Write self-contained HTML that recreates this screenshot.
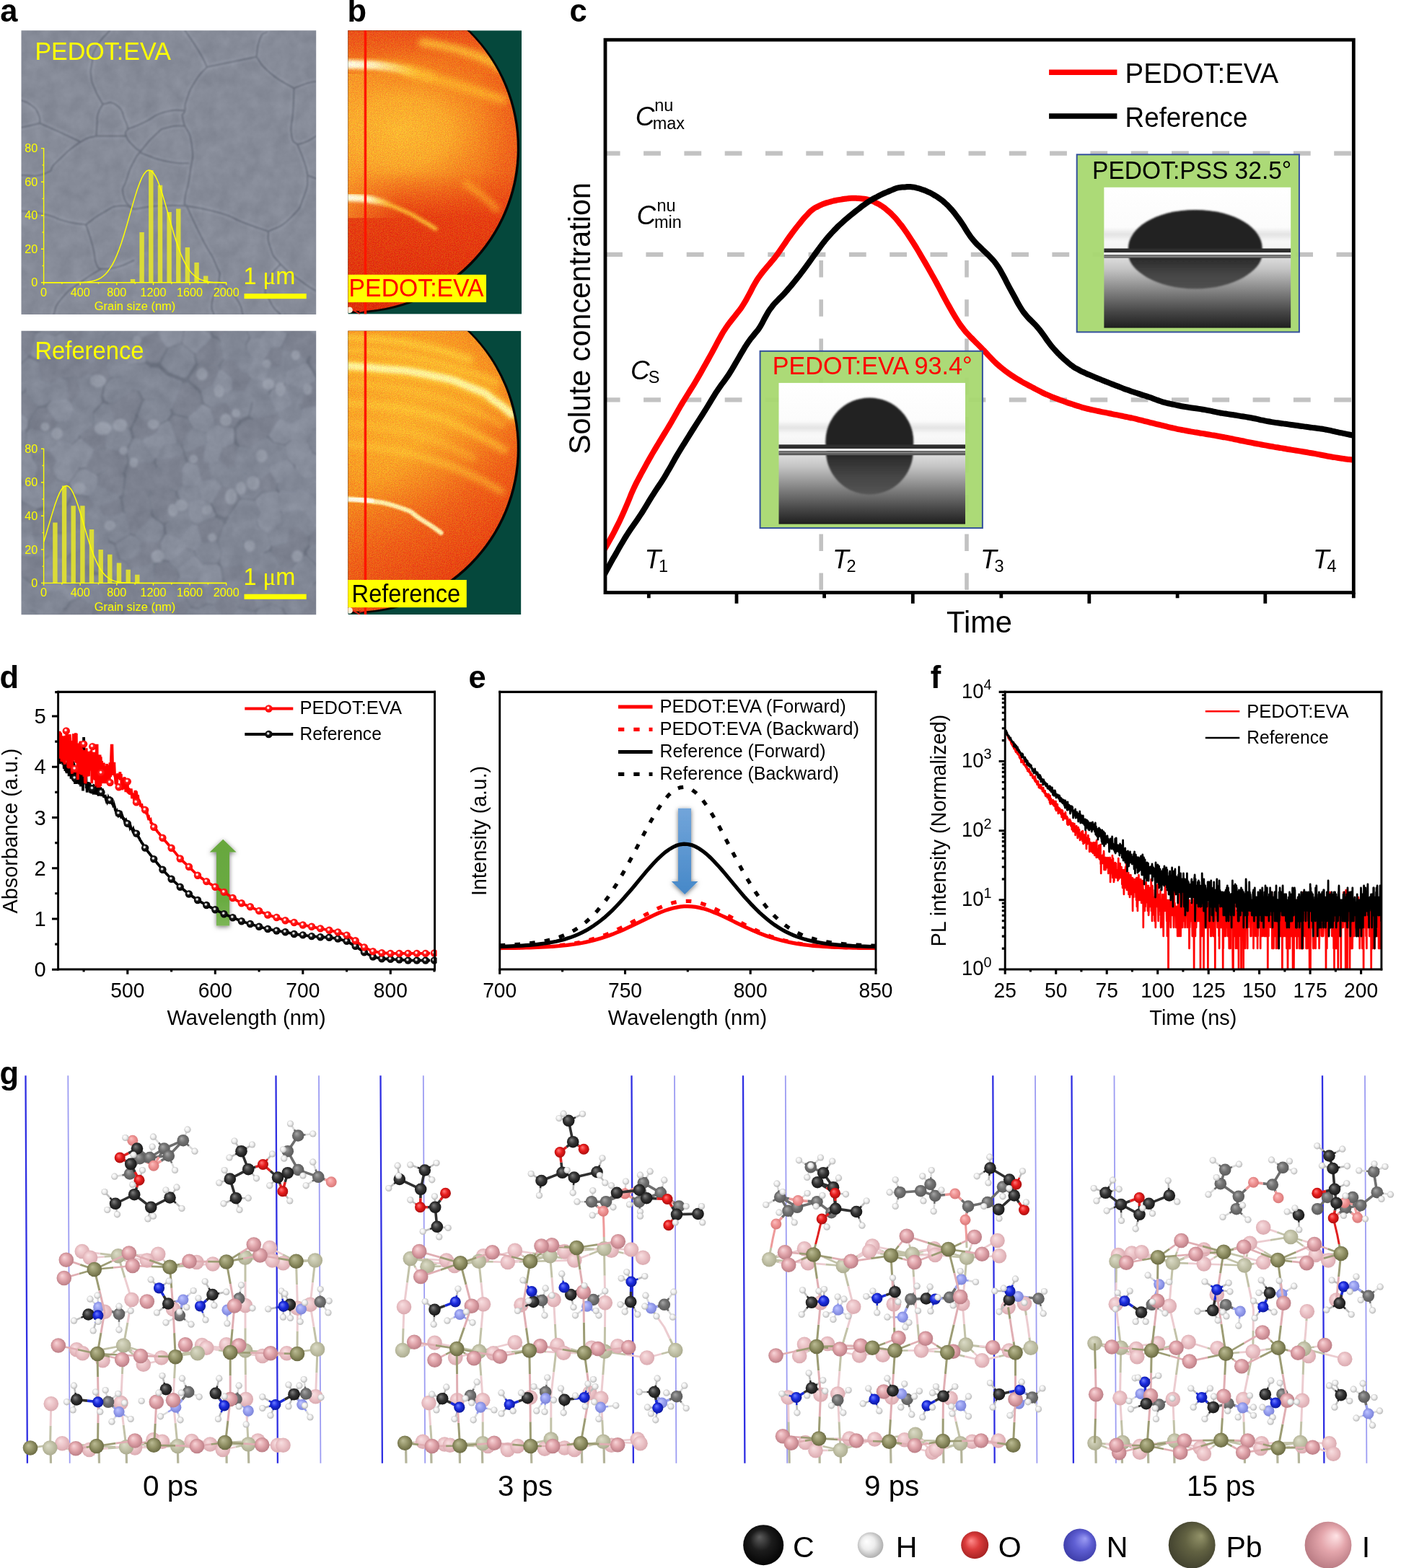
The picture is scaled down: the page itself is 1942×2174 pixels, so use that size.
<!DOCTYPE html>
<html lang="en"><head><meta charset="utf-8"><title>Figure</title>
<style>
html,body{margin:0;padding:0;background:#fff;}
svg{display:block;}
text{font-family:"Liberation Sans",sans-serif;}
</style></head>
<body>
<svg xmlns="http://www.w3.org/2000/svg" width="1942" height="2174" viewBox="0 0 1942 2174">
<rect width="1942" height="2174" fill="#fff"/>
<defs>
<filter id="blur1" x="-10%" y="-10%" width="120%" height="120%"><feGaussianBlur stdDeviation="0.8"/></filter>
<filter id="blur05" x="-5%" y="-30%" width="110%" height="160%"><feGaussianBlur stdDeviation="0.5"/></filter>
<filter id="blur3" x="-10%" y="-100%" width="120%" height="300%"><feGaussianBlur stdDeviation="3"/></filter>
<filter id="sh" x="-40%" y="-10%" width="180%" height="125%"><feDropShadow dx="0" dy="1.5" stdDeviation="3.2" flood-color="#000" flood-opacity="0.55"/></filter>
<radialGradient id="mkr" cx="0.42" cy="0.4" r="0.6"><stop offset="0" stop-color="#fff"/><stop offset="0.17" stop-color="#fff0f0"/><stop offset="0.36" stop-color="#ff2020"/><stop offset="1" stop-color="#f00"/></radialGradient>
<radialGradient id="mkb" cx="0.42" cy="0.4" r="0.6"><stop offset="0" stop-color="#fff"/><stop offset="0.17" stop-color="#e0e0e0"/><stop offset="0.38" stop-color="#181818"/><stop offset="1" stop-color="#000"/></radialGradient>
</defs>
<filter id="blur2" x="-5%" y="-5%" width="110%" height="110%"><feGaussianBlur stdDeviation="1.6"/></filter>
<filter id="semn" x="0" y="0" width="100%" height="100%" color-interpolation-filters="sRGB"><feTurbulence type="fractalNoise" baseFrequency="0.05" numOctaves="4" seed="4" result="n"/><feColorMatrix in="n" type="matrix" values="0.5 0 0 0 0.25  0.5 0 0 0 0.25  0.5 0 0 0 0.25  0 0 0 0 1" result="nc"/><feComposite in="SourceGraphic" in2="nc" operator="arithmetic" k1="0" k2="1" k3="0.16" k4="-0.08"/></filter>
<clipPath id="csa"><rect x="29.5" y="42.2" width="408.7" height="393.8"/></clipPath>
<g clip-path="url(#csa)"><g filter="url(#semn)">
<rect x="24.5" y="37.2" width="418.7" height="403.8" fill="#868b98" />
<path d="M152.3 42.1C146 50 141.7 50.4 133.4 65.7C125.1 81.1 129.9 74.8 127.5 88.2C125.1 101.5 125.1 94.5 126.3 105.9C127.5 117.3 126.7 111.4 131 122.4C135.4 133.4 135.4 131.7 139.3 139C143.2 146.2 141.7 142.4 142.9 144.2M256.3 42.1C262.6 51.5 264.9 53.5 275.2 70.4C285.4 87.4 283 85.4 287 92.9M287 92.9C300.4 90.1 304.3 89.3 327.1 84.6C350 79.9 346 80.7 355.5 78.7M355.5 78.7C357.1 70.4 355.5 65.3 360.2 53.9C364.9 42.5 366.5 47.6 369.7 44.5M355.5 78.7C361.8 86.2 357.1 86.6 374.4 101.2C391.7 115.7 396.4 115.3 407.5 122.4M407.5 122.4C413.8 120.1 416.1 118.5 426.4 115.3C436.6 112.2 434.2 113.8 438.2 113M407.5 122.4C407.1 132.7 407.5 131.9 406.3 153.1C405.1 174.4 402 170.5 403.9 186.2C405.9 202 409.4 195.7 412.2 200.4M412.2 200.4C416.9 198.8 417.7 199.6 426.4 195.7C435 191.7 434.2 190.9 438.2 188.6M412.2 200.4C415.3 208.3 416.9 209.8 421.6 224C426.4 238.2 424.8 236.6 426.4 242.9M426.4 242.9C430.3 244.5 434.2 246.1 438.2 247.6M287 92.9C281.5 99.6 279.9 97.6 270.4 113C261 128.3 263.3 125.6 258.6 139C253.9 152.3 257.8 143.7 256.3 153.1C254.7 162.6 250.7 151.6 253.9 167.3C257 183.1 262.6 176 265.7 200.4C268.9 224.8 266.5 215.3 263.3 240.5C260.2 265.7 257.8 261 256.3 276C254.7 290.9 257.8 282.3 258.6 285.4M258.6 285.4C273.6 288.6 276.7 287 303.5 294.9C330.3 302.8 316.1 300.4 339 309.1C361.8 317.7 361 316.9 372 320.9M372 320.9C382.3 314.6 386.2 318.5 402.7 302C419.3 285.4 413.8 290.9 421.6 271.3C429.5 251.6 424.8 252.4 426.4 242.9M372 320.9C372.8 328 368.9 327.2 374.4 342.1C379.9 357.1 374.4 350 388.6 365.8C402.7 381.5 400.4 376.8 416.9 389.4C433.5 402 431.1 398.8 438.2 403.6M142.9 144.2C149.2 144.8 151.5 138.3 161.8 146C172 153.8 168.5 156.3 173.6 167.3C178.7 178.3 175.9 175.2 177.1 179.1M177.1 179.1C184.6 176 182.6 177.5 199.6 169.7C216.5 161.8 209 161 227.9 155.5C246.8 150 246.8 153.9 256.3 153.1M177.1 179.1C176.3 182.3 172 180.7 174.8 188.6C177.5 196.4 178.7 195.7 185.4 202.7C192.1 209.8 191.7 207.5 194.8 209.8M194.8 209.8C201.9 202 203.5 197.2 216.1 186.2C228.7 175.2 219.2 180.7 232.6 176.8C246 172.8 248.4 175.2 256.3 174.4M194.8 209.8C197.2 211.4 189.3 209.8 201.9 214.6C214.5 219.3 212.9 220.1 232.6 224C252.3 227.9 251.5 225.6 261 226.4M194.8 209.8C191.7 214.6 191.7 211.4 185.4 224C179.1 236.6 180.7 231.9 175.9 247.6C171.2 263.4 168.1 257.1 171.2 271.3C174.4 285.4 180.7 283.9 185.4 290.2M185.4 290.2C197.2 288.6 196.4 287 220.8 285.4C245.2 283.9 246 285.4 258.6 285.4M29.5 176.8C36.5 175.2 42.1 174 50.7 172C59.4 170.1 53.9 171.2 55.4 170.9M55.4 170.9C54.7 166.5 57 166.1 53.1 157.9C49.1 149.6 51.5 152.3 43.6 146C35.8 139.7 34.2 141.3 29.5 139M55.4 170.9C63.3 174.4 61 173.2 79.1 181.5C97.2 189.8 99.5 190.9 109.8 195.7M142.9 144.2C140.5 148.7 138.5 148.6 135.8 157.9C133 167.1 135.4 161.8 134.6 172C133.8 182.3 133.8 183.1 133.4 188.6M133.4 188.6C147.2 188.6 161 188.6 174.8 188.6M133.4 188.6C125.5 191.7 127.9 186.2 109.8 198C91.7 209.8 94.8 209.8 79.1 224C63.3 238.2 79.1 234.2 62.5 240.5C46 246.8 40.5 242.1 29.5 242.9M29.5 292.5C40.5 294.1 42.1 292.5 62.5 297.3C83 302 72 302 90.9 306.7C109.8 311.4 109.8 309.9 119.2 311.4M119.2 311.4C127.1 305.9 127.1 303.6 142.9 294.9C158.6 286.2 152.3 287 166.5 285.4C180.7 283.9 179.1 288.6 185.4 290.2M119.2 311.4C122.4 321.7 124 324 128.7 342.1C133.4 360.3 129.5 355.5 133.4 365.8C137.3 376 138.1 370.5 140.5 372.9M140.5 372.9C147.6 372.1 146.8 374.4 161.8 370.5C176.7 366.6 177.5 364.2 185.4 361M140.5 372.9C131.8 378.4 132.6 376 114.5 389.4C96.4 402.8 99.5 397.5 86.2 413C72.8 428.5 78.3 428.3 74.3 435.9M258.6 285.4C265.7 300.4 266.5 303.6 279.9 330.3C293.3 357.1 290.9 346.1 298.8 365.8C306.7 385.5 305.1 372.1 303.5 389.4C301.9 406.7 296.4 402.2 294.1 417.7C291.7 433.3 295.6 429.9 296.4 435.9M303.5 389.4C311.4 397.3 316.1 397.5 327.1 413C338.2 428.5 333.4 428.3 336.6 435.9M388.6 365.8C382.3 375.2 374.4 376.8 369.7 394.1C364.9 411.4 368.1 403.8 374.4 417.7C380.7 431.7 383.8 429.9 388.6 435.9" fill="none" stroke="#9398a5" stroke-width="8" stroke-linecap="round" filter="url(#blur2)" opacity="0.6"/>
<path d="M152.3 42.1C146 50 141.7 50.4 133.4 65.7C125.1 81.1 129.9 74.8 127.5 88.2C125.1 101.5 125.1 94.5 126.3 105.9C127.5 117.3 126.7 111.4 131 122.4C135.4 133.4 135.4 131.7 139.3 139C143.2 146.2 141.7 142.4 142.9 144.2M256.3 42.1C262.6 51.5 264.9 53.5 275.2 70.4C285.4 87.4 283 85.4 287 92.9M287 92.9C300.4 90.1 304.3 89.3 327.1 84.6C350 79.9 346 80.7 355.5 78.7M355.5 78.7C357.1 70.4 355.5 65.3 360.2 53.9C364.9 42.5 366.5 47.6 369.7 44.5M355.5 78.7C361.8 86.2 357.1 86.6 374.4 101.2C391.7 115.7 396.4 115.3 407.5 122.4M407.5 122.4C413.8 120.1 416.1 118.5 426.4 115.3C436.6 112.2 434.2 113.8 438.2 113M407.5 122.4C407.1 132.7 407.5 131.9 406.3 153.1C405.1 174.4 402 170.5 403.9 186.2C405.9 202 409.4 195.7 412.2 200.4M412.2 200.4C416.9 198.8 417.7 199.6 426.4 195.7C435 191.7 434.2 190.9 438.2 188.6M412.2 200.4C415.3 208.3 416.9 209.8 421.6 224C426.4 238.2 424.8 236.6 426.4 242.9M426.4 242.9C430.3 244.5 434.2 246.1 438.2 247.6M287 92.9C281.5 99.6 279.9 97.6 270.4 113C261 128.3 263.3 125.6 258.6 139C253.9 152.3 257.8 143.7 256.3 153.1C254.7 162.6 250.7 151.6 253.9 167.3C257 183.1 262.6 176 265.7 200.4C268.9 224.8 266.5 215.3 263.3 240.5C260.2 265.7 257.8 261 256.3 276C254.7 290.9 257.8 282.3 258.6 285.4M258.6 285.4C273.6 288.6 276.7 287 303.5 294.9C330.3 302.8 316.1 300.4 339 309.1C361.8 317.7 361 316.9 372 320.9M372 320.9C382.3 314.6 386.2 318.5 402.7 302C419.3 285.4 413.8 290.9 421.6 271.3C429.5 251.6 424.8 252.4 426.4 242.9M372 320.9C372.8 328 368.9 327.2 374.4 342.1C379.9 357.1 374.4 350 388.6 365.8C402.7 381.5 400.4 376.8 416.9 389.4C433.5 402 431.1 398.8 438.2 403.6M142.9 144.2C149.2 144.8 151.5 138.3 161.8 146C172 153.8 168.5 156.3 173.6 167.3C178.7 178.3 175.9 175.2 177.1 179.1M177.1 179.1C184.6 176 182.6 177.5 199.6 169.7C216.5 161.8 209 161 227.9 155.5C246.8 150 246.8 153.9 256.3 153.1M177.1 179.1C176.3 182.3 172 180.7 174.8 188.6C177.5 196.4 178.7 195.7 185.4 202.7C192.1 209.8 191.7 207.5 194.8 209.8M194.8 209.8C201.9 202 203.5 197.2 216.1 186.2C228.7 175.2 219.2 180.7 232.6 176.8C246 172.8 248.4 175.2 256.3 174.4M194.8 209.8C197.2 211.4 189.3 209.8 201.9 214.6C214.5 219.3 212.9 220.1 232.6 224C252.3 227.9 251.5 225.6 261 226.4M194.8 209.8C191.7 214.6 191.7 211.4 185.4 224C179.1 236.6 180.7 231.9 175.9 247.6C171.2 263.4 168.1 257.1 171.2 271.3C174.4 285.4 180.7 283.9 185.4 290.2M185.4 290.2C197.2 288.6 196.4 287 220.8 285.4C245.2 283.9 246 285.4 258.6 285.4M29.5 176.8C36.5 175.2 42.1 174 50.7 172C59.4 170.1 53.9 171.2 55.4 170.9M55.4 170.9C54.7 166.5 57 166.1 53.1 157.9C49.1 149.6 51.5 152.3 43.6 146C35.8 139.7 34.2 141.3 29.5 139M55.4 170.9C63.3 174.4 61 173.2 79.1 181.5C97.2 189.8 99.5 190.9 109.8 195.7M142.9 144.2C140.5 148.7 138.5 148.6 135.8 157.9C133 167.1 135.4 161.8 134.6 172C133.8 182.3 133.8 183.1 133.4 188.6M133.4 188.6C147.2 188.6 161 188.6 174.8 188.6M133.4 188.6C125.5 191.7 127.9 186.2 109.8 198C91.7 209.8 94.8 209.8 79.1 224C63.3 238.2 79.1 234.2 62.5 240.5C46 246.8 40.5 242.1 29.5 242.9M29.5 292.5C40.5 294.1 42.1 292.5 62.5 297.3C83 302 72 302 90.9 306.7C109.8 311.4 109.8 309.9 119.2 311.4M119.2 311.4C127.1 305.9 127.1 303.6 142.9 294.9C158.6 286.2 152.3 287 166.5 285.4C180.7 283.9 179.1 288.6 185.4 290.2M119.2 311.4C122.4 321.7 124 324 128.7 342.1C133.4 360.3 129.5 355.5 133.4 365.8C137.3 376 138.1 370.5 140.5 372.9M140.5 372.9C147.6 372.1 146.8 374.4 161.8 370.5C176.7 366.6 177.5 364.2 185.4 361M140.5 372.9C131.8 378.4 132.6 376 114.5 389.4C96.4 402.8 99.5 397.5 86.2 413C72.8 428.5 78.3 428.3 74.3 435.9M258.6 285.4C265.7 300.4 266.5 303.6 279.9 330.3C293.3 357.1 290.9 346.1 298.8 365.8C306.7 385.5 305.1 372.1 303.5 389.4C301.9 406.7 296.4 402.2 294.1 417.7C291.7 433.3 295.6 429.9 296.4 435.9M303.5 389.4C311.4 397.3 316.1 397.5 327.1 413C338.2 428.5 333.4 428.3 336.6 435.9M388.6 365.8C382.3 375.2 374.4 376.8 369.7 394.1C364.9 411.4 368.1 403.8 374.4 417.7C380.7 431.7 383.8 429.9 388.6 435.9" fill="none" stroke="#646977" stroke-width="2.2" stroke-linecap="round" filter="url(#blur1)" opacity="0.8"/>
</g></g>
<text x="48.4" y="83.4" font-size="35.4" fill="#ffff00" textLength="188.5" lengthAdjust="spacingAndGlyphs">PEDOT:EVA</text>
<path d="M180.8 391.8h6.4V387.1h-6.4ZM193.4 391.8h6.4V322h-6.4ZM206.1 391.8h6.4V235.9h-6.4ZM218.8 391.8h6.4V256.8h-6.4ZM231.4 391.8h6.4V294h-6.4ZM244.1 391.8h6.4V289.4h-6.4ZM256.7 391.8h6.4V342.9h-6.4ZM269.4 391.8h6.4V363.9h-6.4ZM282 391.8h6.4V382.5h-6.4Z" fill="#e6e62a" fill-opacity="0.88"/>
<path d="M60.6 391.8 63.8 391.8 66.9 391.8 70.1 391.8 73.3 391.8 76.4 391.8 79.6 391.8 82.7 391.8 85.9 391.8 89.1 391.8 92.2 391.8 95.4 391.8 98.6 391.8 101.7 391.7 104.9 391.7 108.1 391.6 111.2 391.6 114.4 391.4 117.5 391.2 120.7 391 123.9 390.6 127 390 130.2 389.3 133.4 388.3 136.5 387 139.7 385.3 142.9 383 146 380.2 149.2 376.7 152.3 372.4 155.5 367.3 158.7 361.2 161.8 354.1 165 346.1 168.2 337.1 171.3 327.3 174.5 316.8 177.7 305.8 180.8 294.5 184 283.4 187.2 272.6 190.3 262.7 193.5 253.9 196.6 246.5 199.8 240.9 203 237.3 206.1 235.9 209.3 236.6 212.5 239.6 215.6 244.5 218.8 251.3 222 259.7 225.1 269.3 228.3 279.9 231.4 290.9 234.6 302.2 237.8 313.3 240.9 324 244.1 334.1 247.3 343.3 250.4 351.7 253.6 359 256.8 365.4 259.9 370.9 263.1 375.5 266.2 379.2 269.4 382.2 272.6 384.6 275.7 386.5 278.9 387.9 282.1 389 285.2 389.8 288.4 390.4 291.6 390.9 294.7 391.2 297.9 391.4 301 391.5 304.2 391.6 307.4 391.7 310.5 391.7 313.7 391.8" fill="none" stroke="#ffff00" stroke-width="1.5" stroke-linejoin="round"/>
<path d="M60.6 205.1V391.8M57.6 391.8H313.7M60.6 391.8h-3.6M60.6 345.2h-3.6M60.6 298.7h-3.6M60.6 252.2h-3.6M60.6 205.6h-3.6M60.6 368.5h-2M60.6 322h-2M60.6 275.4h-2M60.6 228.9h-2M60.6 391.8v3.4M111.2 391.8v3.4M161.8 391.8v3.4M212.5 391.8v3.4M263.1 391.8v3.4M313.7 391.8v3.4M85.9 391.8v2M136.5 391.8v2M187.2 391.8v2M237.8 391.8v2M288.4 391.8v2" stroke="#ffff00" stroke-width="1.4" fill="none"/>
<text x="52.2" y="397.4" font-size="16.2" text-anchor="end" fill="#ffff00">0</text>
<text x="52.2" y="350.9" font-size="16.2" text-anchor="end" fill="#ffff00">20</text>
<text x="52.2" y="304.3" font-size="16.2" text-anchor="end" fill="#ffff00">40</text>
<text x="52.2" y="257.8" font-size="16.2" text-anchor="end" fill="#ffff00">60</text>
<text x="52.2" y="211.2" font-size="16.2" text-anchor="end" fill="#ffff00">80</text>
<text x="60.6" y="410.8" font-size="16.2" text-anchor="middle" fill="#ffff00">0</text>
<text x="111.2" y="410.8" font-size="16.2" text-anchor="middle" fill="#ffff00">400</text>
<text x="161.8" y="410.8" font-size="16.2" text-anchor="middle" fill="#ffff00">800</text>
<text x="212.5" y="410.8" font-size="16.2" text-anchor="middle" fill="#ffff00">1200</text>
<text x="263.1" y="410.8" font-size="16.2" text-anchor="middle" fill="#ffff00">1600</text>
<text x="313.7" y="410.8" font-size="16.2" text-anchor="middle" fill="#ffff00">2000</text>
<text x="187" y="430.1" font-size="16.8" text-anchor="middle" fill="#ffff00" textLength="112.7" lengthAdjust="spacingAndGlyphs">Grain size (nm)</text>
<text x="337.5" y="394.1" font-size="32.5" fill="#ffff00">1 <tspan font-family="'Liberation Serif','DejaVu Serif',serif" font-size="33">μ</tspan>m</text>
<rect x="338.5" y="407.1" width="86.2" height="7.1" fill="#ffff00" />
<clipPath id="csb"><rect x="29.5" y="458.7" width="408.7" height="393.6"/></clipPath>
<g clip-path="url(#csb)"><g filter="url(#semn)">
<rect x="24.5" y="453.7" width="418.7" height="403.6" fill="#6b717f" />
<g filter="url(#blur2)" stroke-linejoin="round" stroke-width="7">
<path d="M48.3 564.4L33.6 547.6L26.5 550L21.9 567.6L38.3 579ZM82.1 522.1L74.6 501.6L72.2 500.4L56.1 503.5L59 524L68.9 529.1ZM379.3 764.2L390 779.6L403.5 781.8L417.5 767.8L417.5 765L397.9 755.1L381.1 760.3ZM334.4 614.9L347.3 618.4L366.5 605.8L348.5 585.6L346 584.5L337.6 588L331.3 596.4L331.7 611.6ZM170.5 628.8L148.4 625.1L147.6 625.7L148.3 649.5L168.5 652.5L173.6 639.5ZM101.2 796.3L95.4 794L93.7 778L99.4 772.6L99.9 772.5L122.8 784.6L125.7 793L124.8 793.5ZM216.6 800.7L217.2 786.3L217.4 785.9L225.1 780.7L233 782.9L242.6 793.1L244.1 798.5L239.9 808.2L233.8 809.8L218.2 803.8ZM276.1 811.1L261.2 828.4L267.4 837.9L274.6 839.3L284.7 834.2L282.3 815.1ZM324.7 500.7L313 501.4L308.5 508L309.9 512.1L321.4 521.8L335.1 515.2ZM47.5 708.3L29.8 699.2L-6.5 727L39.1 721.1ZM253 831.9L231.6 842.5L246 858.2L260.7 842.2L254.5 832.7ZM312.7 826.6L298.2 838.6L313 856.6L327.1 842L324.5 834.8ZM39.2 489.2L38.1 489.4L-134.1 351.9L45.7 463.1ZM313.6 712.2L328.1 690.9L324.7 683.6L307.7 676L296.8 696.5L303.2 709.7L311.1 713.8ZM199.7 607.5L214.7 600.5L218.4 589.8L193.1 581.5L186.4 595.2L189 604.4ZM53.8 649.5L49.3 665L60.8 674.1L76 664.5L70.5 652.1ZM312 561.5L294.7 566.8L300 585.6L322.1 589.5L328.3 581.1ZM381.9 574.8L353.5 581.2L371.5 601.3L372.1 601.5L385 582.1ZM331.3 832.3L333.9 839.5L350.8 843.5L351.9 843.2L354.2 840.6L349.6 819.5L342.4 816.3ZM440.8 733L432.7 743.5L432.1 754.3L601.3 737.2L464.6 726.5ZM244.2 677.5L251.5 669.5L251.6 649.4L230.9 655.2L239.2 674.6ZM207.7 717.9L188 738.2L182.9 736.9L176.6 713.1L206.1 714.6ZM259.9 628.2L262.9 636.5L272.7 639.7L281.8 636.7L284.7 616.1L284.5 615.8L259.9 626.5ZM38.1 798.8L43.4 803.3L54.5 804.4L59.3 797.8L59.9 776.8L47.3 774.3L45 775.3ZM158.9 558L186.4 571.1L193.1 554.5L188.4 545.9L180.7 543.5ZM219.4 640.5L221.3 646.3L229.7 650.9L250.4 645.1L254.2 639.7L251.2 631.3L220.5 637.5ZM-8.3 666.7L25.4 679.3L33.5 668.2L24.2 657.8ZM426.6 456.8L429.3 433L422 395.2L402.7 461.1L418.8 463.9ZM240.9 688.2L213.8 703.5L210 688.1L212.4 683.8L235.1 681.5L240.1 684.4ZM196.9 471.5L197.7 470.2L216.8 463.2L227.9 481.6L218.1 499.8L210.4 499.8L205.8 497.2ZM305.8 726.8L305.6 724.6L297.6 720.6L274.5 729.3L280.4 749.3L297.9 747.7ZM210.2 803.9L189.6 808.3L203.6 827.1L211.8 807.1ZM-10.4 672.5L23.3 685.1L26.2 694.5L-10.1 722.3L-37 734.1L-393.7 735.7L-473.6 681.2L-44.2 668.8ZM421 563.7L487.6 552.8L438.4 531.8L425 539.6L418 559.7ZM165 848.6L152.1 1056.4L126.3 883.6L134.7 844.7L144.3 839.8L152 840.1ZM107.9 833.7L100.7 837L95 845.4L118.5 881.9L126.9 843L112 833.6ZM412.6 731.9L424.7 743L424.1 753.8L420.5 759.1L400.9 749.2L402.4 733.5ZM234.6 676.5L226.3 657.1L217.9 652.6L209.6 666.5L211.9 678.9ZM58.2 711.3L71.5 737.5L67.3 741.5L47.8 741.1L47.6 740.9L45.4 725.2L53.8 712.4ZM93.2 528.8L94.3 551.5L99.9 554.7L110.9 542.5L106.3 529.3L100.9 527.1ZM144.4 601.1L130 592.8L115.7 604.7L115.3 607.1L130.1 619.6L142.4 618.8L143.3 618.2ZM461 479.8L468.7 478.7L816.3 514.8L855.8 549.5L628.5 555.1L519.2 547.4L492.6 541.1L443.4 520.1L432.5 502.1L432.5 500.2L434.2 496ZM182.3 642.8L177.2 655.8L178.4 659.2L203.9 663.1L212.2 649.2L210.4 643.4ZM114 457.6L96 447.7L89.6 461.3L105.7 477.3L111.3 473.2ZM301.4 503.2L276.7 501.8L274.9 490.6L294.3 471.4L300.3 473.9L302 476.4L305.8 496.5ZM425 492.2L423.3 496.5L396.5 484.8L394.6 481.3L401.2 468.2L401.4 468L417.6 470.8ZM397.5 459.6L397.2 459.7L379.8 448.1L370.2 417.2L377 74.7L411.8 114.9L416.9 393.7ZM164.4 685.3L166.4 682.6L168.7 662.7L167.5 659.4L147.3 656.4L138.9 661L138.8 672.5L162.9 685.1ZM70.4 593.7L75.3 585.2L63.2 567.7L54.8 568.9L44.8 583.5L44.2 591.6L62.5 596.7ZM435.8 813L426.5 825.9L430.1 833.7L440.9 839.3L461.5 806.6L451.3 805ZM30.7 797L1.4 765.4L40.7 774L33.8 797.6ZM203 689.9L175.3 689.2L173.3 691.9L175.6 706.7L176.9 707.9L206.3 709.4L206.8 705.2ZM242.4 566L255.6 533.8L259 533.2L273.4 545.7L276.7 559.1L259.7 574.4L243.7 570.4ZM242.4 690.9L244.6 694.5L233 718.9L228.4 722.1L216.5 713.6L214.9 710.3L215.4 706.2ZM103.7 520.4L107.4 497L123.9 504.7L122 517.4L109.1 522.6ZM181.2 845.3L202 842.8L205.7 845.7L205.1 1117.3L192.2 1325.7L176.9 1303.9L162.1 1057.1L175 849.2ZM237.4 429.1L257.2 453.6L271.6 449.9L303.1 12.8L240.4 -81.6L228.4 -61.6L230.5 388.4ZM236.9 585.7L241.6 579.3L257.6 583.2L263.3 594.3L251.2 612.9L245.3 609.4ZM341.3 520L337 519.3L323.4 525.9L324 538.9L338.4 541L345.2 525.7ZM323.6 644.6L326.4 621.4L323.7 618.2L308.6 624.3L304.4 637.9L315.5 647.1ZM334 785L339.2 793.3L335.8 802.9L314.6 803.7L313 802L311.1 787.8ZM316 24.8L305.7 402.8L291.3 458L276.4 450.2L307.9 13.1ZM294.3 532.3L302.3 514.6L301 510.5L276.2 509.1L265.8 525.5L280.1 538.1ZM283.8 642.8L274.7 645.9L280.3 664.6L293.3 662.6L290 644.7ZM209.2 781.7L183.9 786.8L178.2 778.5L193.3 767.4L209.5 781.3ZM115.4 719.8L98.1 703.6L97.2 701.5L103.7 690.2L120.2 692.2L126.1 701.7ZM203.1 684.4L175.4 683.7L177.8 663.8L203.2 667.6L205.5 680ZM186.7 447.4L211.9 388.4L209.8 -61.5L133.7 48.1L150.3 364.5L164.7 445ZM144 713.8L136.8 702.9L162.1 693.2L163.6 693.4L165.9 708.2L154.5 715.2ZM91.5 521.4L87.3 520.2L79.8 499.6L101.7 494.3L103 496.2L99.3 519.7ZM161.4 588.8L152.3 562.6L156.7 562.6L184.2 575.6L184.4 577.2L177.6 590.9ZM150.9 521.5L142.7 530L127.3 518.2L129.2 505.5L130.8 504.6L146.2 508.4ZM310.9 404.1L320.3 451L304.2 464.6L298.1 462.1L296.6 459.3ZM387.5 506.3L373.8 506.7L367.9 498.3L376.4 485.6L388 484.8L389.8 488.3ZM112.7 727.7L109.9 731.8L91 736.6L89 735.6L94.6 707.3L111.9 723.5ZM176.2 837.2L176.6 810.3L163.2 812.3L157 832.5L169.9 841ZM368.2 875L359.4 1251.1L281.3 1350.2L314 933.1L314.4 931.6L352.9 852.7L354.1 852.5ZM380.3 676.5L380.7 669.2L372.4 654.6L357.2 665.5L362.8 679.8ZM212.2 778.1L219.8 773L218.2 753.5L196.7 752.7L196.1 764.3ZM186.9 810.3L182.6 808.8L180.7 810.4L180.2 837.2L201 834.8L200.8 829.2ZM69.4 627.2L76 637.8L71.4 646.7L54.6 644.1L50 636.3L49.9 632.2L63.3 625.4ZM107.6 825.5L101.9 801.9L125.5 799.1L111.7 825.4ZM377.5 805.5L377.3 803.9L388.9 786.7L402.3 788.9L403.8 796.6L398.7 810.1L379.6 808.1ZM152.4 831.1L144.7 830.8L135.8 799.8L145.1 798.8L158.7 810.9ZM129 761.9L125 780.5L102 768.5L118.6 756.2ZM153.3 492.3L140.8 480.5L139.3 481.4L131.8 500.5L147.2 504.2ZM112.7 885.7L138.5 1058.5L153.3 1305.3L68.3 1205.3L66.8 867L87.2 849.3L89.2 849.1ZM63.8 708.5L63.9 708.4L90.1 704.5L91 706.6L85.4 734.9L77 734.8ZM130.5 626.6L121.4 646.8L135.2 654.3L143.6 649.7L142.8 625.9ZM413.7 857.4L445.8 859.9L438.1 844.7L427.3 839.1ZM341.9 805L345.2 795.4L357.2 793.7L369.1 804.7L369.3 806.3L352 814.2L344.8 810.9ZM457.6 474.1L431.1 461.7L423.3 468.9L430.8 490.2Z" fill="#7b818f" stroke="#7b818f"/>
<path d="M32 537L23 512.8L-54 521.2L23.8 542.1L30.9 539.7ZM143.4 718.2L134.9 729.6L149 742.3L153.9 719.7ZM319.5 547.7L316.7 557.6L333 577.2L341.5 573.7L345 557.9L337.6 546.8L323.1 544.7ZM371.2 810.7L354 818.6L358.6 839.7L373.4 834.2L373.4 813.2ZM220.2 584.3L228.9 579.9L233.6 573.4L232.3 569L213.7 557.5L201.5 557.9L194.8 574.5L194.9 576ZM72.8 599.9L81.9 612.5L71 622.2L64.9 620.3L64.9 602.9ZM329.6 645.3L339.8 652.6L340.8 652.5L353 638.7L345.3 625.7L332.4 622.2ZM76.4 597.2L81.4 588.7L93.1 587.3L106 603.4L105.6 605.7L97.5 612.8L85.6 609.9ZM372.8 450.3L363.1 419.4L346.4 458.2L349 465.4L361.9 465.8ZM211.1 721.2L191.4 741.5L196.9 747.3L218.4 748.1L224.1 739.3L223 729.7ZM374.1 738.6L390.1 725.9L397.5 733L395.9 748.7L379.1 753.9ZM342.4 756.9L344.3 759.3L364 762.6L370.3 760.1L372 756.2L367.1 740.8L357.7 734.8L341.9 749.9ZM343.2 766L362.8 769.3L356.5 788.4L344.5 790.1L339.3 781.7ZM125.5 587.3L111.1 599.2L98.2 583.2L104.8 569.9L125.9 573.8ZM396.5 843.1L407.7 827.2L420.3 828.7L424 836.6L410.3 854.9L409.6 855.2L398.7 848.3ZM164.9 487.6L171.4 473.4L158.1 461.8L147.3 468.3L144.6 476.5L157.1 488.3ZM137.4 546.4L115.7 540.8L111.1 527.6L124 522.4L139.5 534.3ZM344.6 655.9L355.4 663L370.5 652.1L370.4 648.5L366.1 643.7L356.8 642.1ZM176.7 738.5L159.7 748.8L154.2 746.4L152.9 743.1L157.8 720.6L169.2 713.5L170.5 714.7ZM140.3 832.1L130.7 837L115.9 827.6L129.6 801.3L130.5 800.7L131.5 801ZM236 486L251.2 480.4L265.4 492L267.2 503.3L256.7 519.7L253.3 520.3L236.5 513.6L226.2 504.2ZM429.8 611.7L435.8 623.6L445.9 628L626.8 579.5L517.5 571.9L435.8 598.7ZM83.4 845L63 862.6L52.3 847.2L63.8 832.2ZM376.1 841.3L388.3 846.6L390.6 851.8L373.1 871.9L359 849.4L361.2 846.8ZM341.3 468.1L337.8 474.8L309.4 471.2L307.6 468.7L323.7 455.1L338.7 460.9ZM127 568.1L105.9 564.2L103.4 557.9L114.4 545.7L136.2 551.3L137.8 556.4ZM29.3 805L-16.4 831.7L-8.2 832.8L31.6 823.8L37.7 810L32.4 805.5ZM453.3 792L463.6 793.6L848.7 758.1L862.8 746.8L601.9 742.7L432.7 759.7L429 765L429 767.8ZM379.1 813.2L398.2 815.2L402.6 823.6L391.4 839.5L379.2 834.2ZM232.8 728.5L233.9 738.1L250.4 744.9L264.9 727.5L261.9 724.8L237.4 725.3ZM308 809.4L306.4 807.6L287.3 814.5L289.6 833.6L294.8 834.4L309.2 822.4ZM190.8 764L191.5 752.4L186 746.6L180.8 745.3L163.8 755.6L168.8 771.8L175.6 775ZM303 765.1L299.9 777.6L283.4 778L275.2 769.7L273.4 763.9L280.9 754.9L298.4 753.2ZM166 518.8L176.2 505.4L165.5 493.8L157.7 494.6L151.6 506.4L156.3 519.6ZM24.9 647.2L23.1 653.8L-9.4 662.7L-43.1 659L15.6 639.5ZM272.8 848.1L265.6 846.7L250.8 862.7L221.5 1118.4L208.5 1326.7L241 1379.9L262.2 1348.7L295 931.6ZM389.7 678.4L407.5 678.6L411.5 675.7L416.3 663.8L407.4 652.8L388.6 669.6L388.2 676.9ZM293.5 842.4L308.3 860.5L300.8 928.6L300.5 930.1L278.3 846.7L288.4 841.6ZM144.1 789.5L160.5 774.4L155.5 758.1L150 755.7L134.9 763.2L130.9 781.8L133.8 790.2L134.8 790.5ZM76.8 743.2L85.2 743.4L87.2 744.3L93.7 766.6L88 772L69.8 768.6L72.7 747.2ZM36.7 535.2L27.7 511L40.3 500.2L41.4 500L49.8 504.4L52.7 524.9ZM250.3 686.2L252.5 689.9L261.3 694.7L277.5 690L274.3 673.3L256.8 674.4L249.5 682.4ZM66.6 553.1L62 558.6L53.6 559.8L38.9 543L40 540.3L56 530L65.9 535ZM444.3 841.5L465 808.8L850.1 773.3L607.1 996.9L452.1 856.7ZM197.7 614.2L211.5 634L211.5 634.4L210.5 637.4L182.4 636.9L179.3 626.2L187 611.1ZM85.5 465.4L78.1 468.7L76.1 492.7L78.4 493.9L100.3 488.5L101.6 481.4ZM387.6 511.2L373.9 511.5L368.9 525.6L376.6 535.8L389.9 531.9L391.9 529.6L393.1 517.4ZM432.1 805.7L410.7 795.3L409.3 787.6L423.3 773.6L447.5 797.8ZM417.5 678.1L434.7 689.1L446.7 675.9L436.9 665.6L422.3 666.2ZM332.2 846.9L349.1 850.8L310.5 929.7L318 861.5ZM357.9 635.8L367.2 637.4L375.6 615.7L370 610.3L369.4 610.2L350.2 622.8ZM334.5 757.5L310 762.5L305.4 750.5L313.3 729.7L334 750.5ZM45.9 851.6L41.9 850.9L30.2 855.2L31.7 1177.5L58.1 1205.4L56.6 867.1ZM116.2 453.5L98.3 443.5L94.3 380.8L116.5 52.9L119.7 48.8L136.3 365.3L125 449.8ZM171.2 522.6L182.9 536.3L190.6 538.6L204.5 510L199.9 507.4L181.3 509.3ZM22.1 504.6L34.7 493.7L-137.6 356.2L-157.8 342.3L-329.9 495.9L-54.9 512.9ZM79.3 669.7L91.2 673.8L95.5 685.5L89 696.8L62.7 700.7L64.2 679.4ZM82.2 457.7L74.7 461L58.8 456.5L84.6 381.4L88.6 444.2ZM413.4 861.5L445.5 863.9L600.5 1004.1L424.6 1193.6L412.6 861.8ZM-32.1 584.5L17.4 566.4L22 548.9L-55.8 527.9L-330.8 510.9L-420.1 579L-35.7 584.9ZM442.7 660.2L448.4 637.5L629.3 589.1L856.6 583.4L968.1 655.1L867.7 719.2L452.4 670.5ZM258.5 623.2L283.1 612.5L281.6 602.3L267.8 597.2L255.7 615.8ZM408.5 820.5L421.1 822L430.4 809.1L409.1 798.6L404 812.1ZM196.5 541.5L201.2 550.2L213.4 549.8L228.4 522.3L218.2 512.9L210.4 512.9ZM314.8 808.8L336 808L339 813.9L327.8 830L316 821.8ZM131.5 733.4L119.6 732.3L116.8 736.4L121.4 751.1L131.8 756.8L146.9 749.3L145.6 746.1ZM31 617L32.1 600L-30.7 595.8L-34.3 596.3L21.6 620.2ZM335.5 762.1L337.3 764.6L333.5 780.3L310.5 783.1L307.8 779.5L310.9 767.1ZM439.3 693.3L438.3 699.2L465.4 716.4L602.1 727.2L863 731.3L866.6 728.8L451.3 680.1ZM373.5 768.2L384.2 783.6L372.7 800.8L360.9 789.8L367.2 770.7ZM179.3 607.2L176.7 598L160.5 595.9L150.6 601.5L149.5 618.6L171.6 622.3ZM265.7 766.4L255.7 762.5L238.3 777.9L247.9 788.1L267.6 772.1ZM93.8 832.3L83.9 819L66.1 821L66.5 828.1L86 840.9L88 840.6ZM60.8 602.9L42.5 597.8L40.1 600.5L39 617.5L47.3 627.1L60.8 620.3ZM32.5 827.6L39.5 844.4L27.9 848.7L-7.4 836.6ZM325.6 651L335.8 658.3L327.3 678L310.2 670.4L309.2 668.1L317.4 653.5ZM357.4 417L364.3 74.5L326.7 25.1L316.4 403.1L325.7 449.9L340.7 455.7ZM217.2 551.8L232.2 524.4L249 531.1L235.8 563.3ZM355.9 710.7L352.7 720.3L320.4 716.8L334.9 695.5L350.7 696.9ZM396.3 537.5L405.3 556L413.6 558.1L420.6 538.1L398.2 535.3ZM438.5 431.3L431.3 393.4L426.2 114.7L817.6 502.4L470 466.2ZM53.6 813.2L58.6 821.4L59 828.5L47.5 843.5L43.5 842.7L36.5 826L42.5 812.1ZM273.3 808.7L258.4 826L256.9 825.1L247 811.3L251.3 801.7L270.9 803.5ZM415.7 728.5L427.8 739.7L435.9 729.2L423.8 712.6L421.7 712.8ZM118.3 458.3L115.6 473.9L135.6 474.9L137 474L139.8 465.8L127 454.6ZM394.3 855.1L405.2 862.1L417.2 1193.9L368 1251.3L376.9 875.2ZM126.2 499.7L127.8 498.9L135.3 479.8L115.4 478.9L109.8 482.9L108.5 490L109.7 492ZM338.3 746.2L354.1 731L352.2 725.1L319.8 721.5L317.4 723.2L317.6 725.4ZM241.7 815.1L235.6 816.7L225.1 837.7L230.1 839.5L251.6 828.9ZM342.3 513.9L338 513.1L327.7 498.6L340.5 488.1L349.6 499.1ZM116.1 752.8L111.5 738L92.5 742.8L99 765L99.5 765ZM47.7 746.1L48.8 767L61.4 769.6L64.4 767.8L67.2 746.5ZM393.7 712.4L394.3 721.5L401.7 728.7L411.8 727L417.9 711.4L412.4 708.6ZM219.8 633.5L227.5 617.8L241.9 615.3L247.8 618.7L250.6 626.1L250.5 627.8L219.8 634ZM324.4 494.6L312.7 495.3L308.9 475.1L337.3 478.7L337.2 484.1ZM20 624L-36 600.1L-420.3 594.1L-502.9 649.4L-474 667L-44.6 654.5L14.1 635ZM388.4 571.5L388.3 572.1L391.4 579.4L402.8 584.7L413.6 578.8L415 568.2L412 564.2L403.7 562ZM-32.8 743.7L-5.9 731.9L39.7 726L41.9 741.6L-3.3 752.5ZM-286.4 863.3L27.1 1177.6L25.6 855.2L-9.6 843.1L-17.8 842ZM189.3 467L190 465.7L186.3 451L164.3 448.5L162.1 457.2L175.4 468.9ZM349.9 527.8L343.2 543.1L350.6 554.2L369.1 544.5L371 540L363.3 529.9ZM312.5 650.7L304.3 665.3L296.5 662L293.3 644.1L301.4 641.5ZM421.5 500.6L394.7 488.9L392.4 506.9L397.9 513.1L421.6 502.5ZM248.8 696.6L257.7 701.4L261.8 720.4L237.3 720.9ZM160.6 689.5L136.5 676.8L126.3 688.5L132.1 698L135.4 699.1ZM152.2 554.7L156.6 554.6L178.4 540.1L166.7 526.5L156.9 527.3L148.7 535.8L146.7 547.9L148.3 553ZM177.8 791L177.7 803.1L175.8 804.7L162.4 806.7L148.9 794.6L165.2 779.5L172.1 782.7ZM350 575.6L352.5 576.7L380.9 570.3L381 569.8L372.1 550.1L353.5 559.9ZM140.5 716.1L133.3 705.2L130.1 704.1L119.4 722.1L120.1 726.3L132.1 727.4ZM313 545.9L296.5 537.8L282.3 543.5L285.6 556.8L293 561L310.2 555.7ZM209.5 800.4L210.1 786L184.8 791.1L184.6 803.2L188.9 804.8ZM147.4 595.9L133.1 587.6L133.5 574.1L144.3 562.4L148.2 564.1L157.3 590.3ZM89.3 529L85.1 527.8L71.9 534.8L72.7 552.9L90.4 551.7ZM130.6 450.5L142 366L156.4 446.5L154.2 455.2L143.3 461.7ZM375.6 643.9L395.9 636.5L392.3 620.4L379.7 617.3L371.3 639ZM351.5 688.8L335.6 687.4L332.2 680.2L340.8 660.4L341.7 660.3L352.5 667.4L358 681.6ZM216.3 808.9L231.9 814.9L221.4 835.8L212 837.4L208.2 834.5L208 829Z" fill="#818795" stroke="#818795"/>
<path d="M288.2 464L289.7 466.8L270.4 486L256.1 474.3L258.9 460L273.3 456.3ZM90.8 557.5L73.1 558.7L68.4 564.2L80.5 581.6L92.2 580.2L98.8 566.9L96.4 560.7ZM392.2 539.5L401.2 558L385.9 567.5L377 547.9L378.9 543.4ZM306 618L290.4 611.7L290.2 611.5L288.7 601.3L298.7 592.7L320.8 596.6L321.2 611.9ZM362.7 708.2L385.4 707.1L383.2 685.4L381.7 683.9L364.1 687.1L357.5 694.4ZM400.4 607.7L394.2 612.5L381.6 609.5L376.1 604.1L388.9 584.7L400.3 590ZM423.8 507.4L434.6 525.4L421.2 533.2L398.9 530.3L400.1 518ZM270.3 647.2L260.5 644L256.7 649.5L256.5 669.6L274 668.4L275.8 665.9ZM362.9 713L359.8 722.6L361.7 728.6L371.1 734.7L387 722L386.4 712.9L385.6 712ZM459.6 469.9L467.2 468.8L435.8 433.8L433.1 457.5ZM433.4 591.4L515.1 564.6L488.5 558.2L421.9 569.1L420.5 579.7ZM41.4 636.4L27 644.7L17.7 636.9L23.6 625.9L33 622.7L41.3 632.3ZM268.3 759.7L258.4 755.8L253.6 747.6L268.1 730.2L270 730.6L275.8 750.7ZM131.6 661L131.4 672.4L121.2 684.1L104.7 682.1L100.4 670.4L111.9 654.2L117.8 653.5ZM-30.3 589.5L19.3 571.4L35.6 582.8L35 591L32.5 593.6ZM54.2 454.9L80 379.8L102.2 51.9L-150.1 331L-129.8 344.9L50.1 456.1ZM281.4 564.3L264.5 579.6L270.2 590.7L284 595.8L294 587.2L288.8 568.4ZM222.7 844.1L213.4 845.7L212.8 1117.4L242.1 861.7L227.8 846ZM220.3 602.4L223.9 591.7L232.6 587.2L241.1 610.9L226.8 613.4ZM302.8 788.9L304.8 803.1L285.6 810L279.3 806L277 800.7L283.6 785.8L300.2 785.4ZM222.1 460L231.3 434L251.1 458.5L248.4 472.9L233.2 478.4ZM103 619.1L111.1 612L125.9 624.5L116.8 644.8L110.9 645.4L101 632.6ZM371.9 482.6L363.4 495.4L354.3 495.3L345.2 484.2L345.2 478.7L348.8 472.1L361.7 472.5ZM389.7 684.7L407.5 684.9L411.4 703.6L392.7 707.4L391.9 706.4ZM84.3 615.2L96.2 618.1L94.2 631.6L79.9 635.4L73.3 624.8ZM54.5 495.4L70.7 492.3L72.7 468.2L56.7 463.7L52.7 464.9L46.1 490.9ZM269.9 775L250.2 791L251.8 796.4L271.4 798.2L278 783.3ZM423.4 608.7L405.7 607.7L405.7 590L416.5 584L429.4 595.8ZM88.4 794.7L86.7 778.7L68.6 775.3L65.6 777L64.9 798L87.8 795.2ZM346.9 516.2L354.3 501.4L363.4 501.5L369.3 509.9L364.3 524L350.8 521.9ZM201.5 611.6L216.6 604.5L223.1 615.6L215.3 631.3ZM195.5 464.4L191.8 449.6L217 390.6L223.8 431.4L214.6 457.4ZM421.9 659.3L413 648.2L412.6 645.5L432.3 631.6L442.3 636L436.6 658.6ZM427.1 710.2L439.1 726.9L462.9 720.3L435.8 703.1ZM225.8 752.9L227.4 772.3L235.3 774.5L252.7 759.1L248 750.9L231.5 744ZM271.9 722.4L295 713.7L288.7 700.5L279.1 695.6L262.9 700.2L267 719.2L270 722ZM314.8 542.2L298.3 534.1L306.3 516.4L317.8 526.1L318.4 539.1ZM385.7 666.3L377.4 651.8L377.2 648.3L397.5 640.9L404.1 646.8L404.5 649.5ZM169.8 489.8L176.3 475.7L190.2 473.8L199.1 499.5L180.5 501.4ZM299.8 636.5L291.7 639L285.5 637.2L288.4 616.6L304.1 622.9ZM26.8 800.6L-19 827.4L-287.5 848.7L-393.6 759.1L-36.9 757.5L-7.4 766.3L-2.5 769ZM415.4 702.7L420.8 705.5L423 705.2L431.7 698.1L432.7 692.2L415.5 681.2L411.5 684.1ZM423.1 615.1L429 627L409.3 640.9L402.7 635L399.1 618.8L405.3 614ZM43.5 640.1L48.2 647.9L43.7 663.3L36.6 665.3L27.3 655L29.1 648.4ZM387.5 477.8L375.9 478.6L365.6 468.5L376.6 453L394 464.6ZM104.5 826.3L98.8 802.6L92.9 800.3L92.3 800.9L87.4 816.3L97.3 829.6ZM88.3 799.6L65.5 802.4L60.7 808.9L65.6 817.1L83.4 815.1ZM2.6 759.6L-2.3 756.9L42.9 746.1L43.2 746.3L44.3 767.2L42 768.2ZM45.5 669.8L57 678.9L55.6 700.2L55.5 700.3L51 701.4L33.3 692.3L30.4 682.9L38.4 671.7ZM292 693.9L302.8 673.5L301.8 671.1L294.1 667.9L281.1 669.8L279.2 672.3L282.5 689.1ZM95.6 636.8L105.5 649.6L93.9 665.9L82.1 661.8L76.7 649.4L81.3 640.6Z" fill="#888e9c" stroke="#888e9c"/>
</g>
<g fill="#979daa" filter="url(#blur2)" opacity="0.85"><ellipse cx="135.8" cy="528" rx="11" ry="9"/><ellipse cx="166.5" cy="589.4" rx="10" ry="9"/><ellipse cx="142.9" cy="594.1" rx="12" ry="9"/><ellipse cx="212.6" cy="588.2" rx="8" ry="7"/><ellipse cx="279.9" cy="518.5" rx="8" ry="9"/><ellipse cx="303.5" cy="542.1" rx="7" ry="9"/><ellipse cx="372" cy="532.7" rx="8" ry="8"/><ellipse cx="388.6" cy="539.8" rx="7" ry="10"/><ellipse cx="313" cy="582.3" rx="8" ry="9"/><ellipse cx="362.6" cy="631.9" rx="8" ry="9"/><ellipse cx="350.8" cy="669.7" rx="9" ry="10"/><ellipse cx="334.2" cy="676.8" rx="7" ry="9"/><ellipse cx="320.1" cy="688.6" rx="8" ry="11"/><ellipse cx="239.7" cy="707.5" rx="7" ry="9"/><ellipse cx="251.5" cy="700.4" rx="9" ry="8"/><ellipse cx="412.2" cy="771.3" rx="8" ry="8"/><ellipse cx="218.5" cy="771.3" rx="9" ry="9"/><ellipse cx="190.1" cy="471.3" rx="6" ry="6"/><ellipse cx="369.7" cy="504.3" rx="6" ry="6"/><ellipse cx="287" cy="707.5" rx="7" ry="7"/><ellipse cx="79.1" cy="601.2" rx="8" ry="8"/><ellipse cx="62.5" cy="591.8" rx="6" ry="6"/><ellipse cx="185.4" cy="641.4" rx="6" ry="7"/><ellipse cx="171.2" cy="624.8" rx="6" ry="6"/><ellipse cx="268.1" cy="636.6" rx="6" ry="6"/><ellipse cx="327.1" cy="572.9" rx="6" ry="6"/><ellipse cx="426.4" cy="539.8" rx="6" ry="8"/><ellipse cx="409.8" cy="492.5" rx="6" ry="7"/><ellipse cx="109.8" cy="676.8" rx="9" ry="8"/><ellipse cx="152.3" cy="728.8" rx="8" ry="7"/><ellipse cx="294.1" cy="745.3" rx="6" ry="6"/><ellipse cx="346" cy="757.1" rx="8" ry="8"/></g>
</g></g>
<text x="48.4" y="498.4" font-size="35.4" fill="#ffff00" textLength="151.2" lengthAdjust="spacingAndGlyphs">Reference</text>
<path d="M73.2 808.4h6.4V724.6h-6.4ZM85.9 808.4h6.4V673.4h-6.4ZM98.5 808.4h6.4V701.3h-6.4ZM111.2 808.4h6.4V701.3h-6.4ZM123.8 808.4h6.4V733.9h-6.4ZM136.5 808.4h6.4V761.9h-6.4ZM149.1 808.4h6.4V768.8h-6.4ZM161.8 808.4h6.4V780.5h-6.4ZM174.5 808.4h6.4V789.8h-6.4ZM187.1 808.4h6.4V796.8h-6.4Z" fill="#e6e62a" fill-opacity="0.88"/>
<path d="M60.6 751.3 63.8 741.1 66.9 730.4 70.1 719.6 73.3 709.1 76.4 699.2 79.6 690.4 82.7 683.1 85.9 677.7 89.1 674.4 92.2 673.4 95.4 674.8 98.6 678.4 101.7 684.2 104.9 691.7 108.1 700.7 111.2 710.7 114.4 721.3 117.5 732.1 120.7 742.8 123.9 752.9 127 762.3 130.2 770.7 133.4 778.2 136.5 784.6 139.7 789.9 142.9 794.3 146 797.9 149.2 800.7 152.3 802.8 155.5 804.4 158.7 805.6 161.8 806.5 165 807.1 168.2 807.6 171.3 807.8 174.5 808 177.7 808.2 180.8 808.3 184 808.3 187.2 808.4 190.3 808.4 193.5 808.4 196.6 808.4 199.8 808.4 203 808.4 206.1 808.4 209.3 808.4 212.5 808.4 215.6 808.4 218.8 808.4 222 808.4 225.1 808.4 228.3 808.4 231.4 808.4 234.6 808.4 237.8 808.4 240.9 808.4 244.1 808.4 247.3 808.4 250.4 808.4 253.6 808.4 256.8 808.4 259.9 808.4 263.1 808.4 266.2 808.4 269.4 808.4 272.6 808.4 275.7 808.4 278.9 808.4 282.1 808.4 285.2 808.4 288.4 808.4 291.6 808.4 294.7 808.4 297.9 808.4 301 808.4 304.2 808.4 307.4 808.4 310.5 808.4 313.7 808.4" fill="none" stroke="#ffff00" stroke-width="1.5" stroke-linejoin="round"/>
<path d="M60.6 621.7V808.4M57.6 808.4H313.7M60.6 808.4h-3.6M60.6 761.9h-3.6M60.6 715.3h-3.6M60.6 668.8h-3.6M60.6 622.2h-3.6M60.6 785.1h-2M60.6 738.6h-2M60.6 692h-2M60.6 645.5h-2M60.6 808.4v3.4M111.2 808.4v3.4M161.8 808.4v3.4M212.5 808.4v3.4M263.1 808.4v3.4M313.7 808.4v3.4M85.9 808.4v2M136.5 808.4v2M187.2 808.4v2M237.8 808.4v2M288.4 808.4v2" stroke="#ffff00" stroke-width="1.4" fill="none"/>
<text x="52.2" y="814" font-size="16.2" text-anchor="end" fill="#ffff00">0</text>
<text x="52.2" y="767.5" font-size="16.2" text-anchor="end" fill="#ffff00">20</text>
<text x="52.2" y="720.9" font-size="16.2" text-anchor="end" fill="#ffff00">40</text>
<text x="52.2" y="674.4" font-size="16.2" text-anchor="end" fill="#ffff00">60</text>
<text x="52.2" y="627.8" font-size="16.2" text-anchor="end" fill="#ffff00">80</text>
<text x="60.6" y="827.4" font-size="16.2" text-anchor="middle" fill="#ffff00">0</text>
<text x="111.2" y="827.4" font-size="16.2" text-anchor="middle" fill="#ffff00">400</text>
<text x="161.8" y="827.4" font-size="16.2" text-anchor="middle" fill="#ffff00">800</text>
<text x="212.5" y="827.4" font-size="16.2" text-anchor="middle" fill="#ffff00">1200</text>
<text x="263.1" y="827.4" font-size="16.2" text-anchor="middle" fill="#ffff00">1600</text>
<text x="313.7" y="827.4" font-size="16.2" text-anchor="middle" fill="#ffff00">2000</text>
<text x="187" y="846.7" font-size="16.8" text-anchor="middle" fill="#ffff00" textLength="112.7" lengthAdjust="spacingAndGlyphs">Grain size (nm)</text>
<text x="337.5" y="810.7" font-size="32.5" fill="#ffff00">1 <tspan font-family="'Liberation Serif','DejaVu Serif',serif" font-size="33">μ</tspan>m</text>
<rect x="338.5" y="823.7" width="86.2" height="7.1" fill="#ffff00" />
<text x="0.3" y="30.4" font-size="43.5" font-weight="bold">a</text>
<filter id="gbl1" x="-20%" y="-50%" width="140%" height="200%"><feGaussianBlur stdDeviation="2.2"/></filter>
<filter id="gbl2" x="-20%" y="-50%" width="140%" height="200%"><feGaussianBlur stdDeviation="4"/></filter>
<filter id="gbl3" x="-20%" y="-50%" width="140%" height="200%"><feGaussianBlur stdDeviation="1.2"/></filter>
<filter id="gnz" x="0" y="0" width="100%" height="100%" color-interpolation-filters="sRGB"><feTurbulence type="fractalNoise" baseFrequency="0.8" numOctaves="2" seed="7" result="n"/><feColorMatrix in="n" type="matrix" values="1 0 0 0 0  0 3 0 0 -1  0 0 1 0 0  0 0 0 0 1" result="nc"/><feComposite in="SourceGraphic" in2="nc" operator="arithmetic" k1="0" k2="1" k3="0.17" k4="-0.085"/></filter>
<linearGradient id="fx0" x1="482" y1="0" x2="585" y2="0" gradientUnits="userSpaceOnUse"><stop offset="0" stop-color="#fffbe6"/><stop offset="0.35" stop-color="#fff3c0" stop-opacity="0.95"/><stop offset="0.7" stop-color="#ffe070" stop-opacity="0.7"/><stop offset="1" stop-color="#ffd040" stop-opacity="0"/></linearGradient>
<linearGradient id="fx1" x1="482" y1="0" x2="545" y2="0" gradientUnits="userSpaceOnUse"><stop offset="0" stop-color="#fffbe6"/><stop offset="0.5" stop-color="#fff3c0" stop-opacity="0.95"/><stop offset="1" stop-color="#ffd040" stop-opacity="0"/></linearGradient>
<clipPath id="cg0"><rect x="482.4" y="42.2" width="240.6" height="393.4"/></clipPath>
<clipPath id="cg0d"><circle cx="490.7" cy="205.2" r="226.1"/></clipPath>
<g clip-path="url(#cg0)">
<rect x="482.4" y="42.2" width="240.6" height="393.4" fill="#05483c" />
<circle cx="491.9" cy="205.7" r="228.3" fill="#050505"/>
<g clip-path="url(#cg0d)">
<g filter="url(#gnz)">
<rect x="477.4" y="37.2" width="250.6" height="403.4" fill="#ef6a1a" />
<radialGradient id="gb0" cx="555" cy="182.2" r="150" gradientUnits="userSpaceOnUse" gradientTransform="translate(555 182.2) scale(1.3 0.9) translate(-555 -182.2)"><stop offset="0" stop-color="#fcb832"/><stop offset="0.35" stop-color="#faaa2c" stop-opacity="0.95"/><stop offset="0.7" stop-color="#f68a22" stop-opacity="0.55"/><stop offset="1" stop-color="#f1701b" stop-opacity="0"/></radialGradient>
<rect x="482.4" y="42.2" width="240.6" height="393.4" fill="url(#gb0)" />
<linearGradient id="gl0" x1="0" y1="0" x2="0" y2="1"><stop offset="0" stop-color="#e8401a" stop-opacity="0.6"/><stop offset="0.1" stop-color="#e8401a" stop-opacity="0"/><stop offset="0.5" stop-color="#e5330f" stop-opacity="0"/><stop offset="0.66" stop-color="#e2300e" stop-opacity="0.72"/><stop offset="1" stop-color="#dc280a" stop-opacity="0.9"/></linearGradient>
<rect x="482.4" y="42.2" width="240.6" height="393.4" fill="url(#gl0)" />
<linearGradient id="gr0" x1="0" y1="0" x2="1" y2="0"><stop offset="0" stop-color="#fbae30" stop-opacity="0.55"/><stop offset="0.12" stop-color="#fbae30" stop-opacity="0.3"/><stop offset="0.3" stop-color="#fbae30" stop-opacity="0"/><stop offset="0.75" stop-color="#e8401a" stop-opacity="0"/><stop offset="1" stop-color="#e8401a" stop-opacity="0.35"/></linearGradient>
<rect x="482.4" y="102.2" width="240.6" height="200" fill="url(#gr0)" />
<path d="M562.7 97.6C576.5 101.5 576.5 101.3 604 109.4C631.4 117.4 614.3 112.1 645.2 121.7C676.1 131.3 679.5 132.7 696.7 138.2" fill="none" stroke="#ffc02e" stroke-width="13" opacity="0.65" stroke-linecap="round" filter="url(#gbl2)"/>
<path d="M474.1 89.4C483.1 89.5 481.7 88.9 500.9 89.8C520.2 90.6 511.2 89.2 531.8 91.8C552.4 94.4 542.1 92.7 562.7 97.6C583.4 102.5 583.4 103.6 593.7 106.7" fill="none" stroke="#ffd23a" stroke-width="18" opacity="0.3" stroke-linecap="round" filter="url(#gbl2)"/>
<path d="M474.1 89.4C483.1 89.5 481.7 88.9 500.9 89.8C520.2 90.6 511.2 89.2 531.8 91.8C552.4 94.4 542.1 92.7 562.7 97.6C583.4 102.5 583.4 103.6 593.7 106.7" fill="none" stroke="url(#fx0)" stroke-width="11.5" opacity="1" stroke-linecap="round" filter="url(#gbl1)"/>
<path d="M585.4 58.9C595 60.6 594.3 59.5 614.3 64C634.2 68.5 624.6 65.6 645.2 72.3C665.8 78.9 659.6 76.8 676.1 84C692.6 91.2 688.5 90.6 694.7 93.9" fill="none" stroke="#ffd23a" stroke-width="11" opacity="0.75" stroke-linecap="round" filter="url(#gbl2)"/>
<path d="M474.1 273.8C486.5 274.6 485.1 271.1 511.2 276.3C537.3 281.4 527.7 279.3 552.4 289.3C577.2 299.2 568.2 296.8 585.4 306.2C602.6 315.6 597.8 313.7 604 317.5" fill="none" stroke="#ffd23a" stroke-width="5" opacity="0.9" stroke-linecap="round" filter="url(#gbl1)"/>
<path d="M474.1 273.8C481 274 481 273.4 494.7 274.4C508.5 275.5 500.9 274.2 515.3 276.9C529.8 279.7 530.5 280.8 538 282.7" fill="none" stroke="url(#fx1)" stroke-width="10" opacity="1" stroke-linecap="round" filter="url(#gbl1)"/>
<path d="M645.2 254.7C652.7 260.2 653.4 259.5 667.9 271.1C682.3 282.8 681.6 283.5 688.5 289.7" fill="none" stroke="#ffc02e" stroke-width="8" opacity="0.65" stroke-linecap="round" filter="url(#gbl2)"/>
<path d="M482.4 133.1C482.4 153.7 482.4 157.1 482.4 194.9C482.4 232.7 482.4 229.2 482.4 246.4" fill="none" stroke="#fcb62e" stroke-width="40" opacity="0.6" stroke-linecap="round" filter="url(#gbl2)"/>
</g>
</g>
<rect x="504.7" y="42.2" width="3.5" height="393.4" fill="#ff1500" />
<circle cx="484.6" cy="429.8" r="4.3" fill="#f4f0dc"/>
<path d="M489 429.6L499 435.6M498 432.1L504.5 430.6" stroke="#e8241a" stroke-width="1.6" fill="none"/>
<rect x="482.4" y="380.8" width="191.6" height="38.3" fill="#ffff00" />
<text x="483.6" y="410.9" font-size="35.9" fill="#ff0000" textLength="187" lengthAdjust="spacingAndGlyphs">PEDOT:EVA</text>
</g>
<clipPath id="cg1"><rect x="482.4" y="458.7" width="240" height="393.5"/></clipPath>
<clipPath id="cg1d"><circle cx="490.7" cy="621.7" r="226.1"/></clipPath>
<g clip-path="url(#cg1)">
<rect x="482.4" y="458.7" width="240" height="393.5" fill="#05483c" />
<circle cx="491.9" cy="622.2" r="228.3" fill="#050505"/>
<g clip-path="url(#cg1d)">
<g filter="url(#gnz)">
<rect x="477.4" y="453.7" width="250" height="403.5" fill="#f27c1c" />
<radialGradient id="gb1" cx="560" cy="568.7" r="230" gradientUnits="userSpaceOnUse"><stop offset="0" stop-color="#fbb02c"/><stop offset="0.45" stop-color="#f9a226" stop-opacity="0.9"/><stop offset="0.8" stop-color="#f58a20" stop-opacity="0.45"/><stop offset="1" stop-color="#f27c1c" stop-opacity="0"/></radialGradient>
<rect x="482.4" y="458.7" width="240" height="393.5" fill="url(#gb1)" />
<linearGradient id="gl1" x1="0.1" y1="0" x2="0.55" y2="1"><stop offset="0.45" stop-color="#ea4a16" stop-opacity="0"/><stop offset="0.7" stop-color="#ea4614" stop-opacity="0.6"/><stop offset="1" stop-color="#e2320e" stop-opacity="0.9"/></linearGradient>
<rect x="482.4" y="458.7" width="240" height="393.5" fill="url(#gl1)" />
<path d="M474.1 468.3C493.4 469.5 492 467.2 531.8 471.8C571.7 476.4 553.8 473 593.7 482.1C633.5 491.2 632.1 493.4 651.4 499" fill="none" stroke="#ffd23a" stroke-width="9" opacity="0.85" stroke-linecap="round" filter="url(#gbl2)"/>
<path d="M474.1 484.8C493.4 486.1 492 483.5 531.8 488.7C571.7 493.8 552.8 490.8 593.7 500.2C634.5 509.7 622.9 506.7 654.5 517.1C686.1 527.6 677.1 526.8 688.5 531.6" fill="none" stroke="#ffd23a" stroke-width="7" opacity="0.8" stroke-linecap="round" filter="url(#gbl2)"/>
<path d="M474.1 507.2C489.9 508.3 482 506.4 521.5 510.5C561.1 514.7 548.5 510.5 592.8 519.6C637.2 528.7 623.3 525.7 654.5 538C685.7 550.2 668 544 686.4 556.3C704.8 568.6 701.9 568.7 709.7 574.8" fill="none" stroke="#ffd23a" stroke-width="20" opacity="0.6" stroke-linecap="round" filter="url(#gbl2)"/>
<path d="M474.1 507.2C489.9 508.3 482 506.4 521.5 510.5C561.1 514.7 548.5 510.5 592.8 519.6C637.2 528.7 623.3 525.7 654.5 538C685.7 550.2 668 544 686.4 556.3C704.8 568.6 701.9 568.7 709.7 574.8" fill="none" stroke="#fff4a0" stroke-width="10" opacity="0.95" stroke-linecap="round" filter="url(#gbl1)"/>
<path d="M474.1 531.6C493.4 532.9 492 530.2 531.8 535.7C571.7 541.2 552.4 537.1 593.7 548.1C634.9 559 621.1 554.9 655.5 568.7C689.8 582.4 683 582.4 696.7 589.3" fill="none" stroke="#ffcc38" stroke-width="8" opacity="0.5" stroke-linecap="round" filter="url(#gbl2)"/>
<path d="M474.1 558.6C493.4 560.2 492.3 558.1 531.8 563.5C571.4 568.9 555.1 564.2 592.8 574.8C630.6 585.5 609.7 579 645.2 595.5C680.7 611.9 681.3 614.6 699.4 624.1" fill="none" stroke="#ffcc38" stroke-width="9" opacity="0.7" stroke-linecap="round" filter="url(#gbl2)"/>
<path d="M474.1 587.2C493.4 589.3 492 586.5 531.8 593.4C571.7 600.3 552.4 594.1 593.7 607.8C634.9 621.6 634.9 625.7 655.5 634.6" fill="none" stroke="#ffcc38" stroke-width="9" opacity="0.4" stroke-linecap="round" filter="url(#gbl2)"/>
<path d="M474.1 615.9C493.4 618 492.3 615.4 531.8 622.3C571.4 629.1 555.1 625.3 592.8 636.3C630.6 647.3 611 640.2 645.2 655.2C679.3 670.3 678.6 672.7 695.3 681.4" fill="none" stroke="#ffcc38" stroke-width="8" opacity="0.65" stroke-linecap="round" filter="url(#gbl2)"/>
<path d="M474.1 691.7C483.1 692.3 474.9 689.6 500.9 693.4C526.9 697.1 523.9 693.8 552 703C580.2 712.3 565.6 709.3 585.4 721.2C605.2 733.1 602.7 732.9 611.4 738.7" fill="none" stroke="#fff3b0" stroke-width="6.5" opacity="0.95" stroke-linecap="round" filter="url(#gbl3)"/>
<path d="M474.1 691.7C481 691.9 481 691.3 494.7 692.3C508.5 693.4 508.5 694 515.3 694.8" fill="none" stroke="#fffbe8" stroke-width="7" opacity="0.9" stroke-linecap="round" filter="url(#gbl3)"/>
</g>
</g>
<rect x="504.7" y="458.7" width="3.5" height="393.5" fill="#ff1500" />
<circle cx="484.6" cy="846.4" r="4.3" fill="#f4f0dc"/>
<path d="M489 846.2L499 852.2M498 848.7L504.5 847.2" stroke="#e8241a" stroke-width="1.6" fill="none"/>
<rect x="481.3" y="804" width="165.5" height="38.2" fill="#ffff00" />
<text x="487.6" y="834.5" font-size="35.9" textLength="150.5" lengthAdjust="spacingAndGlyphs">Reference</text>
</g>
<text x="481.5" y="30.4" font-size="43.5" font-weight="bold">b</text>
<path d="M839 212.6H859.6M892.1 212.6H915.9M948.4 212.6H972.2M1004.7 212.6H1028.5M1061 212.6H1084.8M1117.3 212.6H1141.1M1173.6 212.6H1197.4M1229.9 212.6H1253.7M1286.2 212.6H1310M1342.5 212.6H1366.3M1398.8 212.6H1422.6M1455.1 212.6H1478.9M1511.4 212.6H1535.2M1567.7 212.6H1591.5M1624 212.6H1647.8M1680.3 212.6H1704.1M1736.6 212.6H1760.4M1792.9 212.6H1816.7M1849.2 212.6H1873" stroke="#c2c2c2" stroke-width="6.2" fill="none"/>
<path d="M839.1 352.8H862.9M895.4 352.8H919.2M951.7 352.8H975.5M1008 352.8H1031.8M1064.3 352.8H1088.1M1120.6 352.8H1144.4M1176.9 352.8H1200.7M1233.2 352.8H1257M1289.5 352.8H1313.3M1345.8 352.8H1369.6M1402.1 352.8H1425.9M1458.4 352.8H1482.2M1514.7 352.8H1538.5M1571 352.8H1594.8M1627.3 352.8H1651.1M1683.6 352.8H1707.4M1739.9 352.8H1763.7M1796.2 352.8H1820M1852.5 352.8H1876.3" stroke="#c2c2c2" stroke-width="6.2" fill="none"/>
<path d="M839 554.3H859.6M892.1 554.3H915.9M948.4 554.3H972.2M1004.7 554.3H1028.5M1061 554.3H1084.8M1117.3 554.3H1141.1M1173.6 554.3H1197.4M1229.9 554.3H1253.7M1286.2 554.3H1310M1342.5 554.3H1366.3M1398.8 554.3H1422.6M1455.1 554.3H1478.9M1511.4 554.3H1535.2M1567.7 554.3H1591.5M1624 554.3H1647.8M1680.3 554.3H1704.1M1736.6 554.3H1760.4M1792.9 554.3H1816.7M1849.2 554.3H1873" stroke="#c2c2c2" stroke-width="6.2" fill="none"/>
<path d="M1138.2 361V384.5M1138.2 415.2V438.7M1138.2 469.4V492.9M1138.2 523.6V547.1M1138.2 577.8V601.3M1138.2 632V655.5M1138.2 686.2V709.7M1138.2 740.4V763.9M1138.2 794.6V818.1" stroke="#c2c2c2" stroke-width="5.6" fill="none"/>
<path d="M1340 361V384.5M1340 415.2V438.7M1340 469.4V492.9M1340 523.6V547.1M1340 577.8V601.3M1340 632V655.5M1340 686.2V709.7M1340 740.4V763.9M1340 794.6V818.1" stroke="#c2c2c2" stroke-width="5.6" fill="none"/>
<clipPath id="cc"><rect x="837" y="55.2" width="1041.3" height="766.4"/></clipPath>
<g clip-path="url(#cc)">
<path d="M838 761.4C840.7 756.7 840.7 757.2 846 747.4C851.3 737.7 848.7 742.7 854 732.1C859.3 721.5 856.7 727.4 862 715.7C867.3 704.1 864.7 709.6 870 697.2C875.3 684.7 872.7 689.9 878 678.2C883.3 666.6 880.7 672.4 886 662.1C891.3 651.8 888.7 657 894 647.3C899.3 637.6 896.7 642.3 902 633C907.3 623.7 904.7 628.4 910 619.4C915.3 610.4 912.7 614.9 918 606.1C923.3 597.3 920.7 601.9 926 593C931.3 584.1 928.7 588.5 934 579.3C939.3 570.1 936.7 574.4 942 565.3C947.3 556.2 944.7 560.7 950 552C955.3 543.3 952.7 547.9 958 539.2C963.3 530.6 960.7 535.1 966 526C971.3 516.9 968.7 521.5 974 512C979.3 502.6 976.7 507.4 982 497.8C987.3 488.1 984.7 493 990 483.1C995.3 473.3 992.7 477.6 998 468.2C1003.3 458.8 1000.7 463 1006 454.9C1011.3 446.9 1008.7 451 1014 444C1019.3 437 1016.7 441 1022 433.9C1027.3 426.8 1024.7 431.1 1030 422.8C1035.3 414.4 1032.7 418.5 1038 408.8C1043.3 399.2 1040.7 402.9 1046 393.8C1051.3 384.7 1048.7 389 1054 381.5C1059.3 374.1 1056.7 378 1062 371.5C1067.3 365 1064.7 368.6 1070 362C1075.3 355.5 1072.7 359.1 1078 351.8C1083.3 344.6 1080.7 348 1086 340.3C1091.3 332.6 1088.7 336.1 1094 328.7C1099.3 321.2 1096.7 324.9 1102 317.9C1107.3 311 1104.7 314.3 1110 307.9C1115.3 301.4 1112.7 304.3 1118 298.6C1123.3 293 1120.7 295.1 1126 290.9C1131.3 286.7 1128.7 288.8 1134 286.1C1139.3 283.3 1136.7 284.6 1142 282.6C1147.3 280.5 1144.7 281.5 1150 280C1155.3 278.5 1152.7 279.2 1158 278C1163.3 276.9 1160.7 277.5 1166 276.6C1171.3 275.7 1168.7 276 1174 275.4C1179.3 274.8 1176.7 274.9 1182 274.8C1187.3 274.7 1184.7 274.8 1190 275.1C1195.3 275.4 1192.7 275 1198 275.8C1203.3 276.7 1200.7 275.9 1206 277.7C1211.3 279.4 1208.7 278.5 1214 281.1C1219.3 283.7 1216.7 282 1222 285.5C1227.3 289 1224.7 287.1 1230 291.6C1235.3 296.1 1232.7 293.5 1238 299C1243.3 304.6 1240.7 301.7 1246 308.2C1251.3 314.8 1248.7 311.2 1254 318.7C1259.3 326.2 1256.7 322.4 1262 330.6C1267.3 338.8 1264.7 334.5 1270 343.2C1275.3 351.9 1272.7 347.6 1278 356.7C1283.3 365.8 1280.7 361.2 1286 370.5C1291.3 379.8 1288.7 375 1294 384.7C1299.3 394.3 1296.7 389.4 1302 399.4C1307.3 409.4 1304.7 404.8 1310 414.7C1315.3 424.5 1312.7 419.6 1318 428.9C1323.3 438.2 1320.7 434 1326 442.5C1331.3 450.9 1328.7 447.1 1334 454.2C1339.3 461.3 1336.7 457.8 1342 463.7C1347.3 469.7 1344.7 466.6 1350 472C1355.3 477.5 1352.7 474.6 1358 480C1363.3 485.4 1360.7 482.7 1366 488.3C1371.3 493.9 1368.7 491.3 1374 496.8C1379.3 502.3 1376.7 499.8 1382 504.7C1387.3 509.6 1384.7 507.2 1390 511.5C1395.3 515.7 1392.7 513.7 1398 517.5C1403.3 521.2 1400.7 519.4 1406 522.9C1411.3 526.3 1408.7 524.7 1414 527.8C1419.3 530.9 1416.7 529.4 1422 532.3C1427.3 535.2 1424.7 533.7 1430 536.5C1435.3 539.4 1432.7 538 1438 540.7C1443.3 543.5 1440.7 542.2 1446 544.8C1451.3 547.3 1448.7 546.1 1454 548.4C1459.3 550.8 1456.7 549.6 1462 551.7C1467.3 553.8 1464.7 552.8 1470 554.8C1475.3 556.7 1472.7 555.8 1478 557.6C1483.3 559.5 1480.7 558.5 1486 560.3C1491.3 562.1 1488.7 561.3 1494 562.9C1499.3 564.6 1496.7 563.8 1502 565.3C1507.3 566.8 1504.7 566.1 1510 567.4C1515.3 568.7 1512.7 568 1518 569.2C1523.3 570.3 1520.7 569.7 1526 570.8C1531.3 571.9 1528.7 571.3 1534 572.4C1539.3 573.5 1536.7 573 1542 574.1C1547.3 575.2 1544.7 574.6 1550 575.7C1555.3 576.8 1552.7 576.2 1558 577.3C1563.3 578.4 1560.7 577.8 1566 579C1571.3 580.1 1568.7 579.5 1574 580.7C1579.3 582 1576.7 581.3 1582 582.7C1587.3 584 1584.7 583.3 1590 584.7C1595.3 586 1592.7 585.3 1598 586.7C1603.3 588 1600.7 587.3 1606 588.7C1611.3 590 1608.7 589.4 1614 590.7C1619.3 592 1616.7 591.3 1622 592.6C1627.3 593.8 1624.7 593.2 1630 594.3C1635.3 595.5 1632.7 594.9 1638 596C1643.3 597.1 1640.7 596.6 1646 597.5C1651.3 598.5 1648.7 598 1654 598.9C1659.3 599.8 1656.7 599.3 1662 600.2C1667.3 601.1 1664.7 600.6 1670 601.5C1675.3 602.4 1672.7 602 1678 602.9C1683.3 603.8 1680.7 603.3 1686 604.2C1691.3 605.2 1688.7 604.7 1694 605.7C1699.3 606.7 1696.7 606.1 1702 607.2C1707.3 608.2 1704.7 607.7 1710 608.8C1715.3 609.9 1712.7 609.4 1718 610.5C1723.3 611.6 1720.7 611 1726 612.1C1731.3 613.1 1728.7 612.6 1734 613.7C1739.3 614.7 1736.7 614.2 1742 615.2C1747.3 616.3 1744.7 615.8 1750 616.7C1755.3 617.7 1752.7 617.3 1758 618.2C1763.3 619.2 1760.7 618.7 1766 619.6C1771.3 620.5 1768.7 620.1 1774 621C1779.3 621.8 1776.7 621.4 1782 622.3C1787.3 623.2 1784.7 622.7 1790 623.6C1795.3 624.5 1792.7 624.1 1798 624.9C1803.3 625.8 1800.7 625.4 1806 626.2C1811.3 627.1 1808.7 626.6 1814 627.6C1819.3 628.5 1816.7 628 1822 628.9C1827.3 629.9 1824.7 629.4 1830 630.5C1835.3 631.5 1832.7 631 1838 632C1843.3 633 1840.7 632.6 1846 633.5C1851.3 634.4 1848.7 633.9 1854 634.8C1859.3 635.6 1856.7 635.2 1862 635.9C1867.3 636.7 1865.3 636.4 1870 637C1874.7 637.7 1874 637.5 1876 637.8" fill="none" stroke="#ff0000" stroke-width="8" stroke-linejoin="round"/>
<path d="M838 796C840.7 791.1 840.7 791 846 781.4C851.3 771.8 848.7 776.6 854 767.2C859.3 757.8 856.7 762.3 862 753.3C867.3 744.2 864.7 748.4 870 740.1C875.3 731.7 872.7 736 878 728.2C883.3 720.4 880.7 724.7 886 716.6C891.3 708.6 888.7 712.7 894 704.1C899.3 695.5 896.7 699.5 902 690.9C907.3 682.4 904.7 686.6 910 678.4C915.3 670.2 912.7 674.7 918 666.3C923.3 657.9 920.7 662.3 926 653.1C931.3 644 928.7 648.2 934 638.9C939.3 629.6 936.7 634.2 942 625.3C947.3 616.4 944.7 620.9 950 612.3C955.3 603.7 952.7 607.9 958 599.5C963.3 591 960.7 595.2 966 586.9C971.3 578.5 968.7 582.8 974 574.4C979.3 565.9 976.7 570.2 982 561.5C987.3 552.8 984.7 556.7 990 548.3C995.3 539.9 992.7 543.9 998 536.2C1003.3 528.5 1000.7 533 1006 525.3C1011.3 517.6 1008.7 521.8 1014 513.1C1019.3 504.5 1016.7 508.5 1022 499.4C1027.3 490.3 1024.7 494.6 1030 485.9C1035.3 477.1 1032.7 480.8 1038 473.2C1043.3 465.6 1040.7 470 1046 463C1051.3 456.1 1048.7 460.8 1054 452.3C1059.3 443.8 1056.7 446.6 1062 437.6C1067.3 428.5 1064.7 432.3 1070 425.3C1075.3 418.2 1072.7 422.1 1078 416.4C1083.3 410.7 1080.7 414 1086 408.3C1091.3 402.5 1088.7 405.4 1094 399.1C1099.3 392.9 1096.7 396 1102 389.4C1107.3 382.8 1104.7 386.3 1110 379.3C1115.3 372.4 1112.7 375.8 1118 368.6C1123.3 361.3 1120.7 364.9 1126 357.5C1131.3 350.1 1128.7 353.7 1134 346.4C1139.3 339.1 1136.7 342.4 1142 335.7C1147.3 329 1144.7 332.3 1150 326.2C1155.3 320.2 1152.7 323.1 1158 317.6C1163.3 312.1 1160.7 314.8 1166 309.8C1171.3 304.8 1168.7 307.3 1174 302.7C1179.3 298.1 1176.7 300.4 1182 296.1C1187.3 291.8 1184.7 293.9 1190 289.8C1195.3 285.7 1192.7 287.6 1198 283.8C1203.3 279.9 1200.7 281.7 1206 278.3C1211.3 275 1208.7 276.6 1214 273.7C1219.3 270.9 1216.7 272.2 1222 269.7C1227.3 267.1 1224.7 268.4 1230 266.1C1235.3 263.8 1232.7 264.8 1238 262.8C1243.3 260.8 1240.7 261.3 1246 260.2C1251.3 259 1248.7 259.7 1254 259.4C1259.3 259.1 1256.7 258.8 1262 259.1C1267.3 259.5 1264.7 259.2 1270 260.4C1275.3 261.6 1272.7 260.9 1278 262.7C1283.3 264.5 1280.7 263.4 1286 265.8C1291.3 268.2 1288.7 266.9 1294 270C1299.3 273 1296.7 271.2 1302 275C1307.3 278.8 1304.7 276.6 1310 281.4C1315.3 286.2 1312.7 283.5 1318 289.5C1323.3 295.4 1320.7 292.2 1326 299.3C1331.3 306.3 1328.7 302.7 1334 310.6C1339.3 318.6 1336.7 315.5 1342 323.2C1347.3 330.9 1344.7 327.5 1350 333.8C1355.3 340.1 1352.7 336.9 1358 342.2C1363.3 347.6 1360.7 344.6 1366 349.8C1371.3 355.1 1368.7 351.9 1374 357.9C1379.3 363.9 1376.7 360 1382 367.7C1387.3 375.4 1384.7 371.5 1390 381C1395.3 390.5 1392.7 386.3 1398 396.3C1403.3 406.2 1400.7 401.2 1406 411C1411.3 420.7 1408.7 416.9 1414 425.5C1419.3 434.1 1416.7 430.1 1422 436.7C1427.3 443.3 1424.7 439.6 1430 445.3C1435.3 450.9 1432.7 447.4 1438 453.6C1443.3 459.8 1440.7 456.7 1446 463.9C1451.3 471.1 1448.7 468.2 1454 475.2C1459.3 482.2 1456.7 478.9 1462 484.9C1467.3 490.9 1464.7 488.1 1470 493.3C1475.3 498.5 1472.7 496 1478 500.6C1483.3 505.2 1480.7 503.3 1486 507.1C1491.3 510.9 1488.7 509.1 1494 512.1C1499.3 515.2 1496.7 513.6 1502 516.2C1507.3 518.7 1504.7 517.4 1510 519.7C1515.3 522 1512.7 520.9 1518 523.2C1523.3 525.4 1520.7 524.3 1526 526.4C1531.3 528.5 1528.7 527.5 1534 529.5C1539.3 531.6 1536.7 530.6 1542 532.7C1547.3 534.7 1544.7 533.7 1550 535.8C1555.3 537.9 1552.7 536.9 1558 538.9C1563.3 540.9 1560.7 539.9 1566 541.8C1571.3 543.7 1568.7 542.7 1574 544.5C1579.3 546.2 1576.7 545.3 1582 547.1C1587.3 548.8 1584.7 547.8 1590 549.6C1595.3 551.4 1592.7 550.5 1598 552.5C1603.3 554.4 1600.7 553.6 1606 555.4C1611.3 557.3 1608.7 556.4 1614 557.9C1619.3 559.4 1616.7 558.7 1622 559.9C1627.3 561.1 1624.7 560.5 1630 561.6C1635.3 562.7 1632.7 562.2 1638 563.2C1643.3 564.2 1640.7 563.7 1646 564.5C1651.3 565.4 1648.7 564.9 1654 565.7C1659.3 566.5 1656.7 566.1 1662 566.9C1667.3 567.7 1664.7 567.2 1670 568.1C1675.3 569.1 1672.7 568.6 1678 569.7C1683.3 570.8 1680.7 570.3 1686 571.4C1691.3 572.5 1688.7 572 1694 572.9C1699.3 573.8 1696.7 573.3 1702 574.1C1707.3 574.9 1704.7 574.5 1710 575.3C1715.3 576.1 1712.7 575.7 1718 576.6C1723.3 577.5 1720.7 577 1726 577.9C1731.3 578.8 1728.7 578.3 1734 579.3C1739.3 580.3 1736.7 579.8 1742 580.9C1747.3 582 1744.7 581.6 1750 582.7C1755.3 583.8 1752.7 583.3 1758 584.3C1763.3 585.3 1760.7 584.8 1766 585.6C1771.3 586.4 1768.7 586 1774 586.7C1779.3 587.5 1776.7 587.1 1782 587.8C1787.3 588.6 1784.7 588.2 1790 589C1795.3 589.7 1792.7 589.3 1798 590C1803.3 590.8 1800.7 590.4 1806 591.1C1811.3 591.9 1808.7 591.5 1814 592.2C1819.3 593 1816.7 592.6 1822 593.3C1827.3 594 1824.7 593.6 1830 594.4C1835.3 595.2 1832.7 594.8 1838 595.7C1843.3 596.7 1840.7 596.2 1846 597.3C1851.3 598.5 1848.7 598 1854 599.1C1859.3 600.3 1856.7 599.7 1862 600.8C1867.3 601.9 1865.3 601.5 1870 602.5C1874.7 603.5 1874 603.4 1876 603.8" fill="none" stroke="#000" stroke-width="8" stroke-linejoin="round"/>
</g>
<rect x="1053.6" y="486.8" width="308.3" height="245.3" fill="#a8d870" fill-opacity="0.95" stroke="#33509c" stroke-width="2"/>
<clipPath id="ci_ev"><rect x="1079.3" y="530.7" width="258.8" height="196.1"/></clipPath>
<g clip-path="url(#ci_ev)">
<linearGradient id="bg_ev" x1="0" y1="0" x2="0" y2="1">
<stop offset="0.000" stop-color="#fff"/>
<stop offset="0.332" stop-color="#fbfbfb"/>
<stop offset="0.502" stop-color="#f0f0f0"/>
<stop offset="0.512" stop-color="#dcdcdc"/>
<stop offset="0.592" stop-color="#c4c4c4"/>
<stop offset="0.762" stop-color="#7c7c7c"/>
<stop offset="0.892" stop-color="#474747"/>
<stop offset="0.990" stop-color="#222"/>
<stop offset="1.000" stop-color="#161616"/>
</linearGradient>
<rect x="1079.3" y="530.7" width="258.8" height="196.1" fill="url(#bg_ev)" />
<rect x="1069.3" y="588.4" width="278.8" height="9" fill="#d8d8d8" opacity="0.7" filter="url(#blur3)"/>
<clipPath id="up_ev"><rect x="1079.3" y="530.7" width="258.8" height="100.5"/></clipPath>
<clipPath id="dn_ev"><rect x="1079.3" y="630.2" width="258.8" height="96.6"/></clipPath>
<linearGradient id="rf_ev" x1="0" y1="631.2" x2="0" y2="685.6" gradientUnits="userSpaceOnUse"><stop offset="0" stop-color="#2a2a2a"/><stop offset="0.5" stop-color="#444"/><stop offset="1" stop-color="#555"/></linearGradient>
<g clip-path="url(#dn_ev)"><circle cx="1205.3" cy="625.2" r="60.5" fill="url(#rf_ev)" filter="url(#blur1)"/></g>
<g clip-path="url(#up_ev)"><circle cx="1205.3" cy="612.4" r="61" fill="#202020" filter="url(#blur1)"/></g>
<rect x="1079.3" y="616.4" width="258.8" height="5.6" fill="#2e2e2e" filter="url(#blur05)"/>
<rect x="1079.3" y="622" width="258.8" height="3.2" fill="#efefef" />
<rect x="1079.3" y="625.2" width="258.8" height="6" fill="#5a5a5a" filter="url(#blur05)"/>
<rect x="1079.3" y="626.9" width="258.8" height="1.4" fill="#9a9a9a" opacity="0.8"/>
</g>
<rect x="1492.7" y="214.3" width="308.2" height="246.1" fill="#a8d870" fill-opacity="0.95" stroke="#33509c" stroke-width="2"/>
<clipPath id="ci_ps"><rect x="1530.2" y="259.5" width="259.2" height="195.3"/></clipPath>
<g clip-path="url(#ci_ps)">
<linearGradient id="bg_ps" x1="0" y1="0" x2="0" y2="1">
<stop offset="0.000" stop-color="#fff"/>
<stop offset="0.323" stop-color="#fbfbfb"/>
<stop offset="0.493" stop-color="#f0f0f0"/>
<stop offset="0.503" stop-color="#dcdcdc"/>
<stop offset="0.583" stop-color="#c4c4c4"/>
<stop offset="0.753" stop-color="#7c7c7c"/>
<stop offset="0.883" stop-color="#474747"/>
<stop offset="0.990" stop-color="#222"/>
<stop offset="1.000" stop-color="#161616"/>
</linearGradient>
<rect x="1530.2" y="259.5" width="259.2" height="195.3" fill="url(#bg_ps)" />
<rect x="1520.2" y="320.5" width="279.2" height="9" fill="#d8d8d8" opacity="0.7" filter="url(#blur3)"/>
<clipPath id="up_ps"><rect x="1530.2" y="259.5" width="259.2" height="98.2"/></clipPath>
<clipPath id="dn_ps"><rect x="1530.2" y="356.7" width="259.2" height="98.1"/></clipPath>
<linearGradient id="rf_ps" x1="0" y1="357.7" x2="0" y2="400.5" gradientUnits="userSpaceOnUse"><stop offset="0" stop-color="#2a2a2a"/><stop offset="0.5" stop-color="#444"/><stop offset="1" stop-color="#505050"/></linearGradient>
<g clip-path="url(#dn_ps)"><path d="M1564.3 353.7 C1564.8 373.7 1601.8 400.5 1656.8 400.5 C1711.8 400.5 1748.8 373.7 1749.3 353.7 Z" fill="url(#rf_ps)" filter="url(#blur1)"/></g>
<g clip-path="url(#up_ps)"><path d="M1564.3 348.5 C1559.8 320.5 1596.8 291 1656.8 291 C1716.8 291 1753.8 320.5 1749.3 348.5 Z" fill="#202020" filter="url(#blur1)"/></g>
<rect x="1530.2" y="344.5" width="259.2" height="5.6" fill="#2e2e2e" filter="url(#blur05)"/>
<rect x="1530.2" y="350.1" width="259.2" height="3.2" fill="#efefef" />
<rect x="1530.2" y="353.3" width="259.2" height="4.4" fill="#5a5a5a" filter="url(#blur05)"/>
<rect x="1530.2" y="355" width="259.2" height="1.4" fill="#9a9a9a" opacity="0.8"/>
</g>
<text x="1070.8" y="519.1" font-size="35.4" fill="#ff0000" textLength="276.9" lengthAdjust="spacingAndGlyphs">PEDOT:EVA 93.4°</text>
<text x="1514.1" y="248.2" font-size="35.4" textLength="276.2" lengthAdjust="spacingAndGlyphs">PEDOT:PSS 32.5°</text>
<rect x="839" y="55.2" width="1037.3" height="766.4" fill="none" stroke="#000" stroke-width="4.8"/>
<path d="M1021 821.6V836.8M1265.3 821.6V836.8M1509.8 821.6V836.8M1753.8 821.6V836.8M899.3 821.6V829.3M1142.6 821.6V829.3M1387.8 821.6V829.3M1632.1 821.6V829.3M1876.3 821.6V829.3" stroke="#000" stroke-width="4.8" fill="none"/>
<line x1="1454.1" y1="100.2" x2="1548.4" y2="100.2" stroke="#ff0000" stroke-width="7.6" />
<line x1="1454.1" y1="161" x2="1548.4" y2="161" stroke="#000" stroke-width="7.6" />
<text x="1559.6" y="114.7" font-size="39" textLength="212.6" lengthAdjust="spacingAndGlyphs">PEDOT:EVA</text>
<text x="1559.6" y="175.7" font-size="39" textLength="169.8" lengthAdjust="spacingAndGlyphs">Reference</text>
<text x="817.6" y="441.5" font-size="43.2" text-anchor="middle" textLength="377" lengthAdjust="spacingAndGlyphs" transform="rotate(-90 817.6 441.5)">Solute concentration</text>
<text x="1357.5" y="876.7" font-size="43.2" text-anchor="middle" textLength="91" lengthAdjust="spacingAndGlyphs">Time</text>
<text x="880.7" y="173.7" font-size="37" font-style="italic">C</text><text x="907.2" y="154.3" font-size="23.5">nu</text><text x="904.7" y="179" font-size="23.5">max</text>
<text x="882.4" y="310.6" font-size="37" font-style="italic">C</text><text x="910.4" y="293.4" font-size="23.5">nu</text><text x="906.9" y="315.5" font-size="23.5">min</text>
<text x="874.1" y="526.4" font-size="37" font-style="italic">C</text><text x="898.8" y="530.7" font-size="23.5">S</text>
<text x="893.5" y="787.8" font-size="37" font-style="italic">T</text><text x="913" y="792.7" font-size="23.5">1</text>
<text x="1154" y="787.8" font-size="37" font-style="italic">T</text><text x="1173.5" y="792.7" font-size="23.5">2</text>
<text x="1359" y="787.8" font-size="37" font-style="italic">T</text><text x="1378.5" y="792.7" font-size="23.5">3</text>
<text x="1820" y="787.8" font-size="37" font-style="italic">T</text><text x="1839.5" y="792.7" font-size="23.5">4</text>
<text x="789.5" y="30.4" font-size="43.5" font-weight="bold">c</text>
<clipPath id="cd"><rect x="80.6" y="959.4" width="525" height="384.6"/></clipPath>
<g clip-path="url(#cd)">
<linearGradient id="ga" x1="0" y1="0" x2="0" y2="1"><stop offset="0" stop-color="#67a73e"/><stop offset="0.7" stop-color="#6aab41"/><stop offset="1" stop-color="#7bb655"/></linearGradient><path d="M309.2 1163.8L327.6 1181.4H318V1283.6H300V1181.4H290.7Z" fill="url(#ga)" filter="url(#sh)"/>
<path d="M79.6 1050.8 80 1031.1 80.3 1052.1 80.7 1030.5 81.1 1044.2 81.4 1040.8 81.8 1036.5 82.2 1044.6 82.5 1051.8 82.9 1055.5 83.2 1059.2 83.6 1039.5 84 1049 84.3 1058 84.7 1036.6 85.1 1055.3 85.4 1051.5 85.8 1055.5 86.2 1045.9 86.5 1047.8 86.9 1047.6 87.3 1058 87.6 1057.9 88 1059.2 88.3 1057.4 88.7 1063.3 89.1 1063.1 89.4 1039.7 89.8 1040.3 90.2 1063.6 90.5 1068.9 90.9 1064 91.3 1049.7 91.6 1047.8 92 1070.6 92.4 1054.8 92.7 1072.3 93.1 1057.7 93.5 1054.6 93.8 1045 94.2 1066.8 94.5 1051.4 94.9 1050 95.3 1049 95.6 1076.3 96 1063.2 96.4 1048.9 96.7 1066.3 97.1 1054.9 97.5 1063.1 97.8 1057.2 98.2 1066 98.6 1079.6 98.9 1078.4 99.3 1078.2 99.6 1074.7 100 1054.9 100.4 1064.9 100.7 1060.2 101.1 1067.9 101.5 1066.4 101.8 1062 102.2 1059.2 102.6 1060.2 102.9 1063.2 103.3 1084.3 103.7 1077.3 104 1086.9 104.4 1072.8 104.8 1066.3 105.1 1086.9 105.5 1083.3 105.8 1078.8 106.2 1082.2 106.6 1068 106.9 1079.8 107.3 1072.7 107.7 1076.7 108 1074.7 108.4 1066.1 108.8 1066.4 109.1 1087 109.5 1069.5 109.9 1081.7 110.2 1087.7 110.6 1081.3 110.9 1078.6 111.3 1068.6 111.7 1082.3 112 1090.5 112.4 1072 112.8 1088.6 113.1 1080.9 113.5 1073.3 113.9 1077.1 114.2 1075 114.6 1049.5 115 1096.5 115.3 1052.8 115.7 1062.4 116.1 1022.1 116.4 1035 116.8 1087.5 117.1 1078 117.5 1062.8 117.9 1053.4 118.2 1078.5 118.6 1081.3 119 1066.9 119.3 1074.8 119.7 1092.9 120.1 1084.7 120.4 1094.4 120.8 1098.6 121.2 1091.3 121.5 1089.1 121.9 1085.4 122.2 1084.3 122.6 1087.6 123 1087.9 123.3 1088.8 123.7 1089 124.1 1088.1 124.4 1084.8 124.8 1094.6 125.2 1099.4 125.5 1097 125.9 1097.3 126.3 1095.1 126.6 1088.1 127 1100.1 127.3 1094 127.7 1088.4 128.1 1097.1 128.4 1100.4 128.8 1097.7 129.2 1100.3 129.5 1089.2 129.9 1099.2 130.3 1099 130.6 1089.6 131 1089.8 131.4 1093.4 131.7 1088.6 132.1 1101.7 132.5 1088.1 132.8 1094.2 133.2 1098.4 133.5 1090.7 133.9 1093.4 134.3 1088.7 134.6 1101.9 135 1095 135.4 1096.7 135.7 1094.3 136.1 1100.4 136.5 1103.6 136.8 1096.3 137.2 1099 137.6 1091.6 137.9 1098 138.3 1098.7 138.6 1095.8 139 1097.4 139.4 1091.4 139.7 1094 140.1 1098.3 140.5 1102.5 140.8 1097.4 141.2 1095.8 141.6 1096.1 141.9 1093.3 142.3 1104.2 142.7 1101.8 143 1102.2 143.8 1104.3 144.5 1104.4 145.2 1103.7 145.9 1103.6 146.7 1107.9 147.4 1110.2 148.1 1108.9 148.9 1111.6 149.6 1110.1 150.3 1106.6 151 1108.3 151.8 1104.6 152.5 1110.3 153.2 1111.5 154 1111.5 154.7 1111.6 155.4 1113.8 156.1 1115.1 156.9 1116 157.6 1119.5 158.3 1116.4 159.1 1119.1 159.8 1122.9 160.5 1124.5 161.2 1127 162 1125.5 162.7 1129.3 163.4 1129 164.2 1130.8 164.9 1129.9 165.6 1130.1 166.4 1129.1 167.1 1128.7 167.8 1130.6 168.5 1134.7 169.3 1130.6 170 1132.6 170.7 1134.9 171.5 1134.9 172.2 1136.5 172.9 1139.2 173.6 1137.5 174.4 1136.7 175.1 1138.7 175.8 1142.2 176.6 1143.3 177.3 1140.7 178 1141.6 178.7 1143.1 179.5 1143.9 180.2 1147 180.9 1145.5 181.7 1148.4 182.4 1149.3 183.1 1149.3 183.8 1151.3 184.6 1149.7 185.3 1152.4 186 1151.7 186.8 1152.9 187.5 1153.3 188.2 1154.6 189 1154.6 189.7 1157 190.4 1158 191.1 1159.5 191.9 1160 192.6 1161.9 193.3 1162.4 194.1 1164.5 194.8 1165.5 195.5 1166.5 196.2 1167.9 197 1169 197.7 1169.8 198.4 1171.3 199.2 1172.4 199.9 1173.6 200.6 1174.8 201.3 1175.9 202.1 1176.9 202.8 1177.8 203.5 1178.7 204.3 1179.6 205 1180.6 205.7 1181.5 206.4 1182.4 207.2 1183.4 207.9 1184.3 208.6 1185.2 209.4 1186.1 210.1 1187.1 210.8 1188 211.5 1188.9 212.3 1189.8 213 1190.8 213.7 1191.7 214.5 1192.6 215.2 1193.4 215.9 1194.3 216.7 1195.2 217.4 1196.1 218.1 1197 218.8 1197.9 219.6 1198.7 225.6 1206.1 231.7 1212.5 237.8 1219 243.9 1224.4 249.9 1229.9 256 1234.8 262.1 1239.7 268.2 1243.9 274.2 1248.1 280.3 1251.6 286.4 1255.1 292.5 1258.3 298.5 1261.4 304.6 1264.4 310.7 1267.3 316.8 1269.8 322.8 1272.3 328.9 1274.8 335 1277.3 341.1 1279.2 347.1 1281.1 353.2 1283 359.3 1284.8 365.4 1286.5 371.4 1288.1 377.5 1289.3 383.6 1290.6 389.7 1291.4 395.7 1292.3 401.8 1293.7 407.9 1295.1 414 1295.8 420 1296.5 426.1 1297.3 432.2 1298.1 438.3 1298.7 444.3 1299.3 450.4 1299.5 456.5 1299.8 462.6 1300.7 468.6 1301.6 474.7 1303.3 480.8 1305 486.9 1308.5 492.9 1312.1 499 1316.3 505.1 1320.4 511.2 1323.6 517.2 1326.7 523.3 1328 529.4 1329.2 535.5 1329.5 541.5 1329.9 547.6 1330.3 553.7 1330.7 559.8 1331.1 565.8 1331.6 571.9 1331.6 578 1331.6 584.1 1331.6 590.1 1331.6 596.2 1331.6" fill="none" stroke="#000" stroke-width="3.8" stroke-linejoin="miter"/>
<circle cx="91.8" cy="1056.9" r="5.2" fill="url(#mkb)"/><circle cx="103.9" cy="1079" r="5.2" fill="url(#mkb)"/><circle cx="116.1" cy="1070.3" r="5.2" fill="url(#mkb)"/><circle cx="128.2" cy="1093.4" r="5.2" fill="url(#mkb)"/><circle cx="140.4" cy="1098.4" r="5.2" fill="url(#mkb)"/><circle cx="152.5" cy="1109.6" r="5.2" fill="url(#mkb)"/><circle cx="164.7" cy="1127.9" r="5.2" fill="url(#mkb)"/><circle cx="176.8" cy="1141.9" r="5.2" fill="url(#mkb)"/><circle cx="189" cy="1155.6" r="5.2" fill="url(#mkb)"/><circle cx="201.1" cy="1175.6" r="5.2" fill="url(#mkb)"/><circle cx="213.2" cy="1191.1" r="5.2" fill="url(#mkb)"/><circle cx="225.4" cy="1205.8" r="5.2" fill="url(#mkb)"/><circle cx="237.6" cy="1218.8" r="5.2" fill="url(#mkb)"/><circle cx="249.7" cy="1229.7" r="5.2" fill="url(#mkb)"/><circle cx="261.9" cy="1239.5" r="5.2" fill="url(#mkb)"/><circle cx="274" cy="1248" r="5.2" fill="url(#mkb)"/><circle cx="286.2" cy="1255" r="5.2" fill="url(#mkb)"/><circle cx="298.3" cy="1261.3" r="5.2" fill="url(#mkb)"/><circle cx="310.5" cy="1267.2" r="5.2" fill="url(#mkb)"/><circle cx="322.6" cy="1272.2" r="5.2" fill="url(#mkb)"/><circle cx="334.8" cy="1277.2" r="5.2" fill="url(#mkb)"/><circle cx="346.9" cy="1281" r="5.2" fill="url(#mkb)"/><circle cx="359.1" cy="1284.8" r="5.2" fill="url(#mkb)"/><circle cx="371.2" cy="1288" r="5.2" fill="url(#mkb)"/><circle cx="383.4" cy="1290.5" r="5.2" fill="url(#mkb)"/><circle cx="395.5" cy="1292.2" r="5.2" fill="url(#mkb)"/><circle cx="407.7" cy="1295" r="5.2" fill="url(#mkb)"/><circle cx="419.8" cy="1296.4" r="5.2" fill="url(#mkb)"/><circle cx="432" cy="1298.1" r="5.2" fill="url(#mkb)"/><circle cx="444.1" cy="1299.2" r="5.2" fill="url(#mkb)"/><circle cx="456.3" cy="1299.8" r="5.2" fill="url(#mkb)"/><circle cx="468.4" cy="1301.6" r="5.2" fill="url(#mkb)"/><circle cx="480.6" cy="1304.9" r="5.2" fill="url(#mkb)"/><circle cx="492.7" cy="1311.9" r="5.2" fill="url(#mkb)"/><circle cx="504.9" cy="1320.3" r="5.2" fill="url(#mkb)"/><circle cx="517" cy="1326.6" r="5.2" fill="url(#mkb)"/><circle cx="529.2" cy="1329.2" r="5.2" fill="url(#mkb)"/><circle cx="541.3" cy="1329.9" r="5.2" fill="url(#mkb)"/><circle cx="553.5" cy="1330.6" r="5.2" fill="url(#mkb)"/><circle cx="565.6" cy="1331.6" r="5.2" fill="url(#mkb)"/><circle cx="577.8" cy="1331.6" r="5.2" fill="url(#mkb)"/><circle cx="589.9" cy="1331.6" r="5.2" fill="url(#mkb)"/><circle cx="602" cy="1331.6" r="5.2" fill="url(#mkb)"/>
<path d="M79.6 1042.4 80 1048.9 80.3 1032.2 80.7 1022.1 81.1 1034.4 81.4 1032.1 81.8 1051.6 82.2 1032.5 82.5 1013.9 82.9 1017.7 83.2 1023 83.6 1049.8 84 1016.1 84.3 1017.8 84.7 1048.6 85.1 1028.1 85.4 1056 85.8 1052.1 86.2 1043.3 86.5 1051 86.9 1023.1 87.3 1020.4 87.6 1043.3 88 1044.8 88.3 1055.3 88.7 1057.2 89.1 1026.2 89.4 1032 89.8 1059.9 90.2 1038.6 90.5 1042.9 90.9 1019.9 91.3 1026.8 91.6 1033.1 92 1036 92.4 1014.8 92.7 1012.8 93.1 1048.3 93.5 1053.9 93.8 1023.5 94.2 1064.3 94.5 1047.8 94.9 1064.7 95.3 1050.9 95.6 1065.4 96 1053.1 96.4 1024.6 96.7 1018 97.1 1024.7 97.5 1038.3 97.8 1035.3 98.2 1050.6 98.6 1062.4 98.9 1046.6 99.3 1029 99.6 1069.7 100 1072.7 100.4 1027 100.7 1056.2 101.1 1031.6 101.5 1029.6 101.8 1017.3 102.2 1051 102.6 1053.9 102.9 1025.6 103.3 1028.4 103.7 1035.7 104 1025.6 104.4 1036.7 104.8 1016.3 105.1 1057.3 105.5 1030.8 105.8 1016.9 106.2 1058.1 106.6 1039.7 106.9 1056.5 107.3 1050.3 107.7 1076.8 108 1081 108.4 1030.4 108.8 1051.8 109.1 1040.2 109.5 1032.2 109.9 1054.8 110.2 1058.8 110.6 1073.1 110.9 1030.6 111.3 1028.7 111.7 1036.2 112 1027.5 112.4 1043.4 112.8 1040.9 113.1 1074.4 113.5 1037.8 113.9 1066.2 114.2 1060.1 114.6 1068.2 115 1053.2 115.3 1048.3 115.7 1054 116.1 1070.2 116.4 1076.6 116.8 1040.1 117.1 1072.6 117.5 1065.2 117.9 1085.6 118.2 1074.1 118.6 1086.5 119 1072.2 119.3 1051.8 119.7 1037.2 120.1 1056.8 120.4 1076.7 120.8 1055.3 121.2 1057.1 121.5 1046.2 121.9 1062.5 122.2 1041.8 122.6 1069.2 123 1076.4 123.3 1063.8 123.7 1041.8 124.1 1052.8 124.4 1065.5 124.8 1065.4 125.2 1057.3 125.5 1068.3 125.9 1062.9 126.3 1040.3 126.6 1042.6 127 1047.7 127.3 1086.1 127.7 1063.2 128.1 1073.5 128.4 1044.5 128.8 1076.5 129.2 1043.8 129.5 1080.7 129.9 1071.1 130.3 1042.7 130.6 1062.1 131 1044.5 131.4 1065.3 131.7 1081.7 132.1 1056.5 132.5 1066.6 132.8 1067.6 133.2 1086.8 133.5 1086.5 133.9 1033.7 134.3 1033.7 134.6 1033.7 135 1075.9 135.4 1092 135.7 1066 136.1 1056.8 136.5 1061.5 136.8 1091.9 137.2 1082.8 137.6 1058.9 137.9 1092 138.3 1052.6 138.6 1046.4 139 1081.5 139.4 1089.9 139.7 1049.3 140.1 1059 140.5 1072.2 140.8 1071.3 141.2 1055.1 141.6 1075.9 141.9 1086.2 142.3 1067.2 142.7 1077 143 1065.6 143.8 1057.6 144.5 1076.1 145.2 1079.8 145.9 1086.1 146.7 1062.3 147.4 1085.8 148.1 1059.1 148.9 1067 149.6 1060.9 150.3 1063.8 151 1082.4 151.8 1082.2 152.5 1057.2 153.2 1077.2 154 1052.7 154.7 1033.7 155.4 1033.7 156.1 1062.6 156.9 1075 157.6 1059.4 158.3 1056.9 159.1 1075.6 159.8 1077.7 160.5 1087.4 161.2 1076.6 162 1089.1 162.7 1074.7 163.4 1072.7 164.2 1077.8 164.9 1077.8 165.6 1078.6 166.4 1070.3 167.1 1082 167.8 1073.1 168.5 1088.4 169.3 1094.9 170 1093.1 170.7 1078.1 171.5 1093.9 172.2 1080.2 172.9 1077.6 173.6 1087.5 174.4 1098.1 175.1 1086.8 175.8 1093.4 176.6 1081.5 177.3 1098.3 178 1098.8 178.7 1094 179.5 1094.6 180.2 1101.9 180.9 1098.7 181.7 1093.5 182.4 1098.4 183.1 1107.2 183.8 1101.1 184.6 1101.9 185.3 1102.1 186 1110.4 186.8 1106.8 187.5 1096.1 188.2 1098.3 189 1098.4 189.7 1102.4 190.4 1108.5 191.1 1102.2 191.9 1112.4 192.6 1109.4 193.3 1110.5 194.1 1113.5 194.8 1116.9 195.5 1116.9 196.2 1114.3 197 1119.3 197.7 1119.6 198.4 1120.6 199.2 1121.8 199.9 1118.2 200.6 1121.8 201.3 1127.4 202.1 1122.9 202.8 1126.3 203.5 1125.7 204.3 1129.2 205 1131.8 205.7 1129.9 206.4 1135.4 207.2 1136.1 207.9 1136.4 208.6 1136 209.4 1141 210.1 1141.3 210.8 1141.9 211.5 1142.8 212.3 1146.2 213 1145.6 213.7 1147.3 214.5 1148.3 215.2 1149.4 215.9 1150.4 216.7 1150.5 217.4 1151.4 218.1 1153 218.8 1153.7 219.6 1154.6 225.6 1162 231.7 1169 237.8 1176.1 243.9 1183.4 249.9 1190.7 256 1196.4 262.1 1202 268.2 1208 274.2 1213.9 280.3 1218.1 286.4 1222.3 292.5 1226.1 298.5 1230 304.6 1233.5 310.7 1237 316.8 1241.1 322.8 1245.1 328.9 1248.8 335 1252.4 341.1 1254.9 347.1 1257.4 353.2 1260.2 359.3 1263 365.4 1265.8 371.4 1268.6 377.5 1270.3 383.6 1272.1 389.7 1274.2 395.7 1276.3 401.8 1277.7 407.9 1279.1 414 1280.8 420 1282.6 426.1 1283.7 432.2 1284.9 438.3 1286.2 444.3 1287.5 450.4 1288.7 456.5 1289.9 462.6 1291.1 468.6 1292.4 474.7 1294.6 480.8 1296.7 486.9 1300.6 492.9 1304.5 499 1309.1 505.1 1313.5 511.2 1316.4 517.2 1319.1 523.3 1320.1 529.4 1321.2 535.5 1321.5 541.5 1321.9 547.6 1321.9 553.7 1321.9 559.8 1321.9 565.8 1321.9 571.9 1321.9 578 1321.9 584.1 1321.9 590.1 1321.9 596.2 1321.7" fill="none" stroke="#ff0000" stroke-width="3.8" stroke-linejoin="miter"/>
<circle cx="91.8" cy="1013.4" r="5.2" fill="url(#mkr)"/><circle cx="103.9" cy="1066" r="5.2" fill="url(#mkr)"/><circle cx="116.1" cy="1031.6" r="5.2" fill="url(#mkr)"/><circle cx="128.2" cy="1035.1" r="5.2" fill="url(#mkr)"/><circle cx="140.4" cy="1071.7" r="5.2" fill="url(#mkr)"/><circle cx="152.5" cy="1085" r="5.2" fill="url(#mkr)"/><circle cx="164.7" cy="1091.3" r="5.2" fill="url(#mkr)"/><circle cx="176.8" cy="1083.6" r="5.2" fill="url(#mkr)"/><circle cx="189" cy="1112.4" r="5.2" fill="url(#mkr)"/><circle cx="201.1" cy="1122.9" r="5.2" fill="url(#mkr)"/><circle cx="213.2" cy="1146.8" r="5.2" fill="url(#mkr)"/><circle cx="225.4" cy="1161.7" r="5.2" fill="url(#mkr)"/><circle cx="237.6" cy="1175.8" r="5.2" fill="url(#mkr)"/><circle cx="249.7" cy="1190.5" r="5.2" fill="url(#mkr)"/><circle cx="261.9" cy="1201.8" r="5.2" fill="url(#mkr)"/><circle cx="274" cy="1213.7" r="5.2" fill="url(#mkr)"/><circle cx="286.2" cy="1222.1" r="5.2" fill="url(#mkr)"/><circle cx="298.3" cy="1229.8" r="5.2" fill="url(#mkr)"/><circle cx="310.5" cy="1236.9" r="5.2" fill="url(#mkr)"/><circle cx="322.6" cy="1245" r="5.2" fill="url(#mkr)"/><circle cx="334.8" cy="1252.3" r="5.2" fill="url(#mkr)"/><circle cx="346.9" cy="1257.2" r="5.2" fill="url(#mkr)"/><circle cx="359.1" cy="1262.9" r="5.2" fill="url(#mkr)"/><circle cx="371.2" cy="1268.5" r="5.2" fill="url(#mkr)"/><circle cx="383.4" cy="1272" r="5.2" fill="url(#mkr)"/><circle cx="395.5" cy="1276.2" r="5.2" fill="url(#mkr)"/><circle cx="407.7" cy="1279" r="5.2" fill="url(#mkr)"/><circle cx="419.8" cy="1282.5" r="5.2" fill="url(#mkr)"/><circle cx="432" cy="1284.8" r="5.2" fill="url(#mkr)"/><circle cx="444.1" cy="1287.4" r="5.2" fill="url(#mkr)"/><circle cx="456.3" cy="1289.8" r="5.2" fill="url(#mkr)"/><circle cx="468.4" cy="1292.4" r="5.2" fill="url(#mkr)"/><circle cx="480.6" cy="1296.6" r="5.2" fill="url(#mkr)"/><circle cx="492.7" cy="1304.3" r="5.2" fill="url(#mkr)"/><circle cx="504.9" cy="1313.4" r="5.2" fill="url(#mkr)"/><circle cx="517" cy="1319.1" r="5.2" fill="url(#mkr)"/><circle cx="529.2" cy="1321.2" r="5.2" fill="url(#mkr)"/><circle cx="541.3" cy="1321.9" r="5.2" fill="url(#mkr)"/><circle cx="553.5" cy="1321.9" r="5.2" fill="url(#mkr)"/><circle cx="565.6" cy="1321.9" r="5.2" fill="url(#mkr)"/><circle cx="577.8" cy="1321.9" r="5.2" fill="url(#mkr)"/><circle cx="589.9" cy="1321.9" r="5.2" fill="url(#mkr)"/><circle cx="602" cy="1321.5" r="5.2" fill="url(#mkr)"/>
</g>
<path d="M80.6 957.8V1345.6M602.6 957.8V1345.6" fill="none" stroke="#000" stroke-width="2.9"/><path d="M79.2 959.4H604M79.2 1344H604" fill="none" stroke="#000" stroke-width="3.2"/>
<path d="M80.6 1344.2H72M80.6 1274H72M80.6 1203.7H72M80.6 1133.5H72M80.6 1063.2H72M80.6 993H72M80.6 1309.1H76.2M80.6 1238.8H76.2M80.6 1168.6H76.2M80.6 1098.4H76.2M80.6 1028.1H76.2M80.6 959.6H76.2M176.8 1344V1350.8M298.3 1344V1350.8M419.8 1344V1350.8M541.3 1344V1350.8M116.1 1344V1347.6M237.6 1344V1347.6M359.1 1344V1347.6M480.6 1344V1347.6M602 1344V1347.6" stroke="#000" stroke-width="3.1" fill="none"/>
<text x="63.6" y="1354.4" font-size="29.1" text-anchor="end">0</text>
<text x="63.6" y="1284.2" font-size="29.1" text-anchor="end">1</text>
<text x="63.6" y="1213.9" font-size="29.1" text-anchor="end">2</text>
<text x="63.6" y="1143.7" font-size="29.1" text-anchor="end">3</text>
<text x="63.6" y="1073.4" font-size="29.1" text-anchor="end">4</text>
<text x="63.6" y="1003.2" font-size="29.1" text-anchor="end">5</text>
<text x="176.8" y="1382.6" font-size="29.1" text-anchor="middle" textLength="47" lengthAdjust="spacingAndGlyphs">500</text>
<text x="298.3" y="1382.6" font-size="29.1" text-anchor="middle" textLength="47" lengthAdjust="spacingAndGlyphs">600</text>
<text x="419.8" y="1382.6" font-size="29.1" text-anchor="middle" textLength="47" lengthAdjust="spacingAndGlyphs">700</text>
<text x="541.3" y="1382.6" font-size="29.1" text-anchor="middle" textLength="47" lengthAdjust="spacingAndGlyphs">800</text>
<text x="341.6" y="1421.4" font-size="30.4" text-anchor="middle" textLength="220.4" lengthAdjust="spacingAndGlyphs">Wavelength (nm)</text>
<text x="23.5" y="1152" font-size="30" text-anchor="middle" textLength="228.8" lengthAdjust="spacingAndGlyphs" transform="rotate(-90 23.5 1152)">Absorbance (a.u.)</text>
<line x1="339.3" y1="982.5" x2="406.3" y2="982.5" stroke="#ff0000" stroke-width="3.8" />
<circle cx="372.5" cy="982.5" r="5.2" fill="url(#mkr)"/>
<line x1="339.3" y1="1018" x2="406.3" y2="1018" stroke="#000" stroke-width="3.8" />
<circle cx="372.5" cy="1018" r="5.2" fill="url(#mkb)"/>
<text x="415.5" y="990" font-size="26" textLength="141.5" lengthAdjust="spacingAndGlyphs">PEDOT:EVA</text>
<text x="415.5" y="1025.5" font-size="26" textLength="113.3" lengthAdjust="spacingAndGlyphs">Reference</text>
<text x="-0.5" y="953.8" font-size="43.5" font-weight="bold">d</text>
<clipPath id="ce"><rect x="692.7" y="959.4" width="521.3" height="384.6"/></clipPath>
<g clip-path="url(#ce)">
<path d="M692.7 1314.4 697.9 1314.3 703.1 1314.2 708.3 1314.1 713.6 1314 718.8 1313.9 724 1313.8 729.2 1313.6 734.4 1313.5 739.6 1313.3 744.8 1313 750 1312.8 755.3 1312.5 760.5 1312.1 765.7 1311.7 770.9 1311.3 776.1 1310.7 781.3 1310.1 786.5 1309.4 791.7 1308.7 797 1307.8 802.2 1306.8 807.4 1305.7 812.6 1304.5 817.8 1303.1 823 1301.6 828.2 1300 833.4 1298.2 838.7 1296.3 843.9 1294.2 849.1 1292 854.3 1289.6 859.5 1287.1 864.7 1284.5 869.9 1281.8 875.2 1279.1 880.4 1276.2 885.6 1273.3 890.8 1270.5 896 1267.6 901.2 1264.9 906.4 1262.2 911.6 1259.6 916.9 1257.3 922.1 1255.2 927.3 1253.3 932.5 1251.8 937.7 1250.6 942.9 1249.8 948.1 1249.4 953.3 1249.3 958.6 1249.7 963.8 1250.5 969 1251.7 974.2 1253.2 979.4 1255 984.6 1257.1 989.8 1259.5 995.1 1262 1000.3 1264.7 1005.5 1267.4 1010.7 1270.3 1015.9 1273.2 1021.1 1276 1026.3 1278.9 1031.5 1281.6 1036.8 1284.4 1042 1287 1047.2 1289.4 1052.4 1291.8 1057.6 1294 1062.8 1296.1 1068 1298.1 1073.2 1299.9 1078.5 1301.5 1083.7 1303 1088.9 1304.4 1094.1 1305.6 1099.3 1306.7 1104.5 1307.7 1109.7 1308.6 1114.9 1309.4 1120.2 1310.1 1125.4 1310.7 1130.6 1311.2 1135.8 1311.7 1141 1312.1 1146.2 1312.4 1151.4 1312.7 1156.7 1313 1161.9 1313.2 1167.1 1313.4 1172.3 1313.6 1177.5 1313.8 1182.7 1313.9 1187.9 1314 1193.1 1314.1 1198.4 1314.2 1203.6 1314.3 1208.8 1314.4 1214 1314.5" fill="none" stroke="#ff0000" stroke-width="5.2" stroke-dasharray="7.6 13.2"/>
<path d="M692.7 1314.6 697.9 1314.5 703.1 1314.5 708.3 1314.4 713.6 1314.3 718.8 1314.2 724 1314.1 729.2 1313.9 734.4 1313.8 739.6 1313.6 744.8 1313.4 750 1313.2 755.3 1312.9 760.5 1312.6 765.7 1312.3 770.9 1311.9 776.1 1311.5 781.3 1311 786.5 1310.4 791.7 1309.7 797 1309 802.2 1308.1 807.4 1307.2 812.6 1306.1 817.8 1304.9 823 1303.7 828.2 1302.2 833.4 1300.7 838.7 1299 843.9 1297.2 849.1 1295.3 854.3 1293.2 859.5 1291 864.7 1288.8 869.9 1286.4 875.2 1283.9 880.4 1281.4 885.6 1278.9 890.8 1276.3 896 1273.8 901.2 1271.3 906.4 1268.8 911.6 1266.5 916.9 1264.4 922.1 1262.4 927.3 1260.7 932.5 1259.2 937.7 1258.1 942.9 1257.2 948.1 1256.7 953.3 1256.6 958.6 1256.8 963.8 1257.4 969 1258.4 974.2 1259.6 979.4 1261.1 984.6 1262.9 989.8 1265 995.1 1267.1 1000.3 1269.5 1005.5 1271.9 1010.7 1274.4 1015.9 1277 1021.1 1279.6 1026.3 1282.1 1031.5 1284.6 1036.8 1287 1042 1289.4 1047.2 1291.6 1052.4 1293.8 1057.6 1295.8 1062.8 1297.7 1068 1299.5 1073.2 1301.1 1078.5 1302.6 1083.7 1304 1088.9 1305.3 1094.1 1306.4 1099.3 1307.4 1104.5 1308.4 1109.7 1309.2 1114.9 1309.9 1120.2 1310.5 1125.4 1311.1 1130.6 1311.6 1135.8 1312 1141 1312.4 1146.2 1312.7 1151.4 1313 1156.7 1313.3 1161.9 1313.5 1167.1 1313.7 1172.3 1313.8 1177.5 1314 1182.7 1314.1 1187.9 1314.2 1193.1 1314.3 1198.4 1314.4 1203.6 1314.5 1208.8 1314.5 1214 1314.6" fill="none" stroke="#ff0000" stroke-width="5.2" />
<path d="M692.7 1310.8 697.9 1310.6 703.1 1310.3 708.3 1310 713.6 1309.7 718.8 1309.3 724 1308.9 729.2 1308.4 734.4 1307.8 739.6 1307.2 744.8 1306.5 750 1305.6 755.3 1304.7 760.5 1303.5 765.7 1302.2 770.9 1300.7 776.1 1299 781.3 1297 786.5 1294.7 791.7 1292.1 797 1289.2 802.2 1285.9 807.4 1282.1 812.6 1278 817.8 1273.3 823 1268.2 828.2 1262.5 833.4 1256.3 838.7 1249.6 843.9 1242.4 849.1 1234.6 854.3 1226.4 859.5 1217.7 864.7 1208.6 869.9 1199.2 875.2 1189.5 880.4 1179.6 885.6 1169.6 890.8 1159.6 896 1149.8 901.2 1140.2 906.4 1131.1 911.6 1122.6 916.9 1114.7 922.1 1107.8 927.3 1101.9 932.5 1097.2 937.7 1093.8 942.9 1091.9 948.1 1091.3 953.3 1092.2 958.6 1094.6 963.8 1098.4 969 1103.4 974.2 1109.6 979.4 1116.7 984.6 1124.8 989.8 1133.5 995.1 1142.8 1000.3 1152.4 1005.5 1162.3 1010.7 1172.3 1015.9 1182.2 1021.1 1192.1 1026.3 1201.8 1031.5 1211.1 1036.8 1220.1 1042 1228.7 1047.2 1236.8 1052.4 1244.4 1057.6 1251.5 1062.8 1258 1068 1264.1 1073.2 1269.6 1078.5 1274.6 1083.7 1279.1 1088.9 1283.2 1094.1 1286.8 1099.3 1290 1104.5 1292.9 1109.7 1295.4 1114.9 1297.6 1120.2 1299.5 1125.4 1301.1 1130.6 1302.6 1135.8 1303.8 1141 1304.9 1146.2 1305.9 1151.4 1306.7 1156.7 1307.4 1161.9 1308 1167.1 1308.5 1172.3 1309 1177.5 1309.4 1182.7 1309.8 1187.9 1310.1 1193.1 1310.4 1198.4 1310.6 1203.6 1310.9 1208.8 1311.1 1214 1311.3" fill="none" stroke="#000" stroke-width="5.2" stroke-dasharray="7.6 13.2"/>
<linearGradient id="ba" x1="0" y1="0" x2="0" y2="1"><stop offset="0" stop-color="#72a5da"/><stop offset="1" stop-color="#4688c8"/></linearGradient><path d="M940 1120.8H958V1222H967.5L949.2 1240L930.8 1222H940Z" fill="url(#ba)" filter="url(#sh)"/>
<path d="M692.7 1312.4 697.9 1312.3 703.1 1312.1 708.3 1311.9 713.6 1311.6 718.8 1311.4 724 1311.1 729.2 1310.7 734.4 1310.3 739.6 1309.9 744.8 1309.3 750 1308.7 755.3 1308 760.5 1307.2 765.7 1306.3 770.9 1305.3 776.1 1304.1 781.3 1302.7 786.5 1301.1 791.7 1299.4 797 1297.4 802.2 1295.1 807.4 1292.6 812.6 1289.9 817.8 1286.8 823 1283.4 828.2 1279.7 833.4 1275.7 838.7 1271.4 843.9 1266.7 849.1 1261.8 854.3 1256.5 859.5 1251 864.7 1245.3 869.9 1239.3 875.2 1233.2 880.4 1227 885.6 1220.7 890.8 1214.4 896 1208.2 901.2 1202.2 906.4 1196.5 911.6 1191 916.9 1186.1 922.1 1181.6 927.3 1177.8 932.5 1174.7 937.7 1172.3 942.9 1170.8 948.1 1170.2 953.3 1170.5 958.6 1171.6 963.8 1173.7 969 1176.5 974.2 1180 979.4 1184.2 984.6 1189 989.8 1194.2 995.1 1199.9 1000.3 1205.8 1005.5 1211.9 1010.7 1218.2 1015.9 1224.4 1021.1 1230.7 1026.3 1236.9 1031.5 1242.9 1036.8 1248.7 1042 1254.4 1047.2 1259.7 1052.4 1264.8 1057.6 1269.6 1062.8 1274 1068 1278.2 1073.2 1282 1078.5 1285.5 1083.7 1288.7 1088.9 1291.6 1094.1 1294.2 1099.3 1296.5 1104.5 1298.6 1109.7 1300.4 1114.9 1302.1 1120.2 1303.5 1125.4 1304.8 1130.6 1305.9 1135.8 1306.9 1141 1307.7 1146.2 1308.5 1151.4 1309.1 1156.7 1309.6 1161.9 1310.1 1167.1 1310.6 1172.3 1310.9 1177.5 1311.2 1182.7 1311.5 1187.9 1311.8 1193.1 1312 1198.4 1312.2 1203.6 1312.4 1208.8 1312.5 1214 1312.7" fill="none" stroke="#000" stroke-width="5.2" />
</g>
<path d="M692.7 957.8V1345.6M1214 957.8V1345.6" fill="none" stroke="#000" stroke-width="2.9"/><path d="M691.3 959.4H1215.4M691.3 1344H1215.4" fill="none" stroke="#000" stroke-width="3.2"/>
<path d="M692.7 1344V1350.8M866.5 1344V1350.8M1040.2 1344V1350.8M1214 1344V1350.8M779.6 1344V1347.6M953.3 1344V1347.6M1127.1 1344V1347.6" stroke="#000" stroke-width="3.1" fill="none"/>
<text x="692.7" y="1382.6" font-size="29.1" text-anchor="middle" textLength="47" lengthAdjust="spacingAndGlyphs">700</text>
<text x="866.5" y="1382.6" font-size="29.1" text-anchor="middle" textLength="47" lengthAdjust="spacingAndGlyphs">750</text>
<text x="1040.2" y="1382.6" font-size="29.1" text-anchor="middle" textLength="47" lengthAdjust="spacingAndGlyphs">800</text>
<text x="1214" y="1382.6" font-size="29.1" text-anchor="middle" textLength="47" lengthAdjust="spacingAndGlyphs">850</text>
<text x="953" y="1421.4" font-size="30.4" text-anchor="middle" textLength="220.4" lengthAdjust="spacingAndGlyphs">Wavelength (nm)</text>
<text x="673.8" y="1152" font-size="30" text-anchor="middle" textLength="180" lengthAdjust="spacingAndGlyphs" transform="rotate(-90 673.8 1152)">Intensity (a.u.)</text>
<line x1="857" y1="980" x2="904.5" y2="980" stroke="#ff0000" stroke-width="5.2" />
<line x1="857" y1="1011.3" x2="904.5" y2="1011.3" stroke="#ff0000" stroke-width="5.2" stroke-dasharray="8.3 13"/>
<line x1="857" y1="1042.5" x2="904.5" y2="1042.5" stroke="#000" stroke-width="5.2" />
<line x1="857" y1="1073.3" x2="904.5" y2="1073.3" stroke="#000" stroke-width="5.2" stroke-dasharray="8.3 13"/>
<text x="914.5" y="988" font-size="26.4" textLength="258.2" lengthAdjust="spacingAndGlyphs">PEDOT:EVA (Forward)</text>
<text x="914.5" y="1019.3" font-size="26.4" textLength="276.4" lengthAdjust="spacingAndGlyphs">PEDOT:EVA (Backward)</text>
<text x="914.5" y="1050" font-size="26.4" textLength="230" lengthAdjust="spacingAndGlyphs">Reference (Forward)</text>
<text x="914.5" y="1081.3" font-size="26.4" textLength="248.2" lengthAdjust="spacingAndGlyphs">Reference (Backward)</text>
<text x="649.5" y="953.8" font-size="43.5" font-weight="bold">e</text>
<clipPath id="cf"><rect x="1393.2" y="959.4" width="521.7" height="384.6"/></clipPath>
<g clip-path="url(#cf)">
<path d="M1393.2 1011.7 1393.5 1013 1393.7 1014 1394.0 1016 1394.2 1015 1394.5 1016 1394.7 1016 1395.0 1017 1395.2 1017 1395.5 1018 1395.7 1019 1396.0 1018 1396.2 1018 1396.5 1018 1396.8 1020 1397.0 1021 1397.3 1021 1397.5 1023 1397.8 1021 1398.0 1023 1398.3 1024 1398.5 1024 1398.8 1022 1399.0 1024 1399.3 1026 1399.5 1026 1399.8 1025 1400.1 1026 1400.3 1027 1400.6 1027 1400.8 1027 1401.1 1026 1401.3 1030 1401.6 1030 1401.8 1030 1402.1 1032 1402.3 1031 1402.6 1032 1402.8 1030 1403.1 1032 1403.4 1034 1403.6 1032 1403.9 1033 1404.1 1035 1404.4 1035 1404.6 1035 1404.9 1036 1405.1 1035 1405.4 1038 1405.6 1036 1405.9 1036 1406.1 1036 1406.4 1036 1406.6 1037 1406.9 1037 1407.2 1040 1407.4 1038 1407.7 1042 1407.9 1041 1408.2 1043 1408.4 1040 1408.7 1040 1408.9 1042 1409.2 1040 1409.4 1043 1409.7 1043 1409.9 1043 1410.2 1045 1410.5 1044 1410.7 1043 1411.0 1046 1411.2 1045 1411.5 1046 1411.7 1044 1412.0 1046 1412.2 1047 1412.5 1047 1412.7 1048 1413.0 1050 1413.2 1047 1413.5 1051 1413.8 1050 1414.0 1049 1414.3 1052 1414.5 1051 1414.8 1050 1415.0 1052 1415.3 1053 1415.5 1057 1415.8 1054 1416.0 1054 1416.3 1055 1416.5 1056 1416.8 1054 1417.1 1056 1417.3 1056 1417.6 1055 1417.8 1057 1418.1 1057 1418.3 1054 1418.6 1056 1418.8 1060 1419.1 1058 1419.3 1058 1419.6 1057 1419.8 1059 1420.1 1061 1420.4 1061 1420.6 1060 1420.9 1060 1421.1 1062 1421.4 1062 1421.6 1063 1421.9 1061 1422.1 1064 1422.4 1063 1422.6 1062 1422.9 1063 1423.1 1066 1423.4 1063 1423.7 1066 1423.9 1065 1424.2 1067 1424.4 1069 1424.7 1066 1424.9 1067 1425.2 1067 1425.4 1067 1425.7 1069 1425.9 1070 1426.2 1069 1426.4 1066 1426.7 1068 1426.9 1071 1427.2 1069 1427.5 1071 1427.7 1072 1428.0 1070 1428.2 1073 1428.5 1075 1428.7 1074 1429.0 1073 1429.2 1073 1429.5 1072 1429.7 1075 1430.0 1073 1430.2 1074 1430.5 1075 1430.8 1074 1431.0 1075 1431.3 1078 1431.5 1075 1431.8 1079 1432.0 1077 1432.3 1077 1432.5 1077 1432.8 1079 1433.0 1079 1433.3 1079 1433.5 1078 1433.8 1081 1434.1 1080 1434.3 1081 1434.6 1083 1434.8 1076 1435.1 1081 1435.3 1084 1435.6 1080 1435.8 1084 1436.1 1082 1436.3 1082 1436.6 1085 1436.8 1085 1437.1 1085 1437.4 1085 1437.6 1088 1437.9 1088 1438.1 1086 1438.4 1084 1438.6 1085 1438.9 1083 1439.1 1086 1439.4 1088 1439.6 1088 1439.9 1092 1440.1 1090 1440.4 1091 1440.7 1088 1440.9 1088 1441.2 1091 1441.4 1091 1441.7 1093 1441.9 1091 1442.2 1090 1442.4 1090 1442.7 1093 1442.9 1088 1443.2 1090 1443.4 1093 1443.7 1094 1444.0 1094 1444.2 1093 1444.5 1092 1444.7 1094 1445.0 1097 1445.2 1094 1445.5 1094 1445.7 1094 1446.0 1096 1446.2 1092 1446.5 1098 1446.7 1098 1447.0 1096 1447.2 1096 1447.5 1098 1447.8 1100 1448.0 1097 1448.3 1096 1448.5 1096 1448.8 1099 1449.0 1103 1449.3 1103 1449.5 1104 1449.8 1100 1450.0 1100 1450.3 1101 1450.5 1101 1450.8 1102 1451.1 1103 1451.3 1101 1451.6 1104 1451.8 1106 1452.1 1106 1452.3 1104 1452.6 1102 1452.8 1101 1453.1 1103 1453.3 1104 1453.6 1101 1453.8 1109 1454.1 1108 1454.4 1106 1454.6 1107 1454.9 1108 1455.1 1113 1455.4 1108 1455.6 1103 1455.9 1115 1456.1 1111 1456.4 1109 1456.6 1110 1456.9 1107 1457.1 1111 1457.4 1113 1457.7 1112 1457.9 1114 1458.2 1110 1458.4 1113 1458.7 1110 1458.9 1115 1459.2 1114 1459.4 1111 1459.7 1109 1459.9 1114 1460.2 1115 1460.4 1116 1460.7 1117 1461.0 1114 1461.2 1113 1461.5 1116 1461.7 1112 1462.0 1111 1462.2 1118 1462.5 1115 1462.7 1118 1463.0 1122 1463.2 1121 1463.5 1111 1463.7 1119 1464.0 1124 1464.3 1117 1464.5 1120 1464.8 1120 1465.0 1121 1465.3 1119 1465.5 1116 1465.8 1115 1466.0 1122 1466.3 1119 1466.5 1119 1466.8 1128 1467.0 1123 1467.3 1126 1467.6 1126 1467.8 1120 1468.1 1124 1468.3 1124 1468.6 1125 1468.8 1127 1469.1 1121 1469.3 1126 1469.6 1124 1469.8 1125 1470.1 1127 1470.3 1123 1470.6 1129 1470.8 1127 1471.1 1123 1471.4 1127 1471.6 1133 1471.9 1133 1472.1 1123 1472.4 1130 1472.6 1124 1472.9 1124 1473.1 1129 1473.4 1133 1473.6 1137 1473.9 1135 1474.1 1128 1474.4 1128 1474.7 1128 1474.9 1131 1475.2 1132 1475.4 1132 1475.7 1135 1475.9 1130 1476.2 1134 1476.4 1131 1476.7 1134 1476.9 1126 1477.2 1131 1477.4 1135 1477.7 1133 1478.0 1135 1478.2 1135 1478.5 1134 1478.7 1132 1479.0 1132 1479.2 1141 1479.5 1143 1479.7 1136 1480.0 1134 1480.2 1142 1480.5 1144 1480.7 1141 1481.0 1137 1481.3 1139 1481.5 1141 1481.8 1137 1482.0 1139 1482.3 1140 1482.5 1143 1482.8 1143 1483.0 1136 1483.3 1143 1483.5 1142 1483.8 1139 1484.0 1138 1484.3 1145 1484.6 1140 1484.8 1143 1485.1 1146 1485.3 1144 1485.6 1142 1485.8 1150 1486.1 1146 1486.3 1150 1486.6 1146 1486.8 1151 1487.1 1141 1487.3 1143 1487.6 1153 1487.9 1152 1488.1 1144 1488.4 1142 1488.6 1152 1488.9 1148 1489.1 1145 1489.4 1142 1489.6 1150 1489.9 1147 1490.1 1154 1490.4 1146 1490.6 1158 1490.9 1152 1491.1 1150 1491.4 1148 1491.7 1151 1491.9 1152 1492.2 1145 1492.4 1155 1492.7 1153 1492.9 1155 1493.2 1155 1493.4 1152 1493.7 1162 1493.9 1156 1494.2 1158 1494.4 1152 1494.7 1147 1495.0 1150 1495.2 1160 1495.5 1155 1495.7 1154 1496.0 1150 1496.2 1154 1496.5 1158 1496.7 1156 1497.0 1165 1497.2 1155 1497.5 1162 1497.7 1157 1498.0 1163 1498.3 1161 1498.5 1163 1498.8 1160 1499.0 1159 1499.3 1153 1499.5 1163 1499.8 1164 1500.0 1159 1500.3 1166 1500.5 1160 1500.8 1152 1501.0 1160 1501.3 1160 1501.6 1170 1501.8 1160 1502.1 1159 1502.3 1157 1502.6 1162 1502.8 1169 1503.1 1164 1503.3 1159 1503.6 1162 1503.8 1162 1504.1 1160 1504.3 1168 1504.6 1163 1504.9 1168 1505.1 1153 1505.4 1163 1505.6 1168 1505.9 1177 1506.1 1167 1506.4 1171 1506.6 1161 1506.9 1170 1507.1 1168 1507.4 1164 1507.6 1166 1507.9 1167 1508.2 1165 1508.4 1158 1508.7 1167 1508.9 1164 1509.2 1170 1509.4 1165 1509.7 1171 1509.9 1163 1510.2 1181 1510.4 1168 1510.7 1171 1510.9 1174 1511.2 1174 1511.4 1174 1511.7 1174 1512.0 1176 1512.2 1168 1512.5 1177 1512.7 1172 1513.0 1181 1513.2 1171 1513.5 1181 1513.7 1176 1514.0 1177 1514.2 1174 1514.5 1169 1514.7 1169 1515.0 1183 1515.3 1181 1515.5 1168 1515.8 1175 1516.0 1183 1516.3 1173 1516.5 1176 1516.8 1177 1517.0 1182 1517.3 1186 1517.5 1183 1517.8 1173 1518.0 1168 1518.3 1174 1518.6 1177 1518.8 1178 1519.1 1185 1519.3 1178 1519.6 1183 1519.8 1189 1520.1 1165 1520.3 1180 1520.6 1178 1520.8 1188 1521.1 1177 1521.3 1186 1521.6 1181 1521.9 1180 1522.1 1183 1522.4 1189 1522.6 1181 1522.9 1182 1523.1 1172 1523.4 1188 1523.6 1183 1523.9 1191 1524.1 1177 1524.4 1177 1524.6 1183 1524.9 1192 1525.2 1178 1525.4 1171 1525.7 1198 1525.9 1187 1526.2 1211 1526.4 1193 1526.7 1193 1526.9 1186 1527.2 1192 1527.4 1192 1527.7 1192 1527.9 1186 1528.2 1194 1528.5 1197 1528.7 1194 1529.0 1189 1529.2 1192 1529.5 1184 1529.7 1190 1530.0 1180 1530.2 1183 1530.5 1206 1530.7 1191 1531.0 1190 1531.2 1190 1531.5 1203 1531.8 1190 1532.0 1197 1532.3 1189 1532.5 1206 1532.8 1201 1533.0 1192 1533.3 1189 1533.5 1194 1533.8 1199 1534.0 1192 1534.3 1203 1534.5 1192 1534.8 1203 1535.0 1197 1535.3 1192 1535.6 1193 1535.8 1189 1536.1 1203 1536.3 1211 1536.6 1193 1536.8 1210 1537.1 1194 1537.3 1199 1537.6 1198 1537.8 1203 1538.1 1198 1538.3 1190 1538.6 1189 1538.9 1198 1539.1 1223 1539.4 1213 1539.6 1211 1539.9 1202 1540.1 1197 1540.4 1201 1540.6 1194 1540.9 1196 1541.1 1192 1541.4 1203 1541.6 1203 1541.9 1186 1542.2 1202 1542.4 1217 1542.7 1203 1542.9 1190 1543.2 1202 1543.4 1206 1543.7 1202 1543.9 1223 1544.2 1201 1544.4 1221 1544.7 1202 1544.9 1206 1545.2 1211 1545.5 1206 1545.7 1196 1546.0 1203 1546.2 1198 1546.5 1211 1546.7 1211 1547.0 1197 1547.2 1217 1547.5 1210 1547.7 1211 1548.0 1206 1548.2 1215 1548.5 1215 1548.8 1211 1549.0 1206 1549.3 1210 1549.5 1221 1549.8 1219 1550.0 1203 1550.3 1190 1550.5 1219 1550.8 1219 1551.0 1215 1551.3 1203 1551.5 1213 1551.8 1215 1552.1 1213 1552.3 1215 1552.6 1197 1552.8 1217 1553.1 1208 1553.3 1202 1553.6 1208 1553.8 1211 1554.1 1215 1554.3 1205 1554.6 1202 1554.8 1213 1555.1 1206 1555.3 1226 1555.6 1215 1555.9 1206 1556.1 1231 1556.4 1217 1556.6 1213 1556.9 1217 1557.1 1226 1557.4 1215 1557.6 1226 1557.9 1240 1558.1 1206 1558.4 1215 1558.6 1211 1558.9 1215 1559.2 1221 1559.4 1217 1559.7 1231 1559.9 1213 1560.2 1202 1560.4 1223 1560.7 1202 1560.9 1217 1561.2 1193 1561.4 1213 1561.7 1215 1561.9 1234 1562.2 1223 1562.5 1213 1562.7 1217 1563.0 1234 1563.2 1228 1563.5 1219 1563.7 1228 1564.0 1228 1564.2 1210 1564.5 1240 1564.7 1228 1565.0 1221 1565.2 1213 1565.5 1223 1565.8 1223 1566.0 1244 1566.3 1217 1566.5 1226 1566.8 1237 1567.0 1213 1567.3 1213 1567.5 1215 1567.8 1226 1568.0 1234 1568.3 1240 1568.5 1228 1568.8 1221 1569.1 1231 1569.3 1231 1569.6 1231 1569.8 1217 1570.1 1263 1570.3 1226 1570.6 1237 1570.8 1237 1571.1 1228 1571.3 1244 1571.6 1219 1571.8 1228 1572.1 1234 1572.4 1231 1572.6 1223 1572.9 1237 1573.1 1226 1573.4 1226 1573.6 1237 1573.9 1219 1574.1 1237 1574.4 1234 1574.6 1244 1574.9 1240 1575.1 1248 1575.4 1217 1575.6 1226 1575.9 1257 1576.2 1223 1576.4 1217 1576.7 1244 1576.9 1263 1577.2 1244 1577.4 1231 1577.7 1217 1577.9 1237 1578.2 1248 1578.4 1213 1578.7 1228 1578.9 1228 1579.2 1244 1579.5 1248 1579.7 1219 1580.0 1234 1580.2 1237 1580.5 1237 1580.7 1240 1581.0 1248 1581.2 1219 1581.5 1221 1581.7 1226 1582.0 1231 1582.2 1252 1582.5 1240 1582.8 1240 1583.0 1231 1583.3 1228 1583.5 1237 1583.8 1244 1584.0 1221 1584.3 1231 1584.5 1237 1584.8 1286 1585.0 1248 1585.3 1240 1585.5 1240 1585.8 1234 1586.1 1244 1586.3 1263 1586.6 1252 1586.8 1263 1587.1 1240 1587.3 1234 1587.6 1257 1587.8 1244 1588.1 1244 1588.3 1226 1588.6 1223 1588.8 1237 1589.1 1248 1589.4 1228 1589.6 1231 1589.9 1228 1590.1 1237 1590.4 1252 1590.6 1248 1590.9 1263 1591.1 1228 1591.4 1240 1591.6 1263 1591.9 1228 1592.1 1269 1592.4 1263 1592.7 1240 1592.9 1252 1593.2 1240 1593.4 1252 1593.7 1231 1593.9 1257 1594.2 1244 1594.4 1244 1594.7 1248 1594.9 1240 1595.2 1231 1595.4 1252 1595.7 1219 1596.0 1263 1596.2 1234 1596.5 1244 1596.7 1244 1597.0 1277 1597.2 1231 1597.5 1228 1597.7 1237 1598.0 1248 1598.2 1257 1598.5 1244 1598.7 1252 1599.0 1257 1599.2 1257 1599.5 1252 1599.8 1269 1600.0 1269 1600.3 1257 1600.5 1277 1600.8 1234 1601.0 1234 1601.3 1252 1601.5 1269 1601.8 1286 1602.0 1269 1602.3 1240 1602.5 1248 1602.8 1228 1603.1 1237 1603.3 1237 1603.6 1244 1603.8 1248 1604.1 1234 1604.3 1257 1604.6 1226 1604.8 1248 1605.1 1240 1605.3 1252 1605.6 1277 1605.8 1240 1606.1 1244 1606.4 1252 1606.6 1252 1606.9 1257 1607.1 1263 1607.4 1263 1607.6 1257 1607.9 1244 1608.1 1252 1608.4 1234 1608.6 1269 1608.9 1252 1609.1 1286 1609.4 1252 1609.7 1277 1609.9 1248 1610.2 1263 1610.4 1263 1610.7 1257 1610.9 1252 1611.2 1248 1611.4 1240 1611.7 1263 1611.9 1286 1612.2 1277 1612.4 1269 1612.7 1298 1613.0 1252 1613.2 1263 1613.5 1257 1613.7 1240 1614.0 1257 1614.2 1257 1614.5 1263 1614.7 1244 1615.0 1228 1615.2 1257 1615.5 1248 1615.7 1257 1616.0 1234 1616.3 1248 1616.5 1248 1616.8 1257 1617.0 1263 1617.3 1277 1617.5 1263 1617.8 1252 1618.0 1298 1618.3 1257 1618.5 1248 1618.8 1263 1619.0 1263 1619.3 1269 1619.5 1352 1619.8 1269 1620.1 1269 1620.3 1248 1620.6 1248 1620.8 1277 1621.1 1263 1621.3 1263 1621.6 1248 1621.8 1248 1622.1 1252 1622.3 1277 1622.6 1277 1622.8 1286 1623.1 1257 1623.4 1244 1623.6 1244 1623.9 1263 1624.1 1248 1624.4 1263 1624.6 1269 1624.9 1252 1625.1 1248 1625.4 1269 1625.6 1269 1625.9 1269 1626.1 1257 1626.4 1248 1626.7 1269 1626.9 1286 1627.2 1252 1627.4 1257 1627.7 1231 1627.9 1269 1628.2 1269 1628.4 1252 1628.7 1263 1628.9 1269 1629.2 1269 1629.4 1257 1629.7 1263 1630.0 1286 1630.2 1257 1630.5 1269 1630.7 1263 1631.0 1257 1631.2 1286 1631.5 1277 1631.7 1269 1632.0 1277 1632.2 1298 1632.5 1257 1632.7 1257 1633.0 1257 1633.3 1248 1633.5 1263 1633.8 1257 1634.0 1263 1634.3 1298 1634.5 1286 1634.8 1257 1635.0 1252 1635.3 1240 1635.5 1248 1635.8 1252 1636.0 1237 1636.3 1240 1636.6 1298 1636.8 1263 1637.1 1252 1637.3 1263 1637.6 1277 1637.8 1237 1638.1 1286 1638.3 1263 1638.6 1277 1638.8 1257 1639.1 1263 1639.3 1286 1639.6 1257 1639.8 1240 1640.1 1228 1640.4 1269 1640.6 1277 1640.9 1263 1641.1 1244 1641.4 1244 1641.6 1257 1641.9 1244 1642.1 1269 1642.4 1269 1642.6 1286 1642.9 1263 1643.1 1257 1643.4 1269 1643.7 1252 1643.9 1240 1644.2 1257 1644.4 1269 1644.7 1269 1644.9 1263 1645.2 1252 1645.4 1263 1645.7 1286 1645.9 1263 1646.2 1269 1646.4 1269 1646.7 1257 1647.0 1263 1647.2 1269 1647.5 1277 1647.7 1269 1648.0 1257 1648.2 1252 1648.5 1315 1648.7 1298 1649.0 1248 1649.2 1286 1649.5 1277 1649.7 1269 1650.0 1252 1650.3 1252 1650.5 1263 1650.8 1277 1651.0 1257 1651.3 1257 1651.5 1263 1651.8 1263 1652.0 1269 1652.3 1263 1652.5 1277 1652.8 1298 1653.0 1277 1653.3 1240 1653.6 1269 1653.8 1248 1654.1 1248 1654.3 1248 1654.6 1298 1654.8 1257 1655.1 1344 1655.3 1277 1655.6 1248 1655.8 1269 1656.1 1248 1656.3 1269 1656.6 1263 1656.9 1298 1657.1 1269 1657.4 1277 1657.6 1257 1657.9 1277 1658.1 1286 1658.4 1269 1658.6 1240 1658.9 1252 1659.1 1277 1659.4 1269 1659.6 1277 1659.9 1248 1660.2 1269 1660.4 1257 1660.7 1244 1660.9 1277 1661.2 1269 1661.4 1257 1661.7 1252 1661.9 1263 1662.2 1244 1662.4 1277 1662.7 1277 1662.9 1277 1663.2 1257 1663.4 1269 1663.7 1252 1664.0 1344 1664.2 1277 1664.5 1286 1664.7 1269 1665.0 1298 1665.2 1263 1665.5 1286 1665.7 1237 1666.0 1298 1666.2 1286 1666.5 1252 1666.7 1257 1667.0 1257 1667.3 1263 1667.5 1244 1667.8 1269 1668.0 1257 1668.3 1257 1668.5 1344 1668.8 1269 1669.0 1269 1669.3 1269 1669.5 1248 1669.8 1277 1670.0 1286 1670.3 1286 1670.6 1257 1670.8 1263 1671.1 1277 1671.3 1257 1671.6 1286 1671.8 1252 1672.1 1286 1672.3 1244 1672.6 1263 1672.8 1269 1673.1 1248 1673.3 1286 1673.6 1257 1673.9 1263 1674.1 1277 1674.4 1344 1674.6 1263 1674.9 1263 1675.1 1252 1675.4 1277 1675.6 1286 1675.9 1277 1676.1 1277 1676.4 1263 1676.6 1269 1676.9 1263 1677.2 1263 1677.4 1248 1677.7 1277 1677.9 1269 1678.2 1298 1678.4 1263 1678.7 1269 1678.9 1298 1679.2 1269 1679.4 1286 1679.7 1286 1679.9 1286 1680.2 1263 1680.5 1263 1680.7 1257 1681.0 1277 1681.2 1277 1681.5 1269 1681.7 1298 1682.0 1286 1682.2 1269 1682.5 1257 1682.7 1298 1683.0 1248 1683.2 1298 1683.5 1257 1683.7 1277 1684.0 1277 1684.3 1344 1684.5 1257 1684.8 1252 1685.0 1269 1685.3 1269 1685.5 1269 1685.8 1269 1686.0 1257 1686.3 1240 1686.5 1248 1686.8 1269 1687.0 1244 1687.3 1269 1687.6 1286 1687.8 1269 1688.1 1286 1688.3 1277 1688.6 1277 1688.8 1248 1689.1 1286 1689.3 1248 1689.6 1298 1689.8 1269 1690.1 1315 1690.3 1269 1690.6 1286 1690.9 1248 1691.1 1269 1691.4 1257 1691.6 1269 1691.9 1277 1692.1 1269 1692.4 1286 1692.6 1269 1692.9 1269 1693.1 1263 1693.4 1286 1693.6 1252 1693.9 1269 1694.2 1252 1694.4 1277 1694.7 1269 1694.9 1269 1695.2 1344 1695.4 1252 1695.7 1315 1695.9 1257 1696.2 1286 1696.4 1277 1696.7 1248 1696.9 1286 1697.2 1286 1697.5 1298 1697.7 1269 1698.0 1252 1698.2 1298 1698.5 1248 1698.7 1277 1699.0 1298 1699.2 1269 1699.5 1269 1699.7 1286 1700.0 1277 1700.2 1277 1700.5 1269 1700.8 1237 1701.0 1286 1701.3 1244 1701.5 1269 1701.8 1263 1702.0 1298 1702.3 1286 1702.5 1286 1702.8 1263 1703.0 1298 1703.3 1257 1703.5 1286 1703.8 1315 1704.0 1252 1704.3 1263 1704.6 1269 1704.8 1286 1705.1 1257 1705.3 1286 1705.6 1315 1705.8 1248 1706.1 1277 1706.3 1269 1706.6 1248 1706.8 1269 1707.1 1248 1707.3 1286 1707.6 1269 1707.9 1269 1708.1 1269 1708.4 1252 1708.6 1315 1708.9 1344 1709.1 1248 1709.4 1344 1709.6 1277 1709.9 1298 1710.1 1263 1710.4 1286 1710.6 1263 1710.9 1277 1711.2 1269 1711.4 1248 1711.7 1263 1711.9 1298 1712.2 1257 1712.4 1269 1712.7 1277 1712.9 1315 1713.2 1277 1713.4 1286 1713.7 1269 1713.9 1263 1714.2 1286 1714.5 1277 1714.7 1298 1715.0 1263 1715.2 1315 1715.5 1286 1715.7 1286 1716.0 1277 1716.2 1286 1716.5 1269 1716.7 1263 1717.0 1344 1717.2 1277 1717.5 1263 1717.8 1269 1718.0 1298 1718.3 1286 1718.5 1263 1718.8 1286 1719.0 1277 1719.3 1269 1719.5 1244 1719.8 1286 1720.0 1286 1720.3 1269 1720.5 1352 1720.8 1269 1721.1 1286 1721.3 1277 1721.6 1286 1721.8 1252 1722.1 1277 1722.3 1286 1722.6 1269 1722.8 1252 1723.1 1286 1723.3 1286 1723.6 1344 1723.8 1286 1724.1 1257 1724.4 1269 1724.6 1252 1724.9 1298 1725.1 1240 1725.4 1286 1725.6 1286 1725.9 1298 1726.1 1315 1726.4 1263 1726.6 1269 1726.9 1257 1727.1 1252 1727.4 1277 1727.6 1277 1727.9 1248 1728.2 1263 1728.4 1269 1728.7 1263 1728.9 1277 1729.2 1315 1729.4 1269 1729.7 1286 1729.9 1263 1730.2 1263 1730.4 1269 1730.7 1263 1730.9 1269 1731.2 1248 1731.5 1269 1731.7 1277 1732.0 1277 1732.2 1277 1732.5 1269 1732.7 1286 1733.0 1269 1733.2 1257 1733.5 1298 1733.7 1257 1734.0 1277 1734.2 1286 1734.5 1298 1734.8 1257 1735.0 1277 1735.3 1248 1735.5 1277 1735.8 1263 1736.0 1248 1736.3 1277 1736.5 1269 1736.8 1269 1737.0 1269 1737.3 1252 1737.5 1315 1737.8 1263 1738.1 1277 1738.3 1277 1738.6 1269 1738.8 1269 1739.1 1257 1739.3 1286 1739.6 1248 1739.8 1277 1740.1 1277 1740.3 1298 1740.6 1277 1740.8 1257 1741.1 1298 1741.4 1269 1741.6 1277 1741.9 1269 1742.1 1269 1742.4 1277 1742.6 1286 1742.9 1277 1743.1 1315 1743.4 1257 1743.6 1298 1743.9 1277 1744.1 1248 1744.4 1252 1744.7 1269 1744.9 1277 1745.2 1286 1745.4 1286 1745.7 1286 1745.9 1269 1746.2 1277 1746.4 1269 1746.7 1269 1746.9 1257 1747.2 1315 1747.4 1263 1747.7 1286 1747.9 1298 1748.2 1286 1748.5 1269 1748.7 1263 1749.0 1269 1749.2 1277 1749.5 1248 1749.7 1298 1750.0 1263 1750.2 1248 1750.5 1269 1750.7 1277 1751.0 1269 1751.2 1277 1751.5 1286 1751.8 1252 1752.0 1263 1752.3 1298 1752.5 1263 1752.8 1298 1753.0 1252 1753.3 1298 1753.5 1263 1753.8 1277 1754.0 1298 1754.3 1286 1754.5 1286 1754.8 1269 1755.1 1298 1755.3 1269 1755.6 1269 1755.8 1252 1756.1 1277 1756.3 1269 1756.6 1263 1756.8 1277 1757.1 1263 1757.3 1344 1757.6 1263 1757.8 1277 1758.1 1263 1758.4 1298 1758.6 1277 1758.9 1257 1759.1 1286 1759.4 1263 1759.6 1257 1759.9 1277 1760.1 1269 1760.4 1252 1760.6 1257 1760.9 1277 1761.1 1277 1761.4 1277 1761.7 1286 1761.9 1269 1762.2 1269 1762.4 1257 1762.7 1269 1762.9 1237 1763.2 1263 1763.4 1315 1763.7 1277 1763.9 1315 1764.2 1277 1764.4 1286 1764.7 1286 1765.0 1315 1765.2 1286 1765.5 1315 1765.7 1248 1766.0 1286 1766.2 1269 1766.5 1269 1766.7 1257 1767.0 1286 1767.2 1269 1767.5 1298 1767.7 1286 1768.0 1263 1768.2 1257 1768.5 1286 1768.8 1257 1769.0 1315 1769.3 1277 1769.5 1277 1769.8 1286 1770.0 1257 1770.3 1263 1770.5 1269 1770.8 1277 1771.0 1269 1771.3 1298 1771.5 1315 1771.8 1277 1772.1 1286 1772.3 1252 1772.6 1257 1772.8 1298 1773.1 1257 1773.3 1286 1773.6 1252 1773.8 1298 1774.1 1277 1774.3 1269 1774.6 1286 1774.8 1269 1775.1 1298 1775.4 1286 1775.6 1263 1775.9 1286 1776.1 1263 1776.4 1257 1776.6 1286 1776.9 1298 1777.1 1257 1777.4 1352 1777.6 1298 1777.9 1263 1778.1 1277 1778.4 1277 1778.7 1277 1778.9 1277 1779.2 1298 1779.4 1263 1779.7 1286 1779.9 1286 1780.2 1263 1780.4 1269 1780.7 1252 1780.9 1277 1781.2 1298 1781.4 1269 1781.7 1298 1782.0 1269 1782.2 1298 1782.5 1257 1782.7 1286 1783.0 1263 1783.2 1286 1783.5 1315 1783.7 1269 1784.0 1269 1784.2 1298 1784.5 1269 1784.7 1277 1785.0 1352 1785.3 1277 1785.5 1315 1785.8 1315 1786.0 1277 1786.3 1298 1786.5 1248 1786.8 1269 1787.0 1277 1787.3 1252 1787.5 1315 1787.8 1252 1788.0 1315 1788.3 1263 1788.6 1257 1788.8 1263 1789.1 1286 1789.3 1298 1789.6 1277 1789.8 1269 1790.1 1263 1790.3 1298 1790.6 1252 1790.8 1277 1791.1 1286 1791.3 1269 1791.6 1248 1791.8 1269 1792.1 1344 1792.4 1269 1792.6 1286 1792.9 1263 1793.1 1286 1793.4 1344 1793.6 1315 1793.9 1244 1794.1 1252 1794.4 1298 1794.6 1286 1794.9 1298 1795.1 1257 1795.4 1286 1795.7 1269 1795.9 1286 1796.2 1298 1796.4 1252 1796.7 1248 1796.9 1286 1797.2 1252 1797.4 1248 1797.7 1315 1797.9 1277 1798.2 1269 1798.4 1286 1798.7 1252 1799.0 1298 1799.2 1277 1799.5 1269 1799.7 1277 1800.0 1257 1800.2 1286 1800.5 1269 1800.7 1263 1801.0 1315 1801.2 1257 1801.5 1257 1801.7 1269 1802.0 1269 1802.3 1315 1802.5 1269 1802.8 1252 1803.0 1263 1803.3 1298 1803.5 1298 1803.8 1277 1804.0 1315 1804.3 1315 1804.5 1277 1804.8 1286 1805.0 1286 1805.3 1240 1805.6 1263 1805.8 1252 1806.1 1269 1806.3 1315 1806.6 1237 1806.8 1269 1807.1 1257 1807.3 1263 1807.6 1286 1807.8 1298 1808.1 1263 1808.3 1277 1808.6 1277 1808.9 1269 1809.1 1286 1809.4 1298 1809.6 1263 1809.9 1248 1810.1 1298 1810.4 1286 1810.6 1315 1810.9 1263 1811.1 1286 1811.4 1269 1811.6 1257 1811.9 1298 1812.1 1286 1812.4 1315 1812.7 1286 1812.9 1277 1813.2 1286 1813.4 1257 1813.7 1298 1813.9 1286 1814.2 1257 1814.4 1277 1814.7 1252 1814.9 1277 1815.2 1344 1815.4 1257 1815.7 1286 1816.0 1315 1816.2 1286 1816.5 1344 1816.7 1286 1817.0 1277 1817.2 1286 1817.5 1277 1817.7 1257 1818.0 1252 1818.2 1269 1818.5 1269 1818.7 1257 1819.0 1286 1819.3 1263 1819.5 1263 1819.8 1269 1820.0 1298 1820.3 1315 1820.5 1248 1820.8 1257 1821.0 1315 1821.3 1277 1821.5 1269 1821.8 1269 1822.0 1257 1822.3 1252 1822.6 1286 1822.8 1257 1823.1 1263 1823.3 1277 1823.6 1315 1823.8 1277 1824.1 1248 1824.3 1257 1824.6 1252 1824.8 1286 1825.1 1298 1825.3 1277 1825.6 1277 1825.9 1277 1826.1 1252 1826.4 1252 1826.6 1286 1826.9 1277 1827.1 1286 1827.4 1252 1827.6 1248 1827.9 1269 1828.1 1286 1828.4 1277 1828.6 1315 1828.9 1298 1829.2 1298 1829.4 1263 1829.7 1277 1829.9 1277 1830.2 1269 1830.4 1286 1830.7 1286 1830.9 1269 1831.2 1286 1831.4 1286 1831.7 1277 1831.9 1269 1832.2 1298 1832.4 1277 1832.7 1277 1833.0 1286 1833.2 1263 1833.5 1277 1833.7 1257 1834.0 1263 1834.2 1298 1834.5 1286 1834.7 1277 1835.0 1277 1835.2 1269 1835.5 1286 1835.7 1269 1836.0 1286 1836.3 1277 1836.5 1277 1836.8 1252 1837.0 1263 1837.3 1257 1837.5 1286 1837.8 1298 1838.0 1344 1838.3 1277 1838.5 1244 1838.8 1263 1839.0 1315 1839.3 1315 1839.6 1257 1839.8 1252 1840.1 1298 1840.3 1286 1840.6 1298 1840.8 1277 1841.1 1277 1841.3 1263 1841.6 1277 1841.8 1298 1842.1 1257 1842.3 1269 1842.6 1240 1842.9 1269 1843.1 1248 1843.4 1277 1843.6 1237 1843.9 1269 1844.1 1263 1844.4 1269 1844.6 1257 1844.9 1248 1845.1 1263 1845.4 1269 1845.6 1252 1845.9 1257 1846.2 1286 1846.4 1298 1846.7 1263 1846.9 1269 1847.2 1277 1847.4 1286 1847.7 1277 1847.9 1248 1848.2 1248 1848.4 1257 1848.7 1315 1848.9 1269 1849.2 1263 1849.5 1344 1849.7 1257 1850.0 1286 1850.2 1298 1850.5 1257 1850.7 1248 1851.0 1298 1851.2 1240 1851.5 1315 1851.7 1298 1852.0 1269 1852.2 1286 1852.5 1257 1852.8 1269 1853.0 1277 1853.3 1257 1853.5 1315 1853.8 1277 1854.0 1257 1854.3 1263 1854.5 1269 1854.8 1344 1855.0 1263 1855.3 1277 1855.5 1286 1855.8 1263 1856.0 1286 1856.3 1298 1856.6 1286 1856.8 1286 1857.1 1286 1857.3 1298 1857.6 1257 1857.8 1263 1858.1 1286 1858.3 1269 1858.6 1286 1858.8 1344 1859.1 1252 1859.3 1277 1859.6 1286 1859.9 1252 1860.1 1277 1860.4 1257 1860.6 1263 1860.9 1248 1861.1 1263 1861.4 1286 1861.6 1286 1861.9 1263 1862.1 1263 1862.4 1237 1862.6 1252 1862.9 1277 1863.2 1257 1863.4 1269 1863.7 1277 1863.9 1244 1864.2 1277 1864.4 1252 1864.7 1286 1864.9 1277 1865.2 1344 1865.4 1286 1865.7 1234 1865.9 1248 1866.2 1263 1866.5 1277 1866.7 1286 1867.0 1298 1867.2 1269 1867.5 1344 1867.7 1269 1868.0 1286 1868.2 1277 1868.5 1263 1868.7 1257 1869.0 1286 1869.2 1277 1869.5 1263 1869.8 1286 1870.0 1277 1870.3 1277 1870.5 1269 1870.8 1269 1871.0 1344 1871.3 1263 1871.5 1286 1871.8 1252 1872.0 1286 1872.3 1257 1872.5 1286 1872.8 1315 1873.1 1252 1873.3 1263 1873.6 1315 1873.8 1286 1874.1 1298 1874.3 1252 1874.6 1315 1874.8 1298 1875.1 1269 1875.3 1286 1875.6 1298 1875.8 1263 1876.1 1298 1876.3 1298 1876.6 1269 1876.9 1298 1877.1 1269 1877.4 1298 1877.6 1252 1877.9 1269 1878.1 1286 1878.4 1263 1878.6 1286 1878.9 1286 1879.1 1263 1879.4 1277 1879.6 1286 1879.9 1286 1880.2 1269 1880.4 1252 1880.7 1298 1880.9 1269 1881.2 1277 1881.4 1298 1881.7 1269 1881.9 1263 1882.2 1277 1882.4 1286 1882.7 1277 1882.9 1244 1883.2 1252 1883.5 1286 1883.7 1298 1884.0 1269 1884.2 1286 1884.5 1269 1884.7 1315 1885.0 1277 1885.2 1252 1885.5 1252 1885.7 1298 1886.0 1252 1886.2 1252 1886.5 1277 1886.8 1248 1887.0 1277 1887.3 1269 1887.5 1252 1887.8 1257 1888.0 1263 1888.3 1315 1888.5 1263 1888.8 1257 1889.0 1277 1889.3 1315 1889.5 1286 1889.8 1263 1890.1 1352 1890.3 1257 1890.6 1286 1890.8 1269 1891.1 1263 1891.3 1286 1891.6 1269 1891.8 1286 1892.1 1277 1892.3 1257 1892.6 1269 1892.8 1257 1893.1 1252 1893.4 1269 1893.6 1298 1893.9 1269 1894.1 1298 1894.4 1315 1894.6 1244 1894.9 1248 1895.1 1277 1895.4 1257 1895.6 1277 1895.9 1277 1896.1 1277 1896.4 1269 1896.6 1286 1896.9 1263 1897.2 1286 1897.4 1277 1897.7 1277 1897.9 1257 1898.2 1298 1898.4 1298 1898.7 1263 1898.9 1277 1899.2 1263 1899.4 1286 1899.7 1277 1899.9 1257 1900.2 1277 1900.5 1286 1900.7 1344 1901.0 1277 1901.2 1252 1901.5 1252 1901.7 1277 1902.0 1298 1902.2 1277 1902.5 1277 1902.7 1315 1903.0 1248 1903.2 1257 1903.5 1286 1903.8 1257 1904.0 1277 1904.3 1263 1904.5 1277 1904.8 1263 1905.0 1298 1905.3 1263 1905.5 1315 1905.8 1263 1906.0 1252 1906.3 1277 1906.5 1252 1906.8 1286 1907.1 1248 1907.3 1252 1907.6 1277 1907.8 1298 1908.1 1252 1908.3 1248 1908.6 1252 1908.8 1269 1909.1 1286 1909.3 1277 1909.6 1298 1909.8 1263 1910.1 1286 1910.4 1263 1910.6 1257 1910.9 1269 1911.1 1315 1911.4 1263 1911.6 1277 1911.9 1298 1912.1 1257 1912.4 1286 1912.6 1298 1912.9 1315 1913.1 1315 1913.4 1269 1913.7 1257 1913.9 1252 1914.2 1257 1914.4 1252 1914.7 1286" fill="none" stroke="#ff0000" stroke-width="2.7" stroke-linejoin="round" stroke-linecap="round"/>
<path d="M1393.2 1013.0 1393.5 1013 1393.7 1015 1394.0 1015 1394.2 1017 1394.5 1013 1394.7 1014 1395.0 1014 1395.2 1016 1395.5 1016 1395.7 1018 1396.0 1016 1396.2 1019 1396.5 1019 1396.8 1019 1397.0 1020 1397.3 1019 1397.5 1020 1397.8 1020 1398.0 1021 1398.3 1020 1398.5 1022 1398.8 1022 1399.0 1022 1399.3 1024 1399.5 1023 1399.8 1023 1400.1 1023 1400.3 1024 1400.6 1025 1400.8 1023 1401.1 1025 1401.3 1025 1401.6 1026 1401.8 1026 1402.1 1027 1402.3 1027 1402.6 1028 1402.8 1028 1403.1 1028 1403.4 1029 1403.6 1029 1403.9 1029 1404.1 1029 1404.4 1030 1404.6 1030 1404.9 1029 1405.1 1030 1405.4 1035 1405.6 1031 1405.9 1034 1406.1 1034 1406.4 1033 1406.6 1035 1406.9 1032 1407.2 1033 1407.4 1035 1407.7 1036 1407.9 1035 1408.2 1034 1408.4 1036 1408.7 1034 1408.9 1036 1409.2 1036 1409.4 1038 1409.7 1037 1409.9 1038 1410.2 1040 1410.5 1036 1410.7 1039 1411.0 1039 1411.2 1038 1411.5 1040 1411.7 1040 1412.0 1040 1412.2 1042 1412.5 1040 1412.7 1041 1413.0 1043 1413.2 1042 1413.5 1042 1413.8 1044 1414.0 1043 1414.3 1044 1414.5 1044 1414.8 1044 1415.0 1044 1415.3 1047 1415.5 1046 1415.8 1047 1416.0 1046 1416.3 1048 1416.5 1050 1416.8 1048 1417.1 1045 1417.3 1047 1417.6 1048 1417.8 1046 1418.1 1049 1418.3 1050 1418.6 1049 1418.8 1050 1419.1 1051 1419.3 1051 1419.6 1051 1419.8 1050 1420.1 1053 1420.4 1053 1420.6 1051 1420.9 1050 1421.1 1056 1421.4 1053 1421.6 1052 1421.9 1054 1422.1 1055 1422.4 1053 1422.6 1056 1422.9 1056 1423.1 1056 1423.4 1058 1423.7 1060 1423.9 1055 1424.2 1055 1424.4 1057 1424.7 1058 1424.9 1057 1425.2 1059 1425.4 1061 1425.7 1061 1425.9 1059 1426.2 1060 1426.4 1062 1426.7 1062 1426.9 1059 1427.2 1063 1427.5 1060 1427.7 1061 1428.0 1063 1428.2 1063 1428.5 1062 1428.7 1062 1429.0 1063 1429.2 1061 1429.5 1062 1429.7 1065 1430.0 1065 1430.2 1066 1430.5 1066 1430.8 1065 1431.0 1069 1431.3 1066 1431.5 1066 1431.8 1067 1432.0 1069 1432.3 1068 1432.5 1069 1432.8 1068 1433.0 1072 1433.3 1069 1433.5 1068 1433.8 1070 1434.1 1071 1434.3 1068 1434.6 1066 1434.8 1069 1435.1 1069 1435.3 1071 1435.6 1070 1435.8 1070 1436.1 1073 1436.3 1071 1436.6 1071 1436.8 1074 1437.1 1072 1437.4 1071 1437.6 1072 1437.9 1074 1438.1 1071 1438.4 1073 1438.6 1075 1438.9 1078 1439.1 1076 1439.4 1075 1439.6 1076 1439.9 1076 1440.1 1074 1440.4 1075 1440.7 1075 1440.9 1080 1441.2 1078 1441.4 1076 1441.7 1080 1441.9 1075 1442.2 1081 1442.4 1080 1442.7 1077 1442.9 1084 1443.2 1079 1443.4 1083 1443.7 1083 1444.0 1081 1444.2 1081 1444.5 1080 1444.7 1082 1445.0 1082 1445.2 1084 1445.5 1082 1445.7 1088 1446.0 1082 1446.2 1083 1446.5 1081 1446.7 1081 1447.0 1087 1447.2 1083 1447.5 1086 1447.8 1086 1448.0 1084 1448.3 1085 1448.5 1085 1448.8 1086 1449.0 1086 1449.3 1089 1449.5 1088 1449.8 1086 1450.0 1090 1450.3 1089 1450.5 1087 1450.8 1088 1451.1 1090 1451.3 1088 1451.6 1087 1451.8 1091 1452.1 1093 1452.3 1090 1452.6 1092 1452.8 1091 1453.1 1092 1453.3 1093 1453.6 1091 1453.8 1091 1454.1 1094 1454.4 1090 1454.6 1090 1454.9 1093 1455.1 1093 1455.4 1090 1455.6 1096 1455.9 1096 1456.1 1091 1456.4 1095 1456.6 1094 1456.9 1094 1457.1 1096 1457.4 1098 1457.7 1098 1457.9 1098 1458.2 1097 1458.4 1092 1458.7 1098 1458.9 1095 1459.2 1097 1459.4 1102 1459.7 1098 1459.9 1096 1460.2 1099 1460.4 1097 1460.7 1103 1461.0 1098 1461.2 1100 1461.5 1098 1461.7 1100 1462.0 1103 1462.2 1096 1462.5 1101 1462.7 1097 1463.0 1100 1463.2 1100 1463.5 1101 1463.7 1102 1464.0 1106 1464.3 1101 1464.5 1104 1464.8 1103 1465.0 1104 1465.3 1103 1465.5 1104 1465.8 1104 1466.0 1103 1466.3 1104 1466.5 1102 1466.8 1106 1467.0 1106 1467.3 1107 1467.6 1105 1467.8 1106 1468.1 1104 1468.3 1106 1468.6 1103 1468.8 1109 1469.1 1110 1469.3 1111 1469.6 1108 1469.8 1108 1470.1 1108 1470.3 1106 1470.6 1110 1470.8 1107 1471.1 1107 1471.4 1108 1471.6 1112 1471.9 1111 1472.1 1108 1472.4 1113 1472.6 1110 1472.9 1112 1473.1 1109 1473.4 1114 1473.6 1111 1473.9 1112 1474.1 1110 1474.4 1109 1474.7 1111 1474.9 1114 1475.2 1114 1475.4 1117 1475.7 1117 1475.9 1111 1476.2 1117 1476.4 1120 1476.7 1110 1476.9 1116 1477.2 1119 1477.4 1114 1477.7 1112 1478.0 1116 1478.2 1113 1478.5 1114 1478.7 1118 1479.0 1120 1479.2 1123 1479.5 1117 1479.7 1120 1480.0 1112 1480.2 1123 1480.5 1119 1480.7 1118 1481.0 1122 1481.3 1119 1481.5 1121 1481.8 1116 1482.0 1122 1482.3 1119 1482.5 1120 1482.8 1117 1483.0 1120 1483.3 1124 1483.5 1128 1483.8 1119 1484.0 1127 1484.3 1118 1484.6 1123 1484.8 1120 1485.1 1118 1485.3 1124 1485.6 1118 1485.8 1121 1486.1 1121 1486.3 1124 1486.6 1119 1486.8 1123 1487.1 1125 1487.3 1123 1487.6 1134 1487.9 1124 1488.1 1131 1488.4 1127 1488.6 1127 1488.9 1127 1489.1 1126 1489.4 1127 1489.6 1124 1489.9 1129 1490.1 1131 1490.4 1131 1490.6 1122 1490.9 1132 1491.1 1134 1491.4 1127 1491.7 1127 1491.9 1131 1492.2 1128 1492.4 1127 1492.7 1128 1492.9 1126 1493.2 1129 1493.4 1129 1493.7 1134 1493.9 1129 1494.2 1128 1494.4 1132 1494.7 1139 1495.0 1131 1495.2 1131 1495.5 1134 1495.7 1132 1496.0 1132 1496.2 1134 1496.5 1133 1496.7 1125 1497.0 1130 1497.2 1135 1497.5 1129 1497.7 1141 1498.0 1135 1498.3 1135 1498.5 1136 1498.8 1137 1499.0 1132 1499.3 1133 1499.5 1131 1499.8 1134 1500.0 1136 1500.3 1141 1500.5 1135 1500.8 1141 1501.0 1133 1501.3 1131 1501.6 1140 1501.8 1140 1502.1 1142 1502.3 1137 1502.6 1140 1502.8 1140 1503.1 1141 1503.3 1144 1503.6 1136 1503.8 1139 1504.1 1141 1504.3 1136 1504.6 1151 1504.9 1137 1505.1 1143 1505.4 1139 1505.6 1140 1505.9 1140 1506.1 1148 1506.4 1137 1506.6 1141 1506.9 1141 1507.1 1141 1507.4 1138 1507.6 1147 1507.9 1147 1508.2 1139 1508.4 1141 1508.7 1150 1508.9 1143 1509.2 1143 1509.4 1142 1509.7 1143 1509.9 1151 1510.2 1147 1510.4 1147 1510.7 1144 1510.9 1141 1511.2 1147 1511.4 1144 1511.7 1144 1512.0 1147 1512.2 1141 1512.5 1145 1512.7 1150 1513.0 1148 1513.2 1153 1513.5 1152 1513.7 1150 1514.0 1145 1514.2 1147 1514.5 1140 1514.7 1141 1515.0 1150 1515.3 1148 1515.5 1143 1515.8 1144 1516.0 1148 1516.3 1143 1516.5 1149 1516.8 1150 1517.0 1149 1517.3 1146 1517.5 1153 1517.8 1147 1518.0 1150 1518.3 1141 1518.6 1154 1518.8 1157 1519.1 1150 1519.3 1146 1519.6 1155 1519.8 1158 1520.1 1153 1520.3 1159 1520.6 1149 1520.8 1153 1521.1 1153 1521.3 1153 1521.6 1151 1521.9 1164 1522.1 1156 1522.4 1153 1522.6 1158 1522.9 1150 1523.1 1160 1523.4 1148 1523.6 1151 1523.9 1158 1524.1 1155 1524.4 1156 1524.6 1158 1524.9 1150 1525.2 1153 1525.4 1156 1525.7 1155 1525.9 1160 1526.2 1158 1526.4 1162 1526.7 1159 1526.9 1163 1527.2 1167 1527.4 1162 1527.7 1151 1527.9 1170 1528.2 1169 1528.5 1162 1528.7 1162 1529.0 1157 1529.2 1155 1529.5 1164 1529.7 1153 1530.0 1162 1530.2 1164 1530.5 1173 1530.7 1155 1531.0 1163 1531.2 1160 1531.5 1155 1531.8 1167 1532.0 1160 1532.3 1167 1532.5 1161 1532.8 1170 1533.0 1162 1533.3 1161 1533.5 1166 1533.8 1164 1534.0 1165 1534.3 1160 1534.5 1159 1534.8 1167 1535.0 1159 1535.3 1166 1535.6 1168 1535.8 1163 1536.1 1166 1536.3 1163 1536.6 1165 1536.8 1166 1537.1 1165 1537.3 1172 1537.6 1181 1537.8 1170 1538.1 1167 1538.3 1171 1538.6 1165 1538.9 1168 1539.1 1167 1539.4 1163 1539.6 1164 1539.9 1168 1540.1 1174 1540.4 1174 1540.6 1177 1540.9 1168 1541.1 1171 1541.4 1168 1541.6 1160 1541.9 1165 1542.2 1172 1542.4 1171 1542.7 1170 1542.9 1170 1543.2 1174 1543.4 1177 1543.7 1178 1543.9 1172 1544.2 1172 1544.4 1175 1544.7 1174 1544.9 1172 1545.2 1181 1545.5 1175 1545.7 1163 1546.0 1173 1546.2 1183 1546.5 1165 1546.7 1169 1547.0 1181 1547.2 1162 1547.5 1174 1547.7 1173 1548.0 1177 1548.2 1172 1548.5 1176 1548.8 1180 1549.0 1174 1549.3 1172 1549.5 1173 1549.8 1175 1550.0 1172 1550.3 1174 1550.5 1179 1550.8 1181 1551.0 1174 1551.3 1182 1551.5 1174 1551.8 1186 1552.1 1172 1552.3 1174 1552.6 1170 1552.8 1179 1553.1 1181 1553.3 1177 1553.6 1174 1553.8 1177 1554.1 1172 1554.3 1183 1554.6 1181 1554.8 1181 1555.1 1181 1555.3 1189 1555.6 1172 1555.9 1183 1556.1 1179 1556.4 1178 1556.6 1165 1556.9 1182 1557.1 1193 1557.4 1178 1557.6 1181 1557.9 1177 1558.1 1183 1558.4 1193 1558.6 1188 1558.9 1180 1559.2 1177 1559.4 1181 1559.7 1176 1559.9 1196 1560.2 1183 1560.4 1188 1560.7 1181 1560.9 1186 1561.2 1188 1561.4 1186 1561.7 1190 1561.9 1181 1562.2 1188 1562.5 1208 1562.7 1190 1563.0 1192 1563.2 1192 1563.5 1180 1563.7 1184 1564.0 1188 1564.2 1185 1564.5 1184 1564.7 1201 1565.0 1187 1565.2 1183 1565.5 1184 1565.8 1184 1566.0 1185 1566.3 1196 1566.5 1181 1566.8 1192 1567.0 1188 1567.3 1191 1567.5 1188 1567.8 1191 1568.0 1192 1568.3 1185 1568.5 1196 1568.8 1191 1569.1 1197 1569.3 1198 1569.6 1188 1569.8 1194 1570.1 1194 1570.3 1192 1570.6 1191 1570.8 1192 1571.1 1191 1571.3 1197 1571.6 1184 1571.8 1197 1572.1 1205 1572.4 1183 1572.6 1181 1572.9 1194 1573.1 1193 1573.4 1211 1573.6 1196 1573.9 1191 1574.1 1190 1574.4 1185 1574.6 1197 1574.9 1192 1575.1 1189 1575.4 1188 1575.6 1203 1575.9 1189 1576.2 1190 1576.4 1193 1576.7 1194 1576.9 1210 1577.2 1191 1577.4 1194 1577.7 1189 1577.9 1190 1578.2 1196 1578.4 1189 1578.7 1208 1578.9 1191 1579.2 1190 1579.5 1197 1579.7 1193 1580.0 1196 1580.2 1190 1580.5 1191 1580.7 1202 1581.0 1206 1581.2 1198 1581.5 1187 1581.7 1199 1582.0 1197 1582.2 1196 1582.5 1193 1582.8 1213 1583.0 1202 1583.3 1194 1583.5 1206 1583.8 1185 1584.0 1189 1584.3 1198 1584.5 1202 1584.8 1213 1585.0 1199 1585.3 1196 1585.5 1189 1585.8 1196 1586.1 1226 1586.3 1206 1586.6 1217 1586.8 1217 1587.1 1192 1587.3 1202 1587.6 1199 1587.8 1217 1588.1 1215 1588.3 1199 1588.6 1203 1588.8 1202 1589.1 1202 1589.4 1211 1589.6 1221 1589.9 1196 1590.1 1217 1590.4 1202 1590.6 1201 1590.9 1198 1591.1 1205 1591.4 1197 1591.6 1199 1591.9 1219 1592.1 1221 1592.4 1202 1592.7 1203 1592.9 1203 1593.2 1205 1593.4 1203 1593.7 1208 1593.9 1208 1594.2 1203 1594.4 1211 1594.7 1202 1594.9 1202 1595.2 1202 1595.4 1211 1595.7 1202 1596.0 1201 1596.2 1211 1596.5 1203 1596.7 1210 1597.0 1198 1597.2 1221 1597.5 1201 1597.7 1205 1598.0 1208 1598.2 1205 1598.5 1215 1598.7 1203 1599.0 1210 1599.2 1215 1599.5 1210 1599.8 1205 1600.0 1210 1600.3 1205 1600.5 1208 1600.8 1215 1601.0 1221 1601.3 1217 1601.5 1244 1601.8 1219 1602.0 1196 1602.3 1208 1602.5 1215 1602.8 1210 1603.1 1203 1603.3 1223 1603.6 1210 1603.8 1201 1604.1 1213 1604.3 1223 1604.6 1202 1604.8 1199 1605.1 1211 1605.3 1208 1605.6 1210 1605.8 1201 1606.1 1206 1606.4 1226 1606.6 1201 1606.9 1231 1607.1 1213 1607.4 1213 1607.6 1228 1607.9 1208 1608.1 1205 1608.4 1221 1608.6 1217 1608.9 1215 1609.1 1223 1609.4 1215 1609.7 1215 1609.9 1234 1610.2 1234 1610.4 1211 1610.7 1208 1610.9 1223 1611.2 1219 1611.4 1226 1611.7 1217 1611.9 1215 1612.2 1205 1612.4 1215 1612.7 1205 1613.0 1221 1613.2 1226 1613.5 1208 1613.7 1228 1614.0 1201 1614.2 1213 1614.5 1211 1614.7 1213 1615.0 1208 1615.2 1213 1615.5 1205 1615.7 1217 1616.0 1226 1616.3 1226 1616.5 1221 1616.8 1203 1617.0 1217 1617.3 1208 1617.5 1231 1617.8 1206 1618.0 1234 1618.3 1223 1618.5 1217 1618.8 1221 1619.0 1215 1619.3 1226 1619.5 1219 1619.8 1215 1620.1 1240 1620.3 1221 1620.6 1226 1620.8 1240 1621.1 1210 1621.3 1219 1621.6 1208 1621.8 1217 1622.1 1237 1622.3 1231 1622.6 1217 1622.8 1248 1623.1 1217 1623.4 1226 1623.6 1244 1623.9 1244 1624.1 1234 1624.4 1234 1624.6 1203 1624.9 1234 1625.1 1215 1625.4 1208 1625.6 1228 1625.9 1257 1626.1 1217 1626.4 1223 1626.7 1228 1626.9 1211 1627.2 1234 1627.4 1208 1627.7 1215 1627.9 1231 1628.2 1221 1628.4 1217 1628.7 1221 1628.9 1205 1629.2 1237 1629.4 1215 1629.7 1223 1630.0 1240 1630.2 1215 1630.5 1228 1630.7 1223 1631.0 1226 1631.2 1237 1631.5 1237 1631.7 1217 1632.0 1217 1632.2 1240 1632.5 1223 1632.7 1252 1633.0 1226 1633.3 1219 1633.5 1213 1633.8 1223 1634.0 1226 1634.3 1202 1634.5 1237 1634.8 1219 1635.0 1228 1635.3 1226 1635.5 1237 1635.8 1228 1636.0 1231 1636.3 1221 1636.6 1211 1636.8 1240 1637.1 1240 1637.3 1257 1637.6 1244 1637.8 1223 1638.1 1221 1638.3 1237 1638.6 1228 1638.8 1219 1639.1 1234 1639.3 1223 1639.6 1231 1639.8 1223 1640.1 1234 1640.4 1211 1640.6 1223 1640.9 1228 1641.1 1252 1641.4 1257 1641.6 1240 1641.9 1226 1642.1 1252 1642.4 1228 1642.6 1219 1642.9 1269 1643.1 1228 1643.4 1221 1643.7 1240 1643.9 1248 1644.2 1240 1644.4 1223 1644.7 1248 1644.9 1252 1645.2 1231 1645.4 1211 1645.7 1252 1645.9 1263 1646.2 1221 1646.4 1263 1646.7 1244 1647.0 1244 1647.2 1244 1647.5 1223 1647.7 1228 1648.0 1244 1648.2 1231 1648.5 1228 1648.7 1226 1649.0 1234 1649.2 1240 1649.5 1228 1649.7 1237 1650.0 1228 1650.3 1240 1650.5 1234 1650.8 1244 1651.0 1228 1651.3 1231 1651.5 1223 1651.8 1219 1652.0 1252 1652.3 1237 1652.5 1240 1652.8 1231 1653.0 1244 1653.3 1226 1653.6 1223 1653.8 1226 1654.1 1234 1654.3 1231 1654.6 1234 1654.8 1240 1655.1 1244 1655.3 1244 1655.6 1217 1655.8 1221 1656.1 1213 1656.3 1221 1656.6 1277 1656.9 1257 1657.1 1219 1657.4 1240 1657.6 1244 1657.9 1228 1658.1 1248 1658.4 1248 1658.6 1231 1658.9 1244 1659.1 1252 1659.4 1244 1659.6 1228 1659.9 1240 1660.2 1248 1660.4 1223 1660.7 1226 1660.9 1234 1661.2 1257 1661.4 1221 1661.7 1228 1661.9 1240 1662.2 1223 1662.4 1240 1662.7 1237 1662.9 1240 1663.2 1228 1663.4 1231 1663.7 1257 1664.0 1240 1664.2 1252 1664.5 1240 1664.7 1257 1665.0 1240 1665.2 1240 1665.5 1228 1665.7 1237 1666.0 1252 1666.2 1211 1666.5 1231 1666.7 1248 1667.0 1240 1667.3 1231 1667.5 1240 1667.8 1257 1668.0 1240 1668.3 1248 1668.5 1263 1668.8 1219 1669.0 1237 1669.3 1226 1669.5 1234 1669.8 1228 1670.0 1231 1670.3 1228 1670.6 1228 1670.8 1257 1671.1 1286 1671.3 1257 1671.6 1248 1671.8 1237 1672.1 1244 1672.3 1237 1672.6 1234 1672.8 1237 1673.1 1257 1673.3 1248 1673.6 1231 1673.9 1248 1674.1 1223 1674.4 1244 1674.6 1244 1674.9 1231 1675.1 1223 1675.4 1234 1675.6 1248 1675.9 1234 1676.1 1223 1676.4 1234 1676.6 1277 1676.9 1237 1677.2 1257 1677.4 1240 1677.7 1228 1677.9 1257 1678.2 1248 1678.4 1248 1678.7 1221 1678.9 1248 1679.2 1240 1679.4 1234 1679.7 1240 1679.9 1269 1680.2 1240 1680.5 1234 1680.7 1244 1681.0 1240 1681.2 1244 1681.5 1231 1681.7 1248 1682.0 1277 1682.2 1252 1682.5 1252 1682.7 1223 1683.0 1252 1683.2 1248 1683.5 1240 1683.7 1234 1684.0 1237 1684.3 1257 1684.5 1257 1684.8 1240 1685.0 1237 1685.3 1234 1685.5 1252 1685.8 1257 1686.0 1263 1686.3 1234 1686.5 1240 1686.8 1219 1687.0 1248 1687.3 1228 1687.6 1252 1687.8 1244 1688.1 1277 1688.3 1257 1688.6 1237 1688.8 1244 1689.1 1248 1689.3 1240 1689.6 1252 1689.8 1248 1690.1 1221 1690.3 1237 1690.6 1237 1690.9 1234 1691.1 1237 1691.4 1240 1691.6 1257 1691.9 1237 1692.1 1252 1692.4 1237 1692.6 1244 1692.9 1237 1693.1 1244 1693.4 1244 1693.6 1240 1693.9 1248 1694.2 1252 1694.4 1257 1694.7 1237 1694.9 1248 1695.2 1248 1695.4 1248 1695.7 1248 1695.9 1269 1696.2 1252 1696.4 1244 1696.7 1263 1696.9 1240 1697.2 1263 1697.5 1237 1697.7 1237 1698.0 1252 1698.2 1269 1698.5 1240 1698.7 1269 1699.0 1252 1699.2 1234 1699.5 1234 1699.7 1237 1700.0 1277 1700.2 1263 1700.5 1231 1700.8 1248 1701.0 1237 1701.3 1228 1701.5 1252 1701.8 1248 1702.0 1252 1702.3 1234 1702.5 1231 1702.8 1269 1703.0 1277 1703.3 1257 1703.5 1237 1703.8 1257 1704.0 1248 1704.3 1257 1704.6 1240 1704.8 1248 1705.1 1252 1705.3 1263 1705.6 1263 1705.8 1240 1706.1 1269 1706.3 1240 1706.6 1257 1706.8 1240 1707.1 1286 1707.3 1257 1707.6 1248 1707.9 1244 1708.1 1252 1708.4 1221 1708.6 1237 1708.9 1263 1709.1 1252 1709.4 1244 1709.6 1228 1709.9 1237 1710.1 1269 1710.4 1269 1710.6 1237 1710.9 1234 1711.2 1252 1711.4 1234 1711.7 1231 1711.9 1231 1712.2 1226 1712.4 1248 1712.7 1240 1712.9 1237 1713.2 1237 1713.4 1248 1713.7 1228 1713.9 1257 1714.2 1231 1714.5 1252 1714.7 1240 1715.0 1244 1715.2 1240 1715.5 1263 1715.7 1237 1716.0 1263 1716.2 1277 1716.5 1257 1716.7 1248 1717.0 1248 1717.2 1277 1717.5 1234 1717.8 1244 1718.0 1257 1718.3 1257 1718.5 1248 1718.8 1248 1719.0 1263 1719.3 1252 1719.5 1269 1719.8 1237 1720.0 1237 1720.3 1234 1720.5 1231 1720.8 1244 1721.1 1248 1721.3 1237 1721.6 1240 1721.8 1257 1722.1 1234 1722.3 1263 1722.6 1244 1722.8 1237 1723.1 1257 1723.3 1252 1723.6 1237 1723.8 1286 1724.1 1244 1724.4 1257 1724.6 1257 1724.9 1252 1725.1 1263 1725.4 1240 1725.6 1244 1725.9 1269 1726.1 1252 1726.4 1248 1726.6 1252 1726.9 1234 1727.1 1219 1727.4 1228 1727.6 1248 1727.9 1252 1728.2 1240 1728.4 1286 1728.7 1252 1728.9 1257 1729.2 1269 1729.4 1244 1729.7 1237 1729.9 1263 1730.2 1244 1730.4 1240 1730.7 1257 1730.9 1248 1731.2 1252 1731.5 1240 1731.7 1223 1732.0 1248 1732.2 1244 1732.5 1237 1732.7 1263 1733.0 1257 1733.2 1240 1733.5 1244 1733.7 1257 1734.0 1248 1734.2 1248 1734.5 1257 1734.8 1263 1735.0 1257 1735.3 1269 1735.5 1248 1735.8 1269 1736.0 1269 1736.3 1269 1736.5 1263 1736.8 1237 1737.0 1257 1737.3 1257 1737.5 1234 1737.8 1269 1738.1 1252 1738.3 1277 1738.6 1277 1738.8 1252 1739.1 1263 1739.3 1231 1739.6 1263 1739.8 1248 1740.1 1269 1740.3 1269 1740.6 1257 1740.8 1263 1741.1 1252 1741.4 1269 1741.6 1244 1741.9 1252 1742.1 1257 1742.4 1263 1742.6 1252 1742.9 1248 1743.1 1248 1743.4 1286 1743.6 1286 1743.9 1237 1744.1 1252 1744.4 1286 1744.7 1240 1744.9 1277 1745.2 1257 1745.4 1263 1745.7 1240 1745.9 1252 1746.2 1257 1746.4 1257 1746.7 1234 1746.9 1248 1747.2 1248 1747.4 1257 1747.7 1269 1747.9 1244 1748.2 1252 1748.5 1240 1748.7 1277 1749.0 1257 1749.2 1263 1749.5 1237 1749.7 1231 1750.0 1252 1750.2 1263 1750.5 1263 1750.7 1244 1751.0 1248 1751.2 1263 1751.5 1286 1751.8 1263 1752.0 1269 1752.3 1252 1752.5 1257 1752.8 1237 1753.0 1263 1753.3 1252 1753.5 1237 1753.8 1244 1754.0 1228 1754.3 1240 1754.5 1269 1754.8 1269 1755.1 1244 1755.3 1252 1755.6 1269 1755.8 1248 1756.1 1237 1756.3 1231 1756.6 1257 1756.8 1248 1757.1 1244 1757.3 1269 1757.6 1248 1757.8 1252 1758.1 1263 1758.4 1269 1758.6 1244 1758.9 1277 1759.1 1257 1759.4 1240 1759.6 1269 1759.9 1240 1760.1 1244 1760.4 1248 1760.6 1231 1760.9 1244 1761.1 1244 1761.4 1240 1761.7 1244 1761.9 1263 1762.2 1244 1762.4 1252 1762.7 1248 1762.9 1269 1763.2 1237 1763.4 1257 1763.7 1263 1763.9 1286 1764.2 1252 1764.4 1244 1764.7 1248 1765.0 1263 1765.2 1252 1765.5 1263 1765.7 1244 1766.0 1244 1766.2 1252 1766.5 1252 1766.7 1244 1767.0 1237 1767.2 1277 1767.5 1237 1767.7 1252 1768.0 1257 1768.2 1248 1768.5 1252 1768.8 1269 1769.0 1228 1769.3 1263 1769.5 1277 1769.8 1248 1770.0 1248 1770.3 1269 1770.5 1277 1770.8 1248 1771.0 1263 1771.3 1248 1771.5 1248 1771.8 1257 1772.1 1252 1772.3 1277 1772.6 1286 1772.8 1315 1773.1 1237 1773.3 1277 1773.6 1269 1773.8 1263 1774.1 1231 1774.3 1244 1774.6 1240 1774.8 1257 1775.1 1248 1775.4 1263 1775.6 1237 1775.9 1263 1776.1 1248 1776.4 1244 1776.6 1240 1776.9 1252 1777.1 1269 1777.4 1269 1777.6 1248 1777.9 1237 1778.1 1228 1778.4 1252 1778.7 1252 1778.9 1269 1779.2 1252 1779.4 1240 1779.7 1269 1779.9 1263 1780.2 1263 1780.4 1240 1780.7 1240 1780.9 1269 1781.2 1252 1781.4 1263 1781.7 1263 1782.0 1240 1782.2 1248 1782.5 1277 1782.7 1240 1783.0 1244 1783.2 1257 1783.5 1248 1783.7 1263 1784.0 1286 1784.2 1248 1784.5 1269 1784.7 1277 1785.0 1277 1785.3 1248 1785.5 1248 1785.8 1257 1786.0 1248 1786.3 1257 1786.5 1244 1786.8 1286 1787.0 1244 1787.3 1277 1787.5 1237 1787.8 1248 1788.0 1252 1788.3 1277 1788.6 1257 1788.8 1277 1789.1 1240 1789.3 1263 1789.6 1252 1789.8 1263 1790.1 1248 1790.3 1248 1790.6 1277 1790.8 1257 1791.1 1277 1791.3 1252 1791.6 1231 1791.8 1263 1792.1 1257 1792.4 1269 1792.6 1252 1792.9 1257 1793.1 1257 1793.4 1269 1793.6 1244 1793.9 1257 1794.1 1244 1794.4 1231 1794.6 1234 1794.9 1234 1795.1 1248 1795.4 1248 1795.7 1257 1795.9 1257 1796.2 1248 1796.4 1286 1796.7 1269 1796.9 1252 1797.2 1263 1797.4 1252 1797.7 1286 1797.9 1248 1798.2 1269 1798.4 1263 1798.7 1269 1799.0 1248 1799.2 1244 1799.5 1269 1799.7 1248 1800.0 1277 1800.2 1244 1800.5 1263 1800.7 1240 1801.0 1252 1801.2 1286 1801.5 1263 1801.7 1257 1802.0 1257 1802.3 1252 1802.5 1244 1802.8 1277 1803.0 1269 1803.3 1257 1803.5 1248 1803.8 1237 1804.0 1252 1804.3 1240 1804.5 1269 1804.8 1252 1805.0 1315 1805.3 1269 1805.6 1298 1805.8 1269 1806.1 1269 1806.3 1277 1806.6 1257 1806.8 1237 1807.1 1263 1807.3 1252 1807.6 1244 1807.8 1234 1808.1 1248 1808.3 1237 1808.6 1257 1808.9 1248 1809.1 1248 1809.4 1252 1809.6 1244 1809.9 1277 1810.1 1269 1810.4 1248 1810.6 1237 1810.9 1248 1811.1 1252 1811.4 1257 1811.6 1257 1811.9 1252 1812.1 1244 1812.4 1257 1812.7 1244 1812.9 1263 1813.2 1257 1813.4 1237 1813.7 1277 1813.9 1269 1814.2 1277 1814.4 1286 1814.7 1257 1814.9 1263 1815.2 1252 1815.4 1248 1815.7 1263 1816.0 1257 1816.2 1226 1816.5 1263 1816.7 1231 1817.0 1257 1817.2 1237 1817.5 1244 1817.7 1237 1818.0 1237 1818.2 1240 1818.5 1277 1818.7 1257 1819.0 1252 1819.3 1257 1819.5 1257 1819.8 1240 1820.0 1257 1820.3 1298 1820.5 1269 1820.8 1263 1821.0 1252 1821.3 1269 1821.5 1257 1821.8 1257 1822.0 1248 1822.3 1269 1822.6 1252 1822.8 1244 1823.1 1263 1823.3 1277 1823.6 1231 1823.8 1269 1824.1 1263 1824.3 1252 1824.6 1263 1824.8 1228 1825.1 1257 1825.3 1263 1825.6 1263 1825.9 1248 1826.1 1269 1826.4 1298 1826.6 1248 1826.9 1252 1827.1 1252 1827.4 1269 1827.6 1257 1827.9 1240 1828.1 1286 1828.4 1237 1828.6 1248 1828.9 1286 1829.2 1269 1829.4 1240 1829.7 1269 1829.9 1252 1830.2 1248 1830.4 1269 1830.7 1240 1830.9 1244 1831.2 1286 1831.4 1263 1831.7 1277 1831.9 1248 1832.2 1240 1832.4 1244 1832.7 1237 1833.0 1257 1833.2 1252 1833.5 1263 1833.7 1257 1834.0 1237 1834.2 1269 1834.5 1286 1834.7 1234 1835.0 1252 1835.2 1234 1835.5 1252 1835.7 1252 1836.0 1252 1836.3 1263 1836.5 1244 1836.8 1248 1837.0 1277 1837.3 1263 1837.5 1286 1837.8 1257 1838.0 1248 1838.3 1244 1838.5 1252 1838.8 1257 1839.0 1277 1839.3 1237 1839.6 1240 1839.8 1252 1840.1 1252 1840.3 1252 1840.6 1263 1840.8 1263 1841.1 1221 1841.3 1277 1841.6 1252 1841.8 1252 1842.1 1298 1842.3 1269 1842.6 1277 1842.9 1252 1843.1 1252 1843.4 1269 1843.6 1263 1843.9 1240 1844.1 1244 1844.4 1252 1844.6 1286 1844.9 1263 1845.1 1277 1845.4 1257 1845.6 1252 1845.9 1237 1846.2 1252 1846.4 1240 1846.7 1252 1846.9 1257 1847.2 1263 1847.4 1286 1847.7 1257 1847.9 1257 1848.2 1252 1848.4 1244 1848.7 1277 1848.9 1248 1849.2 1237 1849.5 1269 1849.7 1244 1850.0 1263 1850.2 1269 1850.5 1237 1850.7 1252 1851.0 1248 1851.2 1263 1851.5 1257 1851.7 1263 1852.0 1240 1852.2 1286 1852.5 1252 1852.8 1244 1853.0 1263 1853.3 1252 1853.5 1252 1853.8 1269 1854.0 1277 1854.3 1248 1854.5 1277 1854.8 1257 1855.0 1248 1855.3 1237 1855.5 1252 1855.8 1231 1856.0 1228 1856.3 1244 1856.6 1248 1856.8 1269 1857.1 1269 1857.3 1257 1857.6 1248 1857.8 1263 1858.1 1298 1858.3 1257 1858.6 1248 1858.8 1263 1859.1 1257 1859.3 1257 1859.6 1248 1859.9 1248 1860.1 1263 1860.4 1269 1860.6 1257 1860.9 1252 1861.1 1277 1861.4 1252 1861.6 1252 1861.9 1252 1862.1 1240 1862.4 1252 1862.6 1240 1862.9 1244 1863.2 1277 1863.4 1237 1863.7 1277 1863.9 1252 1864.2 1244 1864.4 1248 1864.7 1248 1864.9 1263 1865.2 1248 1865.4 1277 1865.7 1252 1865.9 1269 1866.2 1257 1866.5 1248 1866.7 1240 1867.0 1257 1867.2 1257 1867.5 1286 1867.7 1257 1868.0 1231 1868.2 1277 1868.5 1248 1868.7 1237 1869.0 1248 1869.2 1248 1869.5 1257 1869.8 1263 1870.0 1252 1870.3 1244 1870.5 1248 1870.8 1240 1871.0 1240 1871.3 1237 1871.5 1257 1871.8 1298 1872.0 1277 1872.3 1252 1872.5 1237 1872.8 1263 1873.1 1237 1873.3 1263 1873.6 1277 1873.8 1257 1874.1 1277 1874.3 1257 1874.6 1252 1874.8 1231 1875.1 1269 1875.3 1252 1875.6 1257 1875.8 1269 1876.1 1248 1876.3 1277 1876.6 1248 1876.9 1248 1877.1 1257 1877.4 1269 1877.6 1248 1877.9 1244 1878.1 1263 1878.4 1252 1878.6 1257 1878.9 1252 1879.1 1269 1879.4 1252 1879.6 1263 1879.9 1286 1880.2 1298 1880.4 1252 1880.7 1257 1880.9 1248 1881.2 1240 1881.4 1263 1881.7 1252 1881.9 1277 1882.2 1248 1882.4 1269 1882.7 1269 1882.9 1298 1883.2 1248 1883.5 1252 1883.7 1263 1884.0 1277 1884.2 1263 1884.5 1248 1884.7 1248 1885.0 1277 1885.2 1286 1885.5 1252 1885.7 1252 1886.0 1257 1886.2 1252 1886.5 1231 1886.8 1237 1887.0 1298 1887.3 1263 1887.5 1277 1887.8 1248 1888.0 1248 1888.3 1257 1888.5 1252 1888.8 1240 1889.0 1252 1889.3 1286 1889.5 1244 1889.8 1244 1890.1 1252 1890.3 1263 1890.6 1228 1890.8 1269 1891.1 1248 1891.3 1244 1891.6 1257 1891.8 1240 1892.1 1269 1892.3 1240 1892.6 1269 1892.8 1231 1893.1 1248 1893.4 1263 1893.6 1263 1893.9 1257 1894.1 1263 1894.4 1257 1894.6 1252 1894.9 1244 1895.1 1263 1895.4 1244 1895.6 1240 1895.9 1226 1896.1 1244 1896.4 1252 1896.6 1269 1896.9 1263 1897.2 1252 1897.4 1248 1897.7 1286 1897.9 1257 1898.2 1263 1898.4 1257 1898.7 1257 1898.9 1244 1899.2 1252 1899.4 1248 1899.7 1252 1899.9 1248 1900.2 1252 1900.5 1240 1900.7 1252 1901.0 1257 1901.2 1263 1901.5 1263 1901.7 1286 1902.0 1240 1902.2 1240 1902.5 1252 1902.7 1263 1903.0 1257 1903.2 1257 1903.5 1269 1903.8 1231 1904.0 1248 1904.3 1231 1904.5 1269 1904.8 1257 1905.0 1252 1905.3 1315 1905.5 1244 1905.8 1286 1906.0 1263 1906.3 1277 1906.5 1286 1906.8 1263 1907.1 1263 1907.3 1298 1907.6 1237 1907.8 1286 1908.1 1231 1908.3 1257 1908.6 1263 1908.8 1244 1909.1 1228 1909.3 1252 1909.6 1263 1909.8 1244 1910.1 1244 1910.4 1257 1910.6 1269 1910.9 1248 1911.1 1257 1911.4 1257 1911.6 1244 1911.9 1269 1912.1 1244 1912.4 1257 1912.6 1257 1912.9 1244 1913.1 1228 1913.4 1248 1913.7 1231 1913.9 1248 1914.2 1269 1914.4 1252 1914.7 1277" fill="none" stroke="#000" stroke-width="2.8" stroke-linejoin="round" stroke-linecap="round"/>
</g>
<path d="M1393.2 957.8V1345.6M1914.9 957.8V1345.6" fill="none" stroke="#000" stroke-width="2.9"/><path d="M1391.8 959.4H1916.3M1391.8 1344H1916.3" fill="none" stroke="#000" stroke-width="3.2"/>
<path d="M1393.2 1344H1384.6M1393.2 1315.1H1388.8M1393.2 1298.1H1388.8M1393.2 1286.1H1388.8M1393.2 1276.8H1388.8M1393.2 1269.2H1388.8M1393.2 1262.7H1388.8M1393.2 1257.2H1388.8M1393.2 1252.2H1388.8M1393.2 1247.8H1384.6M1393.2 1218.9H1388.8M1393.2 1202H1388.8M1393.2 1190H1388.8M1393.2 1180.6H1388.8M1393.2 1173H1388.8M1393.2 1166.6H1388.8M1393.2 1161H1388.8M1393.2 1156.1H1388.8M1393.2 1151.7H1384.6M1393.2 1122.8H1388.8M1393.2 1105.8H1388.8M1393.2 1093.8H1388.8M1393.2 1084.5H1388.8M1393.2 1076.9H1388.8M1393.2 1070.4H1388.8M1393.2 1064.9H1388.8M1393.2 1059.9H1388.8M1393.2 1055.5H1384.6M1393.2 1026.6H1388.8M1393.2 1009.7H1388.8M1393.2 997.7H1388.8M1393.2 988.3H1388.8M1393.2 980.7H1388.8M1393.2 974.3H1388.8M1393.2 968.7H1388.8M1393.2 963.8H1388.8M1393.2 959.4H1384.6M1393.2 1344V1350.8M1463.7 1344V1350.8M1534.2 1344V1350.8M1604.7 1344V1350.8M1675.2 1344V1350.8M1745.6 1344V1350.8M1816.1 1344V1350.8M1886.6 1344V1350.8M1428.4 1344V1347.6M1498.9 1344V1347.6M1569.4 1344V1347.6M1639.9 1344V1347.6M1710.4 1344V1347.6M1780.9 1344V1347.6M1851.4 1344V1347.6" stroke="#000" stroke-width="3.1" fill="none"/>
<text x="1393.2" y="1382.6" font-size="29.1" text-anchor="middle" textLength="31.3" lengthAdjust="spacingAndGlyphs">25</text>
<text x="1463.7" y="1382.6" font-size="29.1" text-anchor="middle" textLength="31.3" lengthAdjust="spacingAndGlyphs">50</text>
<text x="1534.2" y="1382.6" font-size="29.1" text-anchor="middle" textLength="31.3" lengthAdjust="spacingAndGlyphs">75</text>
<text x="1604.7" y="1382.6" font-size="29.1" text-anchor="middle" textLength="47" lengthAdjust="spacingAndGlyphs">100</text>
<text x="1675.2" y="1382.6" font-size="29.1" text-anchor="middle" textLength="47" lengthAdjust="spacingAndGlyphs">125</text>
<text x="1745.6" y="1382.6" font-size="29.1" text-anchor="middle" textLength="47" lengthAdjust="spacingAndGlyphs">150</text>
<text x="1816.1" y="1382.6" font-size="29.1" text-anchor="middle" textLength="47" lengthAdjust="spacingAndGlyphs">175</text>
<text x="1886.6" y="1382.6" font-size="29.1" text-anchor="middle" textLength="47" lengthAdjust="spacingAndGlyphs">200</text>
<text x="1333" y="1352.2" font-size="29.1" textLength="30.5" lengthAdjust="spacingAndGlyphs">10</text>
<text x="1363.6" y="1340.8" font-size="19.8">0</text>
<text x="1333" y="1256" font-size="29.1" textLength="30.5" lengthAdjust="spacingAndGlyphs">10</text>
<text x="1363.6" y="1244.6" font-size="19.8">1</text>
<text x="1333" y="1159.9" font-size="29.1" textLength="30.5" lengthAdjust="spacingAndGlyphs">10</text>
<text x="1363.6" y="1148.5" font-size="19.8">2</text>
<text x="1333" y="1063.8" font-size="29.1" textLength="30.5" lengthAdjust="spacingAndGlyphs">10</text>
<text x="1363.6" y="1052.3" font-size="19.8">3</text>
<text x="1333" y="967.6" font-size="29.1" textLength="30.5" lengthAdjust="spacingAndGlyphs">10</text>
<text x="1363.6" y="956.2" font-size="19.8">4</text>
<text x="1653.8" y="1421.4" font-size="30.4" text-anchor="middle" textLength="121" lengthAdjust="spacingAndGlyphs">Time (ns)</text>
<text x="1311.3" y="1151.5" font-size="30" text-anchor="middle" textLength="322" lengthAdjust="spacingAndGlyphs" transform="rotate(-90 1311.3 1151.5)">PL intensity (Normalized)</text>
<line x1="1670.8" y1="986.3" x2="1718.3" y2="986.3" stroke="#ff0000" stroke-width="2.6" />
<line x1="1670.8" y1="1023" x2="1718.3" y2="1023" stroke="#000" stroke-width="2.6" />
<text x="1728.3" y="994.5" font-size="26" textLength="141.3" lengthAdjust="spacingAndGlyphs">PEDOT:EVA</text>
<text x="1728.3" y="1030.5" font-size="26" textLength="113.3" lengthAdjust="spacingAndGlyphs">Reference</text>
<text x="1289.8" y="953.8" font-size="43.5" font-weight="bold">f</text>
<radialGradient id="gC" cx="0.5" cy="0.5" r="0.62" fx="0.36" fy="0.32"><stop offset="0" stop-color="#808080"/><stop offset="0.45" stop-color="#363636"/><stop offset="0.85" stop-color="#141414"/><stop offset="1" stop-color="#050505"/></radialGradient>
<radialGradient id="gH" cx="0.5" cy="0.5" r="0.62" fx="0.36" fy="0.32"><stop offset="0" stop-color="#ffffff"/><stop offset="0.45" stop-color="#eeeeee"/><stop offset="0.85" stop-color="#b4b4b4"/><stop offset="1" stop-color="#7e7e7e"/></radialGradient>
<radialGradient id="gO" cx="0.5" cy="0.5" r="0.62" fx="0.36" fy="0.32"><stop offset="0" stop-color="#ff7a7a"/><stop offset="0.45" stop-color="#e81c1c"/><stop offset="0.85" stop-color="#a80e0e"/><stop offset="1" stop-color="#7a0808"/></radialGradient>
<radialGradient id="gN" cx="0.5" cy="0.5" r="0.62" fx="0.36" fy="0.32"><stop offset="0" stop-color="#7080ff"/><stop offset="0.45" stop-color="#1c2ce0"/><stop offset="0.85" stop-color="#0c1898"/><stop offset="1" stop-color="#081070"/></radialGradient>
<radialGradient id="gP" cx="0.5" cy="0.5" r="0.62" fx="0.36" fy="0.32"><stop offset="0" stop-color="#bcbc96"/><stop offset="0.45" stop-color="#949468"/><stop offset="0.85" stop-color="#6a6a42"/><stop offset="1" stop-color="#54542f"/></radialGradient>
<radialGradient id="gI" cx="0.5" cy="0.5" r="0.62" fx="0.36" fy="0.32"><stop offset="0" stop-color="#f8d6d9"/><stop offset="0.45" stop-color="#e0a4aa"/><stop offset="0.85" stop-color="#bc7e86"/><stop offset="1" stop-color="#9c6068"/></radialGradient>
<radialGradient id="gCf" cx="0.5" cy="0.5" r="0.62" fx="0.36" fy="0.32"><stop offset="0" stop-color="#a8a8a8"/><stop offset="0.45" stop-color="#727272"/><stop offset="0.85" stop-color="#5a5a5a"/><stop offset="1" stop-color="#4c4c4c"/></radialGradient>
<radialGradient id="gHf" cx="0.5" cy="0.5" r="0.62" fx="0.36" fy="0.32"><stop offset="0" stop-color="#ffffff"/><stop offset="0.45" stop-color="#f2f2f2"/><stop offset="0.85" stop-color="#d0d0d0"/><stop offset="1" stop-color="#b4b4b4"/></radialGradient>
<radialGradient id="gOf" cx="0.5" cy="0.5" r="0.62" fx="0.36" fy="0.32"><stop offset="0" stop-color="#fcc0c0"/><stop offset="0.45" stop-color="#f09494"/><stop offset="0.85" stop-color="#d87878"/><stop offset="1" stop-color="#c46c6c"/></radialGradient>
<radialGradient id="gNf" cx="0.5" cy="0.5" r="0.62" fx="0.36" fy="0.32"><stop offset="0" stop-color="#c0c6ff"/><stop offset="0.45" stop-color="#98a0f0"/><stop offset="0.85" stop-color="#7c84d8"/><stop offset="1" stop-color="#6c74c4"/></radialGradient>
<radialGradient id="gPf" cx="0.5" cy="0.5" r="0.62" fx="0.36" fy="0.32"><stop offset="0" stop-color="#dcdcc8"/><stop offset="0.45" stop-color="#c4c4aa"/><stop offset="0.85" stop-color="#acac90"/><stop offset="1" stop-color="#9c9c80"/></radialGradient>
<radialGradient id="gIf" cx="0.5" cy="0.5" r="0.62" fx="0.36" fy="0.32"><stop offset="0" stop-color="#f8e0e2"/><stop offset="0.45" stop-color="#ecc4c8"/><stop offset="0.85" stop-color="#daaab0"/><stop offset="1" stop-color="#c89aa0"/></radialGradient>
<clipPath id="gcl0"><rect x="5.5" y="1480" width="481.5" height="548.8"/></clipPath>
<path d="M35.5 1491.3L37.9 2028.8M382.5 1491.3L384.9 2028.8" stroke="#2f2fe2" stroke-width="2.3" fill="none"/>
<path d="M94.3 1491.3L96.7 2028.8M442 1491.3L444.4 2028.8" stroke="#9c9cf2" stroke-width="1.8" fill="none"/>
<g clip-path="url(#gcl0)">
<path d="M190 1592.5L191.9 1599.4M191.9 1599.4L193.8 1606.2M190 1592.5L198.8 1598.8M198.8 1598.8L207.5 1605M190 1592.5L186.9 1586.9M181.2 1613.8L187.5 1610M187.5 1610L193.8 1606.2M181.2 1613.8L180.6 1620.6M180.6 1620.6L180 1627.5M398.8 1626.2L406 1624.1M406 1624.1L413.2 1622M227.5 1592.5L240.6 1586.9M240.6 1586.9L253.8 1581.2M227.5 1592.5L230.6 1597.5M230.6 1597.5L233.8 1602.5M227.5 1592.5L217.5 1598.8M217.5 1598.8L207.5 1605M227.5 1592.5L220.2 1604.4M253.8 1581.2L243.8 1591.9M243.8 1591.9L233.8 1602.5M233.8 1602.5L220.6 1603.8M220.6 1603.8L207.5 1605M233.8 1602.5L223.4 1609.4M193.8 1606.2L200.6 1605.6M200.6 1605.6L207.5 1605M193.8 1606.2L186.9 1616.9M186.9 1616.9L180 1627.5M193.8 1606.2L188.8 1593.8M193.8 1606.2L203.4 1611.2M207.5 1605L210.2 1610.6M180 1627.5L186.5 1631.9M413.2 1574.5L406 1585.4M406 1585.4L398.8 1596.2M398.8 1596.2L406 1609.1M406 1609.1L413.2 1622M413.2 1622L427.2 1626.9M427.2 1626.9L441.2 1631.8M441.2 1631.8L450.2 1635.2M142.9 1943.8L150 1943.8M319.1 1944.4L327.5 1940M129.6 1817.5L122.5 1822.5M150.9 1817.1L165 1821.8M243.5 1804.8L233.2 1807.5M251.2 1812.9L248.8 1823.8M323.1 1808.4L331.2 1800.5M409.6 1811.9L401.8 1808.8M430.6 1810L443.8 1805M157.5 1950.6L150 1943.8M252.5 1940.6L261.2 1930M335.9 1948.1L327.5 1940M413.1 1940.4L407.5 1933.2M421.5 1940L424.2 1932.5M407.5 1933.2L415.9 1932.9M415.9 1932.9L424.2 1932.5" stroke="#6e6e6e" stroke-width="3.6" fill="none"/><path d="M186.9 1586.9L183.8 1581.2M220.2 1604.4L213 1616.2M223.4 1609.4L213 1616.2M188.8 1593.8L183.8 1581.2M203.4 1611.2L213 1616.2M210.2 1610.6L213 1616.2M186.5 1631.9L193 1636.2M450.2 1635.2L459.2 1638.8" stroke="#ee9a9a" stroke-width="3.6" fill="none"/><path d="M135.8 1943.8L142.9 1943.8M310.8 1948.8L319.1 1944.4M136.8 1812.5L129.6 1817.5M136.8 1812.5L150.9 1817.1M253.8 1802L243.5 1804.8M253.8 1802L251.2 1812.9M315 1816.2L323.1 1808.4M417.5 1815L409.6 1811.9M417.5 1815L430.6 1810M165 1957.5L157.5 1950.6M243.8 1951.2L252.5 1940.6M344.2 1956.2L335.9 1948.1M418.8 1947.5L413.1 1940.4M418.8 1947.5L421.5 1940" stroke="#98a0ee" stroke-width="3.6" fill="none"/><path d="M173.8 1577.5L178.8 1579.4M212.5 1576.2L220 1584.4M260 1566.2L256.9 1573.8M270 1596.2L261.9 1588.8M211.2 1590L209.4 1597.5M242.5 1622.5L238.1 1612.5M158.8 1631.2L169.4 1629.4M402.5 1558L407.9 1566.2M433.8 1572L423.5 1573.2M392.5 1593.8L395.6 1595M393.8 1606.2L396.2 1601.2M433.8 1611.2L437.5 1621.5M424.2 1643.8L432.8 1637.8M420 1630L416.6 1626M125 1801.2L130.9 1806.9M135 1796.2L135.9 1804.4M165 1811.2L165 1816.5M181.2 1817.5L173.1 1819.6M165 1843.8L165 1832.8M230 1833.8L239.4 1828.8M248.8 1818.8L248.8 1821.2M258.8 1812.5L256.2 1807.2M268.2 1789.5L261 1795.8M265 1836.2L256.9 1830M334.5 1781.8L332.9 1791.1M315 1835L315 1825.6M350 1813.8L340.6 1807.1M416.2 1832.5L416.9 1823.8M422.5 1806.2L420 1810.6M444.2 1787.5L444 1796.2M456.2 1803.8L450 1804.4M455 1820L449.4 1812.5M146.2 1927.5L148.1 1935.6M163.8 1932.5L156.9 1938.1M172.5 1945L168.8 1951.2M252.5 1911.2L256.9 1920.6M251.2 1931.2L256.2 1930.6M276.2 1936.8L268.8 1933.4M331.2 1921.2L329.4 1930.6M331.2 1950L329.4 1945M421.2 1912.5L422.8 1922.5M445 1937.5L434.6 1935M430 1965L424.4 1956.2M422.5 1948.8L420.6 1948.1M155 1971.2L160 1964.4M181.2 1967.5L173.1 1962.5M341.2 1975L342.8 1965.6M222.5 1963.8L233.1 1957.5M250 1968.8L246.9 1960" stroke="#dadada" stroke-width="2.6" fill="none"/><path d="M178.8 1579.4L183.8 1581.2" stroke="#ee9a9a" stroke-width="2.6" fill="none"/><path d="M220 1584.4L227.5 1592.5M256.9 1573.8L253.8 1581.2M261.9 1588.8L253.8 1581.2M209.4 1597.5L207.5 1605M238.1 1612.5L233.8 1602.5M169.4 1629.4L180 1627.5M407.9 1566.2L413.2 1574.5M423.5 1573.2L413.2 1574.5M395.6 1595L398.8 1596.2M396.2 1601.2L398.8 1596.2M437.5 1621.5L441.2 1631.8M432.8 1637.8L441.2 1631.8M416.6 1626L413.2 1622M165 1816.5L165 1821.8M173.1 1819.6L165 1821.8M165 1832.8L165 1821.8M239.4 1828.8L248.8 1823.8M248.8 1821.2L248.8 1823.8M256.9 1830L248.8 1823.8M332.9 1791.1L331.2 1800.5M340.6 1807.1L331.2 1800.5M444 1796.2L443.8 1805M450 1804.4L443.8 1805M449.4 1812.5L443.8 1805M148.1 1935.6L150 1943.8M156.9 1938.1L150 1943.8M256.9 1920.6L261.2 1930M256.2 1930.6L261.2 1930M268.8 1933.4L261.2 1930M329.4 1930.6L327.5 1940M329.4 1945L327.5 1940M422.8 1922.5L424.2 1932.5M434.6 1935L424.2 1932.5" stroke="#6e6e6e" stroke-width="2.6" fill="none"/><path d="M130.9 1806.9L136.8 1812.5M135.9 1804.4L136.8 1812.5M256.2 1807.2L253.8 1802M261 1795.8L253.8 1802M315 1825.6L315 1816.2M416.9 1823.8L417.5 1815M420 1810.6L417.5 1815M168.8 1951.2L165 1957.5M424.4 1956.2L418.8 1947.5M420.6 1948.1L418.8 1947.5M160 1964.4L165 1957.5M173.1 1962.5L165 1957.5M342.8 1965.6L344.2 1956.2M233.1 1957.5L243.8 1951.2M246.9 1960L243.8 1951.2" stroke="#98a0ee" stroke-width="2.6" fill="none"/><path d="M130.8 1760L122.2 1747.5M130.8 1760L127.9 1751.9M235.5 1756.8L227.4 1747.8M235.5 1756.8L219.6 1752.1M235.5 1756.8L254 1753.4M235.5 1756.8L265.2 1754.6M313.8 1749.5L293.1 1749.8M313.8 1749.5L304.4 1751M410.5 1748.8L392.1 1739.4M410.5 1748.8L401.5 1750M410.5 1748.8L394 1748.1M135 1877L120.6 1874.1M135 1877L124.8 1876.6M135 1877L138.8 1881.6M243.2 1881.2L221 1886.5M243.2 1881.2L233.5 1881.9M243.2 1881.2L261.6 1873.1M243.2 1881.2L264.8 1875M319.2 1875L299.6 1870M319.2 1875L302.8 1871.9M319.2 1875L316.5 1869.6M319.2 1875L341.5 1877.5M412 1877L387.9 1878.5M412 1877L404.8 1876.6M163.8 1741.2L171.2 1739.4M163.8 1741.2L173.8 1748.1M163.8 1741.2L138.8 1738.1M163.8 1741.2L144.4 1742.5M163.8 1741.2L191.5 1740M163.8 1741.2L183.8 1744.4M340 1743.8L350.2 1742.1M340 1743.8L345.9 1734.6M340 1743.8L317.5 1748.1M340 1743.8L356.9 1736.9M340 1743.8L366.2 1747.5M340 1743.8L358.8 1745.6M436.8 1747.5L414.6 1749.4M436.8 1747.5L407.1 1747.5M171.2 1865.5L170.2 1875.2M171.2 1865.5L183.1 1872.8M171.2 1865.5L142.9 1870.9M171.2 1865.5L156.9 1875.9M171.2 1865.5L185 1878.6M171.2 1865.5L197.5 1874M273.8 1876.2L265.4 1870.2M273.8 1876.2L248.8 1879.4M273.8 1876.2L276.9 1870.6M273.8 1876.2L280 1872.5M273.8 1876.2L293.8 1870.2M340 1872.5L335.6 1869M340 1872.5L357.5 1874.4M340 1872.5L310 1868.8M340 1872.5L313.1 1870.6M340 1872.5L326.9 1868.4M340 1872.5L351.9 1876.2M340 1872.5L368.8 1874.4M440 1870.8L418.8 1873.5M42 2007.5L64.1 2004.4M133.8 2005L110 2003.1M133.8 2005L128.8 2007.5M133.8 2005L160.4 2006.2M213.2 2003.8L200.1 2005.6M213.2 2003.8L212.9 2000M213.2 2003.8L219.1 2001.2M213.2 2003.8L239.5 2000.9M311.8 2000L288.8 1999M311.8 2000L301.5 2001.2M311.8 2000L310.2 2005M311.8 2000L334.6 1998.8M69.2 2007.5L87.1 2007.9M69.2 2007.5L77.8 2004.4M69.2 2007.5L96.5 2008.8M175 2006.2L181 2001.9M175 2006.2L149.4 2008.1M175 2006.2L181 2006.9M175 2006.2L193.8 2001.2M175 2006.2L200 2002.5M246.2 2005L259.6 2005M246.2 2005L216.6 2006.2M246.2 2005L229.4 2000.6M246.2 2005L235.6 2001.9M246.2 2005L256 2001.5M246.2 2005L268.8 2003.8M246.2 2005L277.5 2007.5M344.2 2002.5L353.8 2002.9M344.2 2002.5L317.8 2002.5M344.2 2002.5L326.5 2006.2M344.2 2002.5L350.9 2000M344.2 2002.5L364.6 2003.1M344.2 2002.5L368.4 2003.1" stroke="#c2c2a8" stroke-width="2.7" fill="none"/><path d="M122.2 1747.5L113.8 1735M127.9 1751.9L125 1743.8M227.4 1747.8L219.2 1738.8M219.6 1752.1L203.8 1747.5M254 1753.4L272.5 1750M265.2 1754.6L295 1752.5M293.1 1749.8L272.5 1750M304.4 1751L295 1752.5M392.1 1739.4L373.8 1730M401.5 1750L392.5 1751.2M394 1748.1L377.5 1747.5M120.6 1874.1L106.2 1871.2M124.8 1876.6L114.5 1876.2M138.8 1881.6L142.5 1886.2M221 1886.5L198.8 1891.8M233.5 1881.9L223.8 1882.5M261.6 1873.1L280 1865M264.8 1875L286.2 1868.8M299.6 1870L280 1865M302.8 1871.9L286.2 1868.8M316.5 1869.6L313.8 1864.2M341.5 1877.5L363.8 1880M387.9 1878.5L363.8 1880M404.8 1876.6L397.5 1876.2M171.2 1739.4L178.8 1737.5M173.8 1748.1L183.8 1755M138.8 1738.1L113.8 1735M144.4 1742.5L125 1743.8M191.5 1740L219.2 1738.8M183.8 1744.4L203.8 1747.5M350.2 1742.1L360.5 1740.5M345.9 1734.6L351.8 1725.5M317.5 1748.1L295 1752.5M356.9 1736.9L373.8 1730M366.2 1747.5L392.5 1751.2M358.8 1745.6L377.5 1747.5M414.6 1749.4L392.5 1751.2M407.1 1747.5L377.5 1747.5M170.2 1875.2L169.2 1885M183.1 1872.8L195 1880M142.9 1870.9L114.5 1876.2M156.9 1875.9L142.5 1886.2M185 1878.6L198.8 1891.8M197.5 1874L223.8 1882.5M265.4 1870.2L257 1864.2M248.8 1879.4L223.8 1882.5M276.9 1870.6L280 1865M280 1872.5L286.2 1868.8M293.8 1870.2L313.8 1864.2M335.6 1869L331.2 1865.5M357.5 1874.4L375 1876.2M310 1868.8L280 1865M313.1 1870.6L286.2 1868.8M326.9 1868.4L313.8 1864.2M351.9 1876.2L363.8 1880M368.8 1874.4L397.5 1876.2M418.8 1873.5L397.5 1876.2M64.1 2004.4L86.2 2001.2M110 2003.1L86.2 2001.2M128.8 2007.5L123.8 2010M160.4 2006.2L187 2007.5M200.1 2005.6L187 2007.5M212.9 2000L212.5 1996.2M219.1 2001.2L225 1998.8M239.5 2000.9L265.8 1998M288.8 1999L265.8 1998M301.5 2001.2L291.2 2002.5M310.2 2005L308.8 2010M334.6 1998.8L357.5 1997.5M87.1 2007.9L105 2008.2M77.8 2004.4L86.2 2001.2M96.5 2008.8L123.8 2010M181 2001.9L187 1997.5M149.4 2008.1L123.8 2010M181 2006.9L187 2007.5M193.8 2001.2L212.5 1996.2M200 2002.5L225 1998.8M259.6 2005L273 2005M216.6 2006.2L187 2007.5M229.4 2000.6L212.5 1996.2M235.6 2001.9L225 1998.8M256 2001.5L265.8 1998M268.8 2003.8L291.2 2002.5M277.5 2007.5L308.8 2010M353.8 2002.9L363.2 2003.2M317.8 2002.5L291.2 2002.5M326.5 2006.2L308.8 2010M350.9 2000L357.5 1997.5M364.6 2003.1L385 2003.8M368.4 2003.1L392.5 2003.8" stroke="#ecccd0" stroke-width="2.7" fill="none"/><path d="M410.5 1748.8L411.5 1781.2M412.2 1845.4L412 1877M163.8 1741.2L173.1 1771.6M176.9 1833.8L171.2 1865.5M340 1743.8L340 1776.9M340 1841.2L340 1872.5M436.8 1747.5L433.4 1778.1M435 1839.8L440 1870.8M340 1872.5L340.4 1906.2M342.5 1971.2L344.2 2002.5M440 1870.8L438.8 1903.5M171.2 1865.5L169.4 1905.2M171.2 1975.6L175 2006.2M70.1 1976.9L69.5 2007.5M243.2 1881.2L241.6 1911.2M243.1 1973.1L246.2 2005" stroke="#c2c2a8" stroke-width="3" fill="none"/><path d="M411.5 1781.2L412.5 1813.8M412.5 1813.8L412.2 1845.4M173.1 1771.6L182.5 1802M182.5 1802L176.9 1833.8M340 1776.9L340 1810M340 1810L340 1841.2M433.4 1778.1L430 1808.8M430 1808.8L435 1839.8M340.4 1906.2L340.8 1940M340.8 1940L342.5 1971.2M438.8 1903.5L437.5 1936.2M169.4 1905.2L167.5 1945M167.5 1945L171.2 1975.6M70.8 1946.2L70.1 1976.9M241.6 1911.2L240 1941.2M240 1941.2L243.1 1973.1" stroke="#ecccd0" stroke-width="3" fill="none"/><path d="M70 2003L70.5 2030M137 2003L137.5 2030M175 2003L175.5 2030M246.2 2003L246.8 2030M313.8 2003L314.2 2030M344.2 2003L344.8 2030" stroke="#b4b49a" stroke-width="3.2" fill="none"/>
<circle cx="113.8" cy="1735" r="10.3" fill="url(#gIf)"/><circle cx="125" cy="1743.8" r="10.3" fill="url(#gIf)"/><circle cx="219.2" cy="1738.8" r="10.3" fill="url(#gIf)"/><circle cx="203.8" cy="1747.5" r="10.3" fill="url(#gIf)"/><circle cx="272.5" cy="1750" r="10.3" fill="url(#gIf)"/><circle cx="295" cy="1752.5" r="10.3" fill="url(#gIf)"/><circle cx="373.8" cy="1730" r="10.3" fill="url(#gIf)"/><circle cx="392.5" cy="1751.2" r="10.3" fill="url(#gIf)"/><circle cx="377.5" cy="1747.5" r="10.3" fill="url(#gIf)"/><circle cx="182.5" cy="1802" r="10.3" fill="url(#gIf)"/><circle cx="145" cy="1818.8" r="10.3" fill="url(#gIf)"/><circle cx="340" cy="1810" r="10.3" fill="url(#gIf)"/><circle cx="412.5" cy="1813.8" r="10.3" fill="url(#gIf)"/><circle cx="430" cy="1808.8" r="10.3" fill="url(#gIf)"/><circle cx="106.2" cy="1871.2" r="10.3" fill="url(#gIf)"/><circle cx="114.5" cy="1876.2" r="10.3" fill="url(#gIf)"/><circle cx="142.5" cy="1886.2" r="10.3" fill="url(#gIf)"/><circle cx="198.8" cy="1891.8" r="10.3" fill="url(#gIf)"/><circle cx="223.8" cy="1882.5" r="10.3" fill="url(#gIf)"/><circle cx="280" cy="1865" r="10.3" fill="url(#gIf)"/><circle cx="286.2" cy="1868.8" r="10.3" fill="url(#gIf)"/><circle cx="313.8" cy="1864.2" r="10.3" fill="url(#gIf)"/><circle cx="363.8" cy="1880" r="10.3" fill="url(#gIf)"/><circle cx="397.5" cy="1876.2" r="10.3" fill="url(#gIf)"/><circle cx="70.8" cy="1946.2" r="10.3" fill="url(#gIf)"/><circle cx="340.8" cy="1940" r="10.3" fill="url(#gIf)"/><circle cx="437.5" cy="1936.2" r="10.3" fill="url(#gIf)"/><circle cx="167.5" cy="1945" r="10.3" fill="url(#gIf)"/><circle cx="240" cy="1815" r="10.3" fill="url(#gIf)"/><circle cx="86.2" cy="2001.2" r="10.3" fill="url(#gIf)"/><circle cx="123.8" cy="2010" r="10.3" fill="url(#gIf)"/><circle cx="187" cy="2007.5" r="10.3" fill="url(#gIf)"/><circle cx="212.5" cy="1996.2" r="10.3" fill="url(#gIf)"/><circle cx="225" cy="1998.8" r="10.3" fill="url(#gIf)"/><circle cx="265.8" cy="1998" r="10.3" fill="url(#gIf)"/><circle cx="291.2" cy="2002.5" r="10.3" fill="url(#gIf)"/><circle cx="308.8" cy="2010" r="10.3" fill="url(#gIf)"/><circle cx="357.5" cy="1997.5" r="10.3" fill="url(#gIf)"/><circle cx="385" cy="2003.8" r="10.3" fill="url(#gIf)"/><circle cx="392.5" cy="2003.8" r="10.3" fill="url(#gIf)"/><circle cx="163.8" cy="1741.2" r="10.3" fill="url(#gPf)"/><circle cx="340" cy="1743.8" r="10.3" fill="url(#gPf)"/><circle cx="436.8" cy="1747.5" r="10.3" fill="url(#gPf)"/><circle cx="171.2" cy="1865.5" r="10.3" fill="url(#gPf)"/><circle cx="273.8" cy="1876.2" r="10.3" fill="url(#gPf)"/><circle cx="340" cy="1872.5" r="10.3" fill="url(#gPf)"/><circle cx="440" cy="1870.8" r="10.3" fill="url(#gPf)"/><circle cx="69.2" cy="2007.5" r="10.3" fill="url(#gPf)"/><circle cx="175" cy="2006.2" r="10.3" fill="url(#gPf)"/><circle cx="246.2" cy="2005" r="10.3" fill="url(#gPf)"/><circle cx="344.2" cy="2002.5" r="10.3" fill="url(#gPf)"/><circle cx="227.5" cy="1592.5" r="8.3" fill="url(#gCf)"/><circle cx="253.8" cy="1581.2" r="8.3" fill="url(#gCf)"/><circle cx="233.8" cy="1602.5" r="8.3" fill="url(#gCf)"/><circle cx="193.8" cy="1606.2" r="8.3" fill="url(#gCf)"/><circle cx="207.5" cy="1605" r="8.3" fill="url(#gCf)"/><circle cx="180" cy="1627.5" r="8.3" fill="url(#gCf)"/><circle cx="413.2" cy="1574.5" r="8.3" fill="url(#gCf)"/><circle cx="398.8" cy="1596.2" r="8.3" fill="url(#gCf)"/><circle cx="413.2" cy="1622" r="8.3" fill="url(#gCf)"/><circle cx="441.2" cy="1631.8" r="8.3" fill="url(#gCf)"/><circle cx="165" cy="1821.8" r="8.3" fill="url(#gCf)"/><circle cx="248.8" cy="1823.8" r="8.3" fill="url(#gCf)"/><circle cx="331.2" cy="1800.5" r="8.3" fill="url(#gCf)"/><circle cx="443.8" cy="1805" r="8.3" fill="url(#gCf)"/><circle cx="150" cy="1943.8" r="8.3" fill="url(#gCf)"/><circle cx="261.2" cy="1930" r="8.3" fill="url(#gCf)"/><circle cx="424.2" cy="1932.5" r="8.3" fill="url(#gCf)"/><circle cx="327.5" cy="1940" r="8.3" fill="url(#gCf)"/><circle cx="136.8" cy="1812.5" r="7.6" fill="url(#gNf)"/><circle cx="253.8" cy="1802" r="7.6" fill="url(#gNf)"/><circle cx="315" cy="1816.2" r="7.6" fill="url(#gNf)"/><circle cx="417.5" cy="1815" r="7.6" fill="url(#gNf)"/><circle cx="165" cy="1957.5" r="7.6" fill="url(#gNf)"/><circle cx="243.8" cy="1951.2" r="7.6" fill="url(#gNf)"/><circle cx="344.2" cy="1956.2" r="7.6" fill="url(#gNf)"/><circle cx="418.8" cy="1947.5" r="7.6" fill="url(#gNf)"/><circle cx="183.8" cy="1581.2" r="7.5" fill="url(#gOf)"/><circle cx="213" cy="1616.2" r="7.5" fill="url(#gOf)"/><circle cx="459.2" cy="1638.8" r="7.5" fill="url(#gOf)"/>
<path d="M190 1592.5L185.6 1603.1M185.6 1603.1L181.2 1613.8M190 1592.5L178.1 1598.8M181.2 1613.8L173.8 1609.4M181.2 1613.8L187.1 1625M186.2 1656.2L173.1 1662.5M173.1 1662.5L160 1668.8M186.2 1656.2L197.8 1665M197.8 1665L209.2 1673.8M186.2 1656.2L189.6 1646.2M209.2 1673.8L222.4 1667.1M222.4 1667.1L235.5 1660.5M334.5 1596.2L339.4 1608.8M339.4 1608.8L344.2 1621.2M344.2 1621.2L331.5 1627.9M331.5 1627.9L318.8 1634.5M344.2 1621.2L354.4 1617.9M318.8 1634.5L322.9 1647.9M322.9 1647.9L327 1661.2M385 1632.5L391.9 1629.4M391.9 1629.4L398.8 1626.2M385 1632.5L374.8 1623.5M385 1632.5L388.4 1642.1M398.8 1626.2L395.2 1639M226.9 1796.6L233.2 1807.5M286 1802.9L294.5 1795M129.1 1823.1L122.5 1822.5M397.4 1810L401.8 1808.8M121 1942.1L106.2 1940.5M304.8 1940.2L298.8 1931.8M394.6 1940.4L407.5 1933.2" stroke="#303030" stroke-width="3.6" fill="none"/><path d="M178.1 1598.8L166.2 1605M173.8 1609.4L166.2 1605M187.1 1625L193 1636.2M189.6 1646.2L193 1636.2M354.4 1617.9L364.5 1614.5M374.8 1623.5L364.5 1614.5M388.4 1642.1L391.8 1651.8M395.2 1639L391.8 1651.8" stroke="#e02020" stroke-width="3.6" fill="none"/><path d="M220.5 1785.8L226.9 1796.6M277.5 1810.8L286 1802.9M135.8 1823.8L129.1 1823.1M393 1811.2L397.4 1810M135.8 1943.8L121 1942.1M310.8 1948.8L304.8 1940.2M381.8 1947.5L394.6 1940.4" stroke="#1a2ad8" stroke-width="3.6" fill="none"/><path d="M197.5 1622.5L195.2 1629.4M145 1652.5L152.5 1660.6M148.8 1677.5L154.4 1673.1M162.5 1683.8L161.2 1676.2M205 1690L207.1 1681.9M212.5 1686.2L210.9 1680M245 1646.2L240.2 1653.4M230 1650L232.8 1655.2M252 1675.5L243.8 1668M185 1601.2L187.5 1596.9M183.8 1642.5L188.4 1639.4M325 1582L329.8 1589.1M349.5 1587L342 1591.6M318 1605L326.2 1600.6M311.2 1622.5L315 1628.5M303.8 1640L311.2 1637.2M355.5 1633.8L349.9 1627.5M310 1668.8L318.5 1665M332 1677.5L329.5 1669.4M344.2 1661.2L335.6 1661.2M377.5 1600L371 1607.2M373.8 1643.8L379.4 1638.1M401.8 1665L396.8 1658.4M102.5 1831.2L112.5 1826.9M129.2 1845L132.5 1834.4M136.2 1832.5L136 1828.1M209.2 1774.2L214.9 1780M234.2 1776.2L227.4 1781M217.5 1820L225.4 1813.8M284.2 1776.8L289.4 1785.9M285 1830L281.2 1820.4M297 1810L295.8 1802.5M275 1800L276.2 1805.4M313.8 1791.2L304.1 1793.1M371.8 1815L382.4 1813.1M390 1790L391.5 1800.6M395 1793.8L398.4 1801.2M392.5 1826.2L392.8 1818.8M402.5 1827.5L402.1 1818.1M102.5 1921.2L104.4 1930.9M92.5 1943.8L99.4 1942.1M101.2 1955L103.8 1947.8M132.5 1930L134.1 1936.9M138.8 1957.5L137.2 1950.6M225 1907.5L227.5 1916.9M220 1931.2L225 1928.8M303.8 1911.2L301.2 1921.5M311.2 1936.2L311 1942.5M363.8 1952.5L372.8 1950M363.8 1936.8L372.8 1942.1M400 1920L403.8 1926.6M415 1921.2L411.2 1927.2M400 1950L403.8 1941.6M375 1962.5L378.4 1955M302.5 1967.5L306.6 1958.1" stroke="#bdbdbd" stroke-width="2.6" fill="none"/><path d="M195.2 1629.4L193 1636.2M188.4 1639.4L193 1636.2M371 1607.2L364.5 1614.5M396.8 1658.4L391.8 1651.8" stroke="#e02020" stroke-width="2.6" fill="none"/><path d="M152.5 1660.6L160 1668.8M154.4 1673.1L160 1668.8M161.2 1676.2L160 1668.8M207.1 1681.9L209.2 1673.8M210.9 1680L209.2 1673.8M240.2 1653.4L235.5 1660.5M232.8 1655.2L235.5 1660.5M243.8 1668L235.5 1660.5M187.5 1596.9L190 1592.5M329.8 1589.1L334.5 1596.2M342 1591.6L334.5 1596.2M326.2 1600.6L334.5 1596.2M315 1628.5L318.8 1634.5M311.2 1637.2L318.8 1634.5M349.9 1627.5L344.2 1621.2M318.5 1665L327 1661.2M329.5 1669.4L327 1661.2M335.6 1661.2L327 1661.2M379.4 1638.1L385 1632.5M112.5 1826.9L122.5 1822.5M225.4 1813.8L233.2 1807.5M289.4 1785.9L294.5 1795M295.8 1802.5L294.5 1795M304.1 1793.1L294.5 1795M398.4 1801.2L401.8 1808.8M402.1 1818.1L401.8 1808.8M104.4 1930.9L106.2 1940.5M99.4 1942.1L106.2 1940.5M103.8 1947.8L106.2 1940.5M227.5 1916.9L230 1926.2M225 1928.8L230 1926.2M301.2 1921.5L298.8 1931.8M403.8 1926.6L407.5 1933.2M411.2 1927.2L407.5 1933.2M403.8 1941.6L407.5 1933.2" stroke="#303030" stroke-width="2.6" fill="none"/><path d="M132.5 1834.4L135.8 1823.8M136 1828.1L135.8 1823.8M214.9 1780L220.5 1785.8M227.4 1781L220.5 1785.8M281.2 1820.4L277.5 1810.8M276.2 1805.4L277.5 1810.8M382.4 1813.1L393 1811.2M391.5 1800.6L393 1811.2M392.8 1818.8L393 1811.2M134.1 1936.9L135.8 1943.8M137.2 1950.6L135.8 1943.8M311 1942.5L310.8 1948.8M372.8 1950L381.8 1947.5M372.8 1942.1L381.8 1947.5M378.4 1955L381.8 1947.5M306.6 1958.1L310.8 1948.8" stroke="#1a2ad8" stroke-width="2.6" fill="none"/><path d="M130.8 1760L111.2 1753.4M130.8 1760L109.8 1766M130.8 1760L154.8 1748.8M130.8 1760L157.2 1757.5M235.5 1756.8L207.1 1747.1M235.5 1756.8L209.6 1755.9M235.5 1756.8L249 1752.8M313.8 1749.5L288.1 1749.1M313.8 1749.5L337.1 1745M313.8 1749.5L332.8 1737.5M410.5 1748.8L385.5 1744.6M135 1877L107.9 1871.2M135 1877L152.1 1881M135 1877L165 1878.5M243.2 1881.2L219.1 1880.6M243.2 1881.2L250.1 1872.8M319.2 1875L325.2 1870.2M319.2 1875L347.1 1875.6M412 1877L393.5 1876.6M133.8 2005L119.4 2006.6M133.8 2005L160.4 2001.2M213.2 2003.8L200.1 2000.6M213.2 2003.8L243.1 2004.4M311.8 2000L292.4 2002.5M311.8 2000L337.5 2001.6" stroke="#9c9c74" stroke-width="2.7" fill="none"/><path d="M111.2 1753.4L91.8 1746.8M109.8 1766L88.8 1772M154.8 1748.8L178.8 1737.5M157.2 1757.5L183.8 1755M207.1 1747.1L178.8 1737.5M209.6 1755.9L183.8 1755M249 1752.8L262.5 1748.8M288.1 1749.1L262.5 1748.8M337.1 1745L360.5 1740.5M332.8 1737.5L351.8 1725.5M385.5 1744.6L360.5 1740.5M107.9 1871.2L80.8 1865.5M152.1 1881L169.2 1885M165 1878.5L195 1880M219.1 1880.6L195 1880M250.1 1872.8L257 1864.2M325.2 1870.2L331.2 1865.5M347.1 1875.6L375 1876.2M393.5 1876.6L375 1876.2M119.4 2006.6L105 2008.2M160.4 2001.2L187 1997.5M200.1 2000.6L187 1997.5M243.1 2004.4L273 2005M292.4 2002.5L273 2005M337.5 2001.6L363.2 2003.2" stroke="#e0aeb3" stroke-width="2.7" fill="none"/><path d="M130.8 1760L137.9 1789.4M140 1847.9L135 1877M235.5 1756.8L237.8 1785.9M241.6 1848.1L243.2 1881.2M313.8 1749.5L319.4 1780M322.1 1842.8L319.2 1875M135 1877L135.6 1909.1M135.9 1973.1L135.5 2005M215.2 1973.8L213.8 2003.8M319.2 1875L319.2 1907.5M315.9 1970L312.5 2000" stroke="#9c9c74" stroke-width="3" fill="none"/><path d="M137.9 1789.4L145 1818.8M145 1818.8L140 1847.9M237.8 1785.9L240 1815M240 1815L241.6 1848.1M319.4 1780L325 1810.5M325 1810.5L322.1 1842.8M135.6 1909.1L136.2 1941.2M136.2 1941.2L135.9 1973.1M216.8 1943.8L215.2 1973.8M319.2 1907.5L319.2 1940M319.2 1940L315.9 1970" stroke="#e0aeb3" stroke-width="3" fill="none"/>
<circle cx="91.8" cy="1746.8" r="10.3" fill="url(#gI)"/><circle cx="88.8" cy="1772" r="10.3" fill="url(#gI)"/><circle cx="178.8" cy="1737.5" r="10.3" fill="url(#gI)"/><circle cx="183.8" cy="1755" r="10.3" fill="url(#gI)"/><circle cx="262.5" cy="1748.8" r="10.3" fill="url(#gI)"/><circle cx="360.5" cy="1740.5" r="10.3" fill="url(#gI)"/><circle cx="351.8" cy="1725.5" r="10.3" fill="url(#gI)"/><circle cx="203.8" cy="1804.5" r="10.3" fill="url(#gI)"/><circle cx="325" cy="1810.5" r="10.3" fill="url(#gI)"/><circle cx="80.8" cy="1865.5" r="10.3" fill="url(#gI)"/><circle cx="169.2" cy="1885" r="10.3" fill="url(#gI)"/><circle cx="195" cy="1880" r="10.3" fill="url(#gI)"/><circle cx="257" cy="1864.2" r="10.3" fill="url(#gI)"/><circle cx="331.2" cy="1865.5" r="10.3" fill="url(#gI)"/><circle cx="375" cy="1876.2" r="10.3" fill="url(#gI)"/><circle cx="216.8" cy="1943.8" r="10.3" fill="url(#gI)"/><circle cx="240" cy="1941.2" r="10.3" fill="url(#gI)"/><circle cx="319.2" cy="1940" r="10.3" fill="url(#gI)"/><circle cx="105" cy="2008.2" r="10.3" fill="url(#gI)"/><circle cx="187" cy="1997.5" r="10.3" fill="url(#gI)"/><circle cx="273" cy="2005" r="10.3" fill="url(#gI)"/><circle cx="363.2" cy="2003.2" r="10.3" fill="url(#gI)"/><circle cx="130.8" cy="1760" r="10.3" fill="url(#gP)"/><circle cx="235.5" cy="1756.8" r="10.3" fill="url(#gP)"/><circle cx="313.8" cy="1749.5" r="10.3" fill="url(#gP)"/><circle cx="410.5" cy="1748.8" r="10.3" fill="url(#gP)"/><circle cx="135" cy="1877" r="10.3" fill="url(#gP)"/><circle cx="243.2" cy="1881.2" r="10.3" fill="url(#gP)"/><circle cx="319.2" cy="1875" r="10.3" fill="url(#gP)"/><circle cx="412" cy="1877" r="10.3" fill="url(#gP)"/><circle cx="42" cy="2007.5" r="10.3" fill="url(#gP)"/><circle cx="133.8" cy="2005" r="10.3" fill="url(#gP)"/><circle cx="213.2" cy="2003.8" r="10.3" fill="url(#gP)"/><circle cx="311.8" cy="2000" r="10.3" fill="url(#gP)"/><circle cx="190" cy="1592.5" r="8.3" fill="url(#gC)"/><circle cx="181.2" cy="1613.8" r="8.3" fill="url(#gC)"/><circle cx="186.2" cy="1656.2" r="8.3" fill="url(#gC)"/><circle cx="160" cy="1668.8" r="8.3" fill="url(#gC)"/><circle cx="209.2" cy="1673.8" r="8.3" fill="url(#gC)"/><circle cx="235.5" cy="1660.5" r="8.3" fill="url(#gC)"/><circle cx="334.5" cy="1596.2" r="8.3" fill="url(#gC)"/><circle cx="344.2" cy="1621.2" r="8.3" fill="url(#gC)"/><circle cx="318.8" cy="1634.5" r="8.3" fill="url(#gC)"/><circle cx="327" cy="1661.2" r="8.3" fill="url(#gC)"/><circle cx="385" cy="1632.5" r="8.3" fill="url(#gC)"/><circle cx="398.8" cy="1626.2" r="8.3" fill="url(#gC)"/><circle cx="122.5" cy="1822.5" r="8.3" fill="url(#gC)"/><circle cx="233.2" cy="1807.5" r="8.3" fill="url(#gC)"/><circle cx="294.5" cy="1795" r="8.3" fill="url(#gC)"/><circle cx="401.8" cy="1808.8" r="8.3" fill="url(#gC)"/><circle cx="106.2" cy="1940.5" r="8.3" fill="url(#gC)"/><circle cx="230" cy="1926.2" r="8.3" fill="url(#gC)"/><circle cx="298.8" cy="1931.8" r="8.3" fill="url(#gC)"/><circle cx="407.5" cy="1933.2" r="8.3" fill="url(#gC)"/><circle cx="220.5" cy="1785.8" r="7.6" fill="url(#gN)"/><circle cx="277.5" cy="1810.8" r="7.6" fill="url(#gN)"/><circle cx="135.8" cy="1823.8" r="7.6" fill="url(#gN)"/><circle cx="393" cy="1811.2" r="7.6" fill="url(#gN)"/><circle cx="135.8" cy="1943.8" r="7.6" fill="url(#gN)"/><circle cx="310.8" cy="1948.8" r="7.6" fill="url(#gN)"/><circle cx="381.8" cy="1947.5" r="7.6" fill="url(#gN)"/><circle cx="166.2" cy="1605" r="7.5" fill="url(#gO)"/><circle cx="193" cy="1636.2" r="7.5" fill="url(#gO)"/><circle cx="364.5" cy="1614.5" r="7.5" fill="url(#gO)"/><circle cx="391.8" cy="1651.8" r="7.5" fill="url(#gO)"/><circle cx="173.8" cy="1577.5" r="4.6" fill="url(#gH)"/><circle cx="212.5" cy="1576.2" r="4.6" fill="url(#gH)"/><circle cx="260" cy="1566.2" r="4.6" fill="url(#gH)"/><circle cx="270" cy="1596.2" r="4.6" fill="url(#gH)"/><circle cx="211.2" cy="1590" r="4.6" fill="url(#gH)"/><circle cx="242.5" cy="1622.5" r="4.6" fill="url(#gH)"/><circle cx="197.5" cy="1622.5" r="4.6" fill="url(#gH)"/><circle cx="158.8" cy="1631.2" r="4.6" fill="url(#gH)"/><circle cx="145" cy="1652.5" r="4.6" fill="url(#gH)"/><circle cx="148.8" cy="1677.5" r="4.6" fill="url(#gH)"/><circle cx="162.5" cy="1683.8" r="4.6" fill="url(#gH)"/><circle cx="205" cy="1690" r="4.6" fill="url(#gH)"/><circle cx="212.5" cy="1686.2" r="4.6" fill="url(#gH)"/><circle cx="245" cy="1646.2" r="4.6" fill="url(#gH)"/><circle cx="230" cy="1650" r="4.6" fill="url(#gH)"/><circle cx="252" cy="1675.5" r="4.6" fill="url(#gH)"/><circle cx="185" cy="1601.2" r="4.6" fill="url(#gH)"/><circle cx="183.8" cy="1642.5" r="4.6" fill="url(#gH)"/><circle cx="325" cy="1582" r="4.6" fill="url(#gH)"/><circle cx="349.5" cy="1587" r="4.6" fill="url(#gH)"/><circle cx="318" cy="1605" r="4.6" fill="url(#gH)"/><circle cx="311.2" cy="1622.5" r="4.6" fill="url(#gH)"/><circle cx="303.8" cy="1640" r="4.6" fill="url(#gH)"/><circle cx="355.5" cy="1633.8" r="4.6" fill="url(#gH)"/><circle cx="310" cy="1668.8" r="4.6" fill="url(#gH)"/><circle cx="332" cy="1677.5" r="4.6" fill="url(#gH)"/><circle cx="344.2" cy="1661.2" r="4.6" fill="url(#gH)"/><circle cx="402.5" cy="1558" r="4.6" fill="url(#gH)"/><circle cx="433.8" cy="1572" r="4.6" fill="url(#gH)"/><circle cx="377.5" cy="1600" r="4.6" fill="url(#gH)"/><circle cx="392.5" cy="1593.8" r="4.6" fill="url(#gH)"/><circle cx="393.8" cy="1606.2" r="4.6" fill="url(#gH)"/><circle cx="433.8" cy="1611.2" r="4.6" fill="url(#gH)"/><circle cx="373.8" cy="1643.8" r="4.6" fill="url(#gH)"/><circle cx="424.2" cy="1643.8" r="4.6" fill="url(#gH)"/><circle cx="401.8" cy="1665" r="4.6" fill="url(#gH)"/><circle cx="420" cy="1630" r="4.6" fill="url(#gH)"/><circle cx="125" cy="1801.2" r="4.6" fill="url(#gH)"/><circle cx="135" cy="1796.2" r="4.6" fill="url(#gH)"/><circle cx="102.5" cy="1831.2" r="4.6" fill="url(#gH)"/><circle cx="129.2" cy="1845" r="4.6" fill="url(#gH)"/><circle cx="136.2" cy="1832.5" r="4.6" fill="url(#gH)"/><circle cx="165" cy="1811.2" r="4.6" fill="url(#gH)"/><circle cx="181.2" cy="1817.5" r="4.6" fill="url(#gH)"/><circle cx="165" cy="1843.8" r="4.6" fill="url(#gH)"/><circle cx="209.2" cy="1774.2" r="4.6" fill="url(#gH)"/><circle cx="234.2" cy="1776.2" r="4.6" fill="url(#gH)"/><circle cx="217.5" cy="1820" r="4.6" fill="url(#gH)"/><circle cx="230" cy="1833.8" r="4.6" fill="url(#gH)"/><circle cx="248.8" cy="1818.8" r="4.6" fill="url(#gH)"/><circle cx="258.8" cy="1812.5" r="4.6" fill="url(#gH)"/><circle cx="268.2" cy="1789.5" r="4.6" fill="url(#gH)"/><circle cx="265" cy="1836.2" r="4.6" fill="url(#gH)"/><circle cx="284.2" cy="1776.8" r="4.6" fill="url(#gH)"/><circle cx="285" cy="1830" r="4.6" fill="url(#gH)"/><circle cx="297" cy="1810" r="4.6" fill="url(#gH)"/><circle cx="275" cy="1800" r="4.6" fill="url(#gH)"/><circle cx="313.8" cy="1791.2" r="4.6" fill="url(#gH)"/><circle cx="334.5" cy="1781.8" r="4.6" fill="url(#gH)"/><circle cx="315" cy="1835" r="4.6" fill="url(#gH)"/><circle cx="350" cy="1813.8" r="4.6" fill="url(#gH)"/><circle cx="371.8" cy="1815" r="4.6" fill="url(#gH)"/><circle cx="390" cy="1790" r="4.6" fill="url(#gH)"/><circle cx="395" cy="1793.8" r="4.6" fill="url(#gH)"/><circle cx="392.5" cy="1826.2" r="4.6" fill="url(#gH)"/><circle cx="402.5" cy="1827.5" r="4.6" fill="url(#gH)"/><circle cx="416.2" cy="1832.5" r="4.6" fill="url(#gH)"/><circle cx="422.5" cy="1806.2" r="4.6" fill="url(#gH)"/><circle cx="444.2" cy="1787.5" r="4.6" fill="url(#gH)"/><circle cx="456.2" cy="1803.8" r="4.6" fill="url(#gH)"/><circle cx="455" cy="1820" r="4.6" fill="url(#gH)"/><circle cx="102.5" cy="1921.2" r="4.6" fill="url(#gH)"/><circle cx="92.5" cy="1943.8" r="4.6" fill="url(#gH)"/><circle cx="101.2" cy="1955" r="4.6" fill="url(#gH)"/><circle cx="132.5" cy="1930" r="4.6" fill="url(#gH)"/><circle cx="146.2" cy="1927.5" r="4.6" fill="url(#gH)"/><circle cx="163.8" cy="1932.5" r="4.6" fill="url(#gH)"/><circle cx="138.8" cy="1957.5" r="4.6" fill="url(#gH)"/><circle cx="172.5" cy="1945" r="4.6" fill="url(#gH)"/><circle cx="225" cy="1907.5" r="4.6" fill="url(#gH)"/><circle cx="252.5" cy="1911.2" r="4.6" fill="url(#gH)"/><circle cx="220" cy="1931.2" r="4.6" fill="url(#gH)"/><circle cx="196.2" cy="1942.5" r="4.6" fill="url(#gH)"/><circle cx="251.2" cy="1931.2" r="4.6" fill="url(#gH)"/><circle cx="276.2" cy="1936.8" r="4.6" fill="url(#gH)"/><circle cx="303.8" cy="1911.2" r="4.6" fill="url(#gH)"/><circle cx="331.2" cy="1921.2" r="4.6" fill="url(#gH)"/><circle cx="311.2" cy="1936.2" r="4.6" fill="url(#gH)"/><circle cx="331.2" cy="1950" r="4.6" fill="url(#gH)"/><circle cx="363.8" cy="1952.5" r="4.6" fill="url(#gH)"/><circle cx="363.8" cy="1936.8" r="4.6" fill="url(#gH)"/><circle cx="400" cy="1920" r="4.6" fill="url(#gH)"/><circle cx="421.2" cy="1912.5" r="4.6" fill="url(#gH)"/><circle cx="415" cy="1921.2" r="4.6" fill="url(#gH)"/><circle cx="445" cy="1937.5" r="4.6" fill="url(#gH)"/><circle cx="400" cy="1950" r="4.6" fill="url(#gH)"/><circle cx="375" cy="1962.5" r="4.6" fill="url(#gH)"/><circle cx="430" cy="1965" r="4.6" fill="url(#gH)"/><circle cx="422.5" cy="1948.8" r="4.6" fill="url(#gH)"/><circle cx="155" cy="1971.2" r="4.6" fill="url(#gH)"/><circle cx="181.2" cy="1967.5" r="4.6" fill="url(#gH)"/><circle cx="302.5" cy="1967.5" r="4.6" fill="url(#gH)"/><circle cx="341.2" cy="1975" r="4.6" fill="url(#gH)"/><circle cx="222.5" cy="1963.8" r="4.6" fill="url(#gH)"/><circle cx="250" cy="1968.8" r="4.6" fill="url(#gH)"/>
</g>
<text x="198" y="2073.8" font-size="41.1" textLength="76.5" lengthAdjust="spacingAndGlyphs">0 ps</text>
<clipPath id="gcl1"><rect x="497.5" y="1480" width="482.5" height="548.8"/></clipPath>
<path d="M527.5 1491.3L529.9 2028.8M875.5 1491.3L877.9 2028.8" stroke="#2f2fe2" stroke-width="2.3" fill="none"/>
<path d="M586.8 1491.3L589.2 2028.8M935 1491.3L937.4 2028.8" stroke="#9c9cf2" stroke-width="1.8" fill="none"/>
<g clip-path="url(#gcl1)">
<path d="M855 1653.8L847.5 1660M847.5 1660L840 1666.2M855 1653.8L860.6 1654.4M886.2 1650L889 1645M889 1645L891.8 1640M886.2 1650L886.2 1658.1M886.2 1658.1L886.2 1666.2M886.2 1650L876.2 1652.5M896.2 1661.2L894 1650.6M894 1650.6L891.8 1640M896.2 1661.2L891.2 1663.8M891.2 1663.8L886.2 1666.2M896.2 1661.2L906 1657.5M906 1657.5L915.8 1653.8M938 1683.8L939.6 1678.1M939.6 1678.1L941.2 1672.5M891.8 1640L889 1653.1M889 1653.1L886.2 1666.2M891.8 1640L903.8 1646.9M903.8 1646.9L915.8 1653.8M891.8 1640L879 1647.5M820 1666.2L830 1666.2M830 1666.2L840 1666.2M820 1666.2L828.1 1672.8M840 1666.2L853.1 1660.6M840 1666.2L838.1 1672.8M886.2 1666.2L901 1660M901 1660L915.8 1653.8M886.2 1666.2L876.2 1660.6M915.8 1653.8L928.5 1663.1M928.5 1663.1L941.2 1672.5M915.8 1653.8L920.4 1658.1M941.2 1672.5L933.1 1667.5M744.1 1796.8L751.2 1803M818.1 1806.6L822.5 1802M911.6 1811.2L920.8 1808.8M659.1 1943.1L652 1935M756.2 1934.4L756.2 1930M912.2 1937.5L907 1930M927.8 1940.6L938 1936.2M739.2 1805L745.2 1804M745.2 1804L751.2 1803" stroke="#6e6e6e" stroke-width="3.6" fill="none"/><path d="M860.6 1654.4L866.2 1655M876.2 1652.5L866.2 1655M879 1647.5L866.2 1655M828.1 1672.8L836.2 1679.2M853.1 1660.6L866.2 1655M838.1 1672.8L836.2 1679.2M876.2 1660.6L866.2 1655M920.4 1658.1L925 1662.5M933.1 1667.5L925 1662.5" stroke="#ee9a9a" stroke-width="3.6" fill="none"/><path d="M737 1790.5L744.1 1796.8M813.8 1811.2L818.1 1806.6M902.5 1813.8L911.6 1811.2M666.2 1951.2L659.1 1943.1M756.2 1938.8L756.2 1934.4M917.5 1945L912.2 1937.5M917.5 1945L927.8 1940.6" stroke="#98a0ee" stroke-width="3.6" fill="none"/><path d="M867.5 1638L866.9 1646.5M887.5 1629.2L889.6 1634.6M901.2 1624.2L896.5 1632.1M920.8 1636.2L918.2 1645M800 1666.2L810 1666.2M821.8 1650.8L820.9 1658.5M821.2 1685L828.8 1682.1M850 1673.8L845 1670M872.5 1670L879.4 1668.1M887.5 1680L886.9 1673.1M887.5 1686.2L886.9 1676.2M951.2 1672.5L946.2 1672.5M620 1831.2L628.8 1826.9M655 1833.8L646.2 1828.1M646.2 1818.8L641.9 1820.6M756.2 1786.2L753.8 1794.6M765 1796.2L758.1 1799.6M755 1823.8L753.1 1813.4M797.5 1823.8L805.6 1817.5M838.8 1790L830.6 1796M830 1823.8L821.9 1817.5M826.2 1817.5L820 1814.4M893.8 1811.2L898.1 1812.5M895 1796.2L898.8 1805M933.8 1791.2L927.2 1800M910 1825L906.2 1819.4M932.5 1826.2L926.6 1817.5M661.2 1916.2L656.6 1925.6M645 1938.8L648.5 1936.9M653.8 1945L652.9 1940M685 1955L675.6 1953.1M740 1922.5L748.1 1926.2M758.8 1910L757.5 1920M767.5 1941.2L761.9 1940M743.8 1956.2L750 1947.5M755 1957.5L755.6 1948.1M823.8 1943.8L828.1 1947.5M853.8 1948.8L843.1 1950M830 1967.5L831.2 1959.4M923.8 1931.2L930.9 1933.8M948.8 1921.2L943.4 1928.8M930 1950L923.8 1947.5M951.2 1952.5L944.6 1944.4M656.2 1968.8L661.2 1960" stroke="#dadada" stroke-width="2.6" fill="none"/><path d="M866.9 1646.5L866.2 1655M828.8 1682.1L836.2 1679.2" stroke="#ee9a9a" stroke-width="2.6" fill="none"/><path d="M889.6 1634.6L891.8 1640M896.5 1632.1L891.8 1640M918.2 1645L915.8 1653.8M810 1666.2L820 1666.2M820.9 1658.5L820 1666.2M845 1670L840 1666.2M879.4 1668.1L886.2 1666.2M886.9 1673.1L886.2 1666.2M886.9 1676.2L886.2 1666.2M946.2 1672.5L941.2 1672.5M753.8 1794.6L751.2 1803M758.1 1799.6L751.2 1803M753.1 1813.4L751.2 1803M830.6 1796L822.5 1802M927.2 1800L920.8 1808.8M926.6 1817.5L920.8 1808.8M656.6 1925.6L652 1935M648.5 1936.9L652 1935M652.9 1940L652 1935M748.1 1926.2L756.2 1930M757.5 1920L756.2 1930M930.9 1933.8L938 1936.2M943.4 1928.8L938 1936.2M944.6 1944.4L938 1936.2" stroke="#6e6e6e" stroke-width="2.6" fill="none"/><path d="M628.8 1826.9L637.5 1822.5M646.2 1828.1L637.5 1822.5M641.9 1820.6L637.5 1822.5M805.6 1817.5L813.8 1811.2M821.9 1817.5L813.8 1811.2M820 1814.4L813.8 1811.2M898.1 1812.5L902.5 1813.8M898.8 1805L902.5 1813.8M906.2 1819.4L902.5 1813.8M675.6 1953.1L666.2 1951.2M761.9 1940L756.2 1938.8M750 1947.5L756.2 1938.8M755.6 1948.1L756.2 1938.8M828.1 1947.5L832.5 1951.2M843.1 1950L832.5 1951.2M831.2 1959.4L832.5 1951.2M923.8 1947.5L917.5 1945M661.2 1960L666.2 1951.2" stroke="#98a0ee" stroke-width="2.6" fill="none"/><path d="M638.2 1751.2L628.5 1749.4M638.2 1751.2L654.1 1746.2M638.2 1751.2L634.1 1753.1M735 1748.8L724.4 1741.2M735 1748.8L719.4 1749.4M735 1748.8L758.8 1741.9M735 1748.8L765.6 1748.1M799.2 1730L790.9 1732.5M799.2 1730L797.8 1738.8M799.2 1730L823.4 1731.9M633.2 1870L617.9 1865.9M633.2 1870L632.2 1876.2M633.2 1870L658.5 1873.1M733.8 1872.5L723.8 1866.9M733.8 1872.5L708.8 1874.4M733.8 1872.5L753.1 1868.8M733.8 1872.5L757.5 1874.1M810 1875.8L791.2 1870.4M810 1875.8L795.6 1875.8M810 1875.8L833.1 1871M810 1875.8L815 1872.2M568.8 1745L575 1740M568.8 1745L576 1757.5M568.8 1745L593.8 1746.2M568.8 1745L599.4 1750M592.5 1756.2L586.9 1745.6M592.5 1756.2L587.9 1763.1M592.5 1756.2L605.6 1751.9M592.5 1756.2L611.2 1755.6M663.8 1748.8L673.1 1742.5M663.8 1748.8L641.2 1748.1M663.8 1748.8L666.9 1745M663.8 1748.8L688.8 1741.2M663.8 1748.8L683.8 1749.4M663.8 1748.8L646.9 1751.9M762.5 1741.2L763.8 1733.8M762.5 1741.2L756.5 1734.4M762.5 1741.2L738.1 1737.5M762.5 1741.2L733.1 1745.6M762.5 1741.2L772.5 1738.1M762.5 1741.2L779.4 1744.4M837.5 1731.2L847.1 1726.2M837.5 1731.2L810 1733.1M837.5 1731.2L816.9 1739.4M837.5 1731.2L842.5 1732.5M837.5 1731.2L856.2 1731.9M837.5 1731.2L864.4 1737.5M558 1872L566.1 1866.4M558 1872L580.2 1866.9M664.2 1873.8L660.6 1878.5M664.2 1873.8L678.6 1877.2M664.2 1873.8L633.4 1867.8M664.2 1873.8L647.8 1878.1M664.2 1873.8L689 1867.5M664.2 1873.8L674 1875M838.2 1873.8L833.5 1871.9M838.2 1873.8L854.8 1870.9M838.2 1873.8L809.8 1874.8M838.2 1873.8L847.2 1870M838.2 1873.8L829.1 1871.2M838.2 1873.8L867.5 1878.1M936.2 1872L916.5 1877.2M561.2 2000.8L573.8 1999.8M561.2 2000.8L588.8 2001.6M561.2 2000.8L592.5 2002.2M637.5 2004.5L611.9 2001.6M637.5 2004.5L626.9 2003.5M637.5 2004.5L630.6 2004.1M637.5 2004.5L656.9 2004.8M735.5 2005L705.9 2005M735.5 2005L719.6 2007.5M735.5 2005L726.5 2005M735.5 2005L745.2 2006.9M735.5 2005L759 2006.2M735.5 2005L765.9 2007.5M805 2001.2L780 2005M805 2001.2L793.8 2004.4M805 2001.2L800.6 2005.6M805 2001.2L826.2 2002.5M669.2 2001.2L677.1 2001M669.2 2001.2L642.8 2001.9M669.2 2001.2L646.5 2002.5M669.2 2001.2L672.8 2003.1M669.2 2001.2L686.5 2005.6M669.2 2001.2L693.4 2003.1M763.8 1995.5L765 2000.2M763.8 1995.5L733.8 2002.8M763.8 1995.5L740.6 2000.2M763.8 1995.5L759.4 2002.1M763.8 1995.5L773.1 2001.5M763.8 1995.5L780 2002.8M836.2 1998.8L846.2 2001M836.2 1998.8L809.4 2003.1M836.2 1998.8L816.2 2004.4M836.2 1998.8L841.9 2001.2M836.2 1998.8L860 1997.1M836.2 1998.8L861.9 2000" stroke="#c2c2a8" stroke-width="2.7" fill="none"/><path d="M628.5 1749.4L618.8 1747.5M654.1 1746.2L670 1741.2M634.1 1753.1L630 1755M724.4 1741.2L713.8 1733.8M719.4 1749.4L703.8 1750M758.8 1741.9L782.5 1735M765.6 1748.1L796.2 1747.5M790.9 1732.5L782.5 1735M797.8 1738.8L796.2 1747.5M823.4 1731.9L847.5 1733.8M617.9 1865.9L602.5 1861.8M632.2 1876.2L631.2 1882.5M658.5 1873.1L683.8 1876.2M723.8 1866.9L713.8 1861.2M708.8 1874.4L683.8 1876.2M753.1 1868.8L772.5 1865M757.5 1874.1L781.2 1875.8M791.2 1870.4L772.5 1865M795.6 1875.8L781.2 1875.8M833.1 1871L856.2 1866.2M815 1872.2L820 1868.8M575 1740L581.2 1735M576 1757.5L583.2 1770M593.8 1746.2L618.8 1747.5M599.4 1750L630 1755M586.9 1745.6L581.2 1735M587.9 1763.1L583.2 1770M605.6 1751.9L618.8 1747.5M611.2 1755.6L630 1755M673.1 1742.5L682.5 1736.2M641.2 1748.1L618.8 1747.5M666.9 1745L670 1741.2M688.8 1741.2L713.8 1733.8M683.8 1749.4L703.8 1750M646.9 1751.9L630 1755M763.8 1733.8L765 1726.2M756.5 1734.4L750.5 1727.5M738.1 1737.5L713.8 1733.8M733.1 1745.6L703.8 1750M772.5 1738.1L782.5 1735M779.4 1744.4L796.2 1747.5M847.1 1726.2L856.8 1721.2M810 1733.1L782.5 1735M816.9 1739.4L796.2 1747.5M842.5 1732.5L847.5 1733.8M856.2 1731.9L875 1732.5M864.4 1737.5L891.2 1743.8M566.1 1866.4L574.2 1860.8M580.2 1866.9L602.5 1861.8M660.6 1878.5L657 1883.2M678.6 1877.2L693 1880.8M633.4 1867.8L602.5 1861.8M647.8 1878.1L631.2 1882.5M689 1867.5L713.8 1861.2M674 1875L683.8 1876.2M833.5 1871.9L828.8 1870M854.8 1870.9L871.2 1868M809.8 1874.8L781.2 1875.8M847.2 1870L856.2 1866.2M829.1 1871.2L820 1868.8M867.5 1878.1L896.8 1882.5M916.5 1877.2L896.8 1882.5M573.8 1999.8L586.2 1998.8M588.8 2001.6L616.2 2002.5M592.5 2002.2L623.8 2003.8M611.9 2001.6L586.2 1998.8M626.9 2003.5L616.2 2002.5M630.6 2004.1L623.8 2003.8M656.9 2004.8L676.2 2005M705.9 2005L676.2 2005M719.6 2007.5L703.8 2010M726.5 2005L717.5 2005M745.2 2006.9L755 2008.8M759 2006.2L782.5 2007.5M765.9 2007.5L796.2 2010M780 2005L755 2008.8M793.8 2004.4L782.5 2007.5M800.6 2005.6L796.2 2010M826.2 2002.5L847.5 2003.8M677.1 2001L685 2000.8M642.8 2001.9L616.2 2002.5M646.5 2002.5L623.8 2003.8M672.8 2003.1L676.2 2005M686.5 2005.6L703.8 2010M693.4 2003.1L717.5 2005M765 2000.2L766.2 2005M733.8 2002.8L703.8 2010M740.6 2000.2L717.5 2005M759.4 2002.1L755 2008.8M773.1 2001.5L782.5 2007.5M780 2002.8L796.2 2010M846.2 2001L856.2 2003.2M809.4 2003.1L782.5 2007.5M816.2 2004.4L796.2 2010M841.9 2001.2L847.5 2003.8M860 1997.1L883.8 1995.5M861.9 2000L887.5 2001.2" stroke="#ecccd0" stroke-width="2.7" fill="none"/><path d="M568.8 1745L564.4 1778.5M559 1842L558 1872M663.8 1748.8L666.9 1778.5M667.1 1841L664.2 1873.8M762.5 1741.2L765 1771.6M769.4 1836L771.2 1870M837.5 1731.2L838.1 1768.8M838.5 1840L838.2 1873.8M902.5 1813.8L911.6 1826.9M928.5 1856L936.2 1872M664.2 1873.8L666.8 1907.5M669.2 1971.2L669.2 2001.2M838.2 1873.8L835.8 1906.2M834.8 1968.8L836.2 1998.8M771.2 1870L767.5 1902.5M763.8 1965.2L763.8 1995.5M837.2 1715L837.5 1727.5M596.6 1976.2L598.8 2007.5" stroke="#c2c2a8" stroke-width="3" fill="none"/><path d="M564.4 1778.5L560 1812M560 1812L559 1842M666.9 1778.5L670 1808.2M670 1808.2L667.1 1841M765 1771.6L767.5 1802M767.5 1802L769.4 1836M838.1 1768.8L838.8 1806.2M838.8 1806.2L838.5 1840M911.6 1826.9L920.8 1840M920.8 1840L928.5 1856M666.8 1907.5L669.2 1941.2M669.2 1941.2L669.2 1971.2M835.8 1906.2L833.2 1938.8M833.2 1938.8L834.8 1968.8M767.5 1902.5L763.8 1935M763.8 1935L763.8 1965.2M594.5 1945L596.6 1976.2" stroke="#ecccd0" stroke-width="3" fill="none"/><path d="M836.2 1679.2L836.6 1690.9M836.6 1690.9L837 1702.5M837 1702.5L837.2 1715" stroke="#ee9a9a" stroke-width="3" fill="none"/><path d="M562.5 2003L563 2030M597.5 2003L598 2030M637 2003L637.5 2030M668.2 2003L668.8 2030M736.2 2003L736.8 2030M806.2 2003L806.8 2030M837 2003L837.5 2030" stroke="#b4b49a" stroke-width="3.2" fill="none"/>
<circle cx="618.8" cy="1747.5" r="10.3" fill="url(#gIf)"/><circle cx="670" cy="1741.2" r="10.3" fill="url(#gIf)"/><circle cx="713.8" cy="1733.8" r="10.3" fill="url(#gIf)"/><circle cx="703.8" cy="1750" r="10.3" fill="url(#gIf)"/><circle cx="782.5" cy="1735" r="10.3" fill="url(#gIf)"/><circle cx="796.2" cy="1747.5" r="10.3" fill="url(#gIf)"/><circle cx="847.5" cy="1733.8" r="10.3" fill="url(#gIf)"/><circle cx="875" cy="1732.5" r="10.3" fill="url(#gIf)"/><circle cx="891.2" cy="1743.8" r="10.3" fill="url(#gIf)"/><circle cx="630" cy="1755" r="10.3" fill="url(#gIf)"/><circle cx="560" cy="1812" r="10.3" fill="url(#gIf)"/><circle cx="670" cy="1808.2" r="10.3" fill="url(#gIf)"/><circle cx="722.5" cy="1809.2" r="10.3" fill="url(#gIf)"/><circle cx="767.5" cy="1802" r="10.3" fill="url(#gIf)"/><circle cx="838.8" cy="1806.2" r="10.3" fill="url(#gIf)"/><circle cx="602.5" cy="1861.8" r="10.3" fill="url(#gIf)"/><circle cx="631.2" cy="1882.5" r="10.3" fill="url(#gIf)"/><circle cx="713.8" cy="1861.2" r="10.3" fill="url(#gIf)"/><circle cx="683.8" cy="1876.2" r="10.3" fill="url(#gIf)"/><circle cx="772.5" cy="1865" r="10.3" fill="url(#gIf)"/><circle cx="781.2" cy="1875.8" r="10.3" fill="url(#gIf)"/><circle cx="856.2" cy="1866.2" r="10.3" fill="url(#gIf)"/><circle cx="820" cy="1868.8" r="10.3" fill="url(#gIf)"/><circle cx="896.8" cy="1882.5" r="10.3" fill="url(#gIf)"/><circle cx="594.5" cy="1945" r="10.3" fill="url(#gIf)"/><circle cx="633.8" cy="1941.2" r="10.3" fill="url(#gIf)"/><circle cx="669.2" cy="1941.2" r="10.3" fill="url(#gIf)"/><circle cx="817.5" cy="1931.2" r="10.3" fill="url(#gIf)"/><circle cx="833.2" cy="1938.8" r="10.3" fill="url(#gIf)"/><circle cx="735" cy="1937.5" r="10.3" fill="url(#gIf)"/><circle cx="586.2" cy="1998.8" r="10.3" fill="url(#gIf)"/><circle cx="616.2" cy="2002.5" r="10.3" fill="url(#gIf)"/><circle cx="623.8" cy="2003.8" r="10.3" fill="url(#gIf)"/><circle cx="676.2" cy="2005" r="10.3" fill="url(#gIf)"/><circle cx="703.8" cy="2010" r="10.3" fill="url(#gIf)"/><circle cx="717.5" cy="2005" r="10.3" fill="url(#gIf)"/><circle cx="755" cy="2008.8" r="10.3" fill="url(#gIf)"/><circle cx="782.5" cy="2007.5" r="10.3" fill="url(#gIf)"/><circle cx="796.2" cy="2010" r="10.3" fill="url(#gIf)"/><circle cx="847.5" cy="2003.8" r="10.3" fill="url(#gIf)"/><circle cx="883.8" cy="1995.5" r="10.3" fill="url(#gIf)"/><circle cx="887.5" cy="2001.2" r="10.3" fill="url(#gIf)"/><circle cx="568.8" cy="1745" r="10.3" fill="url(#gPf)"/><circle cx="592.5" cy="1756.2" r="10.3" fill="url(#gPf)"/><circle cx="663.8" cy="1748.8" r="10.3" fill="url(#gPf)"/><circle cx="762.5" cy="1741.2" r="10.3" fill="url(#gPf)"/><circle cx="837.5" cy="1731.2" r="10.3" fill="url(#gPf)"/><circle cx="558" cy="1872" r="10.3" fill="url(#gPf)"/><circle cx="664.2" cy="1873.8" r="10.3" fill="url(#gPf)"/><circle cx="838.2" cy="1873.8" r="10.3" fill="url(#gPf)"/><circle cx="936.2" cy="1872" r="10.3" fill="url(#gPf)"/><circle cx="669.2" cy="2001.2" r="10.3" fill="url(#gPf)"/><circle cx="763.8" cy="1995.5" r="10.3" fill="url(#gPf)"/><circle cx="836.2" cy="1998.8" r="10.3" fill="url(#gPf)"/><circle cx="891.8" cy="1640" r="8.3" fill="url(#gCf)"/><circle cx="820" cy="1666.2" r="8.3" fill="url(#gCf)"/><circle cx="840" cy="1666.2" r="8.3" fill="url(#gCf)"/><circle cx="886.2" cy="1666.2" r="8.3" fill="url(#gCf)"/><circle cx="915.8" cy="1653.8" r="8.3" fill="url(#gCf)"/><circle cx="941.2" cy="1672.5" r="8.3" fill="url(#gCf)"/><circle cx="751.2" cy="1803" r="8.3" fill="url(#gCf)"/><circle cx="822.5" cy="1802" r="8.3" fill="url(#gCf)"/><circle cx="920.8" cy="1808.8" r="8.3" fill="url(#gCf)"/><circle cx="652" cy="1935" r="8.3" fill="url(#gCf)"/><circle cx="756.2" cy="1930" r="8.3" fill="url(#gCf)"/><circle cx="938" cy="1936.2" r="8.3" fill="url(#gCf)"/><circle cx="637.5" cy="1822.5" r="7.6" fill="url(#gNf)"/><circle cx="813.8" cy="1811.2" r="7.6" fill="url(#gNf)"/><circle cx="902.5" cy="1813.8" r="7.6" fill="url(#gNf)"/><circle cx="666.2" cy="1951.2" r="7.6" fill="url(#gNf)"/><circle cx="756.2" cy="1938.8" r="7.6" fill="url(#gNf)"/><circle cx="832.5" cy="1951.2" r="7.6" fill="url(#gNf)"/><circle cx="917.5" cy="1945" r="7.6" fill="url(#gNf)"/><circle cx="866.2" cy="1655" r="7.5" fill="url(#gOf)"/><circle cx="836.2" cy="1679.2" r="7.5" fill="url(#gOf)"/>
<path d="M553.8 1635L568.5 1641.9M568.5 1641.9L583.2 1648.8M583.2 1648.8L586 1635.6M586 1635.6L588.8 1622.5M583.2 1648.8L582.9 1661.2M603.2 1673.8L604.5 1687.2M604.5 1687.2L605.8 1700.8M603.2 1673.8L610.4 1664M603.2 1673.8L592.9 1673.8M788.2 1553.8L791.2 1568.5M791.2 1568.5L794.2 1583.2M794.2 1583.2L785.2 1590.4M794.2 1583.2L801.8 1588.2M779.5 1625.8L765 1631.4M765 1631.4L750.5 1637M779.5 1625.8L787.6 1629.1M787.6 1629.1L795.8 1632.5M779.5 1625.8L777.9 1611.6M795.8 1632.5L811.6 1628.8M811.6 1628.8L827.5 1625M855 1653.8L870.6 1651.9M870.6 1651.9L886.2 1650M886.2 1650L891.2 1655.6M891.2 1655.6L896.2 1661.2M896.2 1661.2L910.6 1661.9M938 1683.8L952.8 1683.4M952.8 1683.4L967.5 1683M938 1683.8L931.5 1673.1M938 1683.8L932.4 1691.2M616.9 1810.4L602.5 1815.8M738.1 1797.8L739.2 1805M786.6 1790L791.2 1795M874.6 1791L874.2 1805M625 1945.2L613.2 1939.2M718.8 1942.9L731.2 1938.2M796.2 1939.1L782.5 1940.8M909.4 1941L907 1930" stroke="#303030" stroke-width="3.6" fill="none"/><path d="M582.9 1661.2L582.5 1673.8M610.4 1664L617.5 1654.2M592.9 1673.8L582.5 1673.8M785.2 1590.4L776.2 1597.5M801.8 1588.2L809.2 1593.2M777.9 1611.6L776.2 1597.5M910.6 1661.9L925 1662.5M931.5 1673.1L925 1662.5M932.4 1691.2L926.8 1698.8" stroke="#e02020" stroke-width="3.6" fill="none"/><path d="M631.2 1805L616.9 1810.4M737 1790.5L738.1 1797.8M782 1785L786.6 1790M875 1777L874.6 1791M636.8 1951.2L625 1945.2M706.2 1947.5L718.8 1942.9M810 1937.5L796.2 1939.1M911.8 1952L909.4 1941" stroke="#1a2ad8" stroke-width="3.6" fill="none"/><path d="M551.2 1616.2L552.5 1625.6M568.8 1615L578.8 1618.8M605 1612.5L596.9 1617.5M538.8 1647.5L546.2 1641.2M598.8 1635.8L593.8 1629.1M568.8 1663.8L575.6 1668.8M602.5 1658.8L602.9 1666.2M586.2 1707.5L596 1704.1M621.2 1702.5L613.5 1701.6M608.8 1715L607.2 1707.9M775 1550.5L781.6 1552.1M781.2 1544.2L784.8 1549M807.5 1544.5L797.9 1549.1M835 1605.8L831.2 1615.4M736.2 1627.5L743.4 1632.2M747.5 1657.5L749 1647.2M794.2 1653.8L795 1643.1M831.2 1629.5L829.4 1627.2M786.2 1622.5L782.9 1624.1M838.8 1640L833.1 1632.5M847.5 1643.8L851.2 1648.8M972.5 1672.5L970 1677.8M936.2 1695L931.5 1696.9M973.8 1695L970.6 1689M552.5 1630L553.1 1632.5M635 1787L633.1 1796M589.2 1804.5L595.9 1810.1M601.2 1836.2L601.9 1826M725 1775L731 1782.8M778.8 1766.2L780.4 1775.6M732.5 1803.8L735.9 1804.4M717.5 1817.5L728.4 1811.2M795 1812.5L793.1 1803.8M810 1782.5L800.6 1788.8M868.8 1763.8L871.9 1770.4M861.2 1772.5L868.1 1774.8M893.8 1769.5L884.4 1773.2M860 1808.8L867.1 1806.9M866.2 1818.8L870.2 1811.9M883.8 1822.5L879 1813.8M618.8 1923.2L616 1931.2M598.8 1933.2L606 1936.2M605 1955L609.1 1947.1M695 1931.2L700.6 1939.4M695 1960L700.6 1953.8M711.2 1956.2L708.8 1951.9M722.5 1931.2L726.9 1934.8M777.5 1925L780 1932.9M781.2 1958.8L781.9 1949.8M815 1918.8L812.5 1928.1M825 1922.5L817.5 1930M797.5 1935L803.8 1936.2M811.2 1950L810.6 1943.8M911.2 1911.2L909.1 1920.6M886.2 1930L896.6 1930M897.5 1951.2L904.6 1951.6M902.5 1960L907.1 1956M908.8 1968.8L910.2 1960.4M630 1967.5L633.4 1959.4" stroke="#bdbdbd" stroke-width="2.6" fill="none"/><path d="M552.5 1625.6L553.8 1635M578.8 1618.8L588.8 1622.5M596.9 1617.5L588.8 1622.5M546.2 1641.2L553.8 1635M593.8 1629.1L588.8 1622.5M602.9 1666.2L603.2 1673.8M596 1704.1L605.8 1700.8M613.5 1701.6L605.8 1700.8M607.2 1707.9L605.8 1700.8M781.6 1552.1L788.2 1553.8M784.8 1549L788.2 1553.8M797.9 1549.1L788.2 1553.8M831.2 1615.4L827.5 1625M743.4 1632.2L750.5 1637M749 1647.2L750.5 1637M795 1643.1L795.8 1632.5M829.4 1627.2L827.5 1625M782.9 1624.1L779.5 1625.8M833.1 1632.5L827.5 1625M851.2 1648.8L855 1653.8M970 1677.8L967.5 1683M970.6 1689L967.5 1683M553.1 1632.5L553.8 1635M595.9 1810.1L602.5 1815.8M601.9 1826L602.5 1815.8M735.9 1804.4L739.2 1805M728.4 1811.2L739.2 1805M793.1 1803.8L791.2 1795M800.6 1788.8L791.2 1795M867.1 1806.9L874.2 1805M870.2 1811.9L874.2 1805M879 1813.8L874.2 1805M616 1931.2L613.2 1939.2M606 1936.2L613.2 1939.2M609.1 1947.1L613.2 1939.2M726.9 1934.8L731.2 1938.2M780 1932.9L782.5 1940.8M781.9 1949.8L782.5 1940.8M909.1 1920.6L907 1930M896.6 1930L907 1930" stroke="#303030" stroke-width="2.6" fill="none"/><path d="M575.6 1668.8L582.5 1673.8M931.5 1696.9L926.8 1698.8" stroke="#e02020" stroke-width="2.6" fill="none"/><path d="M633.1 1796L631.2 1805M731 1782.8L737 1790.5M780.4 1775.6L782 1785M871.9 1770.4L875 1777M868.1 1774.8L875 1777M884.4 1773.2L875 1777M700.6 1939.4L706.2 1947.5M700.6 1953.8L706.2 1947.5M708.8 1951.9L706.2 1947.5M812.5 1928.1L810 1937.5M817.5 1930L810 1937.5M803.8 1936.2L810 1937.5M810.6 1943.8L810 1937.5M904.6 1951.6L911.8 1952M907.1 1956L911.8 1952M910.2 1960.4L911.8 1952M633.4 1959.4L636.8 1951.2" stroke="#1a2ad8" stroke-width="2.6" fill="none"/><path d="M638.2 1751.2L609.8 1743.1M638.2 1751.2L610.8 1760.6M638.2 1751.2L660.4 1743.8M735 1748.8L708.8 1742.5M735 1748.8L750 1737.5M735 1748.8L742.8 1738.1M799.2 1730L782.1 1728.1M799.2 1730L828 1725.6M799.2 1730L774.9 1728.8M633.2 1870L603.8 1865.4M633.2 1870L617.9 1877.9M633.2 1870L645.1 1876.6M633.2 1870L663.1 1875.4M733.8 1872.5L713.4 1876.6M733.8 1872.5L741.2 1869.4M810 1875.8L779.4 1871M810 1875.8L819.4 1872.9M810 1875.8L840.6 1871.9M561.2 2000.8L580 2002.9M637.5 2004.5L618.1 2004.8M637.5 2004.5L661.2 2002.6M735.5 2005L710.2 2002.9M735.5 2005L750.9 2005M805 2001.2L785.6 2003.1M805 2001.2L830.6 2002.2" stroke="#9c9c74" stroke-width="2.7" fill="none"/><path d="M609.8 1743.1L581.2 1735M610.8 1760.6L583.2 1770M660.4 1743.8L682.5 1736.2M708.8 1742.5L682.5 1736.2M750 1737.5L765 1726.2M742.8 1738.1L750.5 1727.5M782.1 1728.1L765 1726.2M828 1725.6L856.8 1721.2M774.9 1728.8L750.5 1727.5M603.8 1865.4L574.2 1860.8M617.9 1877.9L602.5 1885.8M645.1 1876.6L657 1883.2M663.1 1875.4L693 1880.8M713.4 1876.6L693 1880.8M741.2 1869.4L748.8 1866.2M779.4 1871L748.8 1866.2M819.4 1872.9L828.8 1870M840.6 1871.9L871.2 1868M580 2002.9L598.8 2005M618.1 2004.8L598.8 2005M661.2 2002.6L685 2000.8M710.2 2002.9L685 2000.8M750.9 2005L766.2 2005M785.6 2003.1L766.2 2005M830.6 2002.2L856.2 2003.2" stroke="#e0aeb3" stroke-width="2.7" fill="none"/><path d="M638.2 1751.2L646 1781M643.5 1840.4L633.2 1870M735 1748.8L730 1779.4M729.4 1841.2L733.8 1872.5M799.2 1730L804 1760.6M809.4 1833.5L810 1875.8M633.2 1870L633.5 1905.6M635.6 1972.9L637.5 2004.5M733.8 1872.5L734.4 1905M735.2 1971.2L735.5 2005M810 1875.8L813.8 1903.5M811.2 1966.2L805 2001.2" stroke="#9c9c74" stroke-width="3" fill="none"/><path d="M646 1781L653.8 1810.8M653.8 1810.8L643.5 1840.4M730 1779.4L725 1810M725 1810L729.4 1841.2M804 1760.6L808.8 1791.2M808.8 1791.2L809.4 1833.5M633.5 1905.6L633.8 1941.2M633.8 1941.2L635.6 1972.9M734.4 1905L735 1937.5M735 1937.5L735.2 1971.2M813.8 1903.5L817.5 1931.2M817.5 1931.2L811.2 1966.2" stroke="#e0aeb3" stroke-width="3" fill="none"/>
<circle cx="581.2" cy="1735" r="10.3" fill="url(#gI)"/><circle cx="583.2" cy="1770" r="10.3" fill="url(#gI)"/><circle cx="682.5" cy="1736.2" r="10.3" fill="url(#gI)"/><circle cx="765" cy="1726.2" r="10.3" fill="url(#gI)"/><circle cx="856.8" cy="1721.2" r="10.3" fill="url(#gI)"/><circle cx="750.5" cy="1727.5" r="10.3" fill="url(#gI)"/><circle cx="653.8" cy="1810.8" r="10.3" fill="url(#gI)"/><circle cx="808.8" cy="1791.2" r="10.3" fill="url(#gI)"/><circle cx="574.2" cy="1860.8" r="10.3" fill="url(#gI)"/><circle cx="602.5" cy="1885.8" r="10.3" fill="url(#gI)"/><circle cx="657" cy="1883.2" r="10.3" fill="url(#gI)"/><circle cx="693" cy="1880.8" r="10.3" fill="url(#gI)"/><circle cx="748.8" cy="1866.2" r="10.3" fill="url(#gI)"/><circle cx="828.8" cy="1870" r="10.3" fill="url(#gI)"/><circle cx="871.2" cy="1868" r="10.3" fill="url(#gI)"/><circle cx="598.8" cy="2005" r="10.3" fill="url(#gI)"/><circle cx="685" cy="2000.8" r="10.3" fill="url(#gI)"/><circle cx="766.2" cy="2005" r="10.3" fill="url(#gI)"/><circle cx="856.2" cy="2003.2" r="10.3" fill="url(#gI)"/><circle cx="638.2" cy="1751.2" r="10.3" fill="url(#gP)"/><circle cx="735" cy="1748.8" r="10.3" fill="url(#gP)"/><circle cx="799.2" cy="1730" r="10.3" fill="url(#gP)"/><circle cx="633.2" cy="1870" r="10.3" fill="url(#gP)"/><circle cx="733.8" cy="1872.5" r="10.3" fill="url(#gP)"/><circle cx="810" cy="1875.8" r="10.3" fill="url(#gP)"/><circle cx="561.2" cy="2000.8" r="10.3" fill="url(#gP)"/><circle cx="637.5" cy="2004.5" r="10.3" fill="url(#gP)"/><circle cx="735.5" cy="2005" r="10.3" fill="url(#gP)"/><circle cx="805" cy="2001.2" r="10.3" fill="url(#gP)"/><circle cx="553.8" cy="1635" r="8.3" fill="url(#gC)"/><circle cx="583.2" cy="1648.8" r="8.3" fill="url(#gC)"/><circle cx="588.8" cy="1622.5" r="8.3" fill="url(#gC)"/><circle cx="603.2" cy="1673.8" r="8.3" fill="url(#gC)"/><circle cx="605.8" cy="1700.8" r="8.3" fill="url(#gC)"/><circle cx="788.2" cy="1553.8" r="8.3" fill="url(#gC)"/><circle cx="794.2" cy="1583.2" r="8.3" fill="url(#gC)"/><circle cx="779.5" cy="1625.8" r="8.3" fill="url(#gC)"/><circle cx="750.5" cy="1637" r="8.3" fill="url(#gC)"/><circle cx="795.8" cy="1632.5" r="8.3" fill="url(#gC)"/><circle cx="827.5" cy="1625" r="8.3" fill="url(#gC)"/><circle cx="855" cy="1653.8" r="8.3" fill="url(#gC)"/><circle cx="886.2" cy="1650" r="8.3" fill="url(#gC)"/><circle cx="896.2" cy="1661.2" r="8.3" fill="url(#gC)"/><circle cx="938" cy="1683.8" r="8.3" fill="url(#gC)"/><circle cx="967.5" cy="1683" r="8.3" fill="url(#gC)"/><circle cx="602.5" cy="1815.8" r="8.3" fill="url(#gC)"/><circle cx="739.2" cy="1805" r="8.3" fill="url(#gC)"/><circle cx="791.2" cy="1795" r="8.3" fill="url(#gC)"/><circle cx="874.2" cy="1805" r="8.3" fill="url(#gC)"/><circle cx="613.2" cy="1939.2" r="8.3" fill="url(#gC)"/><circle cx="731.2" cy="1938.2" r="8.3" fill="url(#gC)"/><circle cx="782.5" cy="1940.8" r="8.3" fill="url(#gC)"/><circle cx="907" cy="1930" r="8.3" fill="url(#gC)"/><circle cx="631.2" cy="1805" r="7.6" fill="url(#gN)"/><circle cx="737" cy="1790.5" r="7.6" fill="url(#gN)"/><circle cx="782" cy="1785" r="7.6" fill="url(#gN)"/><circle cx="875" cy="1777" r="7.6" fill="url(#gN)"/><circle cx="636.8" cy="1951.2" r="7.6" fill="url(#gN)"/><circle cx="706.2" cy="1947.5" r="7.6" fill="url(#gN)"/><circle cx="810" cy="1937.5" r="7.6" fill="url(#gN)"/><circle cx="911.8" cy="1952" r="7.6" fill="url(#gN)"/><circle cx="617.5" cy="1654.2" r="7.5" fill="url(#gO)"/><circle cx="582.5" cy="1673.8" r="7.5" fill="url(#gO)"/><circle cx="776.2" cy="1597.5" r="7.5" fill="url(#gO)"/><circle cx="809.2" cy="1593.2" r="7.5" fill="url(#gO)"/><circle cx="925" cy="1662.5" r="7.5" fill="url(#gO)"/><circle cx="926.8" cy="1698.8" r="7.5" fill="url(#gO)"/><circle cx="551.2" cy="1616.2" r="4.6" fill="url(#gH)"/><circle cx="568.8" cy="1615" r="4.6" fill="url(#gH)"/><circle cx="605" cy="1612.5" r="4.6" fill="url(#gH)"/><circle cx="538.8" cy="1647.5" r="4.6" fill="url(#gH)"/><circle cx="598.8" cy="1635.8" r="4.6" fill="url(#gH)"/><circle cx="568.8" cy="1663.8" r="4.6" fill="url(#gH)"/><circle cx="602.5" cy="1658.8" r="4.6" fill="url(#gH)"/><circle cx="586.2" cy="1707.5" r="4.6" fill="url(#gH)"/><circle cx="621.2" cy="1702.5" r="4.6" fill="url(#gH)"/><circle cx="608.8" cy="1715" r="4.6" fill="url(#gH)"/><circle cx="775" cy="1550.5" r="4.6" fill="url(#gH)"/><circle cx="781.2" cy="1544.2" r="4.6" fill="url(#gH)"/><circle cx="807.5" cy="1544.5" r="4.6" fill="url(#gH)"/><circle cx="835" cy="1605.8" r="4.6" fill="url(#gH)"/><circle cx="736.2" cy="1627.5" r="4.6" fill="url(#gH)"/><circle cx="747.5" cy="1657.5" r="4.6" fill="url(#gH)"/><circle cx="794.2" cy="1653.8" r="4.6" fill="url(#gH)"/><circle cx="831.2" cy="1629.5" r="4.6" fill="url(#gH)"/><circle cx="786.2" cy="1622.5" r="4.6" fill="url(#gH)"/><circle cx="838.8" cy="1640" r="4.6" fill="url(#gH)"/><circle cx="847.5" cy="1643.8" r="4.6" fill="url(#gH)"/><circle cx="867.5" cy="1638" r="4.6" fill="url(#gH)"/><circle cx="887.5" cy="1629.2" r="4.6" fill="url(#gH)"/><circle cx="901.2" cy="1624.2" r="4.6" fill="url(#gH)"/><circle cx="920.8" cy="1636.2" r="4.6" fill="url(#gH)"/><circle cx="800" cy="1666.2" r="4.6" fill="url(#gH)"/><circle cx="821.8" cy="1650.8" r="4.6" fill="url(#gH)"/><circle cx="821.2" cy="1685" r="4.6" fill="url(#gH)"/><circle cx="850" cy="1673.8" r="4.6" fill="url(#gH)"/><circle cx="872.5" cy="1670" r="4.6" fill="url(#gH)"/><circle cx="887.5" cy="1680" r="4.6" fill="url(#gH)"/><circle cx="887.5" cy="1686.2" r="4.6" fill="url(#gH)"/><circle cx="951.2" cy="1672.5" r="4.6" fill="url(#gH)"/><circle cx="972.5" cy="1672.5" r="4.6" fill="url(#gH)"/><circle cx="936.2" cy="1695" r="4.6" fill="url(#gH)"/><circle cx="973.8" cy="1695" r="4.6" fill="url(#gH)"/><circle cx="552.5" cy="1630" r="4.6" fill="url(#gH)"/><circle cx="635" cy="1787" r="4.6" fill="url(#gH)"/><circle cx="589.2" cy="1804.5" r="4.6" fill="url(#gH)"/><circle cx="601.2" cy="1836.2" r="4.6" fill="url(#gH)"/><circle cx="620" cy="1831.2" r="4.6" fill="url(#gH)"/><circle cx="655" cy="1833.8" r="4.6" fill="url(#gH)"/><circle cx="646.2" cy="1818.8" r="4.6" fill="url(#gH)"/><circle cx="725" cy="1775" r="4.6" fill="url(#gH)"/><circle cx="778.8" cy="1766.2" r="4.6" fill="url(#gH)"/><circle cx="756.2" cy="1786.2" r="4.6" fill="url(#gH)"/><circle cx="765" cy="1796.2" r="4.6" fill="url(#gH)"/><circle cx="732.5" cy="1803.8" r="4.6" fill="url(#gH)"/><circle cx="717.5" cy="1817.5" r="4.6" fill="url(#gH)"/><circle cx="755" cy="1823.8" r="4.6" fill="url(#gH)"/><circle cx="795" cy="1812.5" r="4.6" fill="url(#gH)"/><circle cx="797.5" cy="1823.8" r="4.6" fill="url(#gH)"/><circle cx="810" cy="1782.5" r="4.6" fill="url(#gH)"/><circle cx="838.8" cy="1790" r="4.6" fill="url(#gH)"/><circle cx="830" cy="1823.8" r="4.6" fill="url(#gH)"/><circle cx="826.2" cy="1817.5" r="4.6" fill="url(#gH)"/><circle cx="868.8" cy="1763.8" r="4.6" fill="url(#gH)"/><circle cx="861.2" cy="1772.5" r="4.6" fill="url(#gH)"/><circle cx="893.8" cy="1769.5" r="4.6" fill="url(#gH)"/><circle cx="860" cy="1808.8" r="4.6" fill="url(#gH)"/><circle cx="866.2" cy="1818.8" r="4.6" fill="url(#gH)"/><circle cx="883.8" cy="1822.5" r="4.6" fill="url(#gH)"/><circle cx="893.8" cy="1811.2" r="4.6" fill="url(#gH)"/><circle cx="895" cy="1796.2" r="4.6" fill="url(#gH)"/><circle cx="933.8" cy="1791.2" r="4.6" fill="url(#gH)"/><circle cx="910" cy="1825" r="4.6" fill="url(#gH)"/><circle cx="932.5" cy="1826.2" r="4.6" fill="url(#gH)"/><circle cx="618.8" cy="1923.2" r="4.6" fill="url(#gH)"/><circle cx="598.8" cy="1933.2" r="4.6" fill="url(#gH)"/><circle cx="605" cy="1955" r="4.6" fill="url(#gH)"/><circle cx="661.2" cy="1916.2" r="4.6" fill="url(#gH)"/><circle cx="645" cy="1938.8" r="4.6" fill="url(#gH)"/><circle cx="653.8" cy="1945" r="4.6" fill="url(#gH)"/><circle cx="695" cy="1931.2" r="4.6" fill="url(#gH)"/><circle cx="685" cy="1955" r="4.6" fill="url(#gH)"/><circle cx="695" cy="1960" r="4.6" fill="url(#gH)"/><circle cx="711.2" cy="1956.2" r="4.6" fill="url(#gH)"/><circle cx="722.5" cy="1931.2" r="4.6" fill="url(#gH)"/><circle cx="740" cy="1922.5" r="4.6" fill="url(#gH)"/><circle cx="758.8" cy="1910" r="4.6" fill="url(#gH)"/><circle cx="777.5" cy="1925" r="4.6" fill="url(#gH)"/><circle cx="767.5" cy="1941.2" r="4.6" fill="url(#gH)"/><circle cx="781.2" cy="1958.8" r="4.6" fill="url(#gH)"/><circle cx="743.8" cy="1956.2" r="4.6" fill="url(#gH)"/><circle cx="755" cy="1957.5" r="4.6" fill="url(#gH)"/><circle cx="815" cy="1918.8" r="4.6" fill="url(#gH)"/><circle cx="822.5" cy="1912.5" r="4.6" fill="url(#gH)"/><circle cx="825" cy="1922.5" r="4.6" fill="url(#gH)"/><circle cx="797.5" cy="1935" r="4.6" fill="url(#gH)"/><circle cx="823.8" cy="1943.8" r="4.6" fill="url(#gH)"/><circle cx="811.2" cy="1950" r="4.6" fill="url(#gH)"/><circle cx="853.8" cy="1948.8" r="4.6" fill="url(#gH)"/><circle cx="830" cy="1967.5" r="4.6" fill="url(#gH)"/><circle cx="911.2" cy="1911.2" r="4.6" fill="url(#gH)"/><circle cx="886.2" cy="1930" r="4.6" fill="url(#gH)"/><circle cx="923.8" cy="1931.2" r="4.6" fill="url(#gH)"/><circle cx="948.8" cy="1921.2" r="4.6" fill="url(#gH)"/><circle cx="897.5" cy="1951.2" r="4.6" fill="url(#gH)"/><circle cx="902.5" cy="1960" r="4.6" fill="url(#gH)"/><circle cx="930" cy="1950" r="4.6" fill="url(#gH)"/><circle cx="951.2" cy="1952.5" r="4.6" fill="url(#gH)"/><circle cx="908.8" cy="1968.8" r="4.6" fill="url(#gH)"/><circle cx="630" cy="1967.5" r="4.6" fill="url(#gH)"/><circle cx="656.2" cy="1968.8" r="4.6" fill="url(#gH)"/>
</g>
<text x="690" y="2073.8" font-size="41.1" textLength="76" lengthAdjust="spacingAndGlyphs">3 ps</text>
<clipPath id="gcl2"><rect x="1000" y="1480" width="480" height="548.8"/></clipPath>
<path d="M1030 1491.3L1032.4 2028.8M1376.3 1491.3L1378.7 2028.8" stroke="#2f2fe2" stroke-width="2.3" fill="none"/>
<path d="M1088.8 1491.3L1091.2 2028.8M1435 1491.3L1437.4 2028.8" stroke="#9c9cf2" stroke-width="1.8" fill="none"/>
<g clip-path="url(#gcl2)">
<path d="M1141.2 1626.2L1132.5 1622.2M1132.5 1622.2L1123.8 1618.2M1158.2 1675.8L1155.4 1678.5M1155.4 1678.5L1152.5 1681.2M1399.2 1635.5L1394.6 1640.5M1394.6 1640.5L1390 1645.5M1405.8 1657.5L1397.9 1651.5M1397.9 1651.5L1390 1645.5M1384.2 1676.8L1376.5 1671.9M1376.5 1671.9L1368.8 1667M1081.2 1659.5L1086.9 1669.1M1086.9 1669.1L1092.5 1678.8M1081.2 1659.5L1093.1 1666.6M1093.1 1666.6L1105 1673.8M1081.2 1659.5L1093.8 1662M1092.5 1678.8L1098.8 1676.2M1098.8 1676.2L1105 1673.8M1092.5 1678.8L1099.4 1671.6M1092.5 1678.8L1084.1 1687.9M1105 1673.8L1118.8 1670M1118.8 1670L1132.5 1666.2M1105 1673.8L1105.6 1669.1M1132.5 1666.2L1142.5 1673.8M1142.5 1673.8L1152.5 1681.2M1132.5 1666.2L1119.4 1665.4M1152.5 1681.2L1145.9 1685.6M1247.5 1653.2L1261.9 1652.2M1261.9 1652.2L1276.2 1651.2M1276.2 1651.2L1282.9 1646.6M1282.9 1646.6L1289.5 1642M1276.2 1651.2L1286.2 1654.6M1286.2 1654.6L1296.2 1658M1289.5 1642L1292.9 1650M1292.9 1650L1296.2 1658M1296.2 1658L1310 1656.5M1342 1672.5L1355.4 1669.8M1355.4 1669.8L1368.8 1667M1342 1672.5L1332.9 1663.8M1342 1672.5L1340 1681.9M1368.8 1667L1379.4 1656.2M1379.4 1656.2L1390 1645.5M1390 1645.5L1399.4 1643.8M1306.2 1800L1316.2 1798.8M1422.2 1932.2L1430.8 1937.5M1256.9 1813.8L1262.5 1801.2M1324.4 1786.2L1316.2 1798.8M1405 1799.8L1398.8 1802M1425.4 1799L1439.5 1800.5M1243.5 1930.4L1237.5 1928.2M1253.5 1936.2L1257.5 1940M1421.6 1941.9L1430.8 1937.5M1283.8 1800.5L1273.1 1800.9M1273.1 1800.9L1262.5 1801.2" stroke="#6e6e6e" stroke-width="3.6" fill="none"/><path d="M1093.8 1662L1106.2 1664.5M1099.4 1671.6L1106.2 1664.5M1084.1 1687.9L1075.8 1697M1105.6 1669.1L1106.2 1664.5M1119.4 1665.4L1106.2 1664.5M1145.9 1685.6L1139.2 1690M1310 1656.5L1323.8 1655M1332.9 1663.8L1323.8 1655M1340 1681.9L1338 1691.2M1399.4 1643.8L1408.8 1642" stroke="#ee9a9a" stroke-width="3.6" fill="none"/><path d="M1296.2 1801.2L1306.2 1800M1413.8 1927L1422.2 1932.2M1251.2 1826.2L1256.9 1813.8M1332.5 1773.8L1324.4 1786.2M1411.2 1797.5L1405 1799.8M1411.2 1797.5L1425.4 1799M1249.5 1932.5L1243.5 1930.4M1249.5 1932.5L1253.5 1936.2M1412.5 1946.2L1421.6 1941.9" stroke="#98a0ee" stroke-width="3.6" fill="none"/><path d="M1107.5 1608.8L1115.6 1613.5M1137.5 1605L1130.6 1611.6M1123.8 1616.2L1123.8 1617.2M1118.8 1632.5L1121.2 1625.4M1119.2 1654.5L1112.8 1659.5M1140 1657.5L1136.2 1661.9M1077 1641.2L1079.1 1650.4M1085 1652.5L1083.1 1656M1061.8 1670.5L1071.5 1665M1080 1681.2L1086.2 1680M1101.2 1695L1096.9 1686.9M1131.2 1672.5L1131.9 1669.4M1241.2 1635.8L1244.4 1644.5M1233.2 1653.2L1240.4 1653.2M1241.2 1672.5L1244.4 1662.9M1278.8 1630.8L1284.1 1636.4M1291.2 1622.5L1290.4 1632.2M1280 1665L1278.1 1658.1M1294.2 1679.5L1295.2 1668.8M1305 1650L1300.6 1654M1398.8 1647.5L1394.4 1646.5M1390 1658.8L1390 1652.1M1363.8 1672.5L1366.2 1669.8M1161.2 1798L1161.5 1807.1M1170 1801.2L1165.9 1808.8M1145 1822.5L1153.4 1819.4M1155 1829.5L1158.4 1822.9M1175.8 1825L1168.8 1820.6M1230 1826.2L1240.6 1826.2M1255 1840L1253.1 1833.1M1260 1833.8L1255.6 1830M1271.2 1783.2L1266.9 1792.2M1272.5 1817.5L1267.5 1809.4M1321.2 1810L1318.8 1804.4M1331.2 1762.5L1331.9 1768.1M1352.5 1777.5L1342.5 1775.6M1420 1806.2L1415.6 1801.9M1447.5 1790.5L1443.5 1795.5M1446.2 1821.2L1442.9 1810.9M1176.2 1927.5L1168.8 1934.4M1152.5 1948.8L1156.9 1945M1168.8 1958.8L1165 1950M1253.8 1918.8L1251.6 1925.6M1248.8 1951.2L1253.1 1945.6M1274.5 1928.8L1266 1934.4M1267.5 1936.2L1262.5 1938.1M1263.8 1961.2L1260.6 1950.6M1318.8 1950L1325.2 1949.4M1342.5 1936.2L1337.1 1942.5M1320 1960L1325.9 1954.4M1342.5 1963.8L1337.1 1956.2M1445 1925L1437.9 1931.2M1400 1962.5L1406.2 1954.4M1425 1943.8L1427.9 1940.6M1439.5 1953.8L1435.1 1945.6" stroke="#dadada" stroke-width="2.6" fill="none"/><path d="M1115.6 1613.5L1123.8 1618.2M1130.6 1611.6L1123.8 1618.2M1123.8 1617.2L1123.8 1618.2M1121.2 1625.4L1123.8 1618.2M1136.2 1661.9L1132.5 1666.2M1079.1 1650.4L1081.2 1659.5M1083.1 1656L1081.2 1659.5M1071.5 1665L1081.2 1659.5M1086.2 1680L1092.5 1678.8M1096.9 1686.9L1092.5 1678.8M1131.9 1669.4L1132.5 1666.2M1244.4 1644.5L1247.5 1653.2M1240.4 1653.2L1247.5 1653.2M1244.4 1662.9L1247.5 1653.2M1284.1 1636.4L1289.5 1642M1290.4 1632.2L1289.5 1642M1278.1 1658.1L1276.2 1651.2M1295.2 1668.8L1296.2 1658M1300.6 1654L1296.2 1658M1394.4 1646.5L1390 1645.5M1390 1652.1L1390 1645.5M1366.2 1669.8L1368.8 1667M1266.9 1792.2L1262.5 1801.2M1267.5 1809.4L1262.5 1801.2M1318.8 1804.4L1316.2 1798.8M1443.5 1795.5L1439.5 1800.5M1442.9 1810.9L1439.5 1800.5M1168.8 1934.4L1161.2 1941.2M1156.9 1945L1161.2 1941.2M1165 1950L1161.2 1941.2M1253.1 1945.6L1257.5 1940M1266 1934.4L1257.5 1940M1262.5 1938.1L1257.5 1940M1260.6 1950.6L1257.5 1940M1437.9 1931.2L1430.8 1937.5M1427.9 1940.6L1430.8 1937.5M1435.1 1945.6L1430.8 1937.5" stroke="#6e6e6e" stroke-width="2.6" fill="none"/><path d="M1112.8 1659.5L1106.2 1664.5" stroke="#ee9a9a" stroke-width="2.6" fill="none"/><path d="M1161.5 1807.1L1161.8 1816.2M1165.9 1808.8L1161.8 1816.2M1153.4 1819.4L1161.8 1816.2M1158.4 1822.9L1161.8 1816.2M1168.8 1820.6L1161.8 1816.2M1240.6 1826.2L1251.2 1826.2M1253.1 1833.1L1251.2 1826.2M1255.6 1830L1251.2 1826.2M1331.9 1768.1L1332.5 1773.8M1342.5 1775.6L1332.5 1773.8M1415.6 1801.9L1411.2 1797.5M1251.6 1925.6L1249.5 1932.5M1325.2 1949.4L1331.8 1948.8M1337.1 1942.5L1331.8 1948.8M1325.9 1954.4L1331.8 1948.8M1337.1 1956.2L1331.8 1948.8M1406.2 1954.4L1412.5 1946.2" stroke="#98a0ee" stroke-width="2.6" fill="none"/><path d="M1127.5 1739.5L1121.2 1735.4M1127.5 1739.5L1123.8 1745.4M1235 1740.8L1222.1 1734.1M1235 1740.8L1220 1737.9M1235 1740.8L1265 1736M1235 1740.8L1265.6 1740.4M1314.5 1732L1304.8 1731.6M1314.5 1732L1305.4 1736M1131.8 1867L1123.4 1865.4M1131.8 1867L1120 1873.5M1131.8 1867L1139.4 1865M1131.8 1867L1161.5 1873.2M1209.2 1868.8L1178.1 1865.9M1209.2 1868.8L1200.2 1874.1M1209.2 1868.8L1216.5 1873.8M1407.5 1875.5L1384.4 1880.9M1407.5 1875.5L1403.1 1874M1240.5 1872.5L1215.9 1876M1240.5 1872.5L1232.1 1875.6M1240.5 1872.5L1258.8 1872.5M1313.2 1875L1295.1 1873.8M1313.2 1875L1337.2 1880.6M1066.2 1746.2L1077.1 1741.2M1066.2 1746.2L1079.8 1750M1066.2 1746.2L1090.6 1738.8M1066.2 1746.2L1093.1 1748.8M1168.8 1755L1174.1 1751.9M1168.8 1755L1141.9 1743.1M1168.8 1755L1189 1741.2M1168.8 1755L1186.9 1745M1168.8 1755L1144.4 1753.1M1264.5 1738.8L1260.6 1726.2M1264.5 1738.8L1266 1744.4M1264.5 1738.8L1236.9 1733.1M1264.5 1738.8L1234.8 1736.9M1264.5 1738.8L1279.8 1735M1264.5 1738.8L1280.4 1739.4M1340 1743.8L1345.4 1729.4M1340 1743.8L1350.6 1741.2M1340 1743.8L1317.5 1737.5M1340 1743.8L1318.1 1741.9M1340 1743.8L1361.2 1731.9M1340 1743.8L1362.5 1742.5M1338.8 1864.5L1330 1869.1M1338.8 1864.5L1357.5 1866.4M1338.8 1864.5L1307.9 1868.5M1338.8 1864.5L1350 1875.4M1338.8 1864.5L1368.8 1868.5M1428.8 1868.8L1413.8 1870.6M1135 1994.5L1125.6 1997.2M1135 1994.5L1132.8 2002.9M1135 1994.5L1156.2 1994.5M1232.5 1998.8L1205 1996.6M1232.5 1998.8L1222.5 1997.1M1232.5 1998.8L1243.1 1997.5M1232.5 1998.8L1262.5 2006.2M1307 1998L1280.4 1997.1M1307 1998L1299.8 2005.9M1307 1998L1302.2 2004M1307 1998L1327.2 1998.4M1404.5 2003.8L1376 2001.2M1404.5 2003.8L1394.1 2000.6M1165 2010.5L1176 2004M1165 2010.5L1140.6 2005.2M1165 2010.5L1147.8 2010.9M1165 2010.5L1171.2 2002.5M1165 2010.5L1188.8 2003M1268.8 1988.8L1268.4 1996.5M1268.8 1988.8L1240.6 1992.1M1268.8 1988.8L1261.2 1992.5M1268.8 1988.8L1280.6 2001.2M1268.8 1988.8L1283.1 1999.4M1331.2 2001.2L1345.6 1999.4M1331.2 2001.2L1311.9 2007.5M1331.2 2001.2L1314.4 2005.6M1331.2 2001.2L1339.4 2000M1331.2 2001.2L1357.5 1999.4" stroke="#c2c2a8" stroke-width="2.7" fill="none"/><path d="M1121.2 1735.4L1115 1731.2M1123.8 1745.4L1120 1751.2M1222.1 1734.1L1209.2 1727.5M1220 1737.9L1205 1735M1265 1736L1295 1731.2M1265.6 1740.4L1296.2 1740M1304.8 1731.6L1295 1731.2M1305.4 1736L1296.2 1740M1123.4 1865.4L1115 1863.8M1120 1873.5L1108.2 1880M1139.4 1865L1147 1863M1161.5 1873.2L1191.2 1879.5M1178.1 1865.9L1147 1863M1200.2 1874.1L1191.2 1879.5M1216.5 1873.8L1223.8 1878.8M1384.4 1880.9L1361.2 1886.2M1403.1 1874L1398.8 1872.5M1215.9 1876L1191.2 1879.5M1232.1 1875.6L1223.8 1878.8M1258.8 1872.5L1277 1872.5M1295.1 1873.8L1277 1872.5M1337.2 1880.6L1361.2 1886.2M1077.1 1741.2L1088 1736.2M1079.8 1750L1093.2 1753.8M1090.6 1738.8L1115 1731.2M1093.1 1748.8L1120 1751.2M1174.1 1751.9L1179.5 1748.8M1141.9 1743.1L1115 1731.2M1189 1741.2L1209.2 1727.5M1186.9 1745L1205 1735M1144.4 1753.1L1120 1751.2M1260.6 1726.2L1256.8 1713.8M1266 1744.4L1267.5 1750M1236.9 1733.1L1209.2 1727.5M1234.8 1736.9L1205 1735M1279.8 1735L1295 1731.2M1280.4 1739.4L1296.2 1740M1345.4 1729.4L1350.8 1715M1350.6 1741.2L1361.2 1738.8M1317.5 1737.5L1295 1731.2M1318.1 1741.9L1296.2 1740M1361.2 1731.9L1382.5 1720M1362.5 1742.5L1385 1741.2M1330 1869.1L1321.2 1873.8M1357.5 1866.4L1376.2 1868.2M1307.9 1868.5L1277 1872.5M1350 1875.4L1361.2 1886.2M1368.8 1868.5L1398.8 1872.5M1413.8 1870.6L1398.8 1872.5M1125.6 1997.2L1116.2 2000M1132.8 2002.9L1130.5 2011.2M1156.2 1994.5L1177.5 1994.5M1205 1996.6L1177.5 1994.5M1222.5 1997.1L1212.5 1995.5M1243.1 1997.5L1253.8 1996.2M1262.5 2006.2L1292.5 2013.8M1280.4 1997.1L1253.8 1996.2M1299.8 2005.9L1292.5 2013.8M1302.2 2004L1297.5 2010M1327.2 1998.4L1347.5 1998.8M1376 2001.2L1347.5 1998.8M1394.1 2000.6L1383.8 1997.5M1176 2004L1187 1997.5M1140.6 2005.2L1116.2 2000M1147.8 2010.9L1130.5 2011.2M1171.2 2002.5L1177.5 1994.5M1188.8 2003L1212.5 1995.5M1268.4 1996.5L1268 2004.2M1240.6 1992.1L1212.5 1995.5M1261.2 1992.5L1253.8 1996.2M1280.6 2001.2L1292.5 2013.8M1283.1 1999.4L1297.5 2010M1345.6 1999.4L1360 1997.5M1311.9 2007.5L1292.5 2013.8M1314.4 2005.6L1297.5 2010M1339.4 2000L1347.5 1998.8M1357.5 1999.4L1383.8 1997.5" stroke="#ecccd0" stroke-width="2.7" fill="none"/><path d="M1168.8 1755L1176 1783.4M1174.8 1840.9L1166.2 1870M1264.5 1738.8L1266.6 1770.6M1271.9 1836.2L1275 1870M1340 1743.8L1337.1 1775.6M1336.5 1836L1338.8 1864.5M1420 1807.5L1422.5 1823.8M1426.9 1854.4L1428.8 1868.8M1166.2 1870L1163.8 1901.2M1163.1 1971.2L1165 2010M1093.1 1971.2L1093.8 2005M1325 1970.6L1332.5 2002.5M1068.8 1730L1066.2 1742.5M1339.8 1721.2L1340 1730" stroke="#c2c2a8" stroke-width="3" fill="none"/><path d="M1176 1783.4L1183.2 1811.8M1183.2 1811.8L1174.8 1840.9M1266.6 1770.6L1268.8 1802.5M1268.8 1802.5L1271.9 1836.2M1337.1 1775.6L1334.2 1807.5M1334.2 1807.5L1336.5 1836M1422.5 1823.8L1425 1840M1425 1840L1426.9 1854.4M1163.8 1901.2L1161.2 1932.5M1161.2 1932.5L1163.1 1971.2M1092.5 1937.5L1093.1 1971.2M1317.5 1938.8L1325 1970.6" stroke="#ecccd0" stroke-width="3" fill="none"/><path d="M1075.8 1697L1073.5 1707.2M1073.5 1707.2L1071.2 1717.5M1071.2 1717.5L1068.8 1730M1338 1691.2L1338.8 1701.9M1338.8 1701.9L1339.5 1712.5M1339.5 1712.5L1339.8 1721.2" stroke="#ee9a9a" stroke-width="3" fill="none"/><path d="M1093.8 2003L1094.2 2030M1135.8 2003L1136.2 2030M1165 2003L1165.5 2030M1234.5 2003L1235 2030M1307.5 2003L1308 2030M1332.5 2003L1333 2030" stroke="#b4b49a" stroke-width="3.2" fill="none"/>
<circle cx="1115" cy="1731.2" r="10.3" fill="url(#gIf)"/><circle cx="1209.2" cy="1727.5" r="10.3" fill="url(#gIf)"/><circle cx="1205" cy="1735" r="10.3" fill="url(#gIf)"/><circle cx="1120" cy="1751.2" r="10.3" fill="url(#gIf)"/><circle cx="1295" cy="1731.2" r="10.3" fill="url(#gIf)"/><circle cx="1296.2" cy="1740" r="10.3" fill="url(#gIf)"/><circle cx="1382.5" cy="1720" r="10.3" fill="url(#gIf)"/><circle cx="1385" cy="1741.2" r="10.3" fill="url(#gIf)"/><circle cx="1183.2" cy="1811.8" r="10.3" fill="url(#gIf)"/><circle cx="1238.8" cy="1808.2" r="10.3" fill="url(#gIf)"/><circle cx="1137.5" cy="1806.2" r="10.3" fill="url(#gIf)"/><circle cx="1334.2" cy="1807.5" r="10.3" fill="url(#gIf)"/><circle cx="1397.5" cy="1812.5" r="10.3" fill="url(#gIf)"/><circle cx="1420" cy="1807.5" r="10.3" fill="url(#gIf)"/><circle cx="1115" cy="1863.8" r="10.3" fill="url(#gIf)"/><circle cx="1108.2" cy="1880" r="10.3" fill="url(#gIf)"/><circle cx="1147" cy="1863" r="10.3" fill="url(#gIf)"/><circle cx="1191.2" cy="1879.5" r="10.3" fill="url(#gIf)"/><circle cx="1223.8" cy="1878.8" r="10.3" fill="url(#gIf)"/><circle cx="1277" cy="1872.5" r="10.3" fill="url(#gIf)"/><circle cx="1361.2" cy="1886.2" r="10.3" fill="url(#gIf)"/><circle cx="1398.8" cy="1872.5" r="10.3" fill="url(#gIf)"/><circle cx="1137.5" cy="1933.8" r="10.3" fill="url(#gIf)"/><circle cx="1092.5" cy="1937.5" r="10.3" fill="url(#gIf)"/><circle cx="1161.2" cy="1932.5" r="10.3" fill="url(#gIf)"/><circle cx="1236.2" cy="1937.5" r="10.3" fill="url(#gIf)"/><circle cx="1317.5" cy="1938.8" r="10.3" fill="url(#gIf)"/><circle cx="1116.2" cy="2000" r="10.3" fill="url(#gIf)"/><circle cx="1130.5" cy="2011.2" r="10.3" fill="url(#gIf)"/><circle cx="1177.5" cy="1994.5" r="10.3" fill="url(#gIf)"/><circle cx="1212.5" cy="1995.5" r="10.3" fill="url(#gIf)"/><circle cx="1253.8" cy="1996.2" r="10.3" fill="url(#gIf)"/><circle cx="1292.5" cy="2013.8" r="10.3" fill="url(#gIf)"/><circle cx="1297.5" cy="2010" r="10.3" fill="url(#gIf)"/><circle cx="1347.5" cy="1998.8" r="10.3" fill="url(#gIf)"/><circle cx="1383.8" cy="1997.5" r="10.3" fill="url(#gIf)"/><circle cx="1066.2" cy="1746.2" r="10.3" fill="url(#gPf)"/><circle cx="1168.8" cy="1755" r="10.3" fill="url(#gPf)"/><circle cx="1264.5" cy="1738.8" r="10.3" fill="url(#gPf)"/><circle cx="1340" cy="1743.8" r="10.3" fill="url(#gPf)"/><circle cx="1338.8" cy="1864.5" r="10.3" fill="url(#gPf)"/><circle cx="1428.8" cy="1868.8" r="10.3" fill="url(#gPf)"/><circle cx="1165" cy="2010.5" r="10.3" fill="url(#gPf)"/><circle cx="1268.8" cy="1988.8" r="10.3" fill="url(#gPf)"/><circle cx="1331.2" cy="2001.2" r="10.3" fill="url(#gPf)"/><circle cx="1123.8" cy="1618.2" r="8.3" fill="url(#gCf)"/><circle cx="1081.2" cy="1659.5" r="8.3" fill="url(#gCf)"/><circle cx="1092.5" cy="1678.8" r="8.3" fill="url(#gCf)"/><circle cx="1105" cy="1673.8" r="8.3" fill="url(#gCf)"/><circle cx="1132.5" cy="1666.2" r="8.3" fill="url(#gCf)"/><circle cx="1152.5" cy="1681.2" r="8.3" fill="url(#gCf)"/><circle cx="1247.5" cy="1653.2" r="8.3" fill="url(#gCf)"/><circle cx="1276.2" cy="1651.2" r="8.3" fill="url(#gCf)"/><circle cx="1289.5" cy="1642" r="8.3" fill="url(#gCf)"/><circle cx="1296.2" cy="1658" r="8.3" fill="url(#gCf)"/><circle cx="1342" cy="1672.5" r="8.3" fill="url(#gCf)"/><circle cx="1368.8" cy="1667" r="8.3" fill="url(#gCf)"/><circle cx="1390" cy="1645.5" r="8.3" fill="url(#gCf)"/><circle cx="1262.5" cy="1801.2" r="8.3" fill="url(#gCf)"/><circle cx="1316.2" cy="1798.8" r="8.3" fill="url(#gCf)"/><circle cx="1439.5" cy="1800.5" r="8.3" fill="url(#gCf)"/><circle cx="1161.2" cy="1941.2" r="8.3" fill="url(#gCf)"/><circle cx="1257.5" cy="1940" r="8.3" fill="url(#gCf)"/><circle cx="1430.8" cy="1937.5" r="8.3" fill="url(#gCf)"/><circle cx="1161.8" cy="1816.2" r="7.6" fill="url(#gNf)"/><circle cx="1251.2" cy="1826.2" r="7.6" fill="url(#gNf)"/><circle cx="1332.5" cy="1773.8" r="7.6" fill="url(#gNf)"/><circle cx="1411.2" cy="1797.5" r="7.6" fill="url(#gNf)"/><circle cx="1249.5" cy="1932.5" r="7.6" fill="url(#gNf)"/><circle cx="1331.8" cy="1948.8" r="7.6" fill="url(#gNf)"/><circle cx="1412.5" cy="1946.2" r="7.6" fill="url(#gNf)"/><circle cx="1106.2" cy="1664.5" r="7.5" fill="url(#gOf)"/><circle cx="1075.8" cy="1697" r="7.5" fill="url(#gOf)"/><circle cx="1323.8" cy="1655" r="7.5" fill="url(#gOf)"/><circle cx="1338" cy="1691.2" r="7.5" fill="url(#gOf)"/>
<path d="M1141.2 1626.2L1137.2 1632.8M1137.2 1632.8L1133.2 1639.2M1141.2 1626.2L1148.1 1636.2M1148.1 1636.2L1155 1646.2M1133.2 1639.2L1144.1 1642.8M1144.1 1642.8L1155 1646.2M1133.2 1639.2L1145.4 1646.8M1155 1646.2L1156.6 1661M1156.6 1661L1158.2 1675.8M1155 1646.2L1156.2 1650.2M1158.2 1675.8L1172.6 1677.9M1172.6 1677.9L1187 1680M1158.2 1675.8L1157.9 1665M1158.2 1675.8L1148.8 1682.9M1372.5 1619.5L1385.9 1627.5M1385.9 1627.5L1399.2 1635.5M1399.2 1635.5L1402.5 1646.5M1402.5 1646.5L1405.8 1657.5M1399.2 1635.5L1404 1638.8M1405.8 1657.5L1395 1667.1M1395 1667.1L1384.2 1676.8M1405.8 1657.5L1407.2 1649.8M1405.8 1657.5L1412.6 1667.5M1133.5 1804.8L1125 1805.8M1228.1 1795.6L1240.5 1791.2M1290 1800.9L1283.8 1800.5M1399.4 1796L1398.8 1802M1114.4 1931L1125 1924.5M1224.8 1934.1L1237.5 1928.2M1296.2 1942.2L1307.5 1935.8M1399.4 1930.1L1385 1933.2" stroke="#303030" stroke-width="3.6" fill="none"/><path d="M1145.4 1646.8L1157.5 1654.2M1156.2 1650.2L1157.5 1654.2M1157.9 1665L1157.5 1654.2M1148.8 1682.9L1139.2 1690M1404 1638.8L1408.8 1642M1407.2 1649.8L1408.8 1642M1412.6 1667.5L1419.5 1677.5" stroke="#e02020" stroke-width="3.6" fill="none"/><path d="M1142 1803.8L1133.5 1804.8M1215.8 1800L1228.1 1795.6M1296.2 1801.2L1290 1800.9M1400 1790L1399.4 1796M1103.8 1937.5L1114.4 1931M1212 1940L1224.8 1934.1M1285 1948.8L1296.2 1942.2M1413.8 1927L1399.4 1930.1" stroke="#1a2ad8" stroke-width="3.6" fill="none"/><path d="M1153.8 1610L1147.5 1618.1M1162.5 1633.2L1158.8 1639.8M1172.5 1655.8L1165 1655M1201.2 1665L1194.1 1672.5M1195 1699.2L1191 1689.6M1146.2 1701.2L1142.8 1695.6M1371.8 1604.2L1372.1 1611.9M1354.2 1630.8L1363.4 1625.1M1417.5 1623.8L1413.1 1632.9M1370 1640L1371.2 1629.8M1422.5 1667L1421 1672.2M1385 1689.5L1384.6 1683.1M1112.5 1788.8L1118.8 1797.2M1111.2 1822.5L1118.1 1814.1M1135 1790L1138.5 1796.9M1142.5 1787.5L1142.2 1795.6M1237.5 1771.8L1239 1781.5M1200.8 1797.5L1208.2 1798.8M1210 1790L1212.9 1795M1215.8 1820L1215.8 1810M1245 1805L1242.8 1798.1M1289.2 1784.2L1286.5 1792.4M1290 1818L1293.1 1809.6M1300 1798.8L1298.1 1800M1407.5 1773.2L1403.8 1781.6M1391.2 1786.2L1395.6 1788.1M1378.8 1790L1389.4 1790M1385 1818.8L1391.9 1810.4M1121.2 1903.8L1123.1 1914.1M1140.8 1913.8L1132.9 1919.1M1083.8 1932.5L1093.8 1935M1105 1958.8L1104.4 1948.1M1118.8 1935L1121.9 1929.8M1143.8 1928.8L1134.4 1926.6M1230 1911.2L1233.8 1919.8M1203.8 1925L1207.9 1932.5M1196.2 1946.2L1204.1 1943.1M1218.8 1956.2L1215.4 1948.1M1297.5 1922.5L1302.5 1929.1M1323.8 1922.5L1315.6 1929.1M1292.5 1931.2L1300 1933.5M1278.8 1965L1281.9 1956.9M1292.5 1951.2L1288.8 1950M1372.5 1917.5L1378.8 1925.4M1416.2 1916.2L1415 1921.6M1376.2 1951.2L1380.6 1942.2" stroke="#bdbdbd" stroke-width="2.6" fill="none"/><path d="M1147.5 1618.1L1141.2 1626.2M1158.8 1639.8L1155 1646.2M1194.1 1672.5L1187 1680M1191 1689.6L1187 1680M1372.1 1611.9L1372.5 1619.5M1363.4 1625.1L1372.5 1619.5M1371.2 1629.8L1372.5 1619.5M1384.6 1683.1L1384.2 1676.8M1118.8 1797.2L1125 1805.8M1118.1 1814.1L1125 1805.8M1239 1781.5L1240.5 1791.2M1242.8 1798.1L1240.5 1791.2M1286.5 1792.4L1283.8 1800.5M1391.9 1810.4L1398.8 1802M1123.1 1914.1L1125 1924.5M1132.9 1919.1L1125 1924.5M1121.9 1929.8L1125 1924.5M1134.4 1926.6L1125 1924.5M1233.8 1919.8L1237.5 1928.2M1302.5 1929.1L1307.5 1935.8M1315.6 1929.1L1307.5 1935.8M1300 1933.5L1307.5 1935.8M1378.8 1925.4L1385 1933.2M1380.6 1942.2L1385 1933.2" stroke="#303030" stroke-width="2.6" fill="none"/><path d="M1165 1655L1157.5 1654.2M1142.8 1695.6L1139.2 1690M1413.1 1632.9L1408.8 1642M1421 1672.2L1419.5 1677.5" stroke="#e02020" stroke-width="2.6" fill="none"/><path d="M1138.5 1796.9L1142 1803.8M1142.2 1795.6L1142 1803.8M1208.2 1798.8L1215.8 1800M1212.9 1795L1215.8 1800M1215.8 1810L1215.8 1800M1293.1 1809.6L1296.2 1801.2M1298.1 1800L1296.2 1801.2M1403.8 1781.6L1400 1790M1395.6 1788.1L1400 1790M1389.4 1790L1400 1790M1093.8 1935L1103.8 1937.5M1104.4 1948.1L1103.8 1937.5M1207.9 1932.5L1212 1940M1204.1 1943.1L1212 1940M1215.4 1948.1L1212 1940M1281.9 1956.9L1285 1948.8M1288.8 1950L1285 1948.8M1415 1921.6L1413.8 1927" stroke="#1a2ad8" stroke-width="2.6" fill="none"/><path d="M1127.5 1739.5L1107.8 1737.9M1127.5 1739.5L1110.4 1746.6M1127.5 1739.5L1153.5 1744.1M1235 1740.8L1245.9 1727.2M1235 1740.8L1207.2 1744.8M1235 1740.8L1251.2 1745.4M1314.5 1732L1285.6 1722.9M1314.5 1732L1332.6 1723.5M1314.5 1732L1291 1741M1314.5 1732L1337.9 1735.4M1131.8 1867L1103.6 1873.2M1131.8 1867L1148 1868.8M1131.8 1867L1162.4 1866.4M1209.2 1868.8L1186.8 1869.6M1209.2 1868.8L1201.1 1867.2M1209.2 1868.8L1227.4 1861.9M1407.5 1875.5L1391.9 1871.9M1240.5 1872.5L1216.8 1869.1M1240.5 1872.5L1243 1863.8M1240.5 1872.5L1261.8 1864.1M1313.2 1875L1298.1 1865.4M1313.2 1875L1317.2 1874.4M1135 1994.5L1110 1992.9M1135 1994.5L1115.9 1997.6M1135 1994.5L1161 1996M1232.5 1998.8L1209.8 1998.1M1232.5 1998.8L1250.2 2001.5M1307 1998L1287.5 2001.1M1307 1998L1333.5 1997.8M1404.5 2003.8L1382.2 2000.6" stroke="#9c9c74" stroke-width="2.7" fill="none"/><path d="M1107.8 1737.9L1088 1736.2M1110.4 1746.6L1093.2 1753.8M1153.5 1744.1L1179.5 1748.8M1245.9 1727.2L1256.8 1713.8M1207.2 1744.8L1179.5 1748.8M1251.2 1745.4L1267.5 1750M1285.6 1722.9L1256.8 1713.8M1332.6 1723.5L1350.8 1715M1291 1741L1267.5 1750M1337.9 1735.4L1361.2 1738.8M1103.6 1873.2L1075.5 1879.5M1148 1868.8L1164.2 1870.5M1162.4 1866.4L1193 1865.8M1186.8 1869.6L1164.2 1870.5M1201.1 1867.2L1193 1865.8M1227.4 1861.9L1245.5 1855M1391.9 1871.9L1376.2 1868.2M1216.8 1869.1L1193 1865.8M1243 1863.8L1245.5 1855M1261.8 1864.1L1283 1855.8M1298.1 1865.4L1283 1855.8M1317.2 1874.4L1321.2 1873.8M1110 1992.9L1085 1991.2M1115.9 1997.6L1096.8 2000.8M1161 1996L1187 1997.5M1209.8 1998.1L1187 1997.5M1250.2 2001.5L1268 2004.2M1287.5 2001.1L1268 2004.2M1333.5 1997.8L1360 1997.5M1382.2 2000.6L1360 1997.5" stroke="#e0aeb3" stroke-width="2.7" fill="none"/><path d="M1127.5 1739.5L1132.5 1772.9M1134.6 1836.6L1131.8 1867M1235 1740.8L1236.9 1774.5M1239.6 1840.4L1240.5 1872.5M1314.5 1732L1322.9 1765M1322.2 1836.5L1313.2 1875M1397.5 1812.5L1400 1828.8M1405 1860.2L1407.5 1875.5M1131.8 1867L1134.6 1900.4M1136.2 1964.1L1135 1994.5M1240.5 1872.5L1238.4 1905M1234.4 1968.1L1232.5 1998.8M1313.2 1875L1310.4 1905M1307.2 1966.5L1307 1998M1407.5 1875.5L1407.5 1907.8M1406 1971.9L1404.5 2003.8M1130.6 1725L1127.5 1737.5" stroke="#9c9c74" stroke-width="3" fill="none"/><path d="M1132.5 1772.9L1137.5 1806.2M1137.5 1806.2L1134.6 1836.6M1236.9 1774.5L1238.8 1808.2M1238.8 1808.2L1239.6 1840.4M1322.9 1765L1331.2 1798M1331.2 1798L1322.2 1836.5M1400 1828.8L1402.5 1845M1402.5 1845L1405 1860.2M1134.6 1900.4L1137.5 1933.8M1137.5 1933.8L1136.2 1964.1M1238.4 1905L1236.2 1937.5M1236.2 1937.5L1234.4 1968.1M1310.4 1905L1307.5 1935M1307.5 1935L1307.2 1966.5M1407.5 1907.8L1407.5 1940M1407.5 1940L1406 1971.9" stroke="#e0aeb3" stroke-width="3" fill="none"/><path d="M1139.2 1690L1136.5 1701.2M1136.5 1701.2L1133.8 1712.5M1133.8 1712.5L1130.6 1725" stroke="#e02020" stroke-width="3" fill="none"/>
<circle cx="1256.8" cy="1713.8" r="10.3" fill="url(#gI)"/><circle cx="1350.8" cy="1715" r="10.3" fill="url(#gI)"/><circle cx="1088" cy="1736.2" r="10.3" fill="url(#gI)"/><circle cx="1093.2" cy="1753.8" r="10.3" fill="url(#gI)"/><circle cx="1179.5" cy="1748.8" r="10.3" fill="url(#gI)"/><circle cx="1267.5" cy="1750" r="10.3" fill="url(#gI)"/><circle cx="1361.2" cy="1738.8" r="10.3" fill="url(#gI)"/><circle cx="1331.2" cy="1798" r="10.3" fill="url(#gI)"/><circle cx="1075.5" cy="1879.5" r="10.3" fill="url(#gI)"/><circle cx="1164.2" cy="1870.5" r="10.3" fill="url(#gI)"/><circle cx="1193" cy="1865.8" r="10.3" fill="url(#gI)"/><circle cx="1245.5" cy="1855" r="10.3" fill="url(#gI)"/><circle cx="1283" cy="1855.8" r="10.3" fill="url(#gI)"/><circle cx="1321.2" cy="1873.8" r="10.3" fill="url(#gI)"/><circle cx="1376.2" cy="1868.2" r="10.3" fill="url(#gI)"/><circle cx="1225" cy="1929.5" r="10.3" fill="url(#gI)"/><circle cx="1407.5" cy="1940" r="10.3" fill="url(#gI)"/><circle cx="1085" cy="1991.2" r="10.3" fill="url(#gI)"/><circle cx="1096.8" cy="2000.8" r="10.3" fill="url(#gI)"/><circle cx="1187" cy="1997.5" r="10.3" fill="url(#gI)"/><circle cx="1268" cy="2004.2" r="10.3" fill="url(#gI)"/><circle cx="1360" cy="1997.5" r="10.3" fill="url(#gI)"/><circle cx="1127.5" cy="1739.5" r="10.3" fill="url(#gP)"/><circle cx="1235" cy="1740.8" r="10.3" fill="url(#gP)"/><circle cx="1314.5" cy="1732" r="10.3" fill="url(#gP)"/><circle cx="1131.8" cy="1867" r="10.3" fill="url(#gP)"/><circle cx="1209.2" cy="1868.8" r="10.3" fill="url(#gP)"/><circle cx="1407.5" cy="1875.5" r="10.3" fill="url(#gP)"/><circle cx="1240.5" cy="1872.5" r="10.3" fill="url(#gP)"/><circle cx="1313.2" cy="1875" r="10.3" fill="url(#gP)"/><circle cx="1135" cy="1994.5" r="10.3" fill="url(#gP)"/><circle cx="1232.5" cy="1998.8" r="10.3" fill="url(#gP)"/><circle cx="1307" cy="1998" r="10.3" fill="url(#gP)"/><circle cx="1404.5" cy="2003.8" r="10.3" fill="url(#gP)"/><circle cx="1141.2" cy="1626.2" r="8.3" fill="url(#gC)"/><circle cx="1133.2" cy="1639.2" r="8.3" fill="url(#gC)"/><circle cx="1155" cy="1646.2" r="8.3" fill="url(#gC)"/><circle cx="1158.2" cy="1675.8" r="8.3" fill="url(#gC)"/><circle cx="1187" cy="1680" r="8.3" fill="url(#gC)"/><circle cx="1372.5" cy="1619.5" r="8.3" fill="url(#gC)"/><circle cx="1399.2" cy="1635.5" r="8.3" fill="url(#gC)"/><circle cx="1405.8" cy="1657.5" r="8.3" fill="url(#gC)"/><circle cx="1384.2" cy="1676.8" r="8.3" fill="url(#gC)"/><circle cx="1125" cy="1805.8" r="8.3" fill="url(#gC)"/><circle cx="1240.5" cy="1791.2" r="8.3" fill="url(#gC)"/><circle cx="1283.8" cy="1800.5" r="8.3" fill="url(#gC)"/><circle cx="1398.8" cy="1802" r="8.3" fill="url(#gC)"/><circle cx="1125" cy="1924.5" r="8.3" fill="url(#gC)"/><circle cx="1237.5" cy="1928.2" r="8.3" fill="url(#gC)"/><circle cx="1307.5" cy="1935.8" r="8.3" fill="url(#gC)"/><circle cx="1385" cy="1933.2" r="8.3" fill="url(#gC)"/><circle cx="1142" cy="1803.8" r="7.6" fill="url(#gN)"/><circle cx="1215.8" cy="1800" r="7.6" fill="url(#gN)"/><circle cx="1296.2" cy="1801.2" r="7.6" fill="url(#gN)"/><circle cx="1400" cy="1790" r="7.6" fill="url(#gN)"/><circle cx="1103.8" cy="1937.5" r="7.6" fill="url(#gN)"/><circle cx="1212" cy="1940" r="7.6" fill="url(#gN)"/><circle cx="1285" cy="1948.8" r="7.6" fill="url(#gN)"/><circle cx="1413.8" cy="1927" r="7.6" fill="url(#gN)"/><circle cx="1157.5" cy="1654.2" r="7.5" fill="url(#gO)"/><circle cx="1139.2" cy="1690" r="7.5" fill="url(#gO)"/><circle cx="1408.8" cy="1642" r="7.5" fill="url(#gO)"/><circle cx="1419.5" cy="1677.5" r="7.5" fill="url(#gO)"/><circle cx="1107.5" cy="1608.8" r="4.6" fill="url(#gH)"/><circle cx="1137.5" cy="1605" r="4.6" fill="url(#gH)"/><circle cx="1153.8" cy="1610" r="4.6" fill="url(#gH)"/><circle cx="1123.8" cy="1616.2" r="4.6" fill="url(#gH)"/><circle cx="1118.8" cy="1632.5" r="4.6" fill="url(#gH)"/><circle cx="1162.5" cy="1633.2" r="4.6" fill="url(#gH)"/><circle cx="1119.2" cy="1654.5" r="4.6" fill="url(#gH)"/><circle cx="1172.5" cy="1655.8" r="4.6" fill="url(#gH)"/><circle cx="1140" cy="1657.5" r="4.6" fill="url(#gH)"/><circle cx="1201.2" cy="1665" r="4.6" fill="url(#gH)"/><circle cx="1195" cy="1699.2" r="4.6" fill="url(#gH)"/><circle cx="1146.2" cy="1701.2" r="4.6" fill="url(#gH)"/><circle cx="1077" cy="1641.2" r="4.6" fill="url(#gH)"/><circle cx="1085" cy="1652.5" r="4.6" fill="url(#gH)"/><circle cx="1061.8" cy="1670.5" r="4.6" fill="url(#gH)"/><circle cx="1080" cy="1681.2" r="4.6" fill="url(#gH)"/><circle cx="1101.2" cy="1695" r="4.6" fill="url(#gH)"/><circle cx="1131.2" cy="1672.5" r="4.6" fill="url(#gH)"/><circle cx="1241.2" cy="1635.8" r="4.6" fill="url(#gH)"/><circle cx="1233.2" cy="1653.2" r="4.6" fill="url(#gH)"/><circle cx="1241.2" cy="1672.5" r="4.6" fill="url(#gH)"/><circle cx="1278.8" cy="1630.8" r="4.6" fill="url(#gH)"/><circle cx="1291.2" cy="1622.5" r="4.6" fill="url(#gH)"/><circle cx="1280" cy="1665" r="4.6" fill="url(#gH)"/><circle cx="1294.2" cy="1679.5" r="4.6" fill="url(#gH)"/><circle cx="1305" cy="1650" r="4.6" fill="url(#gH)"/><circle cx="1371.8" cy="1604.2" r="4.6" fill="url(#gH)"/><circle cx="1354.2" cy="1630.8" r="4.6" fill="url(#gH)"/><circle cx="1417.5" cy="1623.8" r="4.6" fill="url(#gH)"/><circle cx="1370" cy="1640" r="4.6" fill="url(#gH)"/><circle cx="1398.8" cy="1647.5" r="4.6" fill="url(#gH)"/><circle cx="1390" cy="1658.8" r="4.6" fill="url(#gH)"/><circle cx="1422.5" cy="1667" r="4.6" fill="url(#gH)"/><circle cx="1385" cy="1689.5" r="4.6" fill="url(#gH)"/><circle cx="1363.8" cy="1672.5" r="4.6" fill="url(#gH)"/><circle cx="1112.5" cy="1788.8" r="4.6" fill="url(#gH)"/><circle cx="1111.2" cy="1822.5" r="4.6" fill="url(#gH)"/><circle cx="1135" cy="1790" r="4.6" fill="url(#gH)"/><circle cx="1142.5" cy="1787.5" r="4.6" fill="url(#gH)"/><circle cx="1161.2" cy="1798" r="4.6" fill="url(#gH)"/><circle cx="1170" cy="1801.2" r="4.6" fill="url(#gH)"/><circle cx="1145" cy="1822.5" r="4.6" fill="url(#gH)"/><circle cx="1155" cy="1829.5" r="4.6" fill="url(#gH)"/><circle cx="1175.8" cy="1825" r="4.6" fill="url(#gH)"/><circle cx="1237.5" cy="1771.8" r="4.6" fill="url(#gH)"/><circle cx="1200.8" cy="1797.5" r="4.6" fill="url(#gH)"/><circle cx="1210" cy="1790" r="4.6" fill="url(#gH)"/><circle cx="1215.8" cy="1820" r="4.6" fill="url(#gH)"/><circle cx="1245" cy="1805" r="4.6" fill="url(#gH)"/><circle cx="1230" cy="1826.2" r="4.6" fill="url(#gH)"/><circle cx="1255" cy="1840" r="4.6" fill="url(#gH)"/><circle cx="1260" cy="1833.8" r="4.6" fill="url(#gH)"/><circle cx="1271.2" cy="1783.2" r="4.6" fill="url(#gH)"/><circle cx="1272.5" cy="1817.5" r="4.6" fill="url(#gH)"/><circle cx="1289.2" cy="1784.2" r="4.6" fill="url(#gH)"/><circle cx="1290" cy="1818" r="4.6" fill="url(#gH)"/><circle cx="1300" cy="1798.8" r="4.6" fill="url(#gH)"/><circle cx="1321.2" cy="1810" r="4.6" fill="url(#gH)"/><circle cx="1331.2" cy="1762.5" r="4.6" fill="url(#gH)"/><circle cx="1352.5" cy="1777.5" r="4.6" fill="url(#gH)"/><circle cx="1407.5" cy="1773.2" r="4.6" fill="url(#gH)"/><circle cx="1391.2" cy="1786.2" r="4.6" fill="url(#gH)"/><circle cx="1378.8" cy="1790" r="4.6" fill="url(#gH)"/><circle cx="1385" cy="1818.8" r="4.6" fill="url(#gH)"/><circle cx="1420" cy="1806.2" r="4.6" fill="url(#gH)"/><circle cx="1447.5" cy="1790.5" r="4.6" fill="url(#gH)"/><circle cx="1446.2" cy="1821.2" r="4.6" fill="url(#gH)"/><circle cx="1121.2" cy="1903.8" r="4.6" fill="url(#gH)"/><circle cx="1140.8" cy="1913.8" r="4.6" fill="url(#gH)"/><circle cx="1083.8" cy="1932.5" r="4.6" fill="url(#gH)"/><circle cx="1105" cy="1958.8" r="4.6" fill="url(#gH)"/><circle cx="1118.8" cy="1935" r="4.6" fill="url(#gH)"/><circle cx="1143.8" cy="1928.8" r="4.6" fill="url(#gH)"/><circle cx="1176.2" cy="1927.5" r="4.6" fill="url(#gH)"/><circle cx="1152.5" cy="1948.8" r="4.6" fill="url(#gH)"/><circle cx="1168.8" cy="1958.8" r="4.6" fill="url(#gH)"/><circle cx="1230" cy="1911.2" r="4.6" fill="url(#gH)"/><circle cx="1203.8" cy="1925" r="4.6" fill="url(#gH)"/><circle cx="1196.2" cy="1946.2" r="4.6" fill="url(#gH)"/><circle cx="1218.8" cy="1956.2" r="4.6" fill="url(#gH)"/><circle cx="1253.8" cy="1918.8" r="4.6" fill="url(#gH)"/><circle cx="1248.8" cy="1951.2" r="4.6" fill="url(#gH)"/><circle cx="1274.5" cy="1928.8" r="4.6" fill="url(#gH)"/><circle cx="1267.5" cy="1936.2" r="4.6" fill="url(#gH)"/><circle cx="1263.8" cy="1961.2" r="4.6" fill="url(#gH)"/><circle cx="1297.5" cy="1922.5" r="4.6" fill="url(#gH)"/><circle cx="1323.8" cy="1922.5" r="4.6" fill="url(#gH)"/><circle cx="1292.5" cy="1931.2" r="4.6" fill="url(#gH)"/><circle cx="1278.8" cy="1965" r="4.6" fill="url(#gH)"/><circle cx="1292.5" cy="1951.2" r="4.6" fill="url(#gH)"/><circle cx="1318.8" cy="1950" r="4.6" fill="url(#gH)"/><circle cx="1342.5" cy="1936.2" r="4.6" fill="url(#gH)"/><circle cx="1320" cy="1960" r="4.6" fill="url(#gH)"/><circle cx="1342.5" cy="1963.8" r="4.6" fill="url(#gH)"/><circle cx="1372.5" cy="1917.5" r="4.6" fill="url(#gH)"/><circle cx="1416.2" cy="1916.2" r="4.6" fill="url(#gH)"/><circle cx="1445" cy="1925" r="4.6" fill="url(#gH)"/><circle cx="1376.2" cy="1951.2" r="4.6" fill="url(#gH)"/><circle cx="1400" cy="1962.5" r="4.6" fill="url(#gH)"/><circle cx="1425" cy="1943.8" r="4.6" fill="url(#gH)"/><circle cx="1439.5" cy="1953.8" r="4.6" fill="url(#gH)"/>
</g>
<text x="1198" y="2073.8" font-size="41.1" textLength="76.3" lengthAdjust="spacingAndGlyphs">9 ps</text>
<clipPath id="gcl3"><rect x="1455.5" y="1480" width="481.5" height="548.8"/></clipPath>
<path d="M1485.5 1491.3L1487.9 2028.8M1833 1491.3L1835.4 2028.8" stroke="#2f2fe2" stroke-width="2.3" fill="none"/>
<path d="M1544.5 1491.3L1546.9 2028.8M1892 1491.3L1894.4 2028.8" stroke="#9c9cf2" stroke-width="1.8" fill="none"/>
<g clip-path="url(#gcl3)">
<path d="M1850 1648.8L1845 1654.4M1845 1654.4L1840 1660M1852.5 1668L1846.2 1664M1846.2 1664L1840 1660M1852.5 1668L1858.8 1671.5M1858.8 1671.5L1865 1675M1852.5 1668L1858.1 1667.8M1698.2 1621.8L1695 1631.5M1695 1631.5L1691.8 1641.2M1691.8 1641.2L1704.2 1650M1704.2 1650L1716.8 1658.8M1716.8 1658.8L1715.2 1667.5M1715.2 1667.5L1713.8 1676.2M1716.8 1658.8L1727.1 1649M1763.8 1642.5L1771 1630.6M1771 1630.6L1778.2 1618.8M1763.8 1642.5L1750.6 1640.9M1763.8 1642.5L1767.9 1651.6M1904.2 1624.5L1906.5 1638.9M1906.5 1638.9L1908.8 1653.2M1908.8 1653.2L1897.5 1662.2M1897.5 1662.2L1886.2 1671.2M1886.2 1671.2L1880.6 1665.6M1880.6 1665.6L1875 1660M1886.2 1671.2L1875.6 1673.1M1875.6 1673.1L1865 1675M1886.2 1671.2L1884 1679.8M1886.2 1671.2L1875 1669.4M1875 1660L1870 1667.5M1870 1667.5L1865 1675M1875 1660L1878.4 1674.1M1875 1660L1869.4 1663.8M1840 1660L1852.5 1667.5M1852.5 1667.5L1865 1675M1840 1660L1833.1 1668.1M1833.1 1668.1L1826.2 1676.2M1840 1660L1832.9 1657.1M1840 1660L1851.9 1663.8M1865 1675L1856.6 1681.9M1865 1675L1873.4 1681.6M1865 1675L1864.4 1671.2M1772.9 1939.1L1777.5 1933.2M1601.8 1794.8L1596.8 1808.8M1709.2 1813.8L1699.2 1809.2M1768.4 1793.4L1760 1792.5M1886.8 1790L1896.8 1796.8M1585 1939.4L1588.8 1946.2M1594 1940L1606.8 1947.5M1712.5 1949L1702.5 1946.2M1768.1 1944.8L1777.5 1933.2M1893.8 1948.4L1890.8 1936.8M1582 1819.5L1589.4 1814.1M1589.4 1814.1L1596.8 1808.8M1681.2 1816.8L1690.2 1813M1690.2 1813L1699.2 1809.2M1588.8 1946.2L1597.8 1946.9M1597.8 1946.9L1606.8 1947.5M1681.8 1951.2L1692.1 1948.8M1692.1 1948.8L1702.5 1946.2" stroke="#6e6e6e" stroke-width="3.6" fill="none"/><path d="M1858.1 1667.8L1863.8 1667.5M1727.1 1649L1737.5 1639.2M1750.6 1640.9L1737.5 1639.2M1767.9 1651.6L1772 1660.8M1884 1679.8L1881.8 1688.2M1875 1669.4L1863.8 1667.5M1878.4 1674.1L1881.8 1688.2M1869.4 1663.8L1863.8 1667.5M1832.9 1657.1L1825.8 1654.2M1851.9 1663.8L1863.8 1667.5M1856.6 1681.9L1848.2 1688.8M1873.4 1681.6L1881.8 1688.2M1864.4 1671.2L1863.8 1667.5" stroke="#ee9a9a" stroke-width="3.6" fill="none"/><path d="M1768.2 1945L1772.9 1939.1M1606.8 1780.8L1601.8 1794.8M1719.2 1818.2L1709.2 1813.8M1776.8 1794.2L1768.4 1793.4M1876.8 1783.2L1886.8 1790M1581.2 1932.5L1585 1939.4M1581.2 1932.5L1594 1940M1722.5 1951.8L1712.5 1949M1758.8 1956.2L1768.1 1944.8M1896.8 1960L1893.8 1948.4" stroke="#98a0ee" stroke-width="3.6" fill="none"/><path d="M1681.2 1608.8L1689.8 1615.2M1717.5 1614.2L1707.9 1618M1675 1656.2L1683.4 1648.8M1695 1687.5L1704.4 1681.9M1730 1691.2L1721.9 1683.8M1762.5 1608.2L1770.4 1613.5M1787.5 1610L1782.9 1614.4M1793.8 1623.8L1786 1621.2M1686.2 1632.5L1689 1636.9M1722.5 1671.2L1718.1 1673.8M1865 1658L1864.4 1662.8M1862.5 1685.5L1863.8 1680.2M1883.8 1623L1894 1623.8M1920 1617.5L1912.1 1621M1905 1613.8L1904.6 1619.1M1927.5 1656.2L1918.1 1654.8M1915 1662.5L1911.9 1657.9M1892.5 1690L1887.1 1689.1M1591.2 1768.2L1599 1774.5M1620.8 1777.5L1613.8 1779.1M1597.5 1805L1597.1 1806.9M1615 1820.8L1605.9 1814.8M1695 1819.2L1697.1 1814.2M1700 1825L1699.6 1817.1M1716.8 1838.2L1718 1828.2M1773.2 1775.8L1775 1785M1793.8 1783.2L1785.2 1788.8M1880 1770L1878.4 1776.6M1871.2 1790.8L1874 1787M1913.2 1784.2L1905 1790.5M1886.2 1802.5L1891.5 1799.6M1902.5 1816.8L1899.6 1806.8M1565 1942.5L1573.1 1937.5M1601.2 1952.5L1604 1950M1625 1938.8L1615.9 1943.1M1701.8 1956.2L1702.1 1951.2M1732.5 1935L1727.5 1943.4M1774.2 1917.5L1775.9 1925.4M1737.5 1951.2L1730 1951.5M1750 1951.2L1754.4 1953.8M1764.2 1965L1761.5 1960.6M1788.8 1943.8L1783.1 1938.5M1797.5 1943.8L1787.5 1938.5M1889.2 1918.2L1890 1927.5M1876.2 1926.2L1883.5 1931.5M1905 1937.5L1897.9 1937.1M1912.5 1956.2L1904.6 1958.1M1880 1966.2L1888.4 1963.1M1716.2 1965L1719.4 1958.4M1737.5 1962.5L1730 1957.1M1602.5 1967.5L1604.6 1957.5M1761.2 1971.2L1760 1963.8M1902.5 1976.2L1899.6 1968.1" stroke="#dadada" stroke-width="2.6" fill="none"/><path d="M1689.8 1615.2L1698.2 1621.8M1707.9 1618L1698.2 1621.8M1683.4 1648.8L1691.8 1641.2M1704.4 1681.9L1713.8 1676.2M1721.9 1683.8L1713.8 1676.2M1770.4 1613.5L1778.2 1618.8M1782.9 1614.4L1778.2 1618.8M1786 1621.2L1778.2 1618.8M1689 1636.9L1691.8 1641.2M1718.1 1673.8L1713.8 1676.2M1863.8 1680.2L1865 1675M1894 1623.8L1904.2 1624.5M1912.1 1621L1904.2 1624.5M1904.6 1619.1L1904.2 1624.5M1918.1 1654.8L1908.8 1653.2M1911.9 1657.9L1908.8 1653.2M1597.1 1806.9L1596.8 1808.8M1605.9 1814.8L1596.8 1808.8M1697.1 1814.2L1699.2 1809.2M1699.6 1817.1L1699.2 1809.2M1905 1790.5L1896.8 1796.8M1891.5 1799.6L1896.8 1796.8M1899.6 1806.8L1896.8 1796.8M1604 1950L1606.8 1947.5M1615.9 1943.1L1606.8 1947.5M1702.1 1951.2L1702.5 1946.2M1775.9 1925.4L1777.5 1933.2M1783.1 1938.5L1777.5 1933.2M1787.5 1938.5L1777.5 1933.2M1890 1927.5L1890.8 1936.8M1883.5 1931.5L1890.8 1936.8M1897.9 1937.1L1890.8 1936.8M1604.6 1957.5L1606.8 1947.5" stroke="#6e6e6e" stroke-width="2.6" fill="none"/><path d="M1864.4 1662.8L1863.8 1667.5M1887.1 1689.1L1881.8 1688.2" stroke="#ee9a9a" stroke-width="2.6" fill="none"/><path d="M1599 1774.5L1606.8 1780.8M1613.8 1779.1L1606.8 1780.8M1718 1828.2L1719.2 1818.2M1775 1785L1776.8 1794.2M1785.2 1788.8L1776.8 1794.2M1878.4 1776.6L1876.8 1783.2M1874 1787L1876.8 1783.2M1573.1 1937.5L1581.2 1932.5M1727.5 1943.4L1722.5 1951.8M1730 1951.5L1722.5 1951.8M1754.4 1953.8L1758.8 1956.2M1761.5 1960.6L1758.8 1956.2M1904.6 1958.1L1896.8 1960M1888.4 1963.1L1896.8 1960M1719.4 1958.4L1722.5 1951.8M1730 1957.1L1722.5 1951.8M1760 1963.8L1758.8 1956.2M1899.6 1968.1L1896.8 1960" stroke="#98a0ee" stroke-width="2.6" fill="none"/><path d="M1605 1743.2L1577.5 1741.6M1605 1743.2L1586.9 1740.4M1605 1743.2L1593.8 1739.8M1696.2 1735.8L1682.5 1744.1M1696.2 1735.8L1682.5 1734.1M1696.2 1735.8L1714.4 1729.8M1696.2 1735.8L1723.8 1742.9M1771.2 1747L1751.9 1735.4M1771.2 1747L1761.2 1748.5M1771.2 1747L1797.5 1743.5M1858.8 1738L1841.2 1739M1858.8 1738L1850 1742.8M1596.2 1872.5L1585.6 1871.2M1596.2 1872.5L1586.2 1876.9M1596.2 1872.5L1621.9 1866.6M1596.2 1872.5L1600.6 1867.5M1699.2 1876.8L1673.4 1868.8M1699.2 1876.8L1693.4 1873M1699.2 1876.8L1718 1875.2M1771.8 1868.8L1754.2 1871.2M1771.8 1868.8L1792.8 1874.4M1625.8 1750.8L1631.6 1735.4M1625.8 1750.8L1641.6 1744.8M1625.8 1750.8L1597.2 1744.1M1625.8 1750.8L1604.1 1743.5M1625.8 1750.8L1647.2 1751.6M1625.8 1750.8L1647.2 1741.6M1725 1754.5L1724.6 1741.6M1725 1754.5L1696.9 1753.5M1725 1754.5L1696.9 1743.5M1725 1754.5L1728.8 1739.1M1725 1754.5L1738.1 1752.2M1789.2 1715L1805.6 1720M1789.2 1715L1760.9 1719.4M1789.2 1715L1806.5 1727.5M1789.2 1715L1770.2 1708.4M1547.5 1748.8L1554.4 1749.8M1547.5 1748.8L1548.8 1744.4M1547.5 1748.8L1558.1 1743.1M1547.5 1748.8L1565 1742.5M1517.5 1862.5L1529.4 1865M1517.5 1862.5L1546.2 1866.2M1517.5 1862.5L1546.9 1871.9M1553.8 1868.8L1547.5 1868.1M1553.8 1868.8L1564.4 1869.4M1553.8 1868.8L1565 1875M1553.8 1868.8L1579.4 1865.6M1807.5 1870L1803.4 1872.9M1807.5 1870L1821.9 1867.5M1807.5 1870L1810.6 1875M1807.5 1870L1835.9 1877.1M1590 2004.2L1585 2004.6M1590 2004.2L1585 2009M1692.5 1996.8L1678.1 2002.1M1692.5 1996.8L1680.6 2006.2M1692.5 1996.8L1720.6 1999M1692.5 1996.8L1720 2002.5M1771.8 2007.5L1760.2 2004.4M1771.8 2007.5L1759.6 2007.9M1771.8 2007.5L1788.4 2006.2M1517.5 2000.8L1534.4 2007.5M1517.5 2000.8L1532.5 2002.2M1517.5 2000.8L1548.8 2002.9M1556.2 2000L1553.8 2007.1M1556.2 2000L1551.9 2001.9M1556.2 2000L1568.1 2002.5M1556.2 2000L1568.1 2006.9M1628.2 1997.5L1635 1997.5M1628.2 1997.5L1632.2 2005.6M1628.2 1997.5L1604.1 2001.2M1628.2 1997.5L1604.1 2005.6M1628.2 1997.5L1646 2002.5M1628.2 1997.5L1648.5 2006.6M1802.5 2000L1811 2003.4M1802.5 2000L1775.6 2000.6M1802.5 2000L1775 2004.1M1802.5 2000L1803.8 2002.5M1802.5 2000L1822.5 2000.6M1802.5 2000L1825.4 2007.9" stroke="#c2c2a8" stroke-width="2.7" fill="none"/><path d="M1577.5 1741.6L1550 1740M1586.9 1740.4L1568.8 1737.5M1593.8 1739.8L1582.5 1736.2M1682.5 1744.1L1668.8 1752.5M1682.5 1734.1L1668.8 1732.5M1714.4 1729.8L1732.5 1723.8M1723.8 1742.9L1751.2 1750M1751.9 1735.4L1732.5 1723.8M1761.2 1748.5L1751.2 1750M1797.5 1743.5L1823.8 1740M1841.2 1739L1823.8 1740M1850 1742.8L1841.2 1747.5M1585.6 1871.2L1575 1870M1586.2 1876.9L1576.2 1881.2M1621.9 1866.6L1647.5 1860.8M1600.6 1867.5L1605 1862.5M1673.4 1868.8L1647.5 1860.8M1693.4 1873L1687.5 1869.2M1718 1875.2L1736.8 1873.8M1754.2 1871.2L1736.8 1873.8M1792.8 1874.4L1813.8 1880M1631.6 1735.4L1637.5 1720M1641.6 1744.8L1657.5 1738.8M1597.2 1744.1L1568.8 1737.5M1604.1 1743.5L1582.5 1736.2M1647.2 1751.6L1668.8 1752.5M1647.2 1741.6L1668.8 1732.5M1724.6 1741.6L1724.2 1728.8M1696.9 1753.5L1668.8 1752.5M1696.9 1743.5L1668.8 1732.5M1728.8 1739.1L1732.5 1723.8M1738.1 1752.2L1751.2 1750M1805.6 1720L1822 1725M1760.9 1719.4L1732.5 1723.8M1806.5 1727.5L1823.8 1740M1770.2 1708.4L1751.2 1701.8M1554.4 1749.8L1561.2 1750.8M1548.8 1744.4L1550 1740M1558.1 1743.1L1568.8 1737.5M1565 1742.5L1582.5 1736.2M1529.4 1865L1541.2 1867.5M1546.2 1866.2L1575 1870M1546.9 1871.9L1576.2 1881.2M1547.5 1868.1L1541.2 1867.5M1564.4 1869.4L1575 1870M1565 1875L1576.2 1881.2M1579.4 1865.6L1605 1862.5M1803.4 1872.9L1799.2 1875.8M1821.9 1867.5L1836.2 1865M1810.6 1875L1813.8 1880M1835.9 1877.1L1864.2 1884.2M1585 2004.6L1580 2005M1585 2009L1580 2013.8M1678.1 2002.1L1663.8 2007.5M1680.6 2006.2L1668.8 2015.8M1720.6 1999L1748.8 2001.2M1720 2002.5L1747.5 2008.2M1760.2 2004.4L1748.8 2001.2M1759.6 2007.9L1747.5 2008.2M1788.4 2006.2L1805 2005M1534.4 2007.5L1551.2 2014.2M1532.5 2002.2L1547.5 2003.8M1548.8 2002.9L1580 2005M1553.8 2007.1L1551.2 2014.2M1551.9 2001.9L1547.5 2003.8M1568.1 2002.5L1580 2005M1568.1 2006.9L1580 2013.8M1635 1997.5L1641.8 1997.5M1632.2 2005.6L1636.2 2013.8M1604.1 2001.2L1580 2005M1604.1 2005.6L1580 2013.8M1646 2002.5L1663.8 2007.5M1648.5 2006.6L1668.8 2015.8M1811 2003.4L1819.5 2006.8M1775.6 2000.6L1748.8 2001.2M1775 2004.1L1747.5 2008.2M1803.8 2002.5L1805 2005M1822.5 2000.6L1842.5 2001.2M1825.4 2007.9L1848.2 2015.8" stroke="#ecccd0" stroke-width="2.7" fill="none"/><path d="M1625.8 1750.8L1623.2 1780.8M1627.9 1841.6L1635 1872.5M1725 1754.5L1731.2 1784.8M1737.1 1844.4L1736.8 1873.8M1547.5 1748.8L1547.1 1778.5M1550.2 1838.5L1553.8 1868.8M1811.8 1818.2L1810.9 1831.6M1808.8 1857.5L1807.5 1870M1553.8 1868.8L1553.1 1903.5M1554.4 1969.1L1556.2 2000M1635 1872.5L1630.4 1906.2M1627 1968.8L1628.2 1997.5M1736.8 1873.8L1730 1906.9M1724.1 1971.2L1725 2002.5M1807.5 1870L1806.2 1905.9M1803.8 1970.9L1802.5 2000" stroke="#c2c2a8" stroke-width="3" fill="none"/><path d="M1623.2 1780.8L1620.8 1810.8M1620.8 1810.8L1627.9 1841.6M1731.2 1784.8L1737.5 1815M1737.5 1815L1737.1 1844.4M1547.1 1778.5L1546.8 1808.2M1546.8 1808.2L1550.2 1838.5M1810.9 1831.6L1810 1845M1810 1845L1808.8 1857.5M1553.1 1903.5L1552.5 1938.2M1552.5 1938.2L1554.4 1969.1M1630.4 1906.2L1625.8 1940M1625.8 1940L1627 1968.8M1730 1906.9L1723.2 1940M1723.2 1940L1724.1 1971.2M1806.2 1905.9L1805 1941.8M1805 1941.8L1803.8 1970.9" stroke="#ecccd0" stroke-width="3" fill="none"/><path d="M1518.8 2003L1519.2 2030M1555 2003L1555.5 2030M1591.2 2003L1591.8 2030M1627.5 2003L1628 2030M1725 2003L1725.5 2030M1770.5 2003L1771 2030M1800 2003L1800.5 2030" stroke="#b4b49a" stroke-width="3.2" fill="none"/>
<circle cx="1550" cy="1740" r="10.3" fill="url(#gIf)"/><circle cx="1568.8" cy="1737.5" r="10.3" fill="url(#gIf)"/><circle cx="1582.5" cy="1736.2" r="10.3" fill="url(#gIf)"/><circle cx="1668.8" cy="1752.5" r="10.3" fill="url(#gIf)"/><circle cx="1668.8" cy="1732.5" r="10.3" fill="url(#gIf)"/><circle cx="1732.5" cy="1723.8" r="10.3" fill="url(#gIf)"/><circle cx="1751.2" cy="1750" r="10.3" fill="url(#gIf)"/><circle cx="1823.8" cy="1740" r="10.3" fill="url(#gIf)"/><circle cx="1841.2" cy="1747.5" r="10.3" fill="url(#gIf)"/><circle cx="1751.2" cy="1701.8" r="10.3" fill="url(#gIf)"/><circle cx="1686.8" cy="1795" r="10.3" fill="url(#gIf)"/><circle cx="1546.8" cy="1808.2" r="10.3" fill="url(#gIf)"/><circle cx="1620.8" cy="1810.8" r="10.3" fill="url(#gIf)"/><circle cx="1811.8" cy="1818.2" r="10.3" fill="url(#gIf)"/><circle cx="1852.5" cy="1802.5" r="10.3" fill="url(#gIf)"/><circle cx="1575" cy="1870" r="10.3" fill="url(#gIf)"/><circle cx="1576.2" cy="1881.2" r="10.3" fill="url(#gIf)"/><circle cx="1647.5" cy="1860.8" r="10.3" fill="url(#gIf)"/><circle cx="1687.5" cy="1869.2" r="10.3" fill="url(#gIf)"/><circle cx="1736.8" cy="1873.8" r="10.3" fill="url(#gIf)"/><circle cx="1813.8" cy="1880" r="10.3" fill="url(#gIf)"/><circle cx="1864.2" cy="1884.2" r="10.3" fill="url(#gIf)"/><circle cx="1605" cy="1862.5" r="10.3" fill="url(#gIf)"/><circle cx="1552.5" cy="1938.2" r="10.3" fill="url(#gIf)"/><circle cx="1625.8" cy="1940" r="10.3" fill="url(#gIf)"/><circle cx="1723.2" cy="1940" r="10.3" fill="url(#gIf)"/><circle cx="1805" cy="1941.8" r="10.3" fill="url(#gIf)"/><circle cx="1580" cy="2005" r="10.3" fill="url(#gIf)"/><circle cx="1580" cy="2013.8" r="10.3" fill="url(#gIf)"/><circle cx="1663.8" cy="2007.5" r="10.3" fill="url(#gIf)"/><circle cx="1668.8" cy="2015.8" r="10.3" fill="url(#gIf)"/><circle cx="1748.8" cy="2001.2" r="10.3" fill="url(#gIf)"/><circle cx="1747.5" cy="2008.2" r="10.3" fill="url(#gIf)"/><circle cx="1805" cy="2005" r="10.3" fill="url(#gIf)"/><circle cx="1842.5" cy="2001.2" r="10.3" fill="url(#gIf)"/><circle cx="1848.2" cy="2015.8" r="10.3" fill="url(#gIf)"/><circle cx="1625.8" cy="1750.8" r="10.3" fill="url(#gPf)"/><circle cx="1725" cy="1754.5" r="10.3" fill="url(#gPf)"/><circle cx="1789.2" cy="1715" r="10.3" fill="url(#gPf)"/><circle cx="1547.5" cy="1748.8" r="10.3" fill="url(#gPf)"/><circle cx="1517.5" cy="1862.5" r="10.3" fill="url(#gPf)"/><circle cx="1553.8" cy="1868.8" r="10.3" fill="url(#gPf)"/><circle cx="1807.5" cy="1870" r="10.3" fill="url(#gPf)"/><circle cx="1517.5" cy="2000.8" r="10.3" fill="url(#gPf)"/><circle cx="1556.2" cy="2000" r="10.3" fill="url(#gPf)"/><circle cx="1628.2" cy="1997.5" r="10.3" fill="url(#gPf)"/><circle cx="1802.5" cy="2000" r="10.3" fill="url(#gPf)"/><circle cx="1698.2" cy="1621.8" r="8.3" fill="url(#gCf)"/><circle cx="1691.8" cy="1641.2" r="8.3" fill="url(#gCf)"/><circle cx="1716.8" cy="1658.8" r="8.3" fill="url(#gCf)"/><circle cx="1713.8" cy="1676.2" r="8.3" fill="url(#gCf)"/><circle cx="1763.8" cy="1642.5" r="8.3" fill="url(#gCf)"/><circle cx="1778.2" cy="1618.8" r="8.3" fill="url(#gCf)"/><circle cx="1904.2" cy="1624.5" r="8.3" fill="url(#gCf)"/><circle cx="1908.8" cy="1653.2" r="8.3" fill="url(#gCf)"/><circle cx="1886.2" cy="1671.2" r="8.3" fill="url(#gCf)"/><circle cx="1875" cy="1660" r="8.3" fill="url(#gCf)"/><circle cx="1840" cy="1660" r="8.3" fill="url(#gCf)"/><circle cx="1865" cy="1675" r="8.3" fill="url(#gCf)"/><circle cx="1826.2" cy="1676.2" r="8.3" fill="url(#gCf)"/><circle cx="1699.2" cy="1809.2" r="8.3" fill="url(#gCf)"/><circle cx="1596.8" cy="1808.8" r="8.3" fill="url(#gCf)"/><circle cx="1896.8" cy="1796.8" r="8.3" fill="url(#gCf)"/><circle cx="1606.8" cy="1947.5" r="8.3" fill="url(#gCf)"/><circle cx="1777.5" cy="1933.2" r="8.3" fill="url(#gCf)"/><circle cx="1890.8" cy="1936.8" r="8.3" fill="url(#gCf)"/><circle cx="1702.5" cy="1946.2" r="8.3" fill="url(#gCf)"/><circle cx="1606.8" cy="1780.8" r="7.6" fill="url(#gNf)"/><circle cx="1719.2" cy="1818.2" r="7.6" fill="url(#gNf)"/><circle cx="1776.8" cy="1794.2" r="7.6" fill="url(#gNf)"/><circle cx="1876.8" cy="1783.2" r="7.6" fill="url(#gNf)"/><circle cx="1581.2" cy="1932.5" r="7.6" fill="url(#gNf)"/><circle cx="1722.5" cy="1951.8" r="7.6" fill="url(#gNf)"/><circle cx="1758.8" cy="1956.2" r="7.6" fill="url(#gNf)"/><circle cx="1896.8" cy="1960" r="7.6" fill="url(#gNf)"/><circle cx="1737.5" cy="1639.2" r="7.5" fill="url(#gOf)"/><circle cx="1772" cy="1660.8" r="7.5" fill="url(#gOf)"/><circle cx="1881.8" cy="1688.2" r="7.5" fill="url(#gOf)"/><circle cx="1863.8" cy="1667.5" r="7.5" fill="url(#gOf)"/>
<path d="M1532.5 1653.8L1543.1 1661.9M1543.1 1661.9L1553.8 1670M1553.8 1670L1566.6 1676.9M1566.6 1676.9L1579.5 1683.8M1553.8 1670L1566.5 1665.2M1592.5 1668.8L1606.6 1663.1M1606.6 1663.1L1620.8 1657.5M1592.5 1668.8L1586 1676.2M1586 1676.2L1579.5 1683.8M1592.5 1668.8L1585.9 1664.6M1579.5 1683.8L1579.4 1672.1M1842.5 1602.5L1845 1611.2M1845 1611.2L1847.5 1620M1847.5 1620L1848.8 1634.4M1848.8 1634.4L1850 1648.8M1850 1648.8L1851.2 1658.4M1851.2 1658.4L1852.5 1668M1850 1648.8L1837.9 1651.5M1852.5 1668L1850.4 1678.4M1570.4 1811.6L1582 1819.5M1684 1802.5L1681.2 1816.8M1755.4 1802.2L1760 1792.5M1859.6 1795.2L1856.8 1806.8M1587.8 1931.2L1588.8 1946.2M1673.8 1944.4L1681.8 1951.2M1761 1939.1L1753.8 1933.2" stroke="#303030" stroke-width="3.6" fill="none"/><path d="M1566.5 1665.2L1579.2 1660.5M1585.9 1664.6L1579.2 1660.5M1579.4 1672.1L1579.2 1660.5M1837.9 1651.5L1825.8 1654.2M1850.4 1678.4L1848.2 1688.8" stroke="#e02020" stroke-width="3.6" fill="none"/><path d="M1558.8 1803.8L1570.4 1811.6M1686.8 1788.2L1684 1802.5M1750.8 1812L1755.4 1802.2M1862.5 1783.8L1859.6 1795.2M1586.8 1916.2L1587.8 1931.2M1665.8 1937.5L1673.8 1944.4M1768.2 1945L1761 1939.1" stroke="#1a2ad8" stroke-width="3.6" fill="none"/><path d="M1542.5 1636.2L1537.5 1645M1516.2 1647.5L1524.4 1650.6M1520 1665L1526.2 1659.4M1551.2 1648.8L1541.9 1651.2M1534.2 1678.8L1544 1674.4M1554.5 1692.5L1554.1 1681.2M1619.2 1637L1620 1647.2M1631.8 1666.2L1626.2 1661.9M1574.2 1703.8L1576.9 1693.8M1597.5 1682.5L1595 1675.6M1583.8 1675L1581.6 1679.4M1825.8 1588.8L1834.1 1595.6M1860.8 1593.2L1851.6 1597.9M1832.5 1616.2L1840 1618.1M1867.5 1616.8L1857.5 1618.4M1866.8 1640.8L1858.4 1644.8M1784.2 1680L1792.1 1682.2M1795 1675L1797.5 1679.8M1800.8 1705L1800.4 1694.8M1549.2 1792.5L1554 1798.1M1566.2 1790L1562.5 1796.9M1546.2 1815L1552.5 1809.4M1574.2 1832.5L1578.1 1826M1588.2 1832.5L1585.1 1826M1670 1777L1678.4 1782.6M1703.2 1778.8L1695 1783.5M1705 1790.8L1695.9 1789.5M1660 1818.2L1670.6 1817.5M1688.2 1830.8L1684.8 1823.8M1748.2 1775L1754.1 1783.8M1745 1792.5L1752.5 1792.5M1737.5 1803.8L1744.1 1807.9M1766.2 1819.2L1758.5 1815.6M1739.2 1827.5L1745 1819.8M1846.2 1775L1854.4 1779.4M1838.8 1816.2L1847.8 1811.5M1873.2 1822.5L1865 1814.6M1573.2 1910.8L1580 1913.5M1605.8 1907.5L1596.2 1911.9M1577.5 1910L1582.1 1913.1M1567.5 1953.8L1578.1 1950M1650.8 1925L1658.2 1931.2M1677.5 1925L1671.6 1931.2M1654.2 1951.2L1660 1944.4M1670 1967.5L1675.9 1959.4M1682.5 1936.2L1682.1 1943.8M1761.8 1914.2L1757.8 1923.8M1842.5 1921.2L1850.6 1927.8M1850.8 1917.5L1854.8 1925.9M1850 1951.2L1854.4 1942.8M1870.8 1942.5L1864.8 1938.4" stroke="#bdbdbd" stroke-width="2.6" fill="none"/><path d="M1537.5 1645L1532.5 1653.8M1524.4 1650.6L1532.5 1653.8M1526.2 1659.4L1532.5 1653.8M1541.9 1651.2L1532.5 1653.8M1544 1674.4L1553.8 1670M1554.1 1681.2L1553.8 1670M1620 1647.2L1620.8 1657.5M1626.2 1661.9L1620.8 1657.5M1576.9 1693.8L1579.5 1683.8M1595 1675.6L1592.5 1668.8M1581.6 1679.4L1579.5 1683.8M1834.1 1595.6L1842.5 1602.5M1851.6 1597.9L1842.5 1602.5M1840 1618.1L1847.5 1620M1857.5 1618.4L1847.5 1620M1858.4 1644.8L1850 1648.8M1792.1 1682.2L1800 1684.5M1797.5 1679.8L1800 1684.5M1800.4 1694.8L1800 1684.5M1578.1 1826L1582 1819.5M1585.1 1826L1582 1819.5M1670.6 1817.5L1681.2 1816.8M1684.8 1823.8L1681.2 1816.8M1754.1 1783.8L1760 1792.5M1752.5 1792.5L1760 1792.5M1847.8 1811.5L1856.8 1806.8M1865 1814.6L1856.8 1806.8M1578.1 1950L1588.8 1946.2M1675.9 1959.4L1681.8 1951.2M1682.1 1943.8L1681.8 1951.2M1757.8 1923.8L1753.8 1933.2M1850.6 1927.8L1858.8 1934.2M1854.8 1925.9L1858.8 1934.2M1854.4 1942.8L1858.8 1934.2M1864.8 1938.4L1858.8 1934.2" stroke="#303030" stroke-width="2.6" fill="none"/><path d="M1554 1798.1L1558.8 1803.8M1562.5 1796.9L1558.8 1803.8M1552.5 1809.4L1558.8 1803.8M1678.4 1782.6L1686.8 1788.2M1695 1783.5L1686.8 1788.2M1695.9 1789.5L1686.8 1788.2M1744.1 1807.9L1750.8 1812M1758.5 1815.6L1750.8 1812M1745 1819.8L1750.8 1812M1854.4 1779.4L1862.5 1783.8M1580 1913.5L1586.8 1916.2M1596.2 1911.9L1586.8 1916.2M1582.1 1913.1L1586.8 1916.2M1658.2 1931.2L1665.8 1937.5M1671.6 1931.2L1665.8 1937.5M1660 1944.4L1665.8 1937.5" stroke="#1a2ad8" stroke-width="2.6" fill="none"/><path d="M1605 1743.2L1621.2 1731.6M1605 1743.2L1631.2 1741M1605 1743.2L1583.1 1747M1696.2 1735.8L1666.9 1727.9M1696.2 1735.8L1676.9 1737.2M1696.2 1735.8L1710.2 1732.2M1771.2 1747L1747.8 1737.9M1771.2 1747L1796.6 1736M1771.2 1747L1791.2 1749.1M1858.8 1738L1840.4 1731.5M1858.8 1738L1835 1744.6M1596.2 1872.5L1568.8 1870M1596.2 1872.5L1613.4 1870.6M1596.2 1872.5L1622.5 1880M1699.2 1876.8L1674 1882.1M1699.2 1876.8L1710.2 1885.5M1699.2 1876.8L1724.6 1862.1M1771.8 1868.8L1746.5 1881.5M1771.8 1868.8L1760.9 1858.1M1771.8 1868.8L1785.5 1872.2M1590 2004.2L1570.6 2009.2M1590 2004.2L1615.9 2000.9M1590 2004.2L1613.1 2009M1590 2004.2L1568.8 2004M1692.5 1996.8L1667.1 1997.1M1692.5 1996.8L1711 1997.1M1692.5 1996.8L1664.4 2005.2M1692.5 1996.8L1707.9 2005.2M1771.8 2007.5L1750.6 2002.5M1771.8 2007.5L1747.5 2010.6M1771.8 2007.5L1795.6 2007.1" stroke="#9c9c74" stroke-width="2.7" fill="none"/><path d="M1621.2 1731.6L1637.5 1720M1631.2 1741L1657.5 1738.8M1583.1 1747L1561.2 1750.8M1666.9 1727.9L1637.5 1720M1676.9 1737.2L1657.5 1738.8M1710.2 1732.2L1724.2 1728.8M1747.8 1737.9L1724.2 1728.8M1796.6 1736L1822 1725M1791.2 1749.1L1811.2 1751.2M1840.4 1731.5L1822 1725M1835 1744.6L1811.2 1751.2M1568.8 1870L1541.2 1867.5M1613.4 1870.6L1630.5 1868.8M1622.5 1880L1648.8 1887.5M1674 1882.1L1648.8 1887.5M1710.2 1885.5L1721.2 1894.2M1724.6 1862.1L1750 1847.5M1746.5 1881.5L1721.2 1894.2M1760.9 1858.1L1750 1847.5M1785.5 1872.2L1799.2 1875.8M1570.6 2009.2L1551.2 2014.2M1615.9 2000.9L1641.8 1997.5M1613.1 2009L1636.2 2013.8M1568.8 2004L1547.5 2003.8M1667.1 1997.1L1641.8 1997.5M1711 1997.1L1729.5 1997.5M1664.4 2005.2L1636.2 2013.8M1707.9 2005.2L1723.2 2013.8M1750.6 2002.5L1729.5 1997.5M1747.5 2010.6L1723.2 2013.8M1795.6 2007.1L1819.5 2006.8" stroke="#e0aeb3" stroke-width="2.7" fill="none"/><path d="M1605 1743.2L1604.6 1773.5M1600.2 1838.1L1596.2 1872.5M1696.2 1735.8L1691.5 1765.4M1693 1835.9L1699.2 1876.8M1771.2 1747L1775.2 1776.9M1775.5 1837.8L1771.8 1868.8M1858.8 1738L1855.6 1770.2M1854.6 1804.6L1856.8 1806.8M1596.2 1872.5L1595.6 1903.8M1592.5 1969.6L1590 2004.2M1699.2 1876.8L1697.8 1906.2M1694.4 1966.2L1692.5 1996.8M1771.8 1868.8L1778 1905.2M1778 1974.6L1771.8 2007.5M1517.5 1862.5L1518.4 1897.9M1518.4 1967L1517.5 2000.8M1856.2 1725L1858.8 1737.5" stroke="#9c9c74" stroke-width="3" fill="none"/><path d="M1604.6 1773.5L1604.2 1803.8M1604.2 1803.8L1600.2 1838.1M1691.5 1765.4L1686.8 1795M1686.8 1795L1693 1835.9M1775.2 1776.9L1779.2 1806.8M1779.2 1806.8L1775.5 1837.8M1855.6 1770.2L1852.5 1802.5M1852.5 1802.5L1854.6 1804.6M1595.6 1903.8L1595 1935M1595 1935L1592.5 1969.6M1697.8 1906.2L1696.2 1935.8M1696.2 1935.8L1694.4 1966.2M1778 1905.2L1784.2 1941.8M1784.2 1941.8L1778 1974.6M1518.4 1897.9L1519.2 1933.2M1519.2 1933.2L1518.4 1967" stroke="#e0aeb3" stroke-width="3" fill="none"/><path d="M1848.2 1688.8L1851 1700.6M1851 1700.6L1853.8 1712.5M1853.8 1712.5L1856.2 1725" stroke="#e02020" stroke-width="3" fill="none"/>
<circle cx="1637.5" cy="1720" r="10.3" fill="url(#gI)"/><circle cx="1657.5" cy="1738.8" r="10.3" fill="url(#gI)"/><circle cx="1561.2" cy="1750.8" r="10.3" fill="url(#gI)"/><circle cx="1724.2" cy="1728.8" r="10.3" fill="url(#gI)"/><circle cx="1822" cy="1725" r="10.3" fill="url(#gI)"/><circle cx="1811.2" cy="1751.2" r="10.3" fill="url(#gI)"/><circle cx="1604.2" cy="1803.8" r="10.3" fill="url(#gI)"/><circle cx="1779.2" cy="1806.8" r="10.3" fill="url(#gI)"/><circle cx="1541.2" cy="1867.5" r="10.3" fill="url(#gI)"/><circle cx="1630.5" cy="1868.8" r="10.3" fill="url(#gI)"/><circle cx="1648.8" cy="1887.5" r="10.3" fill="url(#gI)"/><circle cx="1721.2" cy="1894.2" r="10.3" fill="url(#gI)"/><circle cx="1750" cy="1847.5" r="10.3" fill="url(#gI)"/><circle cx="1799.2" cy="1875.8" r="10.3" fill="url(#gI)"/><circle cx="1836.2" cy="1865" r="10.3" fill="url(#gI)"/><circle cx="1519.2" cy="1933.2" r="10.3" fill="url(#gI)"/><circle cx="1696.2" cy="1935.8" r="10.3" fill="url(#gI)"/><circle cx="1784.2" cy="1941.8" r="10.3" fill="url(#gI)"/><circle cx="1595" cy="1935" r="10.3" fill="url(#gI)"/><circle cx="1551.2" cy="2014.2" r="10.3" fill="url(#gI)"/><circle cx="1641.8" cy="1997.5" r="10.3" fill="url(#gI)"/><circle cx="1729.5" cy="1997.5" r="10.3" fill="url(#gI)"/><circle cx="1636.2" cy="2013.8" r="10.3" fill="url(#gI)"/><circle cx="1723.2" cy="2013.8" r="10.3" fill="url(#gI)"/><circle cx="1819.5" cy="2006.8" r="10.3" fill="url(#gI)"/><circle cx="1547.5" cy="2003.8" r="10.3" fill="url(#gI)"/><circle cx="1605" cy="1743.2" r="10.3" fill="url(#gP)"/><circle cx="1696.2" cy="1735.8" r="10.3" fill="url(#gP)"/><circle cx="1771.2" cy="1747" r="10.3" fill="url(#gP)"/><circle cx="1858.8" cy="1738" r="10.3" fill="url(#gP)"/><circle cx="1596.2" cy="1872.5" r="10.3" fill="url(#gP)"/><circle cx="1699.2" cy="1876.8" r="10.3" fill="url(#gP)"/><circle cx="1771.8" cy="1868.8" r="10.3" fill="url(#gP)"/><circle cx="1590" cy="2004.2" r="10.3" fill="url(#gP)"/><circle cx="1692.5" cy="1996.8" r="10.3" fill="url(#gP)"/><circle cx="1771.8" cy="2007.5" r="10.3" fill="url(#gP)"/><circle cx="1532.5" cy="1653.8" r="8.3" fill="url(#gC)"/><circle cx="1553.8" cy="1670" r="8.3" fill="url(#gC)"/><circle cx="1592.5" cy="1668.8" r="8.3" fill="url(#gC)"/><circle cx="1620.8" cy="1657.5" r="8.3" fill="url(#gC)"/><circle cx="1579.5" cy="1683.8" r="8.3" fill="url(#gC)"/><circle cx="1842.5" cy="1602.5" r="8.3" fill="url(#gC)"/><circle cx="1847.5" cy="1620" r="8.3" fill="url(#gC)"/><circle cx="1850" cy="1648.8" r="8.3" fill="url(#gC)"/><circle cx="1852.5" cy="1668" r="8.3" fill="url(#gC)"/><circle cx="1800" cy="1684.5" r="8.3" fill="url(#gC)"/><circle cx="1582" cy="1819.5" r="8.3" fill="url(#gC)"/><circle cx="1681.2" cy="1816.8" r="8.3" fill="url(#gC)"/><circle cx="1760" cy="1792.5" r="8.3" fill="url(#gC)"/><circle cx="1856.8" cy="1806.8" r="8.3" fill="url(#gC)"/><circle cx="1588.8" cy="1946.2" r="8.3" fill="url(#gC)"/><circle cx="1681.8" cy="1951.2" r="8.3" fill="url(#gC)"/><circle cx="1753.8" cy="1933.2" r="8.3" fill="url(#gC)"/><circle cx="1858.8" cy="1934.2" r="8.3" fill="url(#gC)"/><circle cx="1558.8" cy="1803.8" r="7.6" fill="url(#gN)"/><circle cx="1686.8" cy="1788.2" r="7.6" fill="url(#gN)"/><circle cx="1750.8" cy="1812" r="7.6" fill="url(#gN)"/><circle cx="1862.5" cy="1783.8" r="7.6" fill="url(#gN)"/><circle cx="1586.8" cy="1916.2" r="7.6" fill="url(#gN)"/><circle cx="1665.8" cy="1937.5" r="7.6" fill="url(#gN)"/><circle cx="1768.2" cy="1945" r="7.6" fill="url(#gN)"/><circle cx="1579.2" cy="1660.5" r="7.5" fill="url(#gO)"/><circle cx="1825.8" cy="1654.2" r="7.5" fill="url(#gO)"/><circle cx="1848.2" cy="1688.8" r="7.5" fill="url(#gO)"/><circle cx="1542.5" cy="1636.2" r="4.6" fill="url(#gH)"/><circle cx="1516.2" cy="1647.5" r="4.6" fill="url(#gH)"/><circle cx="1520" cy="1665" r="4.6" fill="url(#gH)"/><circle cx="1551.2" cy="1648.8" r="4.6" fill="url(#gH)"/><circle cx="1534.2" cy="1678.8" r="4.6" fill="url(#gH)"/><circle cx="1554.5" cy="1692.5" r="4.6" fill="url(#gH)"/><circle cx="1619.2" cy="1637" r="4.6" fill="url(#gH)"/><circle cx="1631.8" cy="1666.2" r="4.6" fill="url(#gH)"/><circle cx="1574.2" cy="1703.8" r="4.6" fill="url(#gH)"/><circle cx="1597.5" cy="1682.5" r="4.6" fill="url(#gH)"/><circle cx="1583.8" cy="1675" r="4.6" fill="url(#gH)"/><circle cx="1681.2" cy="1608.8" r="4.6" fill="url(#gH)"/><circle cx="1717.5" cy="1614.2" r="4.6" fill="url(#gH)"/><circle cx="1675" cy="1656.2" r="4.6" fill="url(#gH)"/><circle cx="1695" cy="1687.5" r="4.6" fill="url(#gH)"/><circle cx="1730" cy="1691.2" r="4.6" fill="url(#gH)"/><circle cx="1762.5" cy="1608.2" r="4.6" fill="url(#gH)"/><circle cx="1787.5" cy="1610" r="4.6" fill="url(#gH)"/><circle cx="1793.8" cy="1623.8" r="4.6" fill="url(#gH)"/><circle cx="1686.2" cy="1632.5" r="4.6" fill="url(#gH)"/><circle cx="1722.5" cy="1671.2" r="4.6" fill="url(#gH)"/><circle cx="1825.8" cy="1588.8" r="4.6" fill="url(#gH)"/><circle cx="1860.8" cy="1593.2" r="4.6" fill="url(#gH)"/><circle cx="1832.5" cy="1616.2" r="4.6" fill="url(#gH)"/><circle cx="1867.5" cy="1616.8" r="4.6" fill="url(#gH)"/><circle cx="1866.8" cy="1640.8" r="4.6" fill="url(#gH)"/><circle cx="1865" cy="1658" r="4.6" fill="url(#gH)"/><circle cx="1862.5" cy="1685.5" r="4.6" fill="url(#gH)"/><circle cx="1784.2" cy="1680" r="4.6" fill="url(#gH)"/><circle cx="1795" cy="1675" r="4.6" fill="url(#gH)"/><circle cx="1800.8" cy="1705" r="4.6" fill="url(#gH)"/><circle cx="1883.8" cy="1623" r="4.6" fill="url(#gH)"/><circle cx="1920" cy="1617.5" r="4.6" fill="url(#gH)"/><circle cx="1905" cy="1613.8" r="4.6" fill="url(#gH)"/><circle cx="1927.5" cy="1656.2" r="4.6" fill="url(#gH)"/><circle cx="1915" cy="1662.5" r="4.6" fill="url(#gH)"/><circle cx="1892.5" cy="1690" r="4.6" fill="url(#gH)"/><circle cx="1549.2" cy="1792.5" r="4.6" fill="url(#gH)"/><circle cx="1566.2" cy="1790" r="4.6" fill="url(#gH)"/><circle cx="1546.2" cy="1815" r="4.6" fill="url(#gH)"/><circle cx="1591.2" cy="1768.2" r="4.6" fill="url(#gH)"/><circle cx="1620.8" cy="1777.5" r="4.6" fill="url(#gH)"/><circle cx="1597.5" cy="1805" r="4.6" fill="url(#gH)"/><circle cx="1615" cy="1820.8" r="4.6" fill="url(#gH)"/><circle cx="1574.2" cy="1832.5" r="4.6" fill="url(#gH)"/><circle cx="1588.2" cy="1832.5" r="4.6" fill="url(#gH)"/><circle cx="1670" cy="1777" r="4.6" fill="url(#gH)"/><circle cx="1703.2" cy="1778.8" r="4.6" fill="url(#gH)"/><circle cx="1705" cy="1790.8" r="4.6" fill="url(#gH)"/><circle cx="1660" cy="1818.2" r="4.6" fill="url(#gH)"/><circle cx="1695" cy="1819.2" r="4.6" fill="url(#gH)"/><circle cx="1688.2" cy="1830.8" r="4.6" fill="url(#gH)"/><circle cx="1700" cy="1825" r="4.6" fill="url(#gH)"/><circle cx="1716.8" cy="1838.2" r="4.6" fill="url(#gH)"/><circle cx="1748.2" cy="1775" r="4.6" fill="url(#gH)"/><circle cx="1773.2" cy="1775.8" r="4.6" fill="url(#gH)"/><circle cx="1793.8" cy="1783.2" r="4.6" fill="url(#gH)"/><circle cx="1745" cy="1792.5" r="4.6" fill="url(#gH)"/><circle cx="1737.5" cy="1803.8" r="4.6" fill="url(#gH)"/><circle cx="1766.2" cy="1819.2" r="4.6" fill="url(#gH)"/><circle cx="1739.2" cy="1827.5" r="4.6" fill="url(#gH)"/><circle cx="1846.2" cy="1775" r="4.6" fill="url(#gH)"/><circle cx="1880" cy="1770" r="4.6" fill="url(#gH)"/><circle cx="1871.2" cy="1790.8" r="4.6" fill="url(#gH)"/><circle cx="1913.2" cy="1784.2" r="4.6" fill="url(#gH)"/><circle cx="1838.8" cy="1816.2" r="4.6" fill="url(#gH)"/><circle cx="1886.2" cy="1802.5" r="4.6" fill="url(#gH)"/><circle cx="1873.2" cy="1822.5" r="4.6" fill="url(#gH)"/><circle cx="1902.5" cy="1816.8" r="4.6" fill="url(#gH)"/><circle cx="1573.2" cy="1910.8" r="4.6" fill="url(#gH)"/><circle cx="1605.8" cy="1907.5" r="4.6" fill="url(#gH)"/><circle cx="1577.5" cy="1910" r="4.6" fill="url(#gH)"/><circle cx="1565" cy="1942.5" r="4.6" fill="url(#gH)"/><circle cx="1567.5" cy="1953.8" r="4.6" fill="url(#gH)"/><circle cx="1601.2" cy="1952.5" r="4.6" fill="url(#gH)"/><circle cx="1625" cy="1938.8" r="4.6" fill="url(#gH)"/><circle cx="1650.8" cy="1925" r="4.6" fill="url(#gH)"/><circle cx="1677.5" cy="1925" r="4.6" fill="url(#gH)"/><circle cx="1654.2" cy="1951.2" r="4.6" fill="url(#gH)"/><circle cx="1670" cy="1967.5" r="4.6" fill="url(#gH)"/><circle cx="1701.8" cy="1956.2" r="4.6" fill="url(#gH)"/><circle cx="1682.5" cy="1936.2" r="4.6" fill="url(#gH)"/><circle cx="1732.5" cy="1935" r="4.6" fill="url(#gH)"/><circle cx="1761.8" cy="1914.2" r="4.6" fill="url(#gH)"/><circle cx="1774.2" cy="1917.5" r="4.6" fill="url(#gH)"/><circle cx="1737.5" cy="1951.2" r="4.6" fill="url(#gH)"/><circle cx="1750" cy="1951.2" r="4.6" fill="url(#gH)"/><circle cx="1764.2" cy="1965" r="4.6" fill="url(#gH)"/><circle cx="1788.8" cy="1943.8" r="4.6" fill="url(#gH)"/><circle cx="1797.5" cy="1943.8" r="4.6" fill="url(#gH)"/><circle cx="1842.5" cy="1921.2" r="4.6" fill="url(#gH)"/><circle cx="1850.8" cy="1917.5" r="4.6" fill="url(#gH)"/><circle cx="1889.2" cy="1918.2" r="4.6" fill="url(#gH)"/><circle cx="1876.2" cy="1926.2" r="4.6" fill="url(#gH)"/><circle cx="1850" cy="1951.2" r="4.6" fill="url(#gH)"/><circle cx="1870.8" cy="1942.5" r="4.6" fill="url(#gH)"/><circle cx="1905" cy="1937.5" r="4.6" fill="url(#gH)"/><circle cx="1912.5" cy="1956.2" r="4.6" fill="url(#gH)"/><circle cx="1880" cy="1966.2" r="4.6" fill="url(#gH)"/><circle cx="1716.2" cy="1965" r="4.6" fill="url(#gH)"/><circle cx="1737.5" cy="1962.5" r="4.6" fill="url(#gH)"/><circle cx="1602.5" cy="1967.5" r="4.6" fill="url(#gH)"/><circle cx="1761.2" cy="1971.2" r="4.6" fill="url(#gH)"/><circle cx="1902.5" cy="1976.2" r="4.6" fill="url(#gH)"/>
</g>
<text x="1645" y="2073.8" font-size="41.1" textLength="95" lengthAdjust="spacingAndGlyphs">15 ps</text>
<radialGradient id="lC" cx="0.5" cy="0.5" r="0.66" fx="0.4" fy="0.3"><stop offset="0" stop-color="#5e5e5e"/><stop offset="0.4" stop-color="#1c1c1c"/><stop offset="0.8" stop-color="#050505"/><stop offset="1" stop-color="#000"/></radialGradient>
<radialGradient id="lH" cx="0.5" cy="0.5" r="0.66" fx="0.34" fy="0.36"><stop offset="0" stop-color="#ffffff"/><stop offset="0.4" stop-color="#ededed"/><stop offset="0.8" stop-color="#b0b0b0"/><stop offset="1" stop-color="#8a8a8a"/></radialGradient>
<radialGradient id="lO" cx="0.5" cy="0.5" r="0.66" fx="0.36" fy="0.34"><stop offset="0" stop-color="#ff8c8c"/><stop offset="0.4" stop-color="#dc3c3c"/><stop offset="0.8" stop-color="#a82424"/><stop offset="1" stop-color="#8c1c1c"/></radialGradient>
<radialGradient id="lN" cx="0.5" cy="0.5" r="0.66" fx="0.66" fy="0.3"><stop offset="0" stop-color="#9c9cf4"/><stop offset="0.4" stop-color="#6060d4"/><stop offset="0.8" stop-color="#4040ac"/><stop offset="1" stop-color="#343494"/></radialGradient>
<radialGradient id="lP" cx="0.5" cy="0.5" r="0.66" fx="0.7" fy="0.3"><stop offset="0" stop-color="#94946a"/><stop offset="0.4" stop-color="#626242"/><stop offset="0.8" stop-color="#444430"/><stop offset="1" stop-color="#38381f"/></radialGradient>
<radialGradient id="lI" cx="0.5" cy="0.5" r="0.66" fx="0.68" fy="0.3"><stop offset="0" stop-color="#ffe4e6"/><stop offset="0.4" stop-color="#e4a6ac"/><stop offset="0.8" stop-color="#bc7e86"/><stop offset="1" stop-color="#a46a72"/></radialGradient>
<circle cx="1058.2" cy="2142.2" r="28" fill="url(#lC)"/>
<text x="1098.9" y="2159" font-size="41.1">C</text>
<circle cx="1206.6" cy="2142.2" r="17.8" fill="url(#lH)"/>
<text x="1241.8" y="2159" font-size="41.1">H</text>
<circle cx="1351.2" cy="2142.2" r="19" fill="url(#lO)"/>
<text x="1383.7" y="2159" font-size="41.1">O</text>
<circle cx="1496.9" cy="2142.2" r="22.7" fill="url(#lN)"/>
<text x="1533.7" y="2159" font-size="41.1">N</text>
<circle cx="1652.2" cy="2142.2" r="32.4" fill="url(#lP)"/>
<text x="1699.4" y="2159" font-size="41.1">Pb</text>
<circle cx="1841" cy="2142.2" r="32.4" fill="url(#lI)"/>
<text x="1887.8" y="2159" font-size="41.1">I</text>
<text x="-0.5" y="1502.5" font-size="43.5" font-weight="bold">g</text>
</svg>
</body></html>
